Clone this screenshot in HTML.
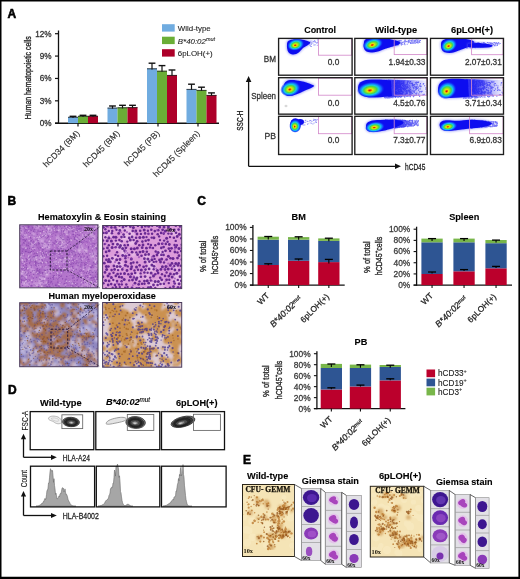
<!DOCTYPE html>
<html><head><meta charset="utf-8"><style>
html,body{margin:0;padding:0;background:#fff;}
body{width:520px;height:579px;overflow:hidden;}
svg{display:block;font-family:"Liberation Sans",sans-serif;will-change:transform;}
</style></head><body>
<svg width="520" height="579" viewBox="0 0 520 579">
<text x="7.5" y="17.6" font-size="12" font-weight="bold" font-style="normal" text-anchor="start" fill="#000" stroke="#000" stroke-width="0.55" >A</text>
<line x1="58.5" y1="30.5" x2="58.5" y2="123.9" stroke="#111" stroke-width="1.3"/>
<line x1="55" y1="123.2" x2="219" y2="123.2" stroke="#111" stroke-width="1.4"/>
<line x1="55" y1="123.2" x2="58.5" y2="123.2" stroke="#111" stroke-width="1.2"/>
<text x="51.6" y="126.10000000000001" font-size="8.2" font-weight="normal" font-style="normal" text-anchor="end" fill="#333" stroke="#333" stroke-width="0.28" >0%</text>
<line x1="55" y1="100.825" x2="58.5" y2="100.825" stroke="#111" stroke-width="1.2"/>
<text x="51.6" y="103.72500000000001" font-size="8.2" font-weight="normal" font-style="normal" text-anchor="end" fill="#333" stroke="#333" stroke-width="0.28" >3%</text>
<line x1="55" y1="78.45" x2="58.5" y2="78.45" stroke="#111" stroke-width="1.2"/>
<text x="51.6" y="81.35000000000001" font-size="8.2" font-weight="normal" font-style="normal" text-anchor="end" fill="#333" stroke="#333" stroke-width="0.28" >6%</text>
<line x1="55" y1="56.075" x2="58.5" y2="56.075" stroke="#111" stroke-width="1.2"/>
<text x="51.6" y="58.975" font-size="8.2" font-weight="normal" font-style="normal" text-anchor="end" fill="#333" stroke="#333" stroke-width="0.28" >9%</text>
<line x1="55" y1="33.7" x2="58.5" y2="33.7" stroke="#111" stroke-width="1.2"/>
<text x="51.6" y="36.6" font-size="8.2" font-weight="normal" font-style="normal" text-anchor="end" fill="#333" stroke="#333" stroke-width="0.28" >12%</text>
<text x="0" y="0" font-size="8.2" font-weight="normal" text-anchor="middle" fill="#222" stroke="#222" stroke-width="0.3" transform="translate(30.8,77.7) rotate(-90)" textLength="83" lengthAdjust="spacingAndGlyphs">Human hematopoietic cells</text>
<rect x="68" y="116.9" width="10" height="6.299999999999997" fill="#70ace0" stroke="none" stroke-width="1" />
<line x1="73" y1="116.3" x2="73" y2="117.9" stroke="#111" stroke-width="1.2"/>
<line x1="69.6" y1="116.3" x2="76.4" y2="116.3" stroke="#111" stroke-width="1.4"/>
<line x1="68" y1="117.30000000000001" x2="78" y2="117.30000000000001" stroke="#222" stroke-width="0.8"/>
<rect x="78" y="115.9" width="10" height="7.299999999999997" fill="#6aae36" stroke="none" stroke-width="1" />
<line x1="83" y1="115.3" x2="83" y2="116.9" stroke="#111" stroke-width="1.2"/>
<line x1="79.6" y1="115.3" x2="86.4" y2="115.3" stroke="#111" stroke-width="1.4"/>
<line x1="78" y1="116.30000000000001" x2="88" y2="116.30000000000001" stroke="#222" stroke-width="0.8"/>
<rect x="88" y="115.9" width="10" height="7.299999999999997" fill="#ad0029" stroke="none" stroke-width="1" />
<line x1="93" y1="115.3" x2="93" y2="116.9" stroke="#111" stroke-width="1.2"/>
<line x1="89.6" y1="115.3" x2="96.4" y2="115.3" stroke="#111" stroke-width="1.4"/>
<line x1="88" y1="116.30000000000001" x2="98" y2="116.30000000000001" stroke="#222" stroke-width="0.8"/>
<rect x="107.5" y="107.7" width="10" height="15.5" fill="#70ace0" stroke="none" stroke-width="1" />
<line x1="112.5" y1="106" x2="112.5" y2="108.7" stroke="#111" stroke-width="1.2"/>
<line x1="109.1" y1="106" x2="115.9" y2="106" stroke="#111" stroke-width="1.4"/>
<line x1="107.5" y1="108.10000000000001" x2="117.5" y2="108.10000000000001" stroke="#222" stroke-width="0.8"/>
<rect x="117.5" y="107.4" width="10" height="15.799999999999997" fill="#6aae36" stroke="none" stroke-width="1" />
<line x1="122.5" y1="105.3" x2="122.5" y2="108.4" stroke="#111" stroke-width="1.2"/>
<line x1="119.1" y1="105.3" x2="125.9" y2="105.3" stroke="#111" stroke-width="1.4"/>
<line x1="117.5" y1="107.80000000000001" x2="127.5" y2="107.80000000000001" stroke="#222" stroke-width="0.8"/>
<rect x="127.5" y="107.2" width="10" height="16.0" fill="#ad0029" stroke="none" stroke-width="1" />
<line x1="132.5" y1="105.3" x2="132.5" y2="108.2" stroke="#111" stroke-width="1.2"/>
<line x1="129.1" y1="105.3" x2="135.9" y2="105.3" stroke="#111" stroke-width="1.4"/>
<line x1="127.5" y1="107.60000000000001" x2="137.5" y2="107.60000000000001" stroke="#222" stroke-width="0.8"/>
<rect x="147" y="68.4" width="10" height="54.8" fill="#70ace0" stroke="none" stroke-width="1" />
<line x1="152" y1="63.2" x2="152" y2="69.4" stroke="#111" stroke-width="1.2"/>
<line x1="148.6" y1="63.2" x2="155.4" y2="63.2" stroke="#111" stroke-width="1.4"/>
<line x1="147" y1="68.80000000000001" x2="157" y2="68.80000000000001" stroke="#222" stroke-width="0.8"/>
<rect x="157" y="70.8" width="10" height="52.400000000000006" fill="#6aae36" stroke="none" stroke-width="1" />
<line x1="162" y1="65.6" x2="162" y2="71.8" stroke="#111" stroke-width="1.2"/>
<line x1="158.6" y1="65.6" x2="165.4" y2="65.6" stroke="#111" stroke-width="1.4"/>
<line x1="157" y1="71.2" x2="167" y2="71.2" stroke="#222" stroke-width="0.8"/>
<rect x="167" y="75" width="10" height="48.2" fill="#ad0029" stroke="none" stroke-width="1" />
<line x1="172" y1="70" x2="172" y2="76" stroke="#111" stroke-width="1.2"/>
<line x1="168.6" y1="70" x2="175.4" y2="70" stroke="#111" stroke-width="1.4"/>
<line x1="167" y1="75.4" x2="177" y2="75.4" stroke="#222" stroke-width="0.8"/>
<rect x="186.5" y="89" width="10" height="34.2" fill="#70ace0" stroke="none" stroke-width="1" />
<line x1="191.5" y1="84.2" x2="191.5" y2="90" stroke="#111" stroke-width="1.2"/>
<line x1="188.1" y1="84.2" x2="194.9" y2="84.2" stroke="#111" stroke-width="1.4"/>
<line x1="186.5" y1="89.4" x2="196.5" y2="89.4" stroke="#222" stroke-width="0.8"/>
<rect x="196.5" y="90" width="10" height="33.2" fill="#6aae36" stroke="none" stroke-width="1" />
<line x1="201.5" y1="87.2" x2="201.5" y2="91" stroke="#111" stroke-width="1.2"/>
<line x1="198.1" y1="87.2" x2="204.9" y2="87.2" stroke="#111" stroke-width="1.4"/>
<line x1="196.5" y1="90.4" x2="206.5" y2="90.4" stroke="#222" stroke-width="0.8"/>
<rect x="206.5" y="95" width="10" height="28.200000000000003" fill="#ad0029" stroke="none" stroke-width="1" />
<line x1="211.5" y1="92.9" x2="211.5" y2="96" stroke="#111" stroke-width="1.2"/>
<line x1="208.1" y1="92.9" x2="214.9" y2="92.9" stroke="#111" stroke-width="1.4"/>
<line x1="206.5" y1="95.4" x2="216.5" y2="95.4" stroke="#222" stroke-width="0.8"/>
<line x1="78" y1="123.2" x2="78" y2="126.4" stroke="#111" stroke-width="1.2"/>
<line x1="118" y1="123.2" x2="118" y2="126.4" stroke="#111" stroke-width="1.2"/>
<line x1="158" y1="123.2" x2="158" y2="126.4" stroke="#111" stroke-width="1.2"/>
<line x1="198" y1="123.2" x2="198" y2="126.4" stroke="#111" stroke-width="1.2"/>
<text x="0" y="0" font-size="8.6" text-anchor="end" fill="#2a2a2a" stroke="#2a2a2a" stroke-width="0.12" transform="translate(80.2,134.0) rotate(-45)">hCD34 (BM)</text>
<text x="0" y="0" font-size="8.6" text-anchor="end" fill="#2a2a2a" stroke="#2a2a2a" stroke-width="0.12" transform="translate(120.2,134.0) rotate(-45)">hCD45 (BM)</text>
<text x="0" y="0" font-size="8.6" text-anchor="end" fill="#2a2a2a" stroke="#2a2a2a" stroke-width="0.12" transform="translate(160.2,134.0) rotate(-45)">hCD45 (PB)</text>
<text x="0" y="0" font-size="8.6" text-anchor="end" fill="#2a2a2a" stroke="#2a2a2a" stroke-width="0.12" transform="translate(200.2,134.0) rotate(-45)">hCD45 (Spleen)</text>
<rect x="162" y="24.2" width="12.7" height="7.4" fill="#70ace0" stroke="none" stroke-width="1" />
<text x="177.8" y="31.2" font-size="7.9" font-weight="normal" font-style="normal" text-anchor="start" fill="#222" stroke="#222" stroke-width="0.1" >Wild-type</text>
<rect x="162" y="36.7" width="12.7" height="7.4" fill="#6aae36" stroke="none" stroke-width="1" />
<text x="177.8" y="43.7" font-size="7.9" font-weight="normal" font-style="normal" text-anchor="start" fill="#222" stroke="#222" stroke-width="0.1" ><tspan font-style="italic">B*40:02</tspan><tspan font-style="italic" font-size="5.5" dy="-3">mut</tspan></text>
<rect x="162" y="49.2" width="12.7" height="7.4" fill="#ad0029" stroke="none" stroke-width="1" />
<text x="177.8" y="56.2" font-size="7.9" font-weight="normal" font-style="normal" text-anchor="start" fill="#222" stroke="#222" stroke-width="0.1" >6pLOH(+)</text>
<text x="320.1" y="32.5" font-size="9.2" font-weight="bold" font-style="normal" text-anchor="middle" fill="#000" stroke="#000" stroke-width="0.12" textLength="31.8" lengthAdjust="spacingAndGlyphs" >Control</text>
<text x="396.2" y="32.5" font-size="9.2" font-weight="bold" font-style="normal" text-anchor="middle" fill="#000" stroke="#000" stroke-width="0.12" textLength="41.8" lengthAdjust="spacingAndGlyphs" >Wild-type</text>
<text x="472" y="32.5" font-size="9.2" font-weight="bold" font-style="normal" text-anchor="middle" fill="#000" stroke="#000" stroke-width="0.12" textLength="42" lengthAdjust="spacingAndGlyphs" >6pLOH(+)</text>
<text x="276" y="62.4" font-size="8.5" font-weight="normal" font-style="normal" text-anchor="end" fill="#333" stroke="#333" stroke-width="0.28" textLength="12.2" lengthAdjust="spacingAndGlyphs" >BM</text>
<text x="276" y="98.5" font-size="8.5" font-weight="normal" font-style="normal" text-anchor="end" fill="#333" stroke="#333" stroke-width="0.28" textLength="24.7" lengthAdjust="spacingAndGlyphs" >Spleen</text>
<text x="276" y="138.5" font-size="8.5" font-weight="normal" font-style="normal" text-anchor="end" fill="#333" stroke="#333" stroke-width="0.28" textLength="11.5" lengthAdjust="spacingAndGlyphs" >PB</text>
<defs><filter id="bl1" x="-20%" y="-20%" width="140%" height="140%"><feGaussianBlur stdDeviation="0.6"/></filter><filter id="bl2" x="-30%" y="-30%" width="160%" height="160%"><feGaussianBlur stdDeviation="1.0"/></filter><radialGradient id="dg" fx="0.45" fy="0.55"><stop offset="0" stop-color="#c81000"/><stop offset="0.08" stop-color="#f04000"/><stop offset="0.2" stop-color="#e8e800"/><stop offset="0.45" stop-color="#48d848"/><stop offset="0.6" stop-color="#18c8e8"/><stop offset="0.78" stop-color="#1060ff"/><stop offset="1" stop-color="#1010f0" stop-opacity="0"/></radialGradient><linearGradient id="fade"><stop offset="0" stop-color="#1414f0" stop-opacity="0.95"/><stop offset="0.35" stop-color="#1a1af0" stop-opacity="0.75"/><stop offset="0.7" stop-color="#3030f0" stop-opacity="0.35"/><stop offset="1" stop-color="#6060f0" stop-opacity="0.08"/></linearGradient>
<clipPath id="fc00"><rect x="279.20000000000005" y="39.0" width="72.3" height="35.599999999999994"/></clipPath>
<clipPath id="fc01"><rect x="355.40000000000003" y="39.0" width="71.2" height="35.599999999999994"/></clipPath>
<clipPath id="fc02"><rect x="431.1" y="39.0" width="71.8" height="35.599999999999994"/></clipPath>
<clipPath id="fc10"><rect x="279.20000000000005" y="78.3" width="72.3" height="35.25"/></clipPath>
<clipPath id="fc11"><rect x="355.40000000000003" y="78.3" width="71.2" height="35.25"/></clipPath>
<clipPath id="fc12"><rect x="431.1" y="78.3" width="71.8" height="35.25"/></clipPath>
<clipPath id="fc20"><rect x="279.20000000000005" y="116.89999999999999" width="72.3" height="37.0"/></clipPath>
<clipPath id="fc21"><rect x="355.40000000000003" y="116.89999999999999" width="71.2" height="37.0"/></clipPath>
<clipPath id="fc22"><rect x="431.1" y="116.89999999999999" width="71.8" height="37.0"/></clipPath>
</defs>
<g clip-path="url(#fc00)"><path d="M307.9,42.2h1v1h-1zM309.2,43.1h1v1h-1zM309.6,44.9h1v1h-1zM310.1,45.7h1v1h-1zM308.3,43.1h1v1h-1zM307.1,41.4h1v1h-1zM310.9,46.0h1v1h-1zM313.3,44.6h1v1h-1zM302.1,44.6h1v1h-1zM314.9,41.3h1v1h-1zM300.9,45.4h1v1h-1zM310.6,40.4h1v1h-1zM303.0,42.2h1v1h-1zM296.2,46.7h1v1h-1zM304.9,44.5h1v1h-1zM301.2,42.0h1v1h-1zM314.4,44.6h1v1h-1zM311.0,43.7h1v1h-1zM314.1,40.0h1v1h-1zM300.2,44.4h1v1h-1zM299.0,46.8h1v1h-1zM317.0,39.6h1v1h-1zM300.6,42.8h1v1h-1zM297.7,42.5h1v1h-1zM309.4,43.7h1v1h-1zM299.5,43.8h1v1h-1zM311.4,42.5h1v1h-1zM300.7,43.4h1v1h-1zM298.5,45.1h1v1h-1zM304.0,44.1h1v1h-1zM303.6,45.8h1v1h-1zM312.4,40.7h1v1h-1zM314.3,40.6h1v1h-1zM300.0,44.2h1v1h-1zM303.4,43.4h1v1h-1zM309.8,41.4h1v1h-1zM300.7,45.5h1v1h-1zM316.8,44.8h1v1h-1zM316.9,42.2h1v1h-1zM300.8,45.2h1v1h-1zM314.6,44.3h1v1h-1zM310.6,42.3h1v1h-1zM314.4,41.5h1v1h-1zM313.2,41.1h1v1h-1zM299.0,44.2h1v1h-1zM302.2,45.1h1v1h-1zM303.5,44.5h1v1h-1zM301.3,42.0h1v1h-1zM316.3,42.7h1v1h-1zM302.3,45.4h1v1h-1zM317.3,41.4h1v1h-1zM315.5,42.0h1v1h-1zM312.5,42.4h1v1h-1zM301.0,46.7h1v1h-1z" fill="#4040f0" opacity="0.55"/><path d="M287,44 C287,40 292,39.2 297,39.3 C302,39.4 307,40.5 310,42 C311,44 306,46 303,48 C300,51 298,54.5 293,54.5 C289,54.5 286.5,51 287,44 Z" fill="#5050f4" stroke="#6a6af8" stroke-width="1.6" opacity="0.55" filter="url(#bl2)"/><path d="M287,44 C287,40 292,39.2 297,39.3 C302,39.4 307,40.5 310,42 C311,44 306,46 303,48 C300,51 298,54.5 293,54.5 C289,54.5 286.5,51 287,44 Z" fill="#1010f0" filter="url(#bl1)"/><ellipse cx="295.8" cy="44.6" rx="8.8" ry="6" fill="url(#dg)" transform="rotate(-15 295.8 44.6)"/></g>
<g clip-path="url(#fc01)"><path d="M405.1,41.3h1v1h-1zM415.5,39.5h1v1h-1zM386.0,44.4h1v1h-1zM392.9,43.7h1v1h-1zM388.6,46.3h1v1h-1zM415.5,42.3h1v1h-1zM396.2,42.1h1v1h-1zM400.1,42.6h1v1h-1zM403.8,41.7h1v1h-1zM386.8,44.6h1v1h-1zM399.5,41.8h1v1h-1zM390.8,44.3h1v1h-1zM385.4,45.9h1v1h-1zM386.4,46.5h1v1h-1zM410.4,41.7h1v1h-1zM400.6,43.6h1v1h-1zM388.4,43.1h1v1h-1zM411.4,39.9h1v1h-1zM410.0,43.0h1v1h-1zM415.4,41.2h1v1h-1zM394.8,41.4h1v1h-1zM399.8,40.0h1v1h-1zM396.7,40.6h1v1h-1zM404.7,41.4h1v1h-1zM399.9,42.4h1v1h-1zM386.6,43.0h1v1h-1zM390.2,42.9h1v1h-1zM388.0,46.5h1v1h-1zM411.2,43.1h1v1h-1zM413.4,42.8h1v1h-1zM409.9,42.1h1v1h-1zM416.7,39.2h1v1h-1zM399.4,41.2h1v1h-1zM389.9,44.4h1v1h-1zM401.3,42.8h1v1h-1zM390.5,41.1h1v1h-1zM411.5,39.7h1v1h-1zM411.9,39.4h1v1h-1zM404.2,43.8h1v1h-1zM396.4,44.1h1v1h-1zM387.4,45.4h1v1h-1zM391.5,45.5h1v1h-1zM408.8,39.6h1v1h-1zM389.5,44.8h1v1h-1zM417.9,41.5h1v1h-1zM419.1,42.0h1v1h-1zM395.0,40.3h1v1h-1zM397.3,42.0h1v1h-1zM392.9,40.1h1v1h-1zM393.0,43.2h1v1h-1zM411.8,41.5h1v1h-1zM388.0,41.4h1v1h-1zM387.6,41.6h1v1h-1zM398.4,40.5h1v1h-1zM412.5,41.6h1v1h-1zM402.3,43.9h1v1h-1zM411.4,40.0h1v1h-1zM390.2,45.5h1v1h-1zM397.6,44.6h1v1h-1zM401.2,42.5h1v1h-1zM419.4,39.9h1v1h-1zM395.7,41.0h1v1h-1zM388.7,42.0h1v1h-1zM419.4,42.0h1v1h-1zM408.6,41.5h1v1h-1zM408.6,41.1h1v1h-1zM408.5,41.9h1v1h-1zM388.5,45.3h1v1h-1zM393.3,43.7h1v1h-1zM412.8,39.7h1v1h-1zM387.8,42.0h1v1h-1zM388.1,45.1h1v1h-1zM400.9,43.2h1v1h-1zM416.7,40.5h1v1h-1zM409.3,40.5h1v1h-1zM406.7,43.7h1v1h-1zM404.1,43.0h1v1h-1zM386.2,40.5h1v1h-1zM401.8,41.7h1v1h-1zM387.7,42.0h1v1h-1zM396.5,42.8h1v1h-1zM404.2,40.2h1v1h-1zM419.3,41.8h1v1h-1zM417.5,42.7h1v1h-1zM398.0,43.4h1v1h-1zM387.0,46.3h1v1h-1zM385.5,42.9h1v1h-1zM414.8,42.8h1v1h-1zM394.5,43.5h1v1h-1zM406.5,41.2h1v1h-1zM416.3,39.2h1v1h-1zM388.9,44.0h1v1h-1zM392.4,44.8h1v1h-1zM398.8,41.1h1v1h-1zM408.0,40.1h1v1h-1zM413.5,41.4h1v1h-1zM401.0,42.6h1v1h-1zM397.7,43.8h1v1h-1zM403.0,41.6h1v1h-1zM387.4,44.0h1v1h-1zM391.4,44.9h1v1h-1zM388.3,45.4h1v1h-1zM394.0,42.5h1v1h-1zM386.5,46.1h1v1h-1zM407.8,42.3h1v1h-1zM398.5,40.1h1v1h-1zM403.9,42.9h1v1h-1zM414.5,39.7h1v1h-1zM389.5,43.4h1v1h-1zM397.9,40.4h1v1h-1zM416.6,39.4h1v1h-1zM414.2,39.9h1v1h-1zM416.7,41.0h1v1h-1zM396.1,43.8h1v1h-1zM389.1,46.3h1v1h-1zM402.2,42.3h1v1h-1zM411.3,40.9h1v1h-1zM418.0,41.5h1v1h-1zM387.6,41.6h1v1h-1zM406.8,40.8h1v1h-1zM390.2,41.3h1v1h-1zM413.9,41.1h1v1h-1zM415.0,40.3h1v1h-1zM411.5,41.8h1v1h-1zM408.0,40.9h1v1h-1zM404.1,43.0h1v1h-1zM388.8,44.5h1v1h-1zM387.1,42.0h1v1h-1zM412.3,42.7h1v1h-1zM393.0,43.9h1v1h-1zM410.5,39.9h1v1h-1zM413.8,42.2h1v1h-1zM400.9,40.3h1v1h-1zM390.2,41.9h1v1h-1zM401.0,44.6h1v1h-1zM418.4,41.2h1v1h-1zM391.4,40.6h1v1h-1zM389.0,43.3h1v1h-1zM386.4,41.8h1v1h-1zM394.4,41.9h1v1h-1zM417.4,41.7h1v1h-1zM410.0,42.3h1v1h-1zM416.3,42.0h1v1h-1zM404.5,44.3h1v1h-1zM414.0,40.2h1v1h-1zM390.4,43.2h1v1h-1zM397.2,42.7h1v1h-1zM420.0,39.9h1v1h-1zM404.1,41.2h1v1h-1zM418.9,40.7h1v1h-1zM414.4,40.5h1v1h-1zM397.1,44.4h1v1h-1zM400.5,42.3h1v1h-1zM399.1,42.7h1v1h-1zM387.6,44.2h1v1h-1zM388.1,40.1h1v1h-1zM387.7,41.8h1v1h-1zM385.1,40.5h1v1h-1zM404.5,39.5h1v1h-1zM418.2,39.4h1v1h-1zM395.0,43.4h1v1h-1zM390.9,42.3h1v1h-1zM405.6,41.1h1v1h-1zM395.2,40.9h1v1h-1zM416.8,41.9h1v1h-1zM417.1,40.2h1v1h-1zM405.1,39.7h1v1h-1zM399.4,40.1h1v1h-1zM387.4,43.4h1v1h-1zM392.1,45.5h1v1h-1zM391.1,42.2h1v1h-1zM396.9,40.7h1v1h-1z" fill="#2a2af0" opacity="0.6"/><path d="M364,42 C364,38 370,37 378,37.5 C386,38 392,39.5 396,40.5 C400,41.5 402,43 398,45 C392,47 386,48 382,50 C378,52 372,53 368,52 C364,51 363,47 364,42 Z" fill="#5050f4" stroke="#6a6af8" stroke-width="1.6" opacity="0.55" filter="url(#bl2)"/><path d="M364,42 C364,38 370,37 378,37.5 C386,38 392,39.5 396,40.5 C400,41.5 402,43 398,45 C392,47 386,48 382,50 C378,52 372,53 368,52 C364,51 363,47 364,42 Z" fill="#1010f0" filter="url(#bl1)"/><ellipse cx="373" cy="44.2" rx="10.5" ry="6.3" fill="url(#dg)" transform="rotate(-15 373 44.2)"/></g>
<g clip-path="url(#fc02)"><path d="M491.6,45.1h1v1h-1zM478.5,45.8h1v1h-1zM469.1,42.9h1v1h-1zM480.2,46.8h1v1h-1zM470.2,42.1h1v1h-1zM490.0,43.1h1v1h-1zM479.3,45.1h1v1h-1zM469.2,43.1h1v1h-1zM473.2,43.0h1v1h-1zM498.6,43.4h1v1h-1zM490.9,45.3h1v1h-1zM476.5,42.2h1v1h-1zM468.2,45.8h1v1h-1zM479.8,42.9h1v1h-1zM480.6,45.7h1v1h-1zM480.6,44.0h1v1h-1zM466.7,47.6h1v1h-1zM479.2,43.3h1v1h-1zM484.2,45.7h1v1h-1zM483.3,44.8h1v1h-1zM473.1,44.7h1v1h-1zM491.9,42.8h1v1h-1zM474.2,46.7h1v1h-1zM482.8,43.1h1v1h-1zM470.6,44.8h1v1h-1zM487.2,41.9h1v1h-1zM472.1,42.4h1v1h-1zM484.1,45.2h1v1h-1zM466.5,41.9h1v1h-1zM496.2,43.1h1v1h-1zM486.2,45.4h1v1h-1zM472.1,44.7h1v1h-1zM478.4,45.5h1v1h-1zM492.1,43.0h1v1h-1zM468.6,43.0h1v1h-1zM494.3,44.8h1v1h-1zM491.2,42.5h1v1h-1zM486.9,42.1h1v1h-1zM470.9,46.2h1v1h-1zM468.6,42.8h1v1h-1zM493.6,42.0h1v1h-1zM487.5,45.0h1v1h-1zM482.4,46.3h1v1h-1zM494.0,45.3h1v1h-1zM468.0,43.0h1v1h-1zM482.6,44.6h1v1h-1zM472.0,47.3h1v1h-1zM472.3,43.9h1v1h-1zM488.2,44.1h1v1h-1zM497.5,43.1h1v1h-1zM475.4,46.0h1v1h-1zM469.1,46.5h1v1h-1zM484.9,43.0h1v1h-1zM470.7,45.8h1v1h-1zM480.4,46.5h1v1h-1zM482.9,42.0h1v1h-1zM484.6,46.1h1v1h-1zM497.5,42.4h1v1h-1zM472.9,45.1h1v1h-1zM470.4,47.5h1v1h-1zM479.5,43.1h1v1h-1zM488.6,42.6h1v1h-1zM477.4,46.6h1v1h-1zM474.3,43.6h1v1h-1zM479.3,46.0h1v1h-1zM483.8,43.6h1v1h-1zM490.9,42.6h1v1h-1zM475.0,42.6h1v1h-1zM489.6,42.0h1v1h-1zM498.2,41.9h1v1h-1zM470.0,42.0h1v1h-1zM473.7,46.5h1v1h-1zM487.6,45.9h1v1h-1zM494.7,43.1h1v1h-1zM496.6,44.4h1v1h-1zM477.8,42.1h1v1h-1zM466.1,47.5h1v1h-1zM494.0,42.0h1v1h-1zM483.9,45.4h1v1h-1zM493.3,42.5h1v1h-1zM474.5,46.8h1v1h-1zM469.7,44.5h1v1h-1zM476.1,45.9h1v1h-1zM488.2,45.9h1v1h-1zM475.6,43.3h1v1h-1zM474.5,46.0h1v1h-1zM488.8,43.8h1v1h-1zM497.5,42.6h1v1h-1zM486.4,45.6h1v1h-1zM469.4,42.2h1v1h-1zM466.2,41.9h1v1h-1zM472.1,43.5h1v1h-1zM490.6,45.5h1v1h-1zM479.7,46.1h1v1h-1zM495.8,41.9h1v1h-1zM476.9,42.8h1v1h-1zM497.1,43.7h1v1h-1zM476.5,44.1h1v1h-1zM473.8,45.7h1v1h-1zM481.0,44.1h1v1h-1zM499.7,42.9h1v1h-1zM483.7,43.0h1v1h-1zM494.7,42.4h1v1h-1zM482.9,41.9h1v1h-1zM490.0,44.8h1v1h-1zM467.0,45.3h1v1h-1zM483.7,42.0h1v1h-1zM470.3,42.3h1v1h-1zM474.5,45.5h1v1h-1zM491.8,42.8h1v1h-1zM488.5,45.2h1v1h-1zM474.8,47.3h1v1h-1zM489.6,42.1h1v1h-1zM467.9,46.0h1v1h-1zM493.5,44.2h1v1h-1zM467.2,44.4h1v1h-1zM486.4,43.9h1v1h-1zM471.3,41.8h1v1h-1zM470.2,43.8h1v1h-1zM477.5,42.2h1v1h-1zM491.1,43.6h1v1h-1zM492.9,44.0h1v1h-1zM470.1,44.7h1v1h-1zM470.8,45.0h1v1h-1zM486.8,43.9h1v1h-1zM477.5,45.2h1v1h-1zM481.4,42.4h1v1h-1zM478.6,42.3h1v1h-1zM496.9,45.0h1v1h-1zM495.2,43.7h1v1h-1zM477.9,44.6h1v1h-1zM483.8,42.5h1v1h-1zM472.2,46.3h1v1h-1zM491.5,44.1h1v1h-1zM495.0,43.2h1v1h-1zM484.2,44.5h1v1h-1zM483.2,44.9h1v1h-1zM472.4,46.7h1v1h-1zM477.6,44.3h1v1h-1zM471.4,46.5h1v1h-1zM490.5,44.7h1v1h-1zM477.3,42.8h1v1h-1zM490.3,43.1h1v1h-1zM477.5,43.1h1v1h-1zM467.1,44.2h1v1h-1zM495.4,45.2h1v1h-1zM488.2,42.5h1v1h-1zM473.6,42.4h1v1h-1zM496.9,43.0h1v1h-1zM483.7,43.4h1v1h-1zM477.7,42.5h1v1h-1zM493.8,45.0h1v1h-1z" fill="#2a2af0" opacity="0.6"/><path d="M441,44 C441,39 447,38 455,38 C462,38 468,39 472,40.5 C476,42 475,44 471,46 C466,48 460,50 455,52 C450,54 443,53 442,50 C441,48 441,46 441,44 Z" fill="#5050f4" stroke="#6a6af8" stroke-width="1.6" opacity="0.55" filter="url(#bl2)"/><path d="M441,44 C441,39 447,38 455,38 C462,38 468,39 472,40.5 C476,42 475,44 471,46 C466,48 460,50 455,52 C450,54 443,53 442,50 C441,48 441,46 441,44 Z" fill="#1010f0" filter="url(#bl1)"/><path d="M468,44 C474,42.5 482,43 490,44.5 C494,45.5 493,47 488,47.5 C480,48 472,48 468,47 Z" fill="#5050f4" stroke="#6a6af8" stroke-width="1.6" opacity="0.55" filter="url(#bl2)"/><path d="M468,44 C474,42.5 482,43 490,44.5 C494,45.5 493,47 488,47.5 C480,48 472,48 468,47 Z" fill="#1010f0" filter="url(#bl1)"/><ellipse cx="449" cy="45.3" rx="8.5" ry="6.5" fill="url(#dg)" transform="rotate(-25 449 45.3)"/></g>
<g clip-path="url(#fc10)"><path d="M284,86 C284,81 288,79.5 294,80 C300,80.5 308,82.5 314,85.5 C315,86.5 310,88.5 304,91 C298,94 292,96.5 288,96 C285,95.5 284,91 284,86 Z" fill="#5050f4" stroke="#6a6af8" stroke-width="1.6" opacity="0.55" filter="url(#bl2)"/><path d="M284,86 C284,81 288,79.5 294,80 C300,80.5 308,82.5 314,85.5 C315,86.5 310,88.5 304,91 C298,94 292,96.5 288,96 C285,95.5 284,91 284,86 Z" fill="#1010f0" filter="url(#bl1)"/><ellipse cx="290.5" cy="88.6" rx="10.5" ry="7.6" fill="url(#dg)" transform="rotate(-15 290.5 88.6)"/><ellipse cx="286.00" cy="106.00" rx="1.50" ry="1.20" fill="#d8d8d8" /></g>
<g clip-path="url(#fc11)"><path d="M388,79.5 L427,80.5 L427,95.5 L388,97 Z" fill="url(#fade)" filter="url(#bl1)"/><path d="M391.8,80.6h1.1v1.1h-1.1zM391.1,80.9h1.1v1.1h-1.1zM407.7,89.5h1.1v1.1h-1.1zM384.6,81.1h1.1v1.1h-1.1zM387.7,81.1h1.1v1.1h-1.1zM416.4,81.5h1.1v1.1h-1.1zM385.3,87.7h1.1v1.1h-1.1zM402.2,94.1h1.1v1.1h-1.1zM392.1,81.5h1.1v1.1h-1.1zM406.7,85.7h1.1v1.1h-1.1zM393.1,95.2h1.1v1.1h-1.1zM384.9,95.5h1.1v1.1h-1.1zM391.9,84.3h1.1v1.1h-1.1zM400.8,90.2h1.1v1.1h-1.1zM386.0,89.8h1.1v1.1h-1.1zM392.5,81.2h1.1v1.1h-1.1zM414.3,83.9h1.1v1.1h-1.1zM394.8,95.4h1.1v1.1h-1.1zM392.3,97.1h1.1v1.1h-1.1zM394.2,82.1h1.1v1.1h-1.1zM384.1,96.1h1.1v1.1h-1.1zM407.9,84.4h1.1v1.1h-1.1zM397.0,80.9h1.1v1.1h-1.1zM384.8,85.4h1.1v1.1h-1.1zM415.5,88.6h1.1v1.1h-1.1zM394.4,90.3h1.1v1.1h-1.1zM400.7,83.1h1.1v1.1h-1.1zM384.4,96.7h1.1v1.1h-1.1zM404.9,88.9h1.1v1.1h-1.1zM391.9,94.0h1.1v1.1h-1.1zM385.9,79.6h1.1v1.1h-1.1zM420.8,91.4h1.1v1.1h-1.1zM394.2,94.0h1.1v1.1h-1.1zM399.1,94.8h1.1v1.1h-1.1zM385.5,91.2h1.1v1.1h-1.1zM388.8,83.9h1.1v1.1h-1.1zM410.7,91.5h1.1v1.1h-1.1zM389.0,82.2h1.1v1.1h-1.1zM392.1,94.9h1.1v1.1h-1.1zM408.5,81.3h1.1v1.1h-1.1zM392.3,84.1h1.1v1.1h-1.1zM392.3,84.5h1.1v1.1h-1.1zM415.1,86.6h1.1v1.1h-1.1zM407.1,95.0h1.1v1.1h-1.1zM385.8,83.8h1.1v1.1h-1.1zM415.9,94.5h1.1v1.1h-1.1zM392.1,86.9h1.1v1.1h-1.1zM385.2,90.1h1.1v1.1h-1.1zM400.8,81.5h1.1v1.1h-1.1zM412.1,85.1h1.1v1.1h-1.1zM384.8,90.5h1.1v1.1h-1.1zM385.1,92.4h1.1v1.1h-1.1zM404.8,94.7h1.1v1.1h-1.1zM403.8,94.4h1.1v1.1h-1.1zM390.7,81.0h1.1v1.1h-1.1zM396.8,87.6h1.1v1.1h-1.1zM395.4,88.9h1.1v1.1h-1.1zM391.0,95.0h1.1v1.1h-1.1zM389.1,89.5h1.1v1.1h-1.1zM395.5,95.7h1.1v1.1h-1.1zM384.3,90.5h1.1v1.1h-1.1zM398.9,96.1h1.1v1.1h-1.1zM398.6,83.6h1.1v1.1h-1.1zM389.5,80.5h1.1v1.1h-1.1zM386.0,91.7h1.1v1.1h-1.1zM395.9,83.1h1.1v1.1h-1.1zM397.1,87.0h1.1v1.1h-1.1zM387.8,91.7h1.1v1.1h-1.1zM386.0,84.7h1.1v1.1h-1.1zM394.0,84.2h1.1v1.1h-1.1zM391.8,93.4h1.1v1.1h-1.1zM403.4,94.9h1.1v1.1h-1.1zM405.2,85.5h1.1v1.1h-1.1zM404.2,85.1h1.1v1.1h-1.1zM415.7,81.8h1.1v1.1h-1.1zM406.3,91.6h1.1v1.1h-1.1zM388.7,92.7h1.1v1.1h-1.1zM386.7,92.3h1.1v1.1h-1.1zM386.3,92.6h1.1v1.1h-1.1zM387.3,93.3h1.1v1.1h-1.1zM398.7,92.3h1.1v1.1h-1.1zM398.9,82.4h1.1v1.1h-1.1zM388.1,88.2h1.1v1.1h-1.1zM397.0,91.8h1.1v1.1h-1.1zM406.6,85.7h1.1v1.1h-1.1zM395.8,87.4h1.1v1.1h-1.1zM403.5,82.3h1.1v1.1h-1.1zM399.8,81.7h1.1v1.1h-1.1zM399.3,93.6h1.1v1.1h-1.1zM385.3,84.0h1.1v1.1h-1.1zM390.9,83.0h1.1v1.1h-1.1zM388.6,84.8h1.1v1.1h-1.1zM422.5,94.3h1.1v1.1h-1.1zM405.7,90.1h1.1v1.1h-1.1zM408.6,91.5h1.1v1.1h-1.1zM390.0,89.5h1.1v1.1h-1.1zM389.1,93.9h1.1v1.1h-1.1zM384.1,84.3h1.1v1.1h-1.1zM393.0,87.1h1.1v1.1h-1.1zM397.4,80.2h1.1v1.1h-1.1zM399.9,96.6h1.1v1.1h-1.1zM412.0,84.1h1.1v1.1h-1.1zM394.2,85.1h1.1v1.1h-1.1zM395.1,97.0h1.1v1.1h-1.1zM390.4,89.2h1.1v1.1h-1.1zM408.8,89.6h1.1v1.1h-1.1zM401.0,83.7h1.1v1.1h-1.1zM388.4,96.8h1.1v1.1h-1.1zM384.0,91.6h1.1v1.1h-1.1zM396.7,88.1h1.1v1.1h-1.1zM388.5,95.8h1.1v1.1h-1.1zM387.6,97.0h1.1v1.1h-1.1zM413.6,90.2h1.1v1.1h-1.1zM402.2,92.3h1.1v1.1h-1.1zM397.6,96.8h1.1v1.1h-1.1zM386.5,93.9h1.1v1.1h-1.1zM389.8,90.2h1.1v1.1h-1.1zM389.3,94.0h1.1v1.1h-1.1zM388.9,88.3h1.1v1.1h-1.1zM399.9,84.9h1.1v1.1h-1.1zM384.7,91.0h1.1v1.1h-1.1zM388.7,95.4h1.1v1.1h-1.1zM408.9,94.9h1.1v1.1h-1.1zM388.7,91.6h1.1v1.1h-1.1zM404.2,96.6h1.1v1.1h-1.1zM387.3,89.3h1.1v1.1h-1.1zM386.3,85.9h1.1v1.1h-1.1zM391.7,96.0h1.1v1.1h-1.1zM391.6,83.2h1.1v1.1h-1.1zM410.6,92.2h1.1v1.1h-1.1zM403.5,88.3h1.1v1.1h-1.1zM393.3,91.9h1.1v1.1h-1.1zM398.9,80.7h1.1v1.1h-1.1zM404.6,84.8h1.1v1.1h-1.1zM413.0,88.2h1.1v1.1h-1.1zM393.7,93.8h1.1v1.1h-1.1zM388.3,90.5h1.1v1.1h-1.1zM411.5,90.2h1.1v1.1h-1.1zM385.1,83.3h1.1v1.1h-1.1zM412.5,86.4h1.1v1.1h-1.1zM384.0,96.8h1.1v1.1h-1.1zM389.7,86.6h1.1v1.1h-1.1zM391.1,85.7h1.1v1.1h-1.1zM406.9,92.5h1.1v1.1h-1.1zM402.0,82.5h1.1v1.1h-1.1zM401.5,95.5h1.1v1.1h-1.1zM422.6,94.3h1.1v1.1h-1.1zM387.1,82.6h1.1v1.1h-1.1zM384.6,80.0h1.1v1.1h-1.1zM391.5,93.5h1.1v1.1h-1.1zM400.3,87.9h1.1v1.1h-1.1zM395.1,82.8h1.1v1.1h-1.1zM396.1,85.1h1.1v1.1h-1.1zM392.7,80.3h1.1v1.1h-1.1zM404.0,87.4h1.1v1.1h-1.1zM390.4,95.2h1.1v1.1h-1.1zM409.6,91.9h1.1v1.1h-1.1zM404.5,84.0h1.1v1.1h-1.1zM386.0,81.7h1.1v1.1h-1.1zM387.5,94.4h1.1v1.1h-1.1zM399.0,81.8h1.1v1.1h-1.1zM396.6,81.0h1.1v1.1h-1.1zM406.2,86.8h1.1v1.1h-1.1zM394.6,92.8h1.1v1.1h-1.1zM389.2,83.1h1.1v1.1h-1.1zM389.0,83.6h1.1v1.1h-1.1zM386.1,83.1h1.1v1.1h-1.1zM403.1,81.1h1.1v1.1h-1.1zM386.5,93.6h1.1v1.1h-1.1zM409.0,85.5h1.1v1.1h-1.1zM392.3,81.5h1.1v1.1h-1.1zM392.4,88.4h1.1v1.1h-1.1zM404.5,84.7h1.1v1.1h-1.1zM397.6,89.2h1.1v1.1h-1.1zM402.8,86.3h1.1v1.1h-1.1zM397.8,95.4h1.1v1.1h-1.1zM394.4,88.8h1.1v1.1h-1.1zM415.4,93.1h1.1v1.1h-1.1zM419.9,83.0h1.1v1.1h-1.1zM409.4,91.8h1.1v1.1h-1.1zM412.9,96.1h1.1v1.1h-1.1zM386.2,82.5h1.1v1.1h-1.1zM416.7,88.0h1.1v1.1h-1.1zM390.0,87.5h1.1v1.1h-1.1zM418.4,94.8h1.1v1.1h-1.1zM398.6,82.3h1.1v1.1h-1.1zM387.5,80.5h1.1v1.1h-1.1zM392.8,80.3h1.1v1.1h-1.1zM393.3,94.8h1.1v1.1h-1.1zM426.8,88.3h1.1v1.1h-1.1zM399.9,94.6h1.1v1.1h-1.1zM394.7,80.4h1.1v1.1h-1.1zM399.6,86.0h1.1v1.1h-1.1zM402.9,88.7h1.1v1.1h-1.1zM388.9,85.9h1.1v1.1h-1.1zM406.6,93.1h1.1v1.1h-1.1zM391.7,92.0h1.1v1.1h-1.1zM402.7,89.2h1.1v1.1h-1.1zM420.7,85.7h1.1v1.1h-1.1zM390.7,84.9h1.1v1.1h-1.1zM405.8,95.7h1.1v1.1h-1.1zM390.2,84.1h1.1v1.1h-1.1zM387.0,80.1h1.1v1.1h-1.1zM390.9,95.3h1.1v1.1h-1.1zM392.8,91.0h1.1v1.1h-1.1zM405.8,85.4h1.1v1.1h-1.1zM393.1,92.9h1.1v1.1h-1.1zM414.1,85.5h1.1v1.1h-1.1zM410.0,92.2h1.1v1.1h-1.1zM388.7,86.0h1.1v1.1h-1.1zM391.1,87.8h1.1v1.1h-1.1zM388.9,80.1h1.1v1.1h-1.1zM414.8,82.2h1.1v1.1h-1.1zM388.4,87.3h1.1v1.1h-1.1zM392.0,82.4h1.1v1.1h-1.1zM385.9,85.3h1.1v1.1h-1.1zM396.9,81.3h1.1v1.1h-1.1zM396.9,83.5h1.1v1.1h-1.1zM408.4,94.8h1.1v1.1h-1.1zM391.6,82.2h1.1v1.1h-1.1zM389.9,86.1h1.1v1.1h-1.1zM411.9,82.9h1.1v1.1h-1.1zM396.1,94.0h1.1v1.1h-1.1zM396.9,96.4h1.1v1.1h-1.1zM386.0,96.5h1.1v1.1h-1.1zM385.9,97.2h1.1v1.1h-1.1zM407.7,87.1h1.1v1.1h-1.1zM385.8,83.4h1.1v1.1h-1.1zM391.0,96.9h1.1v1.1h-1.1zM404.2,90.2h1.1v1.1h-1.1zM392.8,80.4h1.1v1.1h-1.1zM403.0,88.1h1.1v1.1h-1.1zM415.9,88.0h1.1v1.1h-1.1zM388.7,80.2h1.1v1.1h-1.1zM419.1,95.8h1.1v1.1h-1.1zM394.4,83.7h1.1v1.1h-1.1zM397.7,83.0h1.1v1.1h-1.1zM387.5,90.2h1.1v1.1h-1.1zM392.0,92.9h1.1v1.1h-1.1zM388.7,89.7h1.1v1.1h-1.1zM406.8,95.0h1.1v1.1h-1.1zM394.3,88.5h1.1v1.1h-1.1zM398.0,91.0h1.1v1.1h-1.1zM407.7,95.5h1.1v1.1h-1.1zM391.0,90.8h1.1v1.1h-1.1zM384.6,88.9h1.1v1.1h-1.1zM384.1,89.7h1.1v1.1h-1.1zM405.2,90.7h1.1v1.1h-1.1zM397.7,87.4h1.1v1.1h-1.1zM392.6,85.1h1.1v1.1h-1.1zM396.6,95.0h1.1v1.1h-1.1zM401.5,80.8h1.1v1.1h-1.1zM387.5,95.1h1.1v1.1h-1.1zM391.6,86.5h1.1v1.1h-1.1zM392.6,80.1h1.1v1.1h-1.1zM391.8,85.1h1.1v1.1h-1.1zM399.2,91.1h1.1v1.1h-1.1zM394.1,96.4h1.1v1.1h-1.1zM384.7,97.3h1.1v1.1h-1.1zM384.1,95.9h1.1v1.1h-1.1zM408.7,95.0h1.1v1.1h-1.1zM386.0,91.3h1.1v1.1h-1.1zM403.9,87.5h1.1v1.1h-1.1zM401.7,82.8h1.1v1.1h-1.1zM387.7,88.1h1.1v1.1h-1.1zM406.0,93.5h1.1v1.1h-1.1zM413.4,95.3h1.1v1.1h-1.1zM395.5,96.2h1.1v1.1h-1.1zM400.0,89.6h1.1v1.1h-1.1zM405.5,92.4h1.1v1.1h-1.1zM386.7,89.4h1.1v1.1h-1.1zM396.3,82.2h1.1v1.1h-1.1zM385.8,92.4h1.1v1.1h-1.1zM401.2,94.0h1.1v1.1h-1.1zM417.7,86.6h1.1v1.1h-1.1zM384.3,80.3h1.1v1.1h-1.1zM404.9,94.1h1.1v1.1h-1.1zM398.8,80.7h1.1v1.1h-1.1zM391.7,91.3h1.1v1.1h-1.1zM394.1,87.2h1.1v1.1h-1.1zM397.0,87.6h1.1v1.1h-1.1zM396.5,92.0h1.1v1.1h-1.1zM418.2,93.5h1.1v1.1h-1.1zM388.5,90.9h1.1v1.1h-1.1zM387.8,82.2h1.1v1.1h-1.1zM420.1,86.1h1.1v1.1h-1.1zM398.1,92.3h1.1v1.1h-1.1zM384.4,88.4h1.1v1.1h-1.1zM398.1,82.6h1.1v1.1h-1.1zM402.0,85.0h1.1v1.1h-1.1zM384.6,93.1h1.1v1.1h-1.1zM397.6,85.4h1.1v1.1h-1.1zM412.8,87.0h1.1v1.1h-1.1zM404.8,86.1h1.1v1.1h-1.1zM393.0,91.4h1.1v1.1h-1.1zM421.5,90.8h1.1v1.1h-1.1zM391.0,88.4h1.1v1.1h-1.1zM394.0,87.3h1.1v1.1h-1.1zM391.1,96.8h1.1v1.1h-1.1zM411.7,85.1h1.1v1.1h-1.1zM394.9,95.4h1.1v1.1h-1.1zM398.5,90.5h1.1v1.1h-1.1zM392.3,86.8h1.1v1.1h-1.1zM399.2,94.4h1.1v1.1h-1.1zM387.5,97.4h1.1v1.1h-1.1zM406.0,87.6h1.1v1.1h-1.1zM386.6,82.8h1.1v1.1h-1.1zM398.0,94.7h1.1v1.1h-1.1zM387.7,96.1h1.1v1.1h-1.1zM384.3,87.0h1.1v1.1h-1.1zM403.6,89.2h1.1v1.1h-1.1zM385.8,80.5h1.1v1.1h-1.1zM397.4,80.3h1.1v1.1h-1.1zM391.9,86.4h1.1v1.1h-1.1zM394.0,88.3h1.1v1.1h-1.1zM396.1,95.0h1.1v1.1h-1.1zM393.3,80.6h1.1v1.1h-1.1zM384.1,96.4h1.1v1.1h-1.1zM415.1,89.5h1.1v1.1h-1.1zM425.7,91.2h1.1v1.1h-1.1zM385.1,80.5h1.1v1.1h-1.1zM395.9,92.5h1.1v1.1h-1.1zM391.6,84.1h1.1v1.1h-1.1zM398.4,87.0h1.1v1.1h-1.1zM389.9,92.4h1.1v1.1h-1.1zM397.2,93.2h1.1v1.1h-1.1zM390.6,83.3h1.1v1.1h-1.1zM410.4,94.6h1.1v1.1h-1.1zM392.3,94.8h1.1v1.1h-1.1zM400.5,86.2h1.1v1.1h-1.1zM389.8,96.3h1.1v1.1h-1.1zM403.5,95.4h1.1v1.1h-1.1zM419.0,85.4h1.1v1.1h-1.1zM384.1,81.4h1.1v1.1h-1.1zM407.0,81.6h1.1v1.1h-1.1zM387.7,83.1h1.1v1.1h-1.1zM400.1,92.4h1.1v1.1h-1.1zM404.8,86.1h1.1v1.1h-1.1zM425.5,87.1h1.1v1.1h-1.1zM387.1,82.3h1.1v1.1h-1.1zM389.3,94.3h1.1v1.1h-1.1zM398.5,95.2h1.1v1.1h-1.1zM387.7,94.7h1.1v1.1h-1.1zM394.2,82.4h1.1v1.1h-1.1zM397.9,82.8h1.1v1.1h-1.1zM388.9,85.2h1.1v1.1h-1.1zM393.9,89.8h1.1v1.1h-1.1zM398.5,80.6h1.1v1.1h-1.1zM423.7,93.8h1.1v1.1h-1.1zM388.2,85.2h1.1v1.1h-1.1zM393.1,94.8h1.1v1.1h-1.1zM384.4,85.4h1.1v1.1h-1.1zM399.8,84.3h1.1v1.1h-1.1zM388.7,97.3h1.1v1.1h-1.1zM414.4,87.3h1.1v1.1h-1.1zM416.2,83.5h1.1v1.1h-1.1zM385.1,96.1h1.1v1.1h-1.1zM394.4,83.9h1.1v1.1h-1.1zM396.8,85.9h1.1v1.1h-1.1zM406.1,83.9h1.1v1.1h-1.1zM392.5,96.3h1.1v1.1h-1.1zM388.1,85.7h1.1v1.1h-1.1zM398.5,85.8h1.1v1.1h-1.1zM414.3,85.9h1.1v1.1h-1.1zM389.8,92.7h1.1v1.1h-1.1zM419.0,91.3h1.1v1.1h-1.1zM396.4,86.1h1.1v1.1h-1.1zM389.4,84.5h1.1v1.1h-1.1zM396.3,93.5h1.1v1.1h-1.1zM387.6,96.8h1.1v1.1h-1.1zM415.9,86.8h1.1v1.1h-1.1zM394.4,92.2h1.1v1.1h-1.1zM413.7,91.9h1.1v1.1h-1.1zM384.4,86.4h1.1v1.1h-1.1zM390.3,83.9h1.1v1.1h-1.1zM403.2,86.2h1.1v1.1h-1.1zM409.5,86.9h1.1v1.1h-1.1zM410.1,89.1h1.1v1.1h-1.1zM391.8,90.6h1.1v1.1h-1.1zM386.2,93.9h1.1v1.1h-1.1zM412.7,90.7h1.1v1.1h-1.1zM407.1,87.3h1.1v1.1h-1.1zM389.3,83.0h1.1v1.1h-1.1zM399.0,92.7h1.1v1.1h-1.1zM387.5,92.4h1.1v1.1h-1.1zM385.9,80.5h1.1v1.1h-1.1zM385.9,79.9h1.1v1.1h-1.1zM391.1,96.9h1.1v1.1h-1.1zM385.7,87.5h1.1v1.1h-1.1zM392.7,94.8h1.1v1.1h-1.1zM384.8,89.6h1.1v1.1h-1.1zM395.2,89.0h1.1v1.1h-1.1zM392.5,94.8h1.1v1.1h-1.1zM409.2,90.0h1.1v1.1h-1.1zM387.0,79.6h1.1v1.1h-1.1zM395.7,91.0h1.1v1.1h-1.1zM397.5,84.7h1.1v1.1h-1.1zM407.8,90.5h1.1v1.1h-1.1zM397.9,93.8h1.1v1.1h-1.1zM386.8,81.8h1.1v1.1h-1.1zM413.9,90.7h1.1v1.1h-1.1zM416.3,92.4h1.1v1.1h-1.1zM394.7,88.3h1.1v1.1h-1.1zM425.3,88.6h1.1v1.1h-1.1zM404.1,95.2h1.1v1.1h-1.1zM397.8,86.7h1.1v1.1h-1.1zM399.4,87.0h1.1v1.1h-1.1zM413.1,84.5h1.1v1.1h-1.1zM388.4,95.6h1.1v1.1h-1.1zM387.0,96.2h1.1v1.1h-1.1zM396.0,83.7h1.1v1.1h-1.1zM388.1,91.5h1.1v1.1h-1.1zM419.6,84.3h1.1v1.1h-1.1zM390.2,97.1h1.1v1.1h-1.1zM407.3,86.1h1.1v1.1h-1.1zM405.9,87.4h1.1v1.1h-1.1zM390.6,93.8h1.1v1.1h-1.1zM409.1,82.7h1.1v1.1h-1.1zM387.2,80.2h1.1v1.1h-1.1zM386.3,82.5h1.1v1.1h-1.1zM387.1,86.6h1.1v1.1h-1.1zM391.0,84.3h1.1v1.1h-1.1zM396.7,84.9h1.1v1.1h-1.1zM396.5,94.5h1.1v1.1h-1.1zM415.9,88.5h1.1v1.1h-1.1zM391.2,93.5h1.1v1.1h-1.1zM391.7,90.7h1.1v1.1h-1.1zM409.5,82.2h1.1v1.1h-1.1zM385.2,91.6h1.1v1.1h-1.1zM418.0,89.6h1.1v1.1h-1.1zM413.7,84.0h1.1v1.1h-1.1zM392.0,86.4h1.1v1.1h-1.1zM401.0,89.4h1.1v1.1h-1.1zM392.7,84.5h1.1v1.1h-1.1zM407.1,84.5h1.1v1.1h-1.1zM390.4,80.2h1.1v1.1h-1.1zM416.3,86.0h1.1v1.1h-1.1zM396.1,87.1h1.1v1.1h-1.1zM385.5,90.7h1.1v1.1h-1.1zM389.4,91.4h1.1v1.1h-1.1zM395.7,83.2h1.1v1.1h-1.1zM390.4,89.7h1.1v1.1h-1.1zM386.1,90.2h1.1v1.1h-1.1zM387.3,88.7h1.1v1.1h-1.1zM384.6,87.6h1.1v1.1h-1.1zM405.8,92.8h1.1v1.1h-1.1zM384.8,89.2h1.1v1.1h-1.1zM390.7,82.4h1.1v1.1h-1.1zM402.8,83.0h1.1v1.1h-1.1zM394.0,91.4h1.1v1.1h-1.1zM408.4,94.4h1.1v1.1h-1.1zM406.6,90.4h1.1v1.1h-1.1zM390.7,94.2h1.1v1.1h-1.1zM387.9,85.1h1.1v1.1h-1.1zM412.9,84.5h1.1v1.1h-1.1zM388.6,96.2h1.1v1.1h-1.1zM392.6,97.0h1.1v1.1h-1.1zM390.8,94.5h1.1v1.1h-1.1zM385.7,94.1h1.1v1.1h-1.1zM385.5,92.5h1.1v1.1h-1.1zM407.3,85.9h1.1v1.1h-1.1zM395.4,93.4h1.1v1.1h-1.1zM388.7,95.5h1.1v1.1h-1.1zM424.1,85.2h1.1v1.1h-1.1zM385.1,94.4h1.1v1.1h-1.1zM392.6,93.9h1.1v1.1h-1.1zM412.1,83.9h1.1v1.1h-1.1zM397.4,90.0h1.1v1.1h-1.1zM399.2,96.2h1.1v1.1h-1.1zM396.0,82.3h1.1v1.1h-1.1zM398.8,85.2h1.1v1.1h-1.1zM386.8,89.5h1.1v1.1h-1.1zM423.1,83.0h1.1v1.1h-1.1zM387.8,81.0h1.1v1.1h-1.1zM386.1,82.1h1.1v1.1h-1.1zM389.6,95.0h1.1v1.1h-1.1zM384.5,96.3h1.1v1.1h-1.1zM398.3,95.3h1.1v1.1h-1.1zM384.9,84.3h1.1v1.1h-1.1zM402.2,87.8h1.1v1.1h-1.1zM395.4,85.2h1.1v1.1h-1.1zM400.5,91.0h1.1v1.1h-1.1zM403.7,88.7h1.1v1.1h-1.1zM397.1,86.0h1.1v1.1h-1.1zM411.5,82.6h1.1v1.1h-1.1zM389.8,86.1h1.1v1.1h-1.1zM389.1,86.2h1.1v1.1h-1.1zM395.4,92.3h1.1v1.1h-1.1zM393.0,80.0h1.1v1.1h-1.1zM393.0,81.1h1.1v1.1h-1.1zM387.1,86.7h1.1v1.1h-1.1zM384.9,94.3h1.1v1.1h-1.1zM387.5,88.2h1.1v1.1h-1.1zM406.8,83.1h1.1v1.1h-1.1zM384.6,81.5h1.1v1.1h-1.1zM398.6,84.5h1.1v1.1h-1.1zM404.5,83.9h1.1v1.1h-1.1zM401.4,92.9h1.1v1.1h-1.1zM400.8,96.4h1.1v1.1h-1.1zM415.5,82.6h1.1v1.1h-1.1zM390.4,84.9h1.1v1.1h-1.1zM396.8,81.0h1.1v1.1h-1.1zM401.7,91.1h1.1v1.1h-1.1zM395.3,85.7h1.1v1.1h-1.1zM390.3,92.5h1.1v1.1h-1.1zM408.9,90.3h1.1v1.1h-1.1zM406.7,90.4h1.1v1.1h-1.1zM395.8,90.9h1.1v1.1h-1.1zM385.8,86.5h1.1v1.1h-1.1zM414.5,94.9h1.1v1.1h-1.1zM397.7,81.7h1.1v1.1h-1.1zM390.0,86.5h1.1v1.1h-1.1zM401.2,87.1h1.1v1.1h-1.1zM390.6,82.6h1.1v1.1h-1.1zM396.5,88.1h1.1v1.1h-1.1zM391.5,86.9h1.1v1.1h-1.1zM393.5,85.1h1.1v1.1h-1.1zM404.4,88.0h1.1v1.1h-1.1zM388.4,88.0h1.1v1.1h-1.1zM405.4,93.4h1.1v1.1h-1.1zM417.0,81.9h1.1v1.1h-1.1zM409.3,92.4h1.1v1.1h-1.1zM393.9,86.1h1.1v1.1h-1.1zM403.6,80.6h1.1v1.1h-1.1zM388.1,82.2h1.1v1.1h-1.1zM397.0,84.8h1.1v1.1h-1.1zM411.8,92.8h1.1v1.1h-1.1zM400.2,93.1h1.1v1.1h-1.1zM387.9,85.2h1.1v1.1h-1.1zM399.5,87.4h1.1v1.1h-1.1zM385.4,86.0h1.1v1.1h-1.1zM398.5,86.7h1.1v1.1h-1.1zM399.5,83.4h1.1v1.1h-1.1zM398.4,88.9h1.1v1.1h-1.1zM386.3,87.0h1.1v1.1h-1.1zM395.6,92.7h1.1v1.1h-1.1zM399.7,84.2h1.1v1.1h-1.1zM400.7,95.9h1.1v1.1h-1.1zM400.1,86.7h1.1v1.1h-1.1zM403.0,83.7h1.1v1.1h-1.1zM392.2,92.3h1.1v1.1h-1.1zM402.8,82.0h1.1v1.1h-1.1zM387.0,91.1h1.1v1.1h-1.1zM410.6,83.1h1.1v1.1h-1.1zM387.2,92.7h1.1v1.1h-1.1zM395.0,96.6h1.1v1.1h-1.1zM406.0,89.7h1.1v1.1h-1.1zM394.3,95.2h1.1v1.1h-1.1zM393.3,90.3h1.1v1.1h-1.1zM392.7,92.7h1.1v1.1h-1.1zM409.7,90.8h1.1v1.1h-1.1zM389.4,80.5h1.1v1.1h-1.1zM405.7,88.0h1.1v1.1h-1.1zM384.9,82.8h1.1v1.1h-1.1zM388.1,94.3h1.1v1.1h-1.1zM399.3,85.6h1.1v1.1h-1.1zM392.8,82.8h1.1v1.1h-1.1zM409.2,95.5h1.1v1.1h-1.1zM389.6,87.7h1.1v1.1h-1.1zM401.6,93.4h1.1v1.1h-1.1zM392.2,86.8h1.1v1.1h-1.1zM393.2,85.7h1.1v1.1h-1.1zM406.7,82.5h1.1v1.1h-1.1zM386.6,96.6h1.1v1.1h-1.1zM384.3,92.1h1.1v1.1h-1.1zM397.0,94.2h1.1v1.1h-1.1zM388.4,89.0h1.1v1.1h-1.1zM399.1,96.2h1.1v1.1h-1.1zM396.6,86.5h1.1v1.1h-1.1zM394.2,94.3h1.1v1.1h-1.1zM385.6,86.5h1.1v1.1h-1.1zM393.1,85.3h1.1v1.1h-1.1zM391.7,82.4h1.1v1.1h-1.1zM385.0,86.9h1.1v1.1h-1.1zM400.9,83.1h1.1v1.1h-1.1zM401.6,91.2h1.1v1.1h-1.1zM398.2,90.0h1.1v1.1h-1.1zM399.2,88.9h1.1v1.1h-1.1zM392.8,90.6h1.1v1.1h-1.1zM392.4,91.0h1.1v1.1h-1.1zM390.1,85.8h1.1v1.1h-1.1zM396.3,83.7h1.1v1.1h-1.1zM397.9,94.9h1.1v1.1h-1.1zM386.0,93.5h1.1v1.1h-1.1zM391.7,87.8h1.1v1.1h-1.1zM384.7,81.0h1.1v1.1h-1.1zM396.0,88.0h1.1v1.1h-1.1zM408.3,84.5h1.1v1.1h-1.1zM396.5,82.1h1.1v1.1h-1.1zM386.8,97.3h1.1v1.1h-1.1zM386.9,81.7h1.1v1.1h-1.1zM391.0,88.8h1.1v1.1h-1.1zM388.0,87.3h1.1v1.1h-1.1zM408.5,95.0h1.1v1.1h-1.1zM399.8,94.6h1.1v1.1h-1.1zM385.1,89.4h1.1v1.1h-1.1zM398.1,90.3h1.1v1.1h-1.1zM397.9,89.4h1.1v1.1h-1.1zM406.1,91.5h1.1v1.1h-1.1zM385.6,94.9h1.1v1.1h-1.1zM387.9,81.4h1.1v1.1h-1.1zM395.7,91.7h1.1v1.1h-1.1zM409.2,93.8h1.1v1.1h-1.1zM392.0,92.7h1.1v1.1h-1.1zM389.6,85.1h1.1v1.1h-1.1zM405.5,93.3h1.1v1.1h-1.1zM388.6,93.6h1.1v1.1h-1.1zM403.2,86.3h1.1v1.1h-1.1zM394.7,86.1h1.1v1.1h-1.1zM409.3,85.5h1.1v1.1h-1.1zM393.2,94.7h1.1v1.1h-1.1zM415.8,88.7h1.1v1.1h-1.1zM409.8,96.1h1.1v1.1h-1.1zM419.8,85.8h1.1v1.1h-1.1zM385.7,95.5h1.1v1.1h-1.1zM390.5,91.3h1.1v1.1h-1.1zM403.3,85.3h1.1v1.1h-1.1zM403.4,83.2h1.1v1.1h-1.1zM407.4,80.7h1.1v1.1h-1.1zM397.2,94.7h1.1v1.1h-1.1zM416.7,84.3h1.1v1.1h-1.1zM390.0,92.9h1.1v1.1h-1.1zM419.6,88.3h1.1v1.1h-1.1zM384.8,89.6h1.1v1.1h-1.1zM389.0,90.7h1.1v1.1h-1.1zM420.3,90.9h1.1v1.1h-1.1zM390.6,81.2h1.1v1.1h-1.1zM403.0,91.5h1.1v1.1h-1.1zM389.8,80.4h1.1v1.1h-1.1zM418.0,81.5h1.1v1.1h-1.1zM396.2,84.2h1.1v1.1h-1.1zM384.1,93.9h1.1v1.1h-1.1zM399.3,92.7h1.1v1.1h-1.1zM400.5,88.5h1.1v1.1h-1.1zM394.3,90.7h1.1v1.1h-1.1zM407.0,95.7h1.1v1.1h-1.1zM390.9,96.4h1.1v1.1h-1.1zM409.5,86.7h1.1v1.1h-1.1zM389.0,96.8h1.1v1.1h-1.1zM395.0,91.7h1.1v1.1h-1.1zM385.1,87.2h1.1v1.1h-1.1zM393.2,92.4h1.1v1.1h-1.1zM388.2,90.5h1.1v1.1h-1.1zM392.2,83.1h1.1v1.1h-1.1zM385.8,95.3h1.1v1.1h-1.1zM387.3,94.3h1.1v1.1h-1.1zM410.0,80.9h1.1v1.1h-1.1zM386.9,89.1h1.1v1.1h-1.1zM400.2,81.3h1.1v1.1h-1.1zM400.2,83.2h1.1v1.1h-1.1zM388.2,87.8h1.1v1.1h-1.1zM394.0,88.5h1.1v1.1h-1.1zM410.4,93.5h1.1v1.1h-1.1zM417.3,87.6h1.1v1.1h-1.1zM390.3,94.0h1.1v1.1h-1.1zM387.9,95.2h1.1v1.1h-1.1zM417.8,81.9h1.1v1.1h-1.1zM402.5,84.2h1.1v1.1h-1.1zM389.9,83.4h1.1v1.1h-1.1zM422.7,83.6h1.1v1.1h-1.1zM401.7,82.8h1.1v1.1h-1.1zM412.8,84.9h1.1v1.1h-1.1zM404.5,87.3h1.1v1.1h-1.1zM409.2,88.1h1.1v1.1h-1.1zM390.2,88.9h1.1v1.1h-1.1zM396.9,82.5h1.1v1.1h-1.1zM409.6,94.8h1.1v1.1h-1.1zM412.7,95.4h1.1v1.1h-1.1zM387.1,92.5h1.1v1.1h-1.1zM395.0,93.2h1.1v1.1h-1.1zM385.0,89.8h1.1v1.1h-1.1zM406.5,90.7h1.1v1.1h-1.1zM387.4,97.0h1.1v1.1h-1.1zM398.3,84.2h1.1v1.1h-1.1zM408.3,90.5h1.1v1.1h-1.1zM390.7,85.6h1.1v1.1h-1.1zM385.4,88.6h1.1v1.1h-1.1zM387.2,80.7h1.1v1.1h-1.1zM397.5,88.7h1.1v1.1h-1.1zM389.6,88.6h1.1v1.1h-1.1zM385.2,87.3h1.1v1.1h-1.1z" fill="#1a1af0" opacity="0.6"/><path d="M358,88 C358,81 364,79.5 375,79.5 C383,79.5 388,80 391,80.5 L392,96 C388,96.5 383,97 375,97.5 C364,98 358,95 358,88 Z" fill="#5050f4" stroke="#6a6af8" stroke-width="1.6" opacity="0.55" filter="url(#bl2)"/><path d="M358,88 C358,81 364,79.5 375,79.5 C383,79.5 388,80 391,80.5 L392,96 C388,96.5 383,97 375,97.5 C364,98 358,95 358,88 Z" fill="#1010f0" filter="url(#bl1)"/><ellipse cx="371" cy="89.6" rx="14" ry="8" fill="url(#dg)" transform="rotate(-6 371 89.6)"/></g>
<g clip-path="url(#fc12)"><path d="M466,79 L503,80 L503,95 L466,97 Z" fill="url(#fade)" filter="url(#bl1)"/><path d="M475.0,84.0h1.1v1.1h-1.1zM472.5,94.5h1.1v1.1h-1.1zM476.3,86.4h1.1v1.1h-1.1zM490.6,91.0h1.1v1.1h-1.1zM465.7,82.6h1.1v1.1h-1.1zM467.7,96.4h1.1v1.1h-1.1zM489.8,92.3h1.1v1.1h-1.1zM474.6,87.7h1.1v1.1h-1.1zM492.1,81.7h1.1v1.1h-1.1zM491.5,94.8h1.1v1.1h-1.1zM486.6,85.4h1.1v1.1h-1.1zM470.9,80.2h1.1v1.1h-1.1zM471.9,97.0h1.1v1.1h-1.1zM464.7,89.2h1.1v1.1h-1.1zM481.2,91.4h1.1v1.1h-1.1zM477.9,86.0h1.1v1.1h-1.1zM464.6,90.1h1.1v1.1h-1.1zM490.5,86.5h1.1v1.1h-1.1zM487.2,96.0h1.1v1.1h-1.1zM467.6,80.1h1.1v1.1h-1.1zM467.6,94.2h1.1v1.1h-1.1zM462.2,92.0h1.1v1.1h-1.1zM473.1,84.7h1.1v1.1h-1.1zM463.1,95.8h1.1v1.1h-1.1zM481.2,94.4h1.1v1.1h-1.1zM466.9,83.9h1.1v1.1h-1.1zM481.1,94.2h1.1v1.1h-1.1zM488.7,96.1h1.1v1.1h-1.1zM470.2,83.0h1.1v1.1h-1.1zM463.8,96.6h1.1v1.1h-1.1zM488.4,84.5h1.1v1.1h-1.1zM469.4,95.3h1.1v1.1h-1.1zM465.5,81.4h1.1v1.1h-1.1zM463.8,86.9h1.1v1.1h-1.1zM467.9,89.9h1.1v1.1h-1.1zM480.6,88.0h1.1v1.1h-1.1zM478.4,96.7h1.1v1.1h-1.1zM487.7,81.9h1.1v1.1h-1.1zM468.9,88.6h1.1v1.1h-1.1zM475.2,96.6h1.1v1.1h-1.1zM464.6,87.1h1.1v1.1h-1.1zM473.4,87.5h1.1v1.1h-1.1zM466.4,87.8h1.1v1.1h-1.1zM471.2,86.6h1.1v1.1h-1.1zM477.9,84.2h1.1v1.1h-1.1zM472.2,85.7h1.1v1.1h-1.1zM463.9,91.2h1.1v1.1h-1.1zM487.9,96.5h1.1v1.1h-1.1zM474.2,88.3h1.1v1.1h-1.1zM502.3,93.1h1.1v1.1h-1.1zM479.9,85.1h1.1v1.1h-1.1zM487.7,93.5h1.1v1.1h-1.1zM487.7,89.7h1.1v1.1h-1.1zM480.9,81.6h1.1v1.1h-1.1zM486.3,86.9h1.1v1.1h-1.1zM482.5,88.2h1.1v1.1h-1.1zM465.6,80.7h1.1v1.1h-1.1zM473.5,82.8h1.1v1.1h-1.1zM467.4,83.3h1.1v1.1h-1.1zM463.2,83.2h1.1v1.1h-1.1zM473.7,92.4h1.1v1.1h-1.1zM482.9,88.9h1.1v1.1h-1.1zM480.4,89.2h1.1v1.1h-1.1zM469.0,87.7h1.1v1.1h-1.1zM472.7,80.7h1.1v1.1h-1.1zM472.3,85.0h1.1v1.1h-1.1zM475.0,90.6h1.1v1.1h-1.1zM466.1,86.6h1.1v1.1h-1.1zM469.3,83.0h1.1v1.1h-1.1zM466.5,83.0h1.1v1.1h-1.1zM479.4,82.5h1.1v1.1h-1.1zM481.3,81.0h1.1v1.1h-1.1zM470.0,83.3h1.1v1.1h-1.1zM468.8,88.4h1.1v1.1h-1.1zM468.7,88.7h1.1v1.1h-1.1zM482.0,84.4h1.1v1.1h-1.1zM477.5,80.2h1.1v1.1h-1.1zM482.8,84.7h1.1v1.1h-1.1zM469.6,93.2h1.1v1.1h-1.1zM472.0,83.4h1.1v1.1h-1.1zM470.7,90.4h1.1v1.1h-1.1zM482.4,83.4h1.1v1.1h-1.1zM474.6,90.5h1.1v1.1h-1.1zM469.8,83.4h1.1v1.1h-1.1zM464.8,89.0h1.1v1.1h-1.1zM481.4,81.9h1.1v1.1h-1.1zM471.3,81.7h1.1v1.1h-1.1zM474.0,88.1h1.1v1.1h-1.1zM478.4,91.0h1.1v1.1h-1.1zM482.6,91.8h1.1v1.1h-1.1zM475.1,93.4h1.1v1.1h-1.1zM489.2,83.4h1.1v1.1h-1.1zM471.5,82.7h1.1v1.1h-1.1zM467.5,87.0h1.1v1.1h-1.1zM476.0,82.1h1.1v1.1h-1.1zM480.1,96.7h1.1v1.1h-1.1zM468.5,79.7h1.1v1.1h-1.1zM476.6,94.7h1.1v1.1h-1.1zM473.3,87.6h1.1v1.1h-1.1zM468.4,95.3h1.1v1.1h-1.1zM483.3,92.7h1.1v1.1h-1.1zM467.5,88.6h1.1v1.1h-1.1zM467.5,94.0h1.1v1.1h-1.1zM466.2,92.4h1.1v1.1h-1.1zM463.0,91.8h1.1v1.1h-1.1zM479.0,81.7h1.1v1.1h-1.1zM464.9,97.1h1.1v1.1h-1.1zM488.2,92.5h1.1v1.1h-1.1zM468.2,97.6h1.1v1.1h-1.1zM473.2,81.7h1.1v1.1h-1.1zM496.3,95.6h1.1v1.1h-1.1zM470.2,94.4h1.1v1.1h-1.1zM466.2,87.0h1.1v1.1h-1.1zM487.4,84.9h1.1v1.1h-1.1zM463.8,88.7h1.1v1.1h-1.1zM463.2,85.7h1.1v1.1h-1.1zM463.5,89.7h1.1v1.1h-1.1zM468.9,79.8h1.1v1.1h-1.1zM469.3,84.2h1.1v1.1h-1.1zM481.4,90.9h1.1v1.1h-1.1zM469.0,90.8h1.1v1.1h-1.1zM483.0,88.6h1.1v1.1h-1.1zM467.6,92.4h1.1v1.1h-1.1zM465.2,92.1h1.1v1.1h-1.1zM469.7,89.8h1.1v1.1h-1.1zM480.3,83.5h1.1v1.1h-1.1zM463.9,96.5h1.1v1.1h-1.1zM480.8,93.5h1.1v1.1h-1.1zM480.6,91.3h1.1v1.1h-1.1zM491.4,95.2h1.1v1.1h-1.1zM465.8,86.6h1.1v1.1h-1.1zM489.9,89.5h1.1v1.1h-1.1zM468.5,92.5h1.1v1.1h-1.1zM471.4,82.0h1.1v1.1h-1.1zM467.2,79.7h1.1v1.1h-1.1zM474.2,81.2h1.1v1.1h-1.1zM482.1,87.9h1.1v1.1h-1.1zM490.1,92.6h1.1v1.1h-1.1zM476.3,82.6h1.1v1.1h-1.1zM484.4,87.8h1.1v1.1h-1.1zM465.2,83.3h1.1v1.1h-1.1zM466.3,90.4h1.1v1.1h-1.1zM501.6,91.8h1.1v1.1h-1.1zM486.1,88.9h1.1v1.1h-1.1zM474.0,90.3h1.1v1.1h-1.1zM462.0,84.0h1.1v1.1h-1.1zM467.4,97.1h1.1v1.1h-1.1zM490.5,82.0h1.1v1.1h-1.1zM468.3,96.1h1.1v1.1h-1.1zM473.6,79.6h1.1v1.1h-1.1zM475.9,90.0h1.1v1.1h-1.1zM476.5,97.2h1.1v1.1h-1.1zM492.8,95.6h1.1v1.1h-1.1zM476.0,87.7h1.1v1.1h-1.1zM472.4,87.5h1.1v1.1h-1.1zM479.5,88.9h1.1v1.1h-1.1zM469.6,81.4h1.1v1.1h-1.1zM478.9,84.5h1.1v1.1h-1.1zM468.4,90.7h1.1v1.1h-1.1zM477.0,90.8h1.1v1.1h-1.1zM484.5,92.4h1.1v1.1h-1.1zM489.2,92.3h1.1v1.1h-1.1zM472.7,88.4h1.1v1.1h-1.1zM474.3,93.0h1.1v1.1h-1.1zM470.6,82.8h1.1v1.1h-1.1zM497.1,88.5h1.1v1.1h-1.1zM463.2,80.7h1.1v1.1h-1.1zM480.7,89.4h1.1v1.1h-1.1zM489.0,85.3h1.1v1.1h-1.1zM464.9,81.9h1.1v1.1h-1.1zM463.5,80.5h1.1v1.1h-1.1zM476.2,82.9h1.1v1.1h-1.1zM500.4,84.4h1.1v1.1h-1.1zM477.5,85.3h1.1v1.1h-1.1zM478.0,89.6h1.1v1.1h-1.1zM480.3,83.5h1.1v1.1h-1.1zM465.0,90.5h1.1v1.1h-1.1zM466.1,90.4h1.1v1.1h-1.1zM483.8,91.6h1.1v1.1h-1.1zM464.8,79.8h1.1v1.1h-1.1zM480.8,82.2h1.1v1.1h-1.1zM479.5,84.4h1.1v1.1h-1.1zM466.0,85.8h1.1v1.1h-1.1zM466.0,94.8h1.1v1.1h-1.1zM472.9,82.0h1.1v1.1h-1.1zM473.6,94.9h1.1v1.1h-1.1zM465.5,96.4h1.1v1.1h-1.1zM463.1,86.5h1.1v1.1h-1.1zM467.4,83.8h1.1v1.1h-1.1zM468.5,84.7h1.1v1.1h-1.1zM474.8,84.0h1.1v1.1h-1.1zM478.8,90.8h1.1v1.1h-1.1zM466.0,81.2h1.1v1.1h-1.1zM463.1,94.4h1.1v1.1h-1.1zM465.1,87.3h1.1v1.1h-1.1zM480.0,82.4h1.1v1.1h-1.1zM474.8,85.0h1.1v1.1h-1.1zM481.2,81.3h1.1v1.1h-1.1zM485.0,94.7h1.1v1.1h-1.1zM487.3,95.4h1.1v1.1h-1.1zM469.6,93.2h1.1v1.1h-1.1zM471.3,80.9h1.1v1.1h-1.1zM470.6,86.7h1.1v1.1h-1.1zM475.2,90.5h1.1v1.1h-1.1zM469.5,92.2h1.1v1.1h-1.1zM475.0,87.4h1.1v1.1h-1.1zM467.2,81.3h1.1v1.1h-1.1zM485.3,91.6h1.1v1.1h-1.1zM469.9,93.9h1.1v1.1h-1.1zM474.4,96.9h1.1v1.1h-1.1zM466.2,92.8h1.1v1.1h-1.1zM482.4,82.7h1.1v1.1h-1.1zM480.9,93.7h1.1v1.1h-1.1zM475.8,81.4h1.1v1.1h-1.1zM469.6,84.3h1.1v1.1h-1.1zM490.9,87.5h1.1v1.1h-1.1zM491.5,88.4h1.1v1.1h-1.1zM470.1,83.4h1.1v1.1h-1.1zM464.6,93.3h1.1v1.1h-1.1zM468.7,97.3h1.1v1.1h-1.1zM482.3,91.6h1.1v1.1h-1.1zM464.1,82.5h1.1v1.1h-1.1zM491.8,95.3h1.1v1.1h-1.1zM462.9,84.8h1.1v1.1h-1.1zM488.1,90.2h1.1v1.1h-1.1zM493.8,90.0h1.1v1.1h-1.1zM463.1,89.6h1.1v1.1h-1.1zM478.7,93.4h1.1v1.1h-1.1zM476.1,80.4h1.1v1.1h-1.1zM465.3,82.9h1.1v1.1h-1.1zM477.1,80.2h1.1v1.1h-1.1zM466.2,79.5h1.1v1.1h-1.1zM493.6,83.7h1.1v1.1h-1.1zM466.1,90.2h1.1v1.1h-1.1zM473.5,85.8h1.1v1.1h-1.1zM466.2,85.7h1.1v1.1h-1.1zM471.3,95.8h1.1v1.1h-1.1zM490.8,90.7h1.1v1.1h-1.1zM463.1,84.6h1.1v1.1h-1.1zM468.9,97.2h1.1v1.1h-1.1zM477.7,80.5h1.1v1.1h-1.1zM471.1,94.8h1.1v1.1h-1.1zM472.8,82.3h1.1v1.1h-1.1zM468.3,85.2h1.1v1.1h-1.1zM483.8,86.0h1.1v1.1h-1.1zM473.1,83.8h1.1v1.1h-1.1zM464.1,82.2h1.1v1.1h-1.1zM464.9,84.0h1.1v1.1h-1.1zM480.5,89.6h1.1v1.1h-1.1zM467.8,96.5h1.1v1.1h-1.1zM469.3,91.1h1.1v1.1h-1.1zM472.6,96.7h1.1v1.1h-1.1zM475.4,80.9h1.1v1.1h-1.1zM463.5,83.2h1.1v1.1h-1.1zM498.7,94.4h1.1v1.1h-1.1zM489.9,83.1h1.1v1.1h-1.1zM469.0,87.8h1.1v1.1h-1.1zM462.1,85.3h1.1v1.1h-1.1zM467.1,93.2h1.1v1.1h-1.1zM486.1,84.6h1.1v1.1h-1.1zM471.0,84.4h1.1v1.1h-1.1zM465.0,87.5h1.1v1.1h-1.1zM485.6,81.5h1.1v1.1h-1.1zM470.4,94.9h1.1v1.1h-1.1zM476.1,84.0h1.1v1.1h-1.1zM482.4,81.4h1.1v1.1h-1.1zM473.0,82.5h1.1v1.1h-1.1zM463.9,85.9h1.1v1.1h-1.1zM463.4,88.7h1.1v1.1h-1.1zM483.1,84.6h1.1v1.1h-1.1zM483.5,86.2h1.1v1.1h-1.1zM468.3,95.8h1.1v1.1h-1.1zM464.5,83.0h1.1v1.1h-1.1zM463.0,95.5h1.1v1.1h-1.1zM470.0,81.5h1.1v1.1h-1.1zM467.3,85.6h1.1v1.1h-1.1zM465.6,88.8h1.1v1.1h-1.1zM483.8,96.5h1.1v1.1h-1.1zM483.9,86.0h1.1v1.1h-1.1zM464.1,83.7h1.1v1.1h-1.1zM487.1,84.2h1.1v1.1h-1.1zM476.2,84.4h1.1v1.1h-1.1zM467.1,85.7h1.1v1.1h-1.1zM464.2,81.5h1.1v1.1h-1.1zM470.6,95.8h1.1v1.1h-1.1zM475.5,82.3h1.1v1.1h-1.1zM483.8,81.8h1.1v1.1h-1.1zM472.7,85.2h1.1v1.1h-1.1zM474.0,97.4h1.1v1.1h-1.1zM465.1,89.6h1.1v1.1h-1.1zM472.3,94.1h1.1v1.1h-1.1zM465.7,82.2h1.1v1.1h-1.1zM484.6,96.4h1.1v1.1h-1.1zM478.5,96.4h1.1v1.1h-1.1zM477.6,84.5h1.1v1.1h-1.1zM491.4,93.7h1.1v1.1h-1.1zM486.5,89.8h1.1v1.1h-1.1zM473.0,87.1h1.1v1.1h-1.1zM475.0,97.3h1.1v1.1h-1.1zM470.1,82.2h1.1v1.1h-1.1zM464.5,87.4h1.1v1.1h-1.1zM489.2,96.0h1.1v1.1h-1.1zM463.1,87.4h1.1v1.1h-1.1zM478.6,82.2h1.1v1.1h-1.1zM468.8,91.9h1.1v1.1h-1.1zM463.2,83.3h1.1v1.1h-1.1zM479.5,84.9h1.1v1.1h-1.1zM497.1,89.9h1.1v1.1h-1.1zM472.0,89.0h1.1v1.1h-1.1zM466.5,80.3h1.1v1.1h-1.1zM470.9,91.8h1.1v1.1h-1.1zM463.9,81.8h1.1v1.1h-1.1zM468.2,91.0h1.1v1.1h-1.1zM489.2,94.2h1.1v1.1h-1.1zM467.2,81.5h1.1v1.1h-1.1zM478.2,88.2h1.1v1.1h-1.1zM491.3,87.9h1.1v1.1h-1.1zM469.4,95.7h1.1v1.1h-1.1zM483.8,81.4h1.1v1.1h-1.1zM477.1,96.9h1.1v1.1h-1.1zM470.3,90.3h1.1v1.1h-1.1zM488.9,82.0h1.1v1.1h-1.1zM472.1,83.2h1.1v1.1h-1.1zM468.1,82.1h1.1v1.1h-1.1zM472.8,90.1h1.1v1.1h-1.1zM463.1,85.7h1.1v1.1h-1.1zM462.8,92.1h1.1v1.1h-1.1zM480.1,93.0h1.1v1.1h-1.1zM495.6,84.7h1.1v1.1h-1.1zM463.8,82.5h1.1v1.1h-1.1zM472.6,95.4h1.1v1.1h-1.1zM483.6,82.9h1.1v1.1h-1.1zM464.9,95.4h1.1v1.1h-1.1zM466.6,80.6h1.1v1.1h-1.1zM484.4,91.0h1.1v1.1h-1.1zM499.7,94.1h1.1v1.1h-1.1zM482.5,83.8h1.1v1.1h-1.1zM468.7,96.9h1.1v1.1h-1.1zM472.0,84.9h1.1v1.1h-1.1zM487.6,92.1h1.1v1.1h-1.1zM480.0,80.4h1.1v1.1h-1.1zM490.6,92.3h1.1v1.1h-1.1zM501.2,82.0h1.1v1.1h-1.1zM491.3,80.9h1.1v1.1h-1.1zM467.0,81.6h1.1v1.1h-1.1zM474.2,88.7h1.1v1.1h-1.1zM471.1,84.0h1.1v1.1h-1.1zM473.7,81.5h1.1v1.1h-1.1zM464.1,94.0h1.1v1.1h-1.1zM469.5,92.8h1.1v1.1h-1.1zM467.1,94.7h1.1v1.1h-1.1zM474.1,94.9h1.1v1.1h-1.1zM476.1,82.2h1.1v1.1h-1.1zM474.6,93.3h1.1v1.1h-1.1zM497.4,85.4h1.1v1.1h-1.1zM465.0,79.3h1.1v1.1h-1.1zM480.8,88.6h1.1v1.1h-1.1zM479.6,83.5h1.1v1.1h-1.1zM464.8,89.3h1.1v1.1h-1.1zM466.4,93.1h1.1v1.1h-1.1zM473.7,90.0h1.1v1.1h-1.1zM478.3,88.0h1.1v1.1h-1.1zM475.3,95.9h1.1v1.1h-1.1zM463.6,93.3h1.1v1.1h-1.1zM462.7,88.1h1.1v1.1h-1.1zM464.7,97.7h1.1v1.1h-1.1zM464.2,91.6h1.1v1.1h-1.1zM471.9,83.3h1.1v1.1h-1.1zM462.4,91.4h1.1v1.1h-1.1zM489.8,94.6h1.1v1.1h-1.1zM465.5,92.8h1.1v1.1h-1.1zM476.1,91.5h1.1v1.1h-1.1zM470.2,89.4h1.1v1.1h-1.1zM463.8,82.8h1.1v1.1h-1.1zM474.4,95.4h1.1v1.1h-1.1zM494.9,88.5h1.1v1.1h-1.1zM474.4,87.4h1.1v1.1h-1.1zM462.9,97.6h1.1v1.1h-1.1zM468.5,86.5h1.1v1.1h-1.1zM463.3,97.2h1.1v1.1h-1.1zM465.5,91.8h1.1v1.1h-1.1zM463.6,95.2h1.1v1.1h-1.1zM470.2,85.4h1.1v1.1h-1.1zM468.6,92.7h1.1v1.1h-1.1zM489.6,91.5h1.1v1.1h-1.1zM469.3,80.4h1.1v1.1h-1.1zM470.5,84.0h1.1v1.1h-1.1zM486.8,92.6h1.1v1.1h-1.1zM482.1,83.5h1.1v1.1h-1.1zM469.0,97.5h1.1v1.1h-1.1zM477.6,82.6h1.1v1.1h-1.1zM465.2,92.7h1.1v1.1h-1.1zM481.4,91.8h1.1v1.1h-1.1zM490.6,87.4h1.1v1.1h-1.1zM468.0,90.7h1.1v1.1h-1.1zM464.4,80.7h1.1v1.1h-1.1zM470.8,96.7h1.1v1.1h-1.1zM491.7,86.6h1.1v1.1h-1.1zM476.1,93.6h1.1v1.1h-1.1zM469.6,85.0h1.1v1.1h-1.1zM468.3,80.6h1.1v1.1h-1.1zM473.7,82.5h1.1v1.1h-1.1zM465.2,79.9h1.1v1.1h-1.1zM468.9,93.8h1.1v1.1h-1.1zM471.4,89.1h1.1v1.1h-1.1zM494.8,82.9h1.1v1.1h-1.1zM475.5,85.5h1.1v1.1h-1.1zM475.7,93.4h1.1v1.1h-1.1zM469.9,81.5h1.1v1.1h-1.1zM477.8,93.5h1.1v1.1h-1.1zM471.2,92.5h1.1v1.1h-1.1zM463.1,79.0h1.1v1.1h-1.1zM470.1,85.7h1.1v1.1h-1.1zM482.0,82.7h1.1v1.1h-1.1zM471.7,81.6h1.1v1.1h-1.1zM467.2,96.9h1.1v1.1h-1.1zM486.2,83.0h1.1v1.1h-1.1zM471.4,94.6h1.1v1.1h-1.1zM471.2,94.4h1.1v1.1h-1.1zM472.0,80.2h1.1v1.1h-1.1zM470.2,87.1h1.1v1.1h-1.1zM481.0,90.4h1.1v1.1h-1.1zM490.0,85.5h1.1v1.1h-1.1zM469.9,93.1h1.1v1.1h-1.1zM465.9,89.1h1.1v1.1h-1.1zM497.2,87.1h1.1v1.1h-1.1zM462.7,94.3h1.1v1.1h-1.1zM467.8,88.2h1.1v1.1h-1.1zM467.9,96.0h1.1v1.1h-1.1zM483.4,95.1h1.1v1.1h-1.1zM479.7,83.1h1.1v1.1h-1.1zM463.7,86.2h1.1v1.1h-1.1zM463.9,80.2h1.1v1.1h-1.1zM480.3,81.9h1.1v1.1h-1.1zM464.9,80.4h1.1v1.1h-1.1zM464.9,84.6h1.1v1.1h-1.1zM473.0,80.2h1.1v1.1h-1.1zM464.6,90.9h1.1v1.1h-1.1zM483.7,95.0h1.1v1.1h-1.1zM467.5,97.3h1.1v1.1h-1.1zM480.6,93.3h1.1v1.1h-1.1zM475.3,97.3h1.1v1.1h-1.1zM477.5,88.5h1.1v1.1h-1.1zM493.8,85.2h1.1v1.1h-1.1zM466.2,79.9h1.1v1.1h-1.1zM472.6,90.3h1.1v1.1h-1.1zM479.5,88.5h1.1v1.1h-1.1zM477.0,80.2h1.1v1.1h-1.1zM462.9,95.0h1.1v1.1h-1.1zM494.4,82.9h1.1v1.1h-1.1zM488.7,84.3h1.1v1.1h-1.1zM464.7,81.1h1.1v1.1h-1.1zM464.2,88.9h1.1v1.1h-1.1zM492.5,95.1h1.1v1.1h-1.1zM481.5,93.8h1.1v1.1h-1.1zM470.3,85.8h1.1v1.1h-1.1zM472.9,80.3h1.1v1.1h-1.1zM485.9,89.1h1.1v1.1h-1.1zM483.7,95.0h1.1v1.1h-1.1zM487.0,84.0h1.1v1.1h-1.1zM467.2,87.3h1.1v1.1h-1.1zM462.8,81.2h1.1v1.1h-1.1zM472.0,95.5h1.1v1.1h-1.1zM482.0,94.6h1.1v1.1h-1.1zM470.9,96.7h1.1v1.1h-1.1zM484.0,87.1h1.1v1.1h-1.1zM483.1,85.3h1.1v1.1h-1.1zM475.9,86.2h1.1v1.1h-1.1zM472.3,80.4h1.1v1.1h-1.1zM473.5,91.1h1.1v1.1h-1.1zM492.6,86.9h1.1v1.1h-1.1zM480.4,89.6h1.1v1.1h-1.1zM471.2,90.7h1.1v1.1h-1.1zM482.2,96.5h1.1v1.1h-1.1zM476.0,96.3h1.1v1.1h-1.1zM482.1,83.7h1.1v1.1h-1.1zM483.8,93.4h1.1v1.1h-1.1zM483.2,80.5h1.1v1.1h-1.1zM490.3,85.8h1.1v1.1h-1.1zM467.8,90.4h1.1v1.1h-1.1zM466.4,89.4h1.1v1.1h-1.1zM466.3,92.8h1.1v1.1h-1.1zM470.4,84.1h1.1v1.1h-1.1zM462.5,95.7h1.1v1.1h-1.1zM469.9,91.3h1.1v1.1h-1.1zM483.8,84.0h1.1v1.1h-1.1zM462.1,89.6h1.1v1.1h-1.1zM500.7,82.6h1.1v1.1h-1.1zM479.1,94.7h1.1v1.1h-1.1zM471.0,94.0h1.1v1.1h-1.1zM470.1,90.8h1.1v1.1h-1.1zM462.1,87.2h1.1v1.1h-1.1zM480.7,95.9h1.1v1.1h-1.1zM474.9,88.7h1.1v1.1h-1.1zM464.3,86.9h1.1v1.1h-1.1zM473.6,85.3h1.1v1.1h-1.1zM472.4,88.3h1.1v1.1h-1.1zM484.8,83.3h1.1v1.1h-1.1zM474.9,86.6h1.1v1.1h-1.1zM471.2,83.6h1.1v1.1h-1.1zM462.4,87.3h1.1v1.1h-1.1zM484.6,92.2h1.1v1.1h-1.1zM469.6,85.9h1.1v1.1h-1.1zM476.2,95.8h1.1v1.1h-1.1zM484.6,83.4h1.1v1.1h-1.1zM474.1,85.8h1.1v1.1h-1.1zM470.4,91.0h1.1v1.1h-1.1zM483.9,91.9h1.1v1.1h-1.1zM476.7,95.3h1.1v1.1h-1.1zM487.6,91.2h1.1v1.1h-1.1zM484.0,86.3h1.1v1.1h-1.1zM481.6,94.2h1.1v1.1h-1.1zM475.0,85.6h1.1v1.1h-1.1zM480.4,93.0h1.1v1.1h-1.1zM498.3,89.2h1.1v1.1h-1.1zM482.7,88.0h1.1v1.1h-1.1zM483.0,87.3h1.1v1.1h-1.1zM480.5,83.8h1.1v1.1h-1.1zM466.1,87.7h1.1v1.1h-1.1zM481.3,93.1h1.1v1.1h-1.1zM469.1,87.5h1.1v1.1h-1.1zM462.9,90.5h1.1v1.1h-1.1zM481.9,82.0h1.1v1.1h-1.1zM463.5,80.6h1.1v1.1h-1.1zM466.0,95.4h1.1v1.1h-1.1zM462.6,91.0h1.1v1.1h-1.1zM481.1,80.3h1.1v1.1h-1.1zM471.5,89.9h1.1v1.1h-1.1zM470.1,97.6h1.1v1.1h-1.1zM463.6,95.6h1.1v1.1h-1.1zM465.4,87.6h1.1v1.1h-1.1zM487.0,95.9h1.1v1.1h-1.1zM472.4,93.8h1.1v1.1h-1.1zM462.4,94.3h1.1v1.1h-1.1zM470.4,79.8h1.1v1.1h-1.1zM465.3,88.6h1.1v1.1h-1.1zM462.5,92.0h1.1v1.1h-1.1zM463.0,84.8h1.1v1.1h-1.1zM477.8,92.4h1.1v1.1h-1.1zM462.2,80.6h1.1v1.1h-1.1zM477.6,80.8h1.1v1.1h-1.1zM488.0,87.5h1.1v1.1h-1.1zM469.5,85.3h1.1v1.1h-1.1zM499.4,89.8h1.1v1.1h-1.1zM481.6,80.9h1.1v1.1h-1.1zM469.2,84.4h1.1v1.1h-1.1zM467.1,95.1h1.1v1.1h-1.1zM476.3,83.6h1.1v1.1h-1.1zM474.0,91.5h1.1v1.1h-1.1zM471.2,82.2h1.1v1.1h-1.1zM462.4,88.4h1.1v1.1h-1.1zM478.6,80.6h1.1v1.1h-1.1zM467.9,90.6h1.1v1.1h-1.1zM465.5,89.1h1.1v1.1h-1.1zM466.4,80.9h1.1v1.1h-1.1zM470.7,92.7h1.1v1.1h-1.1zM485.6,86.7h1.1v1.1h-1.1zM480.3,94.5h1.1v1.1h-1.1zM477.3,89.5h1.1v1.1h-1.1zM484.3,94.7h1.1v1.1h-1.1zM478.5,95.1h1.1v1.1h-1.1zM463.7,85.1h1.1v1.1h-1.1zM464.3,97.3h1.1v1.1h-1.1zM477.6,91.8h1.1v1.1h-1.1zM472.9,86.2h1.1v1.1h-1.1zM486.4,82.6h1.1v1.1h-1.1zM464.1,96.2h1.1v1.1h-1.1zM470.0,91.2h1.1v1.1h-1.1zM467.2,85.6h1.1v1.1h-1.1zM480.7,83.8h1.1v1.1h-1.1zM463.3,81.6h1.1v1.1h-1.1zM473.5,89.0h1.1v1.1h-1.1zM469.5,88.7h1.1v1.1h-1.1zM477.8,80.6h1.1v1.1h-1.1zM468.2,97.3h1.1v1.1h-1.1zM468.2,82.4h1.1v1.1h-1.1zM469.1,80.4h1.1v1.1h-1.1zM482.4,82.3h1.1v1.1h-1.1zM465.8,81.1h1.1v1.1h-1.1zM502.6,87.0h1.1v1.1h-1.1zM482.2,87.3h1.1v1.1h-1.1zM475.8,82.7h1.1v1.1h-1.1zM474.0,81.4h1.1v1.1h-1.1zM472.9,80.6h1.1v1.1h-1.1zM472.8,91.4h1.1v1.1h-1.1zM480.7,92.3h1.1v1.1h-1.1zM476.6,91.8h1.1v1.1h-1.1zM480.9,95.5h1.1v1.1h-1.1zM493.3,81.3h1.1v1.1h-1.1zM467.0,92.4h1.1v1.1h-1.1zM473.3,87.3h1.1v1.1h-1.1zM481.6,84.9h1.1v1.1h-1.1zM469.7,91.2h1.1v1.1h-1.1zM474.0,95.9h1.1v1.1h-1.1zM481.8,84.7h1.1v1.1h-1.1zM463.7,96.6h1.1v1.1h-1.1zM479.0,82.3h1.1v1.1h-1.1zM466.7,83.1h1.1v1.1h-1.1zM479.5,82.6h1.1v1.1h-1.1zM465.2,95.3h1.1v1.1h-1.1zM464.5,84.6h1.1v1.1h-1.1zM475.2,92.0h1.1v1.1h-1.1zM475.9,89.0h1.1v1.1h-1.1zM464.1,81.2h1.1v1.1h-1.1zM463.7,83.4h1.1v1.1h-1.1zM491.0,90.3h1.1v1.1h-1.1zM471.0,97.3h1.1v1.1h-1.1zM466.4,84.6h1.1v1.1h-1.1zM464.9,92.4h1.1v1.1h-1.1zM470.5,97.5h1.1v1.1h-1.1zM479.4,80.1h1.1v1.1h-1.1zM470.3,89.1h1.1v1.1h-1.1zM471.5,83.0h1.1v1.1h-1.1zM465.4,90.1h1.1v1.1h-1.1zM465.9,82.7h1.1v1.1h-1.1zM465.2,83.6h1.1v1.1h-1.1zM465.9,96.6h1.1v1.1h-1.1zM489.7,87.7h1.1v1.1h-1.1zM465.7,97.6h1.1v1.1h-1.1zM482.0,80.3h1.1v1.1h-1.1zM472.1,90.5h1.1v1.1h-1.1zM468.9,82.4h1.1v1.1h-1.1z" fill="#1a1af0" opacity="0.6"/><path d="M438,90 C438,82 443,79 452,78.8 C458,78.6 464,79 468,79.5 L469,96.5 C464,97 458,98 450,98 C442,98 438,95 438,90 Z" fill="#5050f4" stroke="#6a6af8" stroke-width="1.6" opacity="0.55" filter="url(#bl2)"/><path d="M438,90 C438,82 443,79 452,78.8 C458,78.6 464,79 468,79.5 L469,96.5 C464,97 458,98 450,98 C442,98 438,95 438,90 Z" fill="#1010f0" filter="url(#bl1)"/><ellipse cx="447" cy="90.2" rx="10" ry="8.5" fill="url(#dg)" transform="rotate(-30 447 90.2)"/></g>
<g clip-path="url(#fc20)"><path d="M303.2,124.4h1v1h-1zM315.1,120.4h1v1h-1zM301.5,123.4h1v1h-1zM309.7,122.4h1v1h-1zM309.2,120.6h1v1h-1zM302.9,120.6h1v1h-1zM311.4,121.0h1v1h-1zM298.5,122.7h1v1h-1zM299.2,123.2h1v1h-1zM306.6,120.8h1v1h-1zM307.4,120.9h1v1h-1zM298.7,124.1h1v1h-1zM304.0,121.8h1v1h-1zM301.5,124.4h1v1h-1zM316.0,122.0h1v1h-1zM314.5,119.3h1v1h-1zM307.0,123.8h1v1h-1zM313.2,118.8h1v1h-1zM310.3,119.9h1v1h-1zM300.7,122.9h1v1h-1zM305.1,121.8h1v1h-1zM314.1,119.5h1v1h-1zM312.9,120.1h1v1h-1zM307.6,123.2h1v1h-1zM315.3,121.8h1v1h-1zM314.4,119.0h1v1h-1zM301.1,122.0h1v1h-1zM300.6,121.1h1v1h-1zM299.7,124.3h1v1h-1zM300.7,122.6h1v1h-1zM309.5,119.9h1v1h-1zM314.9,119.1h1v1h-1zM315.5,120.6h1v1h-1zM311.1,122.7h1v1h-1zM316.7,119.0h1v1h-1zM313.1,120.0h1v1h-1zM303.1,124.6h1v1h-1zM300.3,123.1h1v1h-1zM313.6,122.4h1v1h-1zM300.8,122.8h1v1h-1zM305.2,119.7h1v1h-1zM309.9,120.0h1v1h-1zM304.3,124.4h1v1h-1zM316.3,119.5h1v1h-1zM312.4,123.4h1v1h-1zM304.8,120.0h1v1h-1z" fill="#4040f0" opacity="0.55"/><g filter="url(#bl1)"><ellipse cx="295.30" cy="124.80" rx="5.40" ry="6.60" fill="#1010f0" /><ellipse cx="300.00" cy="122.00" rx="4.00" ry="3.00" fill="#1010f0" /></g><ellipse cx="295.2" cy="126" rx="6" ry="6.8" fill="url(#dg)"/></g>
<g clip-path="url(#fc21)"><path d="M394,119.5 L418,120.5 L418,125 L394,128.5 Z" fill="url(#fade)" filter="url(#bl1)"/><path d="M401.7,123.0h1.1v1.1h-1.1zM410.1,124.3h1.1v1.1h-1.1zM384.8,120.3h1.1v1.1h-1.1zM396.1,122.7h1.1v1.1h-1.1zM390.5,127.4h1.1v1.1h-1.1zM417.1,125.1h1.1v1.1h-1.1zM410.3,125.7h1.1v1.1h-1.1zM409.4,123.9h1.1v1.1h-1.1zM384.7,124.5h1.1v1.1h-1.1zM402.8,124.2h1.1v1.1h-1.1zM388.3,128.1h1.1v1.1h-1.1zM410.9,125.5h1.1v1.1h-1.1zM390.4,121.2h1.1v1.1h-1.1zM386.1,121.6h1.1v1.1h-1.1zM401.1,126.5h1.1v1.1h-1.1zM407.1,126.1h1.1v1.1h-1.1zM395.4,119.8h1.1v1.1h-1.1zM393.2,120.0h1.1v1.1h-1.1zM414.6,123.7h1.1v1.1h-1.1zM392.2,126.3h1.1v1.1h-1.1zM385.0,125.8h1.1v1.1h-1.1zM390.4,122.5h1.1v1.1h-1.1zM395.2,123.9h1.1v1.1h-1.1zM409.2,124.7h1.1v1.1h-1.1zM400.3,122.9h1.1v1.1h-1.1zM393.5,121.1h1.1v1.1h-1.1zM388.2,121.8h1.1v1.1h-1.1zM392.6,124.8h1.1v1.1h-1.1zM404.7,124.1h1.1v1.1h-1.1zM398.8,125.5h1.1v1.1h-1.1zM412.2,125.4h1.1v1.1h-1.1zM388.7,126.8h1.1v1.1h-1.1zM404.4,120.6h1.1v1.1h-1.1zM391.1,120.6h1.1v1.1h-1.1zM402.6,120.6h1.1v1.1h-1.1zM411.8,121.5h1.1v1.1h-1.1zM394.6,123.4h1.1v1.1h-1.1zM410.3,122.6h1.1v1.1h-1.1zM405.0,120.7h1.1v1.1h-1.1zM398.9,121.8h1.1v1.1h-1.1zM395.1,125.4h1.1v1.1h-1.1zM396.3,124.8h1.1v1.1h-1.1zM400.5,124.3h1.1v1.1h-1.1zM396.1,121.3h1.1v1.1h-1.1zM416.7,122.1h1.1v1.1h-1.1zM415.9,123.2h1.1v1.1h-1.1zM395.3,125.9h1.1v1.1h-1.1zM398.7,120.3h1.1v1.1h-1.1zM395.0,122.8h1.1v1.1h-1.1zM399.9,119.8h1.1v1.1h-1.1zM402.4,123.2h1.1v1.1h-1.1zM395.4,126.6h1.1v1.1h-1.1zM394.7,126.7h1.1v1.1h-1.1zM398.4,122.6h1.1v1.1h-1.1zM395.8,119.8h1.1v1.1h-1.1zM403.5,125.4h1.1v1.1h-1.1zM394.3,122.0h1.1v1.1h-1.1zM410.4,125.6h1.1v1.1h-1.1zM399.6,125.6h1.1v1.1h-1.1zM397.7,120.0h1.1v1.1h-1.1zM409.2,124.3h1.1v1.1h-1.1zM414.8,122.0h1.1v1.1h-1.1zM388.3,125.6h1.1v1.1h-1.1zM390.2,122.9h1.1v1.1h-1.1zM385.7,122.8h1.1v1.1h-1.1zM405.6,122.2h1.1v1.1h-1.1zM391.1,127.4h1.1v1.1h-1.1zM387.1,125.2h1.1v1.1h-1.1zM399.5,123.1h1.1v1.1h-1.1zM389.9,125.2h1.1v1.1h-1.1zM401.1,126.6h1.1v1.1h-1.1zM398.0,126.0h1.1v1.1h-1.1zM394.4,121.4h1.1v1.1h-1.1zM393.0,120.3h1.1v1.1h-1.1zM411.6,122.0h1.1v1.1h-1.1zM387.4,121.4h1.1v1.1h-1.1zM400.5,120.6h1.1v1.1h-1.1zM389.2,122.4h1.1v1.1h-1.1zM395.7,122.8h1.1v1.1h-1.1zM413.3,123.2h1.1v1.1h-1.1zM385.0,126.5h1.1v1.1h-1.1zM402.4,120.8h1.1v1.1h-1.1zM413.9,124.8h1.1v1.1h-1.1zM386.9,123.1h1.1v1.1h-1.1zM402.2,123.6h1.1v1.1h-1.1zM385.5,120.7h1.1v1.1h-1.1zM391.0,124.9h1.1v1.1h-1.1zM406.5,121.1h1.1v1.1h-1.1zM393.0,120.1h1.1v1.1h-1.1zM403.7,126.4h1.1v1.1h-1.1zM387.7,126.4h1.1v1.1h-1.1zM411.9,121.1h1.1v1.1h-1.1zM397.5,122.1h1.1v1.1h-1.1zM403.6,123.1h1.1v1.1h-1.1zM388.7,127.8h1.1v1.1h-1.1zM412.0,119.8h1.1v1.1h-1.1zM407.0,121.7h1.1v1.1h-1.1zM389.4,128.2h1.1v1.1h-1.1zM410.0,124.5h1.1v1.1h-1.1zM401.6,126.6h1.1v1.1h-1.1zM395.0,121.1h1.1v1.1h-1.1zM408.5,125.9h1.1v1.1h-1.1zM387.6,125.2h1.1v1.1h-1.1zM401.3,120.7h1.1v1.1h-1.1zM392.1,119.3h1.1v1.1h-1.1zM417.0,124.5h1.1v1.1h-1.1zM396.0,126.3h1.1v1.1h-1.1zM387.4,122.4h1.1v1.1h-1.1zM391.9,124.5h1.1v1.1h-1.1zM394.3,122.1h1.1v1.1h-1.1zM384.4,122.1h1.1v1.1h-1.1zM393.3,122.6h1.1v1.1h-1.1zM400.4,120.4h1.1v1.1h-1.1zM400.6,123.0h1.1v1.1h-1.1zM387.1,121.4h1.1v1.1h-1.1zM400.7,124.1h1.1v1.1h-1.1zM391.7,122.7h1.1v1.1h-1.1zM403.8,123.0h1.1v1.1h-1.1zM417.6,124.8h1.1v1.1h-1.1zM400.4,121.5h1.1v1.1h-1.1zM403.5,122.7h1.1v1.1h-1.1zM402.8,122.2h1.1v1.1h-1.1zM399.4,123.6h1.1v1.1h-1.1zM412.9,125.5h1.1v1.1h-1.1zM386.1,119.7h1.1v1.1h-1.1zM394.0,121.0h1.1v1.1h-1.1zM388.3,126.1h1.1v1.1h-1.1zM393.6,119.9h1.1v1.1h-1.1zM408.2,121.1h1.1v1.1h-1.1zM389.5,120.3h1.1v1.1h-1.1zM391.9,126.4h1.1v1.1h-1.1zM414.7,120.4h1.1v1.1h-1.1zM414.8,122.2h1.1v1.1h-1.1zM392.6,120.9h1.1v1.1h-1.1zM393.0,126.5h1.1v1.1h-1.1zM401.8,124.3h1.1v1.1h-1.1zM393.7,122.7h1.1v1.1h-1.1zM408.7,123.4h1.1v1.1h-1.1zM413.3,123.2h1.1v1.1h-1.1zM387.2,121.2h1.1v1.1h-1.1zM401.9,120.2h1.1v1.1h-1.1zM412.1,123.2h1.1v1.1h-1.1zM405.6,124.3h1.1v1.1h-1.1zM403.6,122.0h1.1v1.1h-1.1zM392.4,120.8h1.1v1.1h-1.1zM400.8,126.2h1.1v1.1h-1.1zM385.5,119.9h1.1v1.1h-1.1zM400.6,123.7h1.1v1.1h-1.1zM400.6,123.7h1.1v1.1h-1.1zM398.6,125.7h1.1v1.1h-1.1zM386.1,126.2h1.1v1.1h-1.1zM414.7,123.1h1.1v1.1h-1.1zM411.3,123.5h1.1v1.1h-1.1zM417.6,121.1h1.1v1.1h-1.1zM384.6,122.4h1.1v1.1h-1.1zM384.2,126.0h1.1v1.1h-1.1zM402.9,123.8h1.1v1.1h-1.1zM403.1,126.5h1.1v1.1h-1.1zM398.4,121.3h1.1v1.1h-1.1zM414.1,121.7h1.1v1.1h-1.1zM393.7,124.6h1.1v1.1h-1.1zM389.8,123.9h1.1v1.1h-1.1zM410.1,123.1h1.1v1.1h-1.1zM406.9,121.5h1.1v1.1h-1.1zM409.0,120.0h1.1v1.1h-1.1zM412.5,122.5h1.1v1.1h-1.1zM411.1,125.5h1.1v1.1h-1.1zM398.1,123.2h1.1v1.1h-1.1zM395.1,125.2h1.1v1.1h-1.1zM393.8,121.8h1.1v1.1h-1.1zM386.9,124.8h1.1v1.1h-1.1zM393.5,122.9h1.1v1.1h-1.1zM402.3,123.3h1.1v1.1h-1.1zM385.4,123.5h1.1v1.1h-1.1zM385.4,127.3h1.1v1.1h-1.1zM391.6,126.0h1.1v1.1h-1.1zM410.2,125.7h1.1v1.1h-1.1zM401.3,121.6h1.1v1.1h-1.1zM395.5,121.1h1.1v1.1h-1.1zM406.7,123.4h1.1v1.1h-1.1zM416.9,121.2h1.1v1.1h-1.1zM414.1,123.9h1.1v1.1h-1.1zM414.3,120.2h1.1v1.1h-1.1zM388.3,123.2h1.1v1.1h-1.1zM388.9,125.7h1.1v1.1h-1.1zM384.2,122.1h1.1v1.1h-1.1zM398.5,121.9h1.1v1.1h-1.1zM408.0,123.7h1.1v1.1h-1.1zM408.3,123.6h1.1v1.1h-1.1zM415.1,120.8h1.1v1.1h-1.1zM394.4,124.8h1.1v1.1h-1.1zM417.7,123.5h1.1v1.1h-1.1zM406.2,120.9h1.1v1.1h-1.1zM399.4,124.1h1.1v1.1h-1.1zM394.1,125.2h1.1v1.1h-1.1zM386.0,121.7h1.1v1.1h-1.1zM398.5,122.9h1.1v1.1h-1.1zM394.7,122.7h1.1v1.1h-1.1zM410.9,124.2h1.1v1.1h-1.1zM392.8,124.9h1.1v1.1h-1.1zM397.1,120.8h1.1v1.1h-1.1zM402.8,126.7h1.1v1.1h-1.1zM386.6,125.2h1.1v1.1h-1.1zM401.0,121.7h1.1v1.1h-1.1zM401.9,124.1h1.1v1.1h-1.1zM386.7,127.0h1.1v1.1h-1.1zM412.7,123.2h1.1v1.1h-1.1zM385.6,123.3h1.1v1.1h-1.1zM393.3,120.3h1.1v1.1h-1.1zM388.9,126.7h1.1v1.1h-1.1zM389.4,120.2h1.1v1.1h-1.1zM398.2,123.2h1.1v1.1h-1.1zM386.3,122.3h1.1v1.1h-1.1zM399.3,122.1h1.1v1.1h-1.1zM404.2,119.8h1.1v1.1h-1.1zM408.8,123.5h1.1v1.1h-1.1zM415.7,124.3h1.1v1.1h-1.1zM407.5,123.1h1.1v1.1h-1.1zM393.8,123.9h1.1v1.1h-1.1zM392.4,119.6h1.1v1.1h-1.1zM412.7,125.3h1.1v1.1h-1.1zM385.0,119.2h1.1v1.1h-1.1zM386.5,119.3h1.1v1.1h-1.1zM410.1,124.5h1.1v1.1h-1.1zM409.8,122.2h1.1v1.1h-1.1zM406.7,123.2h1.1v1.1h-1.1zM417.2,121.5h1.1v1.1h-1.1zM394.1,127.6h1.1v1.1h-1.1zM417.5,120.6h1.1v1.1h-1.1zM393.7,125.4h1.1v1.1h-1.1zM385.9,126.1h1.1v1.1h-1.1zM400.6,120.1h1.1v1.1h-1.1zM408.7,122.2h1.1v1.1h-1.1zM416.0,122.9h1.1v1.1h-1.1zM397.9,120.7h1.1v1.1h-1.1zM390.5,119.4h1.1v1.1h-1.1zM391.8,120.2h1.1v1.1h-1.1zM405.7,124.0h1.1v1.1h-1.1zM406.6,121.6h1.1v1.1h-1.1zM397.7,124.6h1.1v1.1h-1.1zM395.3,123.5h1.1v1.1h-1.1zM385.1,124.1h1.1v1.1h-1.1zM403.9,125.9h1.1v1.1h-1.1zM390.4,119.3h1.1v1.1h-1.1zM400.7,124.0h1.1v1.1h-1.1zM404.9,120.1h1.1v1.1h-1.1zM387.6,122.0h1.1v1.1h-1.1zM387.1,121.5h1.1v1.1h-1.1zM414.3,121.7h1.1v1.1h-1.1zM408.6,121.1h1.1v1.1h-1.1zM407.6,121.5h1.1v1.1h-1.1zM405.2,124.7h1.1v1.1h-1.1zM403.2,123.8h1.1v1.1h-1.1zM396.5,127.2h1.1v1.1h-1.1zM394.8,120.2h1.1v1.1h-1.1zM410.8,122.7h1.1v1.1h-1.1zM388.8,127.2h1.1v1.1h-1.1zM388.4,122.4h1.1v1.1h-1.1zM396.4,126.0h1.1v1.1h-1.1zM387.3,122.5h1.1v1.1h-1.1zM402.8,121.8h1.1v1.1h-1.1zM393.8,123.2h1.1v1.1h-1.1zM389.7,126.4h1.1v1.1h-1.1zM394.9,122.5h1.1v1.1h-1.1zM410.6,124.0h1.1v1.1h-1.1zM388.9,123.1h1.1v1.1h-1.1zM391.5,123.2h1.1v1.1h-1.1zM387.0,122.3h1.1v1.1h-1.1zM411.8,120.4h1.1v1.1h-1.1zM395.0,120.5h1.1v1.1h-1.1zM405.1,125.6h1.1v1.1h-1.1zM396.6,125.8h1.1v1.1h-1.1zM386.3,123.9h1.1v1.1h-1.1zM406.1,123.3h1.1v1.1h-1.1zM412.3,122.3h1.1v1.1h-1.1zM410.6,125.2h1.1v1.1h-1.1zM404.2,126.1h1.1v1.1h-1.1zM384.7,121.6h1.1v1.1h-1.1zM403.4,125.2h1.1v1.1h-1.1zM411.2,120.0h1.1v1.1h-1.1zM415.7,121.4h1.1v1.1h-1.1zM391.5,125.2h1.1v1.1h-1.1zM385.5,124.1h1.1v1.1h-1.1zM402.7,124.6h1.1v1.1h-1.1zM402.2,119.4h1.1v1.1h-1.1zM388.5,119.8h1.1v1.1h-1.1zM387.0,125.2h1.1v1.1h-1.1zM395.6,124.6h1.1v1.1h-1.1zM386.3,122.7h1.1v1.1h-1.1zM408.5,125.9h1.1v1.1h-1.1zM394.3,126.2h1.1v1.1h-1.1zM389.9,125.9h1.1v1.1h-1.1zM401.4,126.3h1.1v1.1h-1.1zM417.8,120.1h1.1v1.1h-1.1zM385.3,124.2h1.1v1.1h-1.1zM396.5,123.2h1.1v1.1h-1.1zM402.4,122.0h1.1v1.1h-1.1zM392.0,126.3h1.1v1.1h-1.1zM408.2,124.6h1.1v1.1h-1.1zM392.8,123.5h1.1v1.1h-1.1zM398.7,126.6h1.1v1.1h-1.1zM387.8,125.5h1.1v1.1h-1.1zM416.1,119.7h1.1v1.1h-1.1zM409.7,119.7h1.1v1.1h-1.1z" fill="#2a2af0" opacity="0.65"/><path d="M366,126 C366,121 372,120 380,120 C387,119.6 394,119.5 399,120.2 C404,121 405,123 401,125 C396,127.5 390,129 385,130.5 C378,132 371,132.5 368,131 C366,130 366,128 366,126 Z" fill="#5050f4" stroke="#6a6af8" stroke-width="1.6" opacity="0.55" filter="url(#bl2)"/><path d="M366,126 C366,121 372,120 380,120 C387,119.6 394,119.5 399,120.2 C404,121 405,123 401,125 C396,127.5 390,129 385,130.5 C378,132 371,132.5 368,131 C366,130 366,128 366,126 Z" fill="#1010f0" filter="url(#bl1)"/><ellipse cx="375" cy="127" rx="10" ry="5.5" fill="url(#dg)" transform="rotate(-8 375 127)"/></g>
<g clip-path="url(#fc22)"><path d="M488.0,124.8h1.1v1.1h-1.1zM487.3,122.1h1.1v1.1h-1.1zM485.7,121.1h1.1v1.1h-1.1zM490.1,126.0h1.1v1.1h-1.1zM482.3,124.9h1.1v1.1h-1.1zM489.9,126.1h1.1v1.1h-1.1zM495.7,121.8h1.1v1.1h-1.1zM488.8,120.9h1.1v1.1h-1.1zM494.7,125.3h1.1v1.1h-1.1zM484.3,126.6h1.1v1.1h-1.1zM488.7,123.2h1.1v1.1h-1.1zM477.7,124.3h1.1v1.1h-1.1zM476.6,120.2h1.1v1.1h-1.1zM486.0,124.9h1.1v1.1h-1.1zM489.2,121.9h1.1v1.1h-1.1zM493.4,125.5h1.1v1.1h-1.1zM471.4,125.5h1.1v1.1h-1.1zM487.4,125.6h1.1v1.1h-1.1zM482.0,123.7h1.1v1.1h-1.1zM472.8,123.5h1.1v1.1h-1.1zM480.5,123.3h1.1v1.1h-1.1zM487.9,125.7h1.1v1.1h-1.1zM480.6,120.9h1.1v1.1h-1.1zM482.5,120.5h1.1v1.1h-1.1zM474.1,119.6h1.1v1.1h-1.1zM484.5,126.7h1.1v1.1h-1.1zM486.5,126.4h1.1v1.1h-1.1zM483.3,124.2h1.1v1.1h-1.1zM493.1,122.1h1.1v1.1h-1.1zM482.0,120.9h1.1v1.1h-1.1zM475.0,122.7h1.1v1.1h-1.1zM488.4,124.5h1.1v1.1h-1.1zM475.1,122.8h1.1v1.1h-1.1zM493.6,124.2h1.1v1.1h-1.1zM476.5,126.8h1.1v1.1h-1.1zM486.0,121.0h1.1v1.1h-1.1zM470.8,122.2h1.1v1.1h-1.1zM476.2,121.3h1.1v1.1h-1.1zM480.5,122.9h1.1v1.1h-1.1zM487.8,124.3h1.1v1.1h-1.1zM489.2,122.1h1.1v1.1h-1.1zM495.2,124.8h1.1v1.1h-1.1zM471.3,121.4h1.1v1.1h-1.1zM484.9,120.9h1.1v1.1h-1.1zM482.7,126.4h1.1v1.1h-1.1zM475.1,120.4h1.1v1.1h-1.1zM483.5,120.4h1.1v1.1h-1.1zM478.6,125.7h1.1v1.1h-1.1zM490.7,121.5h1.1v1.1h-1.1zM485.6,125.8h1.1v1.1h-1.1zM489.6,125.7h1.1v1.1h-1.1zM479.0,125.9h1.1v1.1h-1.1zM479.0,124.5h1.1v1.1h-1.1zM496.6,125.0h1.1v1.1h-1.1zM488.3,126.0h1.1v1.1h-1.1zM494.1,124.6h1.1v1.1h-1.1zM473.2,121.5h1.1v1.1h-1.1zM494.8,121.1h1.1v1.1h-1.1zM489.4,122.8h1.1v1.1h-1.1zM475.4,127.0h1.1v1.1h-1.1zM487.9,123.3h1.1v1.1h-1.1zM476.2,126.6h1.1v1.1h-1.1zM484.8,120.7h1.1v1.1h-1.1zM473.6,124.5h1.1v1.1h-1.1zM489.1,123.3h1.1v1.1h-1.1zM473.1,120.9h1.1v1.1h-1.1zM487.2,123.8h1.1v1.1h-1.1zM493.3,121.0h1.1v1.1h-1.1zM487.8,121.1h1.1v1.1h-1.1zM479.6,124.9h1.1v1.1h-1.1zM477.2,127.0h1.1v1.1h-1.1zM489.8,125.8h1.1v1.1h-1.1zM471.8,124.2h1.1v1.1h-1.1zM476.2,123.6h1.1v1.1h-1.1zM474.7,121.6h1.1v1.1h-1.1zM487.5,122.1h1.1v1.1h-1.1zM496.3,122.8h1.1v1.1h-1.1zM494.8,122.0h1.1v1.1h-1.1zM483.9,125.8h1.1v1.1h-1.1zM491.4,121.4h1.1v1.1h-1.1zM484.4,125.0h1.1v1.1h-1.1zM493.8,124.6h1.1v1.1h-1.1zM471.5,126.5h1.1v1.1h-1.1zM476.1,126.7h1.1v1.1h-1.1zM478.1,121.9h1.1v1.1h-1.1zM487.7,124.4h1.1v1.1h-1.1zM486.7,125.4h1.1v1.1h-1.1zM474.7,125.6h1.1v1.1h-1.1zM472.2,124.6h1.1v1.1h-1.1zM494.6,122.5h1.1v1.1h-1.1zM470.9,127.7h1.1v1.1h-1.1zM496.4,123.7h1.1v1.1h-1.1zM491.8,123.0h1.1v1.1h-1.1zM481.9,120.1h1.1v1.1h-1.1zM495.4,126.0h1.1v1.1h-1.1zM495.7,122.0h1.1v1.1h-1.1zM481.4,120.1h1.1v1.1h-1.1zM476.3,125.4h1.1v1.1h-1.1zM493.6,124.5h1.1v1.1h-1.1zM482.1,124.3h1.1v1.1h-1.1zM472.5,124.5h1.1v1.1h-1.1zM470.5,123.0h1.1v1.1h-1.1zM492.6,123.7h1.1v1.1h-1.1zM471.8,123.2h1.1v1.1h-1.1zM490.3,121.4h1.1v1.1h-1.1zM481.1,121.6h1.1v1.1h-1.1zM477.2,120.0h1.1v1.1h-1.1zM472.9,124.1h1.1v1.1h-1.1zM493.7,126.0h1.1v1.1h-1.1zM477.4,124.6h1.1v1.1h-1.1zM470.4,124.1h1.1v1.1h-1.1zM476.5,124.9h1.1v1.1h-1.1zM473.5,121.6h1.1v1.1h-1.1zM472.7,120.3h1.1v1.1h-1.1zM471.8,127.3h1.1v1.1h-1.1zM490.5,120.9h1.1v1.1h-1.1zM490.1,126.2h1.1v1.1h-1.1zM471.5,119.4h1.1v1.1h-1.1zM474.8,126.6h1.1v1.1h-1.1zM484.5,124.5h1.1v1.1h-1.1zM473.3,124.6h1.1v1.1h-1.1zM480.7,125.3h1.1v1.1h-1.1zM485.2,120.3h1.1v1.1h-1.1zM474.7,119.9h1.1v1.1h-1.1zM488.4,122.9h1.1v1.1h-1.1zM478.0,125.2h1.1v1.1h-1.1zM492.1,121.3h1.1v1.1h-1.1zM478.6,121.6h1.1v1.1h-1.1zM487.6,120.7h1.1v1.1h-1.1zM491.4,126.1h1.1v1.1h-1.1zM485.6,124.7h1.1v1.1h-1.1zM474.7,123.8h1.1v1.1h-1.1zM495.2,121.5h1.1v1.1h-1.1zM484.9,124.1h1.1v1.1h-1.1zM478.3,125.6h1.1v1.1h-1.1zM486.4,123.6h1.1v1.1h-1.1zM474.2,124.0h1.1v1.1h-1.1zM485.9,122.4h1.1v1.1h-1.1zM490.5,123.5h1.1v1.1h-1.1zM488.2,123.1h1.1v1.1h-1.1zM494.8,125.5h1.1v1.1h-1.1zM496.3,121.5h1.1v1.1h-1.1zM490.0,122.5h1.1v1.1h-1.1zM471.1,122.8h1.1v1.1h-1.1zM492.3,125.6h1.1v1.1h-1.1zM490.2,121.5h1.1v1.1h-1.1zM487.9,126.0h1.1v1.1h-1.1zM476.9,126.2h1.1v1.1h-1.1zM470.3,124.7h1.1v1.1h-1.1zM478.9,125.7h1.1v1.1h-1.1zM483.0,124.8h1.1v1.1h-1.1zM479.7,123.1h1.1v1.1h-1.1zM474.9,125.2h1.1v1.1h-1.1zM496.3,124.5h1.1v1.1h-1.1zM471.7,123.0h1.1v1.1h-1.1zM475.9,125.0h1.1v1.1h-1.1zM496.2,125.4h1.1v1.1h-1.1zM473.3,126.6h1.1v1.1h-1.1zM487.1,123.0h1.1v1.1h-1.1zM482.3,121.6h1.1v1.1h-1.1zM477.6,120.0h1.1v1.1h-1.1zM470.8,126.7h1.1v1.1h-1.1zM473.2,123.2h1.1v1.1h-1.1zM484.8,123.4h1.1v1.1h-1.1zM485.9,121.9h1.1v1.1h-1.1zM491.9,123.4h1.1v1.1h-1.1zM496.5,122.1h1.1v1.1h-1.1zM479.2,120.0h1.1v1.1h-1.1zM470.4,126.1h1.1v1.1h-1.1zM476.0,124.3h1.1v1.1h-1.1zM489.8,121.8h1.1v1.1h-1.1zM475.9,120.5h1.1v1.1h-1.1zM487.2,124.5h1.1v1.1h-1.1zM488.6,125.7h1.1v1.1h-1.1zM470.1,126.4h1.1v1.1h-1.1zM480.8,126.1h1.1v1.1h-1.1zM480.1,126.0h1.1v1.1h-1.1zM479.0,126.3h1.1v1.1h-1.1zM495.4,122.2h1.1v1.1h-1.1zM481.3,126.9h1.1v1.1h-1.1zM485.6,126.4h1.1v1.1h-1.1zM473.4,124.3h1.1v1.1h-1.1zM482.5,122.7h1.1v1.1h-1.1zM487.6,122.8h1.1v1.1h-1.1zM493.0,123.0h1.1v1.1h-1.1zM480.5,120.3h1.1v1.1h-1.1zM476.5,120.5h1.1v1.1h-1.1zM496.8,123.0h1.1v1.1h-1.1zM488.5,122.0h1.1v1.1h-1.1zM472.4,126.4h1.1v1.1h-1.1zM480.9,120.7h1.1v1.1h-1.1zM485.2,120.5h1.1v1.1h-1.1zM471.5,121.0h1.1v1.1h-1.1zM488.7,122.9h1.1v1.1h-1.1zM495.5,124.9h1.1v1.1h-1.1zM486.7,125.2h1.1v1.1h-1.1zM480.0,121.0h1.1v1.1h-1.1zM492.1,124.4h1.1v1.1h-1.1zM484.0,122.6h1.1v1.1h-1.1zM473.8,122.1h1.1v1.1h-1.1zM473.7,121.4h1.1v1.1h-1.1zM478.3,120.6h1.1v1.1h-1.1zM471.0,124.2h1.1v1.1h-1.1zM483.9,125.9h1.1v1.1h-1.1zM477.2,124.8h1.1v1.1h-1.1zM487.9,123.8h1.1v1.1h-1.1zM475.3,123.9h1.1v1.1h-1.1zM489.6,125.5h1.1v1.1h-1.1zM484.4,125.7h1.1v1.1h-1.1zM471.8,123.4h1.1v1.1h-1.1zM486.3,122.9h1.1v1.1h-1.1z" fill="#2a2af0" opacity="0.65"/><path d="M439.5,125 C439.5,120.5 445,119.5 452,120.5 C458,121.5 464,120 470,119.8 C478,119.8 488,121 492,123 C492,125.5 484,127.5 476,128 C468,128.5 460,130 452,130.8 C445,131.3 440,130 439.5,125 Z" fill="#5050f4" stroke="#6a6af8" stroke-width="1.6" opacity="0.55" filter="url(#bl2)"/><path d="M439.5,125 C439.5,120.5 445,119.5 452,120.5 C458,121.5 464,120 470,119.8 C478,119.8 488,121 492,123 C492,125.5 484,127.5 476,128 C468,128.5 460,130 452,130.8 C445,131.3 440,130 439.5,125 Z" fill="#1010f0" filter="url(#bl1)"/><ellipse cx="448.5" cy="126.3" rx="9" ry="5" fill="url(#dg)" transform="rotate(-8 448.5 126.3)"/></g>
<rect x="318.5" y="38.699999999999996" width="33.200000000000045" height="16.500000000000004" fill="none" stroke="#d48ccc" stroke-width="0.85" />
<rect x="278.6" y="38.4" width="73.5" height="36.8" fill="none" stroke="#1e1e1e" stroke-width="1.35" />
<text x="339.3" y="64.6" font-size="8.3" font-weight="normal" font-style="normal" text-anchor="end" fill="#333" stroke="#333" stroke-width="0.28" >0.0</text>
<rect x="394.2" y="38.699999999999996" width="32.60000000000008" height="15.900000000000002" fill="none" stroke="#d48ccc" stroke-width="0.85" />
<rect x="354.8" y="38.4" width="72.4" height="36.8" fill="none" stroke="#1e1e1e" stroke-width="1.35" />
<text x="425.4" y="64.6" font-size="8.3" font-weight="normal" font-style="normal" text-anchor="end" fill="#333" stroke="#333" stroke-width="0.28" >1.94±0.33</text>
<rect x="471.6" y="38.699999999999996" width="31.5" height="16.000000000000004" fill="none" stroke="#d48ccc" stroke-width="0.85" />
<rect x="430.5" y="38.4" width="73" height="36.8" fill="none" stroke="#1e1e1e" stroke-width="1.35" />
<text x="501.8" y="64.6" font-size="8.3" font-weight="normal" font-style="normal" text-anchor="end" fill="#333" stroke="#333" stroke-width="0.28" >2.07±0.31</text>
<rect x="318.5" y="78.0" width="33.200000000000045" height="17.2" fill="none" stroke="#d48ccc" stroke-width="0.85" />
<rect x="278.6" y="77.7" width="73.5" height="36.45" fill="none" stroke="#1e1e1e" stroke-width="1.35" />
<text x="339.3" y="105.9" font-size="8.3" font-weight="normal" font-style="normal" text-anchor="end" fill="#333" stroke="#333" stroke-width="0.28" >0.0</text>
<rect x="394.2" y="78.0" width="32.60000000000008" height="17.2" fill="none" stroke="#d48ccc" stroke-width="0.85" />
<rect x="354.8" y="77.7" width="72.4" height="36.45" fill="none" stroke="#1e1e1e" stroke-width="1.35" />
<text x="425.4" y="105.9" font-size="8.3" font-weight="normal" font-style="normal" text-anchor="end" fill="#333" stroke="#333" stroke-width="0.28" >4.5±0.76</text>
<rect x="471.6" y="78.0" width="31.5" height="17.2" fill="none" stroke="#d48ccc" stroke-width="0.85" />
<rect x="430.5" y="77.7" width="73" height="36.45" fill="none" stroke="#1e1e1e" stroke-width="1.35" />
<text x="501.8" y="105.9" font-size="8.3" font-weight="normal" font-style="normal" text-anchor="end" fill="#333" stroke="#333" stroke-width="0.28" >3.71±0.34</text>
<rect x="318.5" y="116.6" width="33.200000000000045" height="17.09999999999999" fill="none" stroke="#d48ccc" stroke-width="0.85" />
<rect x="278.6" y="116.3" width="73.5" height="38.2" fill="none" stroke="#1e1e1e" stroke-width="1.35" />
<text x="339.3" y="142.6" font-size="8.3" font-weight="normal" font-style="normal" text-anchor="end" fill="#333" stroke="#333" stroke-width="0.28" >0.0</text>
<rect x="394.2" y="116.6" width="32.60000000000008" height="17.09999999999999" fill="none" stroke="#d48ccc" stroke-width="0.85" />
<rect x="354.8" y="116.3" width="72.4" height="38.2" fill="none" stroke="#1e1e1e" stroke-width="1.35" />
<text x="425.4" y="142.6" font-size="8.3" font-weight="normal" font-style="normal" text-anchor="end" fill="#333" stroke="#333" stroke-width="0.28" >7.3±0.77</text>
<rect x="469.6" y="116.6" width="33.5" height="17.09999999999999" fill="none" stroke="#d48ccc" stroke-width="0.85" />
<rect x="430.5" y="116.3" width="73" height="38.2" fill="none" stroke="#1e1e1e" stroke-width="1.35" />
<text x="501.8" y="142.6" font-size="8.3" font-weight="normal" font-style="normal" text-anchor="end" fill="#333" stroke="#333" stroke-width="0.28" >6.9±0.83</text>
<line x1="248.6" y1="79" x2="248.6" y2="166.3" stroke="#111" stroke-width="1.3"/>
<path d="M248.6,76 L245.8,82 L251.4,82 Z" fill="#111"/>
<line x1="248.6" y1="166.3" x2="398" y2="166.3" stroke="#111" stroke-width="1.3"/>
<path d="M401,166.3 L395,163.5 L395,169.1 Z" fill="#111"/>
<text x="405" y="169.6" font-size="9" font-weight="normal" font-style="normal" text-anchor="start" fill="#222" stroke="#222" stroke-width="0.28" textLength="20.4" lengthAdjust="spacingAndGlyphs" >hCD45</text>
<text x="0" y="0" font-size="8.8" font-weight="normal" text-anchor="middle" fill="#222" stroke="#222" stroke-width="0.3" transform="translate(243.2,120.6) rotate(-90)" textLength="20.3" lengthAdjust="spacingAndGlyphs">SSC-H</text>
<text x="7.6" y="204.7" font-size="12" font-weight="bold" font-style="normal" text-anchor="start" fill="#000" stroke="#000" stroke-width="0.55" >B</text>
<text x="38" y="219.6" font-size="9.1" font-weight="bold" font-style="normal" text-anchor="start" fill="#000" stroke="#000" stroke-width="0.12" textLength="128" lengthAdjust="spacingAndGlyphs" >Hematoxylin &amp; Eosin staining</text>
<text x="48.5" y="299.2" font-size="9.1" font-weight="bold" font-style="normal" text-anchor="start" fill="#000" stroke="#000" stroke-width="0.12" textLength="107.3" lengthAdjust="spacingAndGlyphs" >Human myeloperoxidase</text>
<defs><filter id="hb" x="0" y="0" width="100%" height="100%"><feGaussianBlur stdDeviation="0.9"/></filter><filter id="hb2" x="0" y="0" width="100%" height="100%"><feGaussianBlur stdDeviation="0.45"/></filter><clipPath id="he1"><rect x="19.7" y="224.8" width="78.3" height="63"/></clipPath><clipPath id="he2"><rect x="102.6" y="225.5" width="79.1" height="63.1"/></clipPath><clipPath id="mp1"><rect x="19.7" y="302.7" width="78.3" height="64"/></clipPath><clipPath id="mp2"><rect x="102.6" y="302.5" width="79.1" height="64.7"/></clipPath></defs>
<g clip-path="url(#he1)"><rect x="19.7" y="224.8" width="78.3" height="63.0" fill="#b476cc"/>
<g filter="url(#hb)"><g fill="#e0c0ea" opacity="0.65"><circle cx="24.7" cy="276.8" r="1.5"/><circle cx="49.3" cy="269.9" r="1.7"/><circle cx="53.6" cy="263.7" r="1.5"/><circle cx="63.5" cy="286.3" r="1.1"/><circle cx="90.9" cy="253.5" r="0.8"/><circle cx="57.8" cy="239.4" r="1.2"/><circle cx="78.7" cy="231.2" r="0.9"/><circle cx="43.7" cy="278.2" r="1.2"/><circle cx="22.4" cy="268.8" r="1.7"/><circle cx="64.2" cy="259.5" r="1.3"/><circle cx="45.8" cy="234.3" r="1.5"/><circle cx="94.1" cy="273.0" r="1.7"/><circle cx="82.8" cy="231.0" r="1.2"/><circle cx="81.1" cy="238.6" r="1.3"/><circle cx="35.3" cy="258.5" r="2.0"/><circle cx="67.4" cy="232.4" r="1.6"/><circle cx="79.6" cy="261.5" r="1.4"/><circle cx="90.1" cy="283.0" r="1.6"/><circle cx="73.7" cy="247.7" r="1.4"/><circle cx="94.2" cy="270.1" r="1.3"/><circle cx="42.5" cy="278.8" r="2.1"/><circle cx="76.6" cy="241.5" r="1.1"/><circle cx="39.2" cy="226.1" r="2.1"/><circle cx="61.8" cy="240.8" r="2.0"/><circle cx="42.6" cy="240.7" r="2.0"/><circle cx="30.0" cy="255.3" r="1.0"/><circle cx="41.0" cy="242.8" r="1.5"/><circle cx="41.4" cy="256.9" r="2.2"/><circle cx="88.1" cy="234.9" r="1.2"/><circle cx="87.0" cy="278.6" r="1.0"/><circle cx="67.4" cy="259.1" r="1.8"/><circle cx="77.2" cy="258.5" r="1.1"/><circle cx="71.4" cy="282.7" r="1.6"/><circle cx="80.4" cy="241.2" r="1.0"/><circle cx="24.0" cy="283.8" r="2.1"/><circle cx="48.1" cy="274.4" r="1.2"/><circle cx="38.0" cy="253.3" r="0.9"/><circle cx="48.7" cy="270.7" r="1.8"/><circle cx="93.6" cy="256.7" r="1.3"/><circle cx="64.0" cy="246.8" r="1.6"/><circle cx="37.9" cy="284.6" r="1.5"/><circle cx="28.3" cy="284.1" r="2.1"/><circle cx="71.2" cy="229.3" r="1.5"/><circle cx="90.3" cy="231.2" r="1.3"/><circle cx="64.0" cy="232.3" r="0.8"/><circle cx="97.1" cy="244.3" r="1.5"/><circle cx="88.0" cy="228.7" r="1.2"/><circle cx="71.9" cy="229.1" r="1.6"/><circle cx="22.0" cy="260.8" r="1.7"/><circle cx="96.7" cy="268.0" r="1.4"/><circle cx="86.7" cy="274.2" r="0.9"/><circle cx="60.5" cy="229.7" r="1.5"/><circle cx="61.0" cy="236.4" r="1.5"/><circle cx="60.9" cy="247.1" r="1.7"/><circle cx="58.8" cy="237.2" r="2.2"/><circle cx="74.9" cy="251.1" r="1.2"/><circle cx="57.7" cy="229.8" r="1.4"/><circle cx="57.8" cy="259.9" r="0.9"/><circle cx="95.8" cy="260.2" r="1.9"/><circle cx="30.3" cy="243.7" r="1.1"/><circle cx="46.0" cy="269.0" r="2.0"/><circle cx="93.2" cy="286.3" r="1.9"/><circle cx="94.1" cy="283.1" r="1.2"/><circle cx="86.9" cy="283.7" r="2.1"/><circle cx="21.3" cy="255.7" r="1.5"/><circle cx="65.9" cy="268.0" r="1.4"/><circle cx="67.7" cy="263.4" r="1.6"/><circle cx="92.8" cy="230.2" r="2.1"/><circle cx="60.4" cy="285.2" r="1.5"/><circle cx="22.2" cy="231.8" r="1.5"/><circle cx="87.7" cy="285.1" r="1.2"/><circle cx="21.6" cy="226.8" r="2.0"/><circle cx="84.7" cy="268.2" r="1.5"/><circle cx="60.4" cy="261.3" r="1.3"/><circle cx="79.0" cy="275.7" r="1.1"/><circle cx="19.8" cy="229.1" r="1.1"/><circle cx="81.9" cy="286.3" r="2.0"/><circle cx="85.0" cy="250.5" r="1.9"/><circle cx="46.0" cy="246.6" r="2.2"/><circle cx="20.9" cy="273.3" r="2.1"/><circle cx="40.2" cy="261.7" r="1.8"/><circle cx="60.9" cy="245.9" r="1.9"/><circle cx="72.5" cy="253.5" r="1.8"/><circle cx="38.1" cy="280.4" r="1.9"/><circle cx="33.5" cy="234.2" r="1.9"/><circle cx="39.5" cy="255.0" r="1.0"/><circle cx="81.1" cy="245.8" r="1.9"/><circle cx="38.4" cy="266.0" r="1.2"/><circle cx="40.1" cy="257.7" r="1.1"/><circle cx="39.7" cy="280.1" r="2.1"/><circle cx="34.1" cy="239.4" r="0.8"/><circle cx="43.3" cy="245.6" r="1.5"/><circle cx="76.6" cy="267.3" r="1.3"/><circle cx="81.6" cy="258.8" r="1.9"/><circle cx="25.9" cy="272.9" r="1.7"/><circle cx="38.8" cy="238.5" r="2.1"/><circle cx="52.1" cy="287.2" r="2.1"/><circle cx="48.7" cy="247.3" r="1.7"/><circle cx="91.0" cy="287.2" r="0.9"/><circle cx="50.0" cy="233.3" r="1.7"/><circle cx="81.5" cy="274.1" r="1.0"/><circle cx="46.2" cy="274.6" r="2.2"/><circle cx="49.4" cy="242.9" r="2.0"/><circle cx="66.2" cy="271.5" r="1.2"/><circle cx="57.0" cy="276.4" r="1.1"/><circle cx="20.8" cy="256.2" r="1.8"/><circle cx="49.5" cy="228.9" r="1.9"/><circle cx="91.3" cy="233.8" r="2.2"/><circle cx="35.8" cy="280.1" r="1.7"/><circle cx="94.9" cy="283.5" r="1.0"/><circle cx="46.5" cy="283.4" r="1.8"/><circle cx="30.8" cy="269.8" r="0.9"/><circle cx="93.7" cy="236.9" r="2.0"/><circle cx="30.3" cy="267.5" r="1.9"/><circle cx="88.8" cy="270.6" r="1.9"/><circle cx="94.0" cy="253.4" r="2.0"/><circle cx="48.9" cy="232.4" r="1.6"/><circle cx="41.1" cy="283.9" r="2.1"/><circle cx="25.3" cy="236.4" r="1.7"/><circle cx="46.9" cy="227.9" r="1.5"/><circle cx="43.7" cy="236.3" r="1.3"/><circle cx="29.3" cy="258.0" r="1.3"/><circle cx="62.0" cy="260.6" r="0.8"/><circle cx="79.4" cy="258.0" r="1.0"/><circle cx="93.9" cy="229.9" r="1.9"/><circle cx="37.2" cy="229.6" r="1.1"/><circle cx="43.9" cy="272.7" r="1.7"/><circle cx="92.1" cy="256.5" r="1.9"/><circle cx="32.3" cy="245.6" r="1.8"/><circle cx="64.2" cy="243.3" r="1.5"/><circle cx="81.8" cy="286.1" r="1.2"/><circle cx="55.7" cy="262.8" r="1.2"/><circle cx="85.9" cy="254.1" r="1.1"/><circle cx="34.6" cy="284.3" r="1.7"/><circle cx="96.3" cy="226.3" r="1.8"/><circle cx="79.4" cy="250.0" r="2.1"/><circle cx="23.8" cy="235.1" r="1.3"/><circle cx="33.2" cy="271.2" r="2.1"/><circle cx="36.3" cy="226.0" r="2.1"/><circle cx="36.9" cy="275.1" r="1.2"/></g><g fill="#9a58ba" opacity="0.45"><circle cx="94.2" cy="263.8" r="1.8"/><circle cx="95.1" cy="273.6" r="2.9"/><circle cx="45.8" cy="242.4" r="1.6"/><circle cx="60.6" cy="255.5" r="2.4"/><circle cx="22.5" cy="279.1" r="2.7"/><circle cx="61.6" cy="254.6" r="2.8"/><circle cx="78.0" cy="240.5" r="2.1"/><circle cx="35.3" cy="261.4" r="2.4"/><circle cx="38.6" cy="245.4" r="2.6"/><circle cx="25.2" cy="228.1" r="2.6"/><circle cx="47.5" cy="258.0" r="2.6"/><circle cx="94.0" cy="265.1" r="2.4"/><circle cx="52.1" cy="250.4" r="1.9"/><circle cx="38.1" cy="254.7" r="2.6"/><circle cx="94.8" cy="232.5" r="2.3"/><circle cx="53.6" cy="268.0" r="2.3"/><circle cx="79.4" cy="259.8" r="3.0"/><circle cx="69.9" cy="283.9" r="1.7"/><circle cx="90.4" cy="240.6" r="2.7"/><circle cx="62.1" cy="287.6" r="2.0"/><circle cx="61.0" cy="236.7" r="2.6"/><circle cx="79.7" cy="228.4" r="2.9"/><circle cx="31.5" cy="259.5" r="1.9"/><circle cx="41.0" cy="270.1" r="2.4"/><circle cx="76.6" cy="244.9" r="2.3"/><circle cx="79.8" cy="265.6" r="2.2"/><circle cx="75.0" cy="253.6" r="1.8"/><circle cx="53.6" cy="231.5" r="2.4"/><circle cx="56.9" cy="284.9" r="2.8"/><circle cx="89.3" cy="228.3" r="2.5"/><circle cx="25.3" cy="241.8" r="1.9"/><circle cx="74.1" cy="252.4" r="2.7"/><circle cx="29.7" cy="251.6" r="2.1"/><circle cx="64.6" cy="271.7" r="1.7"/><circle cx="51.3" cy="265.7" r="2.4"/><circle cx="73.0" cy="263.6" r="2.2"/><circle cx="23.3" cy="269.6" r="2.3"/><circle cx="29.8" cy="228.2" r="3.0"/><circle cx="56.8" cy="225.9" r="2.4"/><circle cx="25.4" cy="249.4" r="2.9"/><circle cx="56.4" cy="231.5" r="2.0"/><circle cx="94.4" cy="278.5" r="2.6"/><circle cx="57.8" cy="261.8" r="1.6"/><circle cx="44.4" cy="286.8" r="2.0"/><circle cx="29.1" cy="244.0" r="2.5"/><circle cx="37.0" cy="279.3" r="2.5"/><circle cx="59.5" cy="250.7" r="2.7"/><circle cx="50.9" cy="280.7" r="2.1"/><circle cx="39.9" cy="274.7" r="1.9"/><circle cx="75.1" cy="253.0" r="2.0"/><circle cx="48.3" cy="252.3" r="2.3"/><circle cx="55.2" cy="244.7" r="1.5"/><circle cx="68.5" cy="250.7" r="2.1"/><circle cx="43.5" cy="273.5" r="2.5"/><circle cx="55.3" cy="254.6" r="1.7"/><circle cx="88.6" cy="253.4" r="2.0"/><circle cx="49.1" cy="281.4" r="2.8"/><circle cx="96.2" cy="274.3" r="2.9"/><circle cx="51.1" cy="267.1" r="1.9"/><circle cx="77.7" cy="243.5" r="1.8"/><circle cx="76.4" cy="284.6" r="1.7"/><circle cx="71.0" cy="266.9" r="1.6"/><circle cx="53.8" cy="266.0" r="2.7"/><circle cx="37.4" cy="273.3" r="2.6"/><circle cx="61.9" cy="286.5" r="1.9"/><circle cx="46.5" cy="269.6" r="2.2"/><circle cx="21.0" cy="251.0" r="2.5"/><circle cx="79.7" cy="241.1" r="1.5"/><circle cx="67.7" cy="238.7" r="2.7"/><circle cx="50.9" cy="287.4" r="2.8"/></g></g>
<g filter="url(#hb2)"><g fill="#6e2c9c" opacity="0.5"><circle cx="36.2" cy="269.1" r="0.7"/><circle cx="74.5" cy="246.0" r="0.5"/><circle cx="88.5" cy="238.6" r="0.5"/><circle cx="56.8" cy="244.6" r="0.5"/><circle cx="54.3" cy="276.0" r="0.7"/><circle cx="64.3" cy="263.2" r="0.5"/><circle cx="97.0" cy="238.9" r="0.7"/><circle cx="37.1" cy="263.8" r="0.4"/><circle cx="31.5" cy="285.5" r="0.7"/><circle cx="46.4" cy="252.5" r="0.4"/><circle cx="53.5" cy="276.9" r="0.6"/><circle cx="91.4" cy="267.5" r="0.7"/><circle cx="33.1" cy="247.2" r="0.5"/><circle cx="75.0" cy="238.4" r="0.6"/><circle cx="88.8" cy="279.8" r="0.5"/><circle cx="37.4" cy="247.7" r="0.4"/><circle cx="37.6" cy="270.1" r="0.7"/><circle cx="23.4" cy="268.6" r="0.5"/><circle cx="24.6" cy="277.8" r="0.6"/><circle cx="62.2" cy="261.5" r="0.4"/><circle cx="27.2" cy="227.6" r="0.4"/><circle cx="47.3" cy="286.8" r="0.5"/><circle cx="66.7" cy="279.1" r="0.6"/><circle cx="24.6" cy="231.2" r="0.4"/><circle cx="21.3" cy="268.7" r="0.4"/><circle cx="33.5" cy="242.0" r="0.5"/><circle cx="71.9" cy="268.6" r="0.5"/><circle cx="44.9" cy="254.2" r="0.7"/><circle cx="42.3" cy="260.2" r="0.7"/><circle cx="47.6" cy="247.5" r="0.5"/><circle cx="39.2" cy="243.2" r="0.6"/><circle cx="40.1" cy="225.8" r="0.5"/><circle cx="44.0" cy="262.1" r="0.6"/><circle cx="40.7" cy="231.9" r="0.6"/><circle cx="85.9" cy="254.4" r="0.4"/><circle cx="59.8" cy="244.4" r="0.5"/><circle cx="89.2" cy="272.3" r="0.5"/><circle cx="68.5" cy="266.3" r="0.5"/><circle cx="73.9" cy="256.3" r="0.6"/><circle cx="52.1" cy="249.4" r="0.6"/><circle cx="59.2" cy="254.3" r="0.5"/><circle cx="61.1" cy="258.4" r="0.6"/><circle cx="81.4" cy="281.0" r="0.6"/><circle cx="37.2" cy="226.2" r="0.6"/><circle cx="43.3" cy="226.8" r="0.5"/><circle cx="82.1" cy="263.9" r="0.4"/><circle cx="42.1" cy="236.8" r="0.5"/><circle cx="87.7" cy="277.5" r="0.7"/><circle cx="73.2" cy="268.4" r="0.5"/><circle cx="78.0" cy="253.4" r="0.7"/><circle cx="50.8" cy="259.6" r="0.7"/><circle cx="88.6" cy="287.3" r="0.6"/><circle cx="91.5" cy="277.4" r="0.5"/><circle cx="25.5" cy="240.4" r="0.6"/><circle cx="95.7" cy="259.0" r="0.6"/><circle cx="60.0" cy="244.3" r="0.7"/><circle cx="87.2" cy="257.4" r="0.6"/><circle cx="97.2" cy="229.6" r="0.6"/><circle cx="97.5" cy="225.6" r="0.6"/><circle cx="31.3" cy="249.3" r="0.6"/><circle cx="69.8" cy="231.8" r="0.5"/><circle cx="63.7" cy="284.0" r="0.6"/><circle cx="53.8" cy="272.8" r="0.5"/><circle cx="66.0" cy="261.5" r="0.6"/><circle cx="33.3" cy="254.0" r="0.6"/><circle cx="90.2" cy="267.3" r="0.5"/><circle cx="36.7" cy="253.0" r="0.5"/><circle cx="62.3" cy="246.0" r="0.5"/><circle cx="64.9" cy="264.6" r="0.7"/><circle cx="21.1" cy="238.7" r="0.5"/><circle cx="71.1" cy="238.3" r="0.5"/><circle cx="25.4" cy="272.8" r="0.7"/><circle cx="45.8" cy="285.1" r="0.6"/><circle cx="63.5" cy="231.2" r="0.7"/><circle cx="69.6" cy="241.3" r="0.6"/><circle cx="83.5" cy="270.4" r="0.4"/><circle cx="79.1" cy="228.4" r="0.5"/><circle cx="22.4" cy="275.1" r="0.4"/><circle cx="30.7" cy="237.5" r="0.5"/><circle cx="22.0" cy="235.1" r="0.5"/><circle cx="56.8" cy="285.2" r="0.5"/><circle cx="44.9" cy="241.1" r="0.7"/><circle cx="84.5" cy="236.4" r="0.6"/><circle cx="69.4" cy="263.6" r="0.4"/><circle cx="92.9" cy="227.6" r="0.5"/><circle cx="63.8" cy="248.9" r="0.6"/><circle cx="84.2" cy="240.7" r="0.6"/><circle cx="75.7" cy="236.5" r="0.5"/><circle cx="58.5" cy="285.8" r="0.5"/><circle cx="38.5" cy="242.4" r="0.5"/><circle cx="91.5" cy="267.3" r="0.6"/><circle cx="24.9" cy="236.5" r="0.6"/><circle cx="38.3" cy="243.1" r="0.4"/><circle cx="85.8" cy="268.9" r="0.5"/><circle cx="96.4" cy="267.0" r="0.5"/><circle cx="68.9" cy="248.9" r="0.6"/><circle cx="75.9" cy="255.9" r="0.5"/><circle cx="24.3" cy="255.8" r="0.6"/><circle cx="49.8" cy="258.3" r="0.7"/><circle cx="23.5" cy="226.6" r="0.6"/><circle cx="96.7" cy="248.2" r="0.6"/><circle cx="45.5" cy="234.1" r="0.6"/><circle cx="66.1" cy="282.4" r="0.4"/><circle cx="33.8" cy="256.3" r="0.6"/><circle cx="58.8" cy="273.0" r="0.5"/><circle cx="63.9" cy="239.8" r="0.5"/><circle cx="34.6" cy="270.5" r="0.6"/><circle cx="25.8" cy="279.3" r="0.5"/><circle cx="22.3" cy="236.7" r="0.7"/><circle cx="56.3" cy="278.0" r="0.6"/><circle cx="68.2" cy="271.8" r="0.7"/><circle cx="79.3" cy="270.3" r="0.4"/><circle cx="23.7" cy="276.8" r="0.5"/><circle cx="31.3" cy="235.0" r="0.5"/><circle cx="22.6" cy="226.6" r="0.6"/><circle cx="88.4" cy="248.8" r="0.6"/><circle cx="26.5" cy="227.7" r="0.6"/><circle cx="86.0" cy="262.7" r="0.7"/><circle cx="91.4" cy="227.2" r="0.5"/><circle cx="28.5" cy="242.9" r="0.5"/><circle cx="34.7" cy="231.9" r="0.6"/><circle cx="35.4" cy="265.1" r="0.6"/><circle cx="32.9" cy="235.4" r="0.5"/><circle cx="61.6" cy="248.5" r="0.7"/><circle cx="31.4" cy="260.6" r="0.5"/><circle cx="59.5" cy="249.2" r="0.4"/><circle cx="56.8" cy="227.3" r="0.6"/><circle cx="67.9" cy="237.0" r="0.7"/><circle cx="46.0" cy="225.4" r="0.7"/><circle cx="89.2" cy="261.8" r="0.6"/><circle cx="50.4" cy="258.9" r="0.6"/><circle cx="93.3" cy="233.1" r="0.6"/><circle cx="49.7" cy="269.4" r="0.5"/><circle cx="48.8" cy="269.3" r="0.4"/><circle cx="90.8" cy="227.4" r="0.5"/><circle cx="42.0" cy="243.2" r="0.6"/><circle cx="78.4" cy="274.2" r="0.6"/><circle cx="74.5" cy="283.1" r="0.7"/><circle cx="34.2" cy="249.6" r="0.6"/><circle cx="86.5" cy="273.0" r="0.6"/><circle cx="28.5" cy="286.5" r="0.6"/><circle cx="77.7" cy="279.4" r="0.5"/><circle cx="48.1" cy="262.9" r="0.7"/><circle cx="94.8" cy="281.4" r="0.6"/><circle cx="64.9" cy="280.9" r="0.5"/><circle cx="97.9" cy="277.7" r="0.7"/><circle cx="71.1" cy="285.3" r="0.6"/><circle cx="31.0" cy="250.2" r="0.5"/><circle cx="63.9" cy="233.1" r="0.6"/><circle cx="80.8" cy="228.7" r="0.5"/><circle cx="68.9" cy="242.4" r="0.6"/><circle cx="45.0" cy="263.0" r="0.6"/><circle cx="34.7" cy="253.0" r="0.6"/><circle cx="86.8" cy="287.0" r="0.7"/><circle cx="40.3" cy="247.8" r="0.7"/><circle cx="74.0" cy="236.8" r="0.5"/><circle cx="86.2" cy="237.3" r="0.5"/><circle cx="63.3" cy="246.2" r="0.6"/><circle cx="19.8" cy="224.9" r="0.6"/><circle cx="19.9" cy="245.5" r="0.4"/><circle cx="41.2" cy="287.3" r="0.6"/><circle cx="69.6" cy="228.9" r="0.5"/><circle cx="75.8" cy="239.4" r="0.6"/><circle cx="57.4" cy="270.3" r="0.5"/><circle cx="86.8" cy="283.7" r="0.5"/><circle cx="52.7" cy="244.8" r="0.5"/><circle cx="50.8" cy="244.5" r="0.5"/><circle cx="77.8" cy="254.0" r="0.6"/><circle cx="73.4" cy="234.4" r="0.7"/><circle cx="81.0" cy="285.7" r="0.6"/><circle cx="35.6" cy="263.6" r="0.6"/><circle cx="32.4" cy="227.0" r="0.6"/><circle cx="52.1" cy="236.3" r="0.5"/><circle cx="76.9" cy="260.9" r="0.5"/><circle cx="72.5" cy="285.8" r="0.6"/><circle cx="24.3" cy="231.0" r="0.5"/><circle cx="22.5" cy="253.7" r="0.6"/><circle cx="84.3" cy="267.9" r="0.7"/><circle cx="62.6" cy="278.7" r="0.7"/><circle cx="48.8" cy="231.9" r="0.4"/><circle cx="69.9" cy="226.4" r="0.7"/><circle cx="37.7" cy="226.7" r="0.5"/><circle cx="32.4" cy="228.8" r="0.4"/><circle cx="61.3" cy="232.9" r="0.6"/><circle cx="66.9" cy="276.7" r="0.5"/><circle cx="46.7" cy="232.4" r="0.5"/><circle cx="72.3" cy="270.7" r="0.6"/><circle cx="88.9" cy="259.7" r="0.6"/><circle cx="65.3" cy="279.2" r="0.6"/><circle cx="72.7" cy="286.2" r="0.6"/><circle cx="42.2" cy="273.6" r="0.6"/><circle cx="69.3" cy="254.3" r="0.6"/><circle cx="20.5" cy="254.8" r="0.6"/><circle cx="40.3" cy="262.7" r="0.6"/><circle cx="59.6" cy="257.0" r="0.6"/><circle cx="24.3" cy="233.1" r="0.5"/><circle cx="67.2" cy="267.8" r="0.6"/><circle cx="97.3" cy="274.7" r="0.4"/><circle cx="42.4" cy="253.5" r="0.4"/><circle cx="59.3" cy="275.5" r="0.5"/><circle cx="50.6" cy="282.8" r="0.6"/><circle cx="57.6" cy="249.9" r="0.5"/><circle cx="57.3" cy="247.3" r="0.7"/><circle cx="98.0" cy="227.7" r="0.5"/><circle cx="51.0" cy="229.8" r="0.5"/><circle cx="72.8" cy="234.3" r="0.5"/><circle cx="31.4" cy="251.5" r="0.7"/><circle cx="66.8" cy="272.9" r="0.4"/><circle cx="54.5" cy="243.4" r="0.5"/><circle cx="48.5" cy="280.8" r="0.6"/><circle cx="36.4" cy="225.5" r="0.5"/><circle cx="89.1" cy="255.2" r="0.5"/><circle cx="30.1" cy="233.4" r="0.4"/><circle cx="89.4" cy="272.0" r="0.7"/><circle cx="24.7" cy="267.3" r="0.5"/><circle cx="36.4" cy="252.9" r="0.6"/><circle cx="67.1" cy="228.0" r="0.5"/><circle cx="92.9" cy="245.9" r="0.7"/><circle cx="31.0" cy="274.0" r="0.4"/><circle cx="28.2" cy="227.1" r="0.6"/><circle cx="70.8" cy="254.4" r="0.4"/><circle cx="90.2" cy="274.6" r="0.6"/><circle cx="35.9" cy="227.6" r="0.5"/><circle cx="66.9" cy="254.4" r="0.7"/><circle cx="43.3" cy="282.6" r="0.5"/><circle cx="36.0" cy="265.3" r="0.7"/><circle cx="25.5" cy="283.0" r="0.4"/><circle cx="94.0" cy="263.7" r="0.5"/><circle cx="44.8" cy="270.4" r="0.7"/><circle cx="90.4" cy="274.9" r="0.5"/><circle cx="22.9" cy="256.6" r="0.4"/><circle cx="30.7" cy="259.2" r="0.5"/><circle cx="94.1" cy="279.3" r="0.5"/><circle cx="39.2" cy="259.6" r="0.6"/><circle cx="44.6" cy="235.4" r="0.5"/><circle cx="77.9" cy="272.6" r="0.5"/><circle cx="46.1" cy="251.3" r="0.5"/><circle cx="74.2" cy="270.6" r="0.5"/><circle cx="56.0" cy="232.2" r="0.5"/><circle cx="27.2" cy="235.5" r="0.6"/><circle cx="84.4" cy="256.1" r="0.6"/><circle cx="70.2" cy="247.8" r="0.6"/><circle cx="48.6" cy="235.9" r="0.6"/><circle cx="96.0" cy="262.9" r="0.5"/><circle cx="29.8" cy="269.1" r="0.5"/><circle cx="66.5" cy="263.4" r="0.7"/><circle cx="80.0" cy="263.1" r="0.4"/><circle cx="88.3" cy="285.9" r="0.5"/><circle cx="51.5" cy="265.6" r="0.5"/><circle cx="49.0" cy="250.7" r="0.5"/><circle cx="48.4" cy="265.6" r="0.5"/><circle cx="47.3" cy="247.0" r="0.7"/><circle cx="86.0" cy="275.2" r="0.5"/><circle cx="72.6" cy="277.9" r="0.6"/><circle cx="49.9" cy="265.3" r="0.6"/><circle cx="39.4" cy="244.7" r="0.4"/><circle cx="27.6" cy="275.1" r="0.5"/><circle cx="91.8" cy="243.9" r="0.4"/><circle cx="49.3" cy="232.2" r="0.6"/><circle cx="30.8" cy="265.0" r="0.6"/><circle cx="89.5" cy="230.1" r="0.7"/><circle cx="39.6" cy="272.6" r="0.7"/><circle cx="37.4" cy="280.1" r="0.4"/><circle cx="47.3" cy="254.6" r="0.5"/><circle cx="35.5" cy="243.1" r="0.6"/><circle cx="52.9" cy="242.3" r="0.5"/><circle cx="76.8" cy="226.7" r="0.7"/><circle cx="69.7" cy="275.4" r="0.5"/><circle cx="45.2" cy="236.9" r="0.7"/><circle cx="29.1" cy="229.7" r="0.4"/><circle cx="81.7" cy="262.8" r="0.5"/><circle cx="20.9" cy="253.4" r="0.6"/><circle cx="66.6" cy="244.9" r="0.7"/><circle cx="22.4" cy="251.3" r="0.5"/><circle cx="47.4" cy="286.1" r="0.7"/><circle cx="47.9" cy="282.9" r="0.6"/><circle cx="87.7" cy="261.0" r="0.5"/><circle cx="29.6" cy="275.7" r="0.6"/><circle cx="26.8" cy="259.9" r="0.6"/><circle cx="27.3" cy="230.6" r="0.4"/><circle cx="51.8" cy="234.6" r="0.7"/><circle cx="97.4" cy="261.2" r="0.7"/><circle cx="89.9" cy="285.1" r="0.7"/><circle cx="79.0" cy="265.5" r="0.5"/><circle cx="56.7" cy="273.8" r="0.6"/><circle cx="72.1" cy="234.8" r="0.4"/><circle cx="61.2" cy="250.9" r="0.5"/><circle cx="60.1" cy="269.7" r="0.5"/><circle cx="73.7" cy="260.7" r="0.6"/><circle cx="81.5" cy="276.8" r="0.5"/><circle cx="26.9" cy="233.9" r="0.6"/><circle cx="23.4" cy="234.9" r="0.5"/><circle cx="94.8" cy="244.3" r="0.6"/><circle cx="54.1" cy="254.1" r="0.6"/><circle cx="63.9" cy="242.4" r="0.5"/><circle cx="80.7" cy="245.7" r="0.5"/><circle cx="85.9" cy="275.4" r="0.5"/><circle cx="19.8" cy="259.3" r="0.5"/><circle cx="27.0" cy="280.5" r="0.5"/><circle cx="25.1" cy="241.6" r="0.6"/><circle cx="79.9" cy="262.0" r="0.6"/><circle cx="71.9" cy="250.8" r="0.7"/><circle cx="60.5" cy="237.6" r="0.5"/><circle cx="55.9" cy="241.0" r="0.5"/><circle cx="72.6" cy="231.5" r="0.6"/><circle cx="30.5" cy="237.2" r="0.4"/><circle cx="61.4" cy="261.4" r="0.6"/><circle cx="19.9" cy="287.0" r="0.4"/><circle cx="85.1" cy="248.7" r="0.6"/><circle cx="32.1" cy="276.8" r="0.6"/><circle cx="96.2" cy="236.0" r="0.5"/><circle cx="78.9" cy="276.3" r="0.7"/><circle cx="93.1" cy="237.9" r="0.5"/><circle cx="29.1" cy="235.2" r="0.4"/><circle cx="37.8" cy="281.5" r="0.4"/><circle cx="90.9" cy="254.6" r="0.5"/><circle cx="29.7" cy="247.0" r="0.6"/><circle cx="38.6" cy="265.6" r="0.6"/><circle cx="76.1" cy="273.7" r="0.5"/><circle cx="53.9" cy="253.6" r="0.7"/><circle cx="56.3" cy="248.1" r="0.4"/><circle cx="55.3" cy="268.0" r="0.5"/><circle cx="75.4" cy="245.4" r="0.6"/><circle cx="64.1" cy="233.9" r="0.6"/><circle cx="23.2" cy="249.2" r="0.6"/><circle cx="47.8" cy="226.8" r="0.5"/><circle cx="25.9" cy="251.6" r="0.7"/><circle cx="93.5" cy="277.6" r="0.6"/><circle cx="22.1" cy="244.8" r="0.6"/><circle cx="48.6" cy="244.4" r="0.6"/><circle cx="30.4" cy="262.0" r="0.5"/><circle cx="85.4" cy="248.8" r="0.6"/><circle cx="33.5" cy="231.4" r="0.7"/><circle cx="20.9" cy="273.0" r="0.4"/><circle cx="37.8" cy="270.4" r="0.5"/><circle cx="81.6" cy="230.1" r="0.5"/><circle cx="34.5" cy="244.7" r="0.5"/><circle cx="79.9" cy="271.2" r="0.6"/><circle cx="43.4" cy="253.3" r="0.6"/><circle cx="47.5" cy="254.5" r="0.4"/><circle cx="81.8" cy="241.3" r="0.6"/><circle cx="83.2" cy="282.8" r="0.7"/><circle cx="66.8" cy="285.2" r="0.4"/><circle cx="93.1" cy="235.6" r="0.4"/><circle cx="97.3" cy="237.4" r="0.6"/><circle cx="82.7" cy="232.4" r="0.7"/><circle cx="43.4" cy="252.7" r="0.6"/><circle cx="85.4" cy="267.7" r="0.6"/><circle cx="35.7" cy="281.4" r="0.5"/><circle cx="87.5" cy="256.9" r="0.6"/><circle cx="23.7" cy="242.8" r="0.7"/><circle cx="42.6" cy="251.2" r="0.6"/><circle cx="93.5" cy="262.3" r="0.6"/><circle cx="83.9" cy="229.3" r="0.5"/><circle cx="38.9" cy="270.9" r="0.7"/><circle cx="46.4" cy="239.1" r="0.6"/><circle cx="24.6" cy="228.0" r="0.6"/><circle cx="52.0" cy="259.2" r="0.5"/><circle cx="51.0" cy="260.4" r="0.5"/><circle cx="42.5" cy="225.9" r="0.7"/><circle cx="72.5" cy="245.9" r="0.6"/><circle cx="58.2" cy="248.6" r="0.4"/><circle cx="40.8" cy="228.1" r="0.6"/><circle cx="42.9" cy="243.6" r="0.5"/><circle cx="28.7" cy="226.7" r="0.6"/><circle cx="57.3" cy="226.0" r="0.5"/><circle cx="88.5" cy="247.5" r="0.7"/><circle cx="54.4" cy="257.9" r="0.5"/><circle cx="21.6" cy="231.2" r="0.6"/><circle cx="81.2" cy="259.9" r="0.5"/><circle cx="58.3" cy="246.5" r="0.7"/><circle cx="78.5" cy="256.5" r="0.6"/><circle cx="81.7" cy="277.4" r="0.6"/><circle cx="89.7" cy="270.5" r="0.5"/><circle cx="72.5" cy="253.9" r="0.7"/><circle cx="61.5" cy="261.3" r="0.6"/><circle cx="60.8" cy="276.4" r="0.6"/><circle cx="86.9" cy="228.1" r="0.5"/><circle cx="78.6" cy="263.6" r="0.5"/><circle cx="66.6" cy="282.0" r="0.5"/><circle cx="23.6" cy="254.7" r="0.5"/><circle cx="49.1" cy="284.5" r="0.5"/><circle cx="32.6" cy="260.3" r="0.4"/><circle cx="31.0" cy="272.3" r="0.5"/><circle cx="58.0" cy="271.1" r="0.4"/><circle cx="43.7" cy="280.5" r="0.6"/><circle cx="20.3" cy="239.0" r="0.4"/><circle cx="77.1" cy="280.2" r="0.7"/><circle cx="80.6" cy="242.1" r="0.5"/><circle cx="26.0" cy="269.5" r="0.5"/><circle cx="77.0" cy="228.6" r="0.6"/><circle cx="92.9" cy="258.1" r="0.5"/><circle cx="22.3" cy="255.0" r="0.6"/><circle cx="46.2" cy="231.4" r="0.5"/><circle cx="89.0" cy="283.7" r="0.7"/><circle cx="29.4" cy="252.9" r="0.4"/><circle cx="41.1" cy="267.2" r="0.4"/><circle cx="28.3" cy="245.8" r="0.7"/><circle cx="51.8" cy="254.6" r="0.6"/><circle cx="53.8" cy="262.4" r="0.5"/><circle cx="93.3" cy="283.5" r="0.6"/><circle cx="90.7" cy="277.0" r="0.5"/><circle cx="37.6" cy="240.2" r="0.6"/><circle cx="55.7" cy="265.3" r="0.5"/><circle cx="67.2" cy="246.8" r="0.6"/><circle cx="97.4" cy="244.5" r="0.6"/><circle cx="21.2" cy="230.5" r="0.7"/><circle cx="36.1" cy="270.8" r="0.5"/><circle cx="85.5" cy="227.4" r="0.6"/><circle cx="38.3" cy="240.1" r="0.6"/><circle cx="81.3" cy="281.4" r="0.7"/><circle cx="40.3" cy="231.3" r="0.5"/><circle cx="95.4" cy="286.0" r="0.7"/><circle cx="75.8" cy="254.6" r="0.7"/><circle cx="78.2" cy="273.1" r="0.5"/><circle cx="59.6" cy="241.9" r="0.5"/><circle cx="60.8" cy="266.5" r="0.7"/><circle cx="45.1" cy="265.1" r="0.6"/><circle cx="31.2" cy="286.0" r="0.6"/><circle cx="36.3" cy="239.1" r="0.6"/><circle cx="94.9" cy="284.7" r="0.6"/><circle cx="92.1" cy="277.8" r="0.6"/><circle cx="86.1" cy="276.5" r="0.6"/><circle cx="64.1" cy="229.5" r="0.5"/><circle cx="77.0" cy="277.5" r="0.5"/><circle cx="85.3" cy="227.5" r="0.4"/><circle cx="24.5" cy="270.8" r="0.6"/><circle cx="57.9" cy="281.1" r="0.6"/><circle cx="97.3" cy="253.0" r="0.6"/><circle cx="72.6" cy="266.7" r="0.7"/><circle cx="74.0" cy="248.0" r="0.6"/><circle cx="69.8" cy="229.1" r="0.4"/><circle cx="90.2" cy="270.4" r="0.5"/><circle cx="82.5" cy="253.9" r="0.7"/><circle cx="35.8" cy="253.2" r="0.4"/><circle cx="73.0" cy="259.3" r="0.7"/><circle cx="28.2" cy="225.0" r="0.6"/><circle cx="50.8" cy="240.2" r="0.4"/><circle cx="37.5" cy="238.8" r="0.5"/><circle cx="52.3" cy="268.6" r="0.6"/><circle cx="91.2" cy="267.4" r="0.6"/><circle cx="21.3" cy="279.5" r="0.4"/><circle cx="67.4" cy="270.9" r="0.6"/><circle cx="67.7" cy="247.1" r="0.5"/><circle cx="46.3" cy="229.3" r="0.7"/><circle cx="71.7" cy="228.2" r="0.6"/><circle cx="73.0" cy="282.2" r="0.4"/><circle cx="72.0" cy="263.0" r="0.5"/><circle cx="83.0" cy="285.3" r="0.4"/><circle cx="83.3" cy="287.2" r="0.7"/><circle cx="55.7" cy="225.7" r="0.7"/><circle cx="67.8" cy="265.0" r="0.6"/><circle cx="87.3" cy="263.4" r="0.4"/><circle cx="48.2" cy="225.1" r="0.7"/><circle cx="84.7" cy="264.2" r="0.5"/><circle cx="96.9" cy="262.2" r="0.6"/><circle cx="86.5" cy="273.5" r="0.6"/><circle cx="97.3" cy="253.9" r="0.6"/><circle cx="90.0" cy="249.8" r="0.4"/><circle cx="20.6" cy="245.3" r="0.5"/><circle cx="47.2" cy="287.3" r="0.6"/><circle cx="50.6" cy="242.1" r="0.4"/><circle cx="73.8" cy="230.9" r="0.5"/><circle cx="43.6" cy="249.7" r="0.7"/><circle cx="29.4" cy="262.5" r="0.5"/><circle cx="52.8" cy="275.3" r="0.4"/><circle cx="46.3" cy="286.4" r="0.6"/><circle cx="35.0" cy="258.2" r="0.5"/><circle cx="37.4" cy="225.7" r="0.6"/><circle cx="43.3" cy="281.2" r="0.5"/><circle cx="42.5" cy="255.6" r="0.6"/><circle cx="60.7" cy="241.6" r="0.6"/><circle cx="61.6" cy="228.9" r="0.5"/><circle cx="47.1" cy="242.7" r="0.6"/><circle cx="83.5" cy="273.3" r="0.5"/><circle cx="74.6" cy="262.3" r="0.4"/><circle cx="87.5" cy="271.5" r="0.7"/><circle cx="24.0" cy="233.0" r="0.5"/><circle cx="78.3" cy="277.7" r="0.6"/><circle cx="97.2" cy="273.6" r="0.4"/><circle cx="32.1" cy="260.5" r="0.7"/><circle cx="68.6" cy="262.9" r="0.7"/><circle cx="30.2" cy="285.8" r="0.6"/><circle cx="59.7" cy="241.7" r="0.4"/><circle cx="96.5" cy="249.0" r="0.6"/><circle cx="25.2" cy="267.0" r="0.5"/><circle cx="40.0" cy="238.5" r="0.5"/><circle cx="43.4" cy="263.0" r="0.5"/><circle cx="44.7" cy="266.7" r="0.4"/><circle cx="90.6" cy="287.2" r="0.7"/><circle cx="89.3" cy="282.9" r="0.6"/><circle cx="39.5" cy="276.7" r="0.6"/><circle cx="26.7" cy="261.5" r="0.6"/><circle cx="25.6" cy="231.0" r="0.5"/><circle cx="94.0" cy="232.8" r="0.6"/><circle cx="75.9" cy="258.0" r="0.5"/><circle cx="19.8" cy="274.8" r="0.6"/><circle cx="24.5" cy="280.7" r="0.5"/><circle cx="83.8" cy="256.1" r="0.6"/><circle cx="54.6" cy="226.6" r="0.5"/><circle cx="74.5" cy="227.3" r="0.5"/><circle cx="60.9" cy="283.1" r="0.4"/><circle cx="72.8" cy="232.1" r="0.4"/><circle cx="76.2" cy="269.0" r="0.5"/><circle cx="45.5" cy="273.4" r="0.4"/><circle cx="65.0" cy="250.9" r="0.5"/><circle cx="60.9" cy="242.2" r="0.5"/><circle cx="42.2" cy="280.8" r="0.7"/><circle cx="47.1" cy="273.4" r="0.4"/><circle cx="48.4" cy="236.8" r="0.7"/><circle cx="19.8" cy="285.5" r="0.4"/><circle cx="78.6" cy="286.7" r="0.6"/><circle cx="65.8" cy="228.7" r="0.5"/><circle cx="32.5" cy="227.9" r="0.5"/><circle cx="67.6" cy="264.0" r="0.6"/><circle cx="94.5" cy="243.5" r="0.5"/><circle cx="38.0" cy="238.7" r="0.4"/><circle cx="31.2" cy="226.6" r="0.4"/><circle cx="58.4" cy="251.3" r="0.6"/><circle cx="48.5" cy="284.7" r="0.6"/><circle cx="44.3" cy="276.9" r="0.7"/><circle cx="61.4" cy="231.3" r="0.5"/><circle cx="22.0" cy="263.2" r="0.6"/><circle cx="88.2" cy="228.0" r="0.5"/><circle cx="74.7" cy="239.4" r="0.6"/><circle cx="73.5" cy="277.3" r="0.5"/><circle cx="76.6" cy="240.2" r="0.5"/><circle cx="31.9" cy="285.7" r="0.7"/><circle cx="91.4" cy="283.0" r="0.5"/><circle cx="62.1" cy="228.0" r="0.5"/><circle cx="48.6" cy="282.1" r="0.7"/><circle cx="24.9" cy="243.4" r="0.5"/><circle cx="23.0" cy="280.3" r="0.6"/><circle cx="47.4" cy="230.0" r="0.6"/><circle cx="47.6" cy="237.6" r="0.5"/><circle cx="53.6" cy="263.6" r="0.6"/><circle cx="71.2" cy="230.9" r="0.6"/><circle cx="61.5" cy="228.3" r="0.5"/><circle cx="54.3" cy="275.7" r="0.7"/><circle cx="40.3" cy="276.6" r="0.4"/><circle cx="38.8" cy="249.6" r="0.7"/><circle cx="81.7" cy="225.0" r="0.6"/><circle cx="63.1" cy="258.6" r="0.6"/><circle cx="75.7" cy="284.5" r="0.5"/><circle cx="74.1" cy="238.9" r="0.6"/><circle cx="35.3" cy="255.2" r="0.4"/><circle cx="41.7" cy="259.7" r="0.6"/><circle cx="26.7" cy="268.5" r="0.7"/><circle cx="52.3" cy="227.9" r="0.5"/><circle cx="29.1" cy="283.7" r="0.6"/><circle cx="86.2" cy="280.3" r="0.6"/><circle cx="50.2" cy="286.8" r="0.6"/><circle cx="33.0" cy="270.5" r="0.6"/><circle cx="93.4" cy="237.9" r="0.5"/><circle cx="20.0" cy="232.8" r="0.4"/><circle cx="26.2" cy="275.4" r="0.6"/><circle cx="67.2" cy="254.8" r="0.6"/><circle cx="28.7" cy="265.3" r="0.4"/><circle cx="30.4" cy="233.2" r="0.5"/><circle cx="66.2" cy="265.3" r="0.7"/><circle cx="82.4" cy="276.9" r="0.4"/><circle cx="30.4" cy="244.0" r="0.7"/><circle cx="31.0" cy="255.7" r="0.5"/><circle cx="21.9" cy="279.5" r="0.5"/><circle cx="73.1" cy="275.7" r="0.6"/><circle cx="57.9" cy="282.3" r="0.6"/><circle cx="85.1" cy="277.0" r="0.5"/><circle cx="82.8" cy="238.4" r="0.4"/><circle cx="46.7" cy="228.3" r="0.5"/><circle cx="79.5" cy="254.6" r="0.7"/><circle cx="96.9" cy="243.0" r="0.7"/><circle cx="53.5" cy="279.4" r="0.6"/><circle cx="95.6" cy="272.5" r="0.6"/><circle cx="88.8" cy="283.0" r="0.6"/><circle cx="41.0" cy="263.7" r="0.7"/><circle cx="24.7" cy="267.4" r="0.4"/><circle cx="94.3" cy="256.7" r="0.4"/><circle cx="31.1" cy="260.7" r="0.7"/><circle cx="24.8" cy="253.9" r="0.4"/><circle cx="26.0" cy="251.1" r="0.6"/><circle cx="83.7" cy="271.4" r="0.5"/><circle cx="86.5" cy="253.6" r="0.7"/><circle cx="54.2" cy="228.3" r="0.6"/><circle cx="81.5" cy="260.7" r="0.5"/><circle cx="51.6" cy="233.9" r="0.4"/><circle cx="55.6" cy="228.8" r="0.5"/><circle cx="29.1" cy="229.8" r="0.6"/><circle cx="53.0" cy="233.4" r="0.5"/><circle cx="84.5" cy="263.2" r="0.6"/><circle cx="87.6" cy="259.7" r="0.4"/><circle cx="32.2" cy="242.2" r="0.5"/><circle cx="85.4" cy="261.6" r="0.6"/><circle cx="70.3" cy="264.6" r="0.5"/><circle cx="23.5" cy="237.4" r="0.5"/><circle cx="53.5" cy="278.0" r="0.5"/><circle cx="93.6" cy="262.0" r="0.7"/><circle cx="40.0" cy="227.7" r="0.7"/><circle cx="63.5" cy="250.6" r="0.5"/><circle cx="92.6" cy="237.8" r="0.5"/><circle cx="35.7" cy="225.8" r="0.5"/><circle cx="21.9" cy="275.7" r="0.7"/><circle cx="87.9" cy="234.5" r="0.7"/><circle cx="20.9" cy="261.1" r="0.7"/><circle cx="39.0" cy="263.5" r="0.7"/><circle cx="91.1" cy="271.9" r="0.6"/><circle cx="41.6" cy="263.0" r="0.4"/><circle cx="42.4" cy="272.7" r="0.7"/><circle cx="39.9" cy="279.6" r="0.5"/><circle cx="72.8" cy="281.0" r="0.6"/><circle cx="46.8" cy="284.9" r="0.5"/><circle cx="65.3" cy="241.0" r="0.4"/><circle cx="70.3" cy="244.4" r="0.6"/><circle cx="28.6" cy="227.3" r="0.5"/><circle cx="67.5" cy="240.0" r="0.7"/><circle cx="27.5" cy="273.7" r="0.5"/><circle cx="30.8" cy="272.4" r="0.6"/><circle cx="41.1" cy="247.7" r="0.5"/><circle cx="92.7" cy="277.0" r="0.4"/><circle cx="85.0" cy="286.6" r="0.5"/><circle cx="67.0" cy="283.7" r="0.5"/><circle cx="68.4" cy="261.5" r="0.6"/><circle cx="45.1" cy="248.7" r="0.6"/><circle cx="64.3" cy="240.4" r="0.7"/><circle cx="70.0" cy="279.2" r="0.4"/><circle cx="76.1" cy="239.0" r="0.5"/><circle cx="21.9" cy="247.9" r="0.5"/><circle cx="53.7" cy="278.1" r="0.5"/><circle cx="62.5" cy="257.4" r="0.5"/><circle cx="67.1" cy="259.6" r="0.6"/><circle cx="72.8" cy="259.9" r="0.4"/><circle cx="63.0" cy="239.7" r="0.6"/><circle cx="29.4" cy="252.5" r="0.4"/><circle cx="89.1" cy="284.4" r="0.5"/><circle cx="42.7" cy="261.0" r="0.5"/><circle cx="60.3" cy="253.4" r="0.5"/><circle cx="33.7" cy="274.5" r="0.7"/><circle cx="26.4" cy="239.2" r="0.6"/><circle cx="41.5" cy="237.6" r="0.5"/><circle cx="34.8" cy="229.8" r="0.7"/><circle cx="60.7" cy="235.6" r="0.5"/><circle cx="70.0" cy="262.6" r="0.5"/><circle cx="68.6" cy="255.1" r="0.6"/><circle cx="67.7" cy="243.4" r="0.6"/><circle cx="56.0" cy="268.2" r="0.6"/><circle cx="36.6" cy="271.0" r="0.6"/><circle cx="65.5" cy="286.2" r="0.6"/><circle cx="68.0" cy="259.4" r="0.5"/><circle cx="79.8" cy="243.0" r="0.7"/><circle cx="48.9" cy="252.0" r="0.6"/><circle cx="77.2" cy="270.1" r="0.6"/><circle cx="34.2" cy="284.9" r="0.6"/><circle cx="96.6" cy="256.0" r="0.7"/><circle cx="97.6" cy="263.9" r="0.5"/><circle cx="49.8" cy="230.3" r="0.7"/><circle cx="21.1" cy="262.0" r="0.5"/><circle cx="76.0" cy="263.6" r="0.7"/><circle cx="81.0" cy="252.3" r="0.5"/><circle cx="77.8" cy="262.8" r="0.6"/><circle cx="69.4" cy="259.3" r="0.6"/><circle cx="71.9" cy="260.1" r="0.6"/><circle cx="26.8" cy="267.3" r="0.7"/><circle cx="74.8" cy="251.8" r="0.7"/><circle cx="95.6" cy="255.1" r="0.5"/><circle cx="32.7" cy="257.0" r="0.6"/><circle cx="47.7" cy="235.2" r="0.6"/><circle cx="89.3" cy="236.0" r="0.5"/><circle cx="75.5" cy="235.5" r="0.4"/><circle cx="60.2" cy="287.6" r="0.7"/><circle cx="26.6" cy="278.9" r="0.7"/><circle cx="20.2" cy="286.4" r="0.6"/><circle cx="90.8" cy="253.0" r="0.6"/><circle cx="69.6" cy="253.8" r="0.4"/><circle cx="32.5" cy="247.2" r="0.5"/><circle cx="54.2" cy="279.6" r="0.5"/><circle cx="28.6" cy="258.8" r="0.4"/><circle cx="56.6" cy="259.6" r="0.5"/><circle cx="81.7" cy="262.6" r="0.5"/><circle cx="45.0" cy="284.9" r="0.5"/><circle cx="66.6" cy="241.9" r="0.4"/><circle cx="62.6" cy="279.4" r="0.4"/><circle cx="23.3" cy="265.6" r="0.7"/><circle cx="57.9" cy="242.9" r="0.6"/><circle cx="32.2" cy="239.4" r="0.5"/><circle cx="54.0" cy="251.4" r="0.5"/><circle cx="66.8" cy="241.8" r="0.5"/><circle cx="68.2" cy="254.6" r="0.5"/><circle cx="82.0" cy="275.5" r="0.5"/><circle cx="38.3" cy="286.3" r="0.6"/><circle cx="62.5" cy="245.9" r="0.7"/><circle cx="39.6" cy="269.7" r="0.6"/><circle cx="53.9" cy="267.9" r="0.7"/><circle cx="39.7" cy="279.0" r="0.6"/><circle cx="40.4" cy="279.6" r="0.6"/><circle cx="54.0" cy="250.1" r="0.6"/><circle cx="64.9" cy="257.7" r="0.6"/><circle cx="62.6" cy="260.1" r="0.5"/><circle cx="94.1" cy="271.6" r="0.4"/><circle cx="26.9" cy="287.0" r="0.5"/><circle cx="20.9" cy="228.1" r="0.6"/><circle cx="83.8" cy="242.2" r="0.6"/><circle cx="22.0" cy="235.9" r="0.4"/><circle cx="58.5" cy="278.0" r="0.6"/><circle cx="21.3" cy="235.2" r="0.4"/><circle cx="20.7" cy="228.2" r="0.6"/><circle cx="44.4" cy="255.7" r="0.5"/><circle cx="95.5" cy="265.6" r="0.5"/><circle cx="86.6" cy="262.0" r="0.5"/><circle cx="91.0" cy="267.2" r="0.6"/><circle cx="38.5" cy="248.3" r="0.6"/><circle cx="57.3" cy="231.7" r="0.7"/><circle cx="92.1" cy="255.2" r="0.6"/><circle cx="35.4" cy="255.8" r="0.4"/><circle cx="82.7" cy="242.0" r="0.4"/><circle cx="65.7" cy="230.6" r="0.4"/><circle cx="38.6" cy="236.6" r="0.4"/><circle cx="59.3" cy="268.1" r="0.5"/><circle cx="37.5" cy="268.2" r="0.5"/><circle cx="65.6" cy="272.1" r="0.4"/><circle cx="97.7" cy="245.8" r="0.7"/><circle cx="97.7" cy="253.5" r="0.5"/><circle cx="59.6" cy="236.0" r="0.5"/><circle cx="26.3" cy="265.5" r="0.6"/><circle cx="27.8" cy="227.0" r="0.5"/><circle cx="26.3" cy="259.0" r="0.6"/><circle cx="35.0" cy="241.4" r="0.4"/><circle cx="79.8" cy="252.9" r="0.5"/><circle cx="31.2" cy="267.6" r="0.7"/><circle cx="97.6" cy="264.0" r="0.6"/><circle cx="54.5" cy="258.7" r="0.5"/><circle cx="74.7" cy="277.6" r="0.6"/><circle cx="81.2" cy="240.4" r="0.6"/><circle cx="80.8" cy="231.3" r="0.5"/><circle cx="29.7" cy="256.8" r="0.6"/><circle cx="34.2" cy="260.2" r="0.6"/><circle cx="41.9" cy="284.2" r="0.7"/><circle cx="53.6" cy="276.2" r="0.7"/><circle cx="93.7" cy="253.3" r="0.7"/><circle cx="79.9" cy="255.8" r="0.6"/><circle cx="51.0" cy="232.6" r="0.6"/><circle cx="71.3" cy="282.9" r="0.6"/><circle cx="73.6" cy="244.8" r="0.5"/><circle cx="60.8" cy="247.3" r="0.5"/><circle cx="50.3" cy="273.5" r="0.7"/><circle cx="20.2" cy="255.1" r="0.5"/><circle cx="59.8" cy="234.1" r="0.4"/><circle cx="77.0" cy="240.8" r="0.6"/><circle cx="51.3" cy="240.4" r="0.4"/><circle cx="66.5" cy="251.9" r="0.5"/><circle cx="73.2" cy="251.6" r="0.7"/><circle cx="81.1" cy="259.5" r="0.5"/><circle cx="27.9" cy="255.8" r="0.6"/><circle cx="39.5" cy="243.6" r="0.5"/><circle cx="93.9" cy="255.0" r="0.6"/><circle cx="77.6" cy="234.6" r="0.5"/><circle cx="69.0" cy="232.3" r="0.6"/><circle cx="37.0" cy="232.8" r="0.6"/><circle cx="21.6" cy="282.0" r="0.6"/><circle cx="95.2" cy="248.0" r="0.5"/><circle cx="20.7" cy="271.0" r="0.6"/><circle cx="71.6" cy="227.7" r="0.4"/><circle cx="79.7" cy="229.1" r="0.5"/><circle cx="38.0" cy="273.9" r="0.6"/><circle cx="79.8" cy="239.5" r="0.4"/><circle cx="59.5" cy="275.2" r="0.5"/><circle cx="67.0" cy="257.9" r="0.4"/><circle cx="34.2" cy="229.1" r="0.6"/><circle cx="34.4" cy="257.8" r="0.5"/><circle cx="66.4" cy="253.8" r="0.5"/><circle cx="69.5" cy="260.3" r="0.7"/><circle cx="70.2" cy="250.7" r="0.5"/><circle cx="85.6" cy="258.3" r="0.6"/><circle cx="88.6" cy="286.9" r="0.4"/><circle cx="84.5" cy="273.4" r="0.5"/><circle cx="73.7" cy="259.6" r="0.4"/><circle cx="39.1" cy="231.3" r="0.6"/><circle cx="71.5" cy="240.4" r="0.4"/><circle cx="67.6" cy="259.4" r="0.5"/><circle cx="67.2" cy="251.8" r="0.4"/><circle cx="38.4" cy="243.9" r="0.6"/><circle cx="74.3" cy="280.6" r="0.6"/><circle cx="44.7" cy="244.6" r="0.5"/><circle cx="54.8" cy="251.8" r="0.5"/><circle cx="69.2" cy="272.4" r="0.5"/><circle cx="79.8" cy="275.8" r="0.6"/><circle cx="76.5" cy="286.0" r="0.6"/><circle cx="54.8" cy="252.9" r="0.4"/><circle cx="70.7" cy="244.6" r="0.4"/><circle cx="84.6" cy="251.1" r="0.6"/><circle cx="63.3" cy="257.5" r="0.5"/><circle cx="48.2" cy="225.5" r="0.6"/><circle cx="41.5" cy="254.8" r="0.5"/><circle cx="94.2" cy="233.4" r="0.4"/><circle cx="90.4" cy="286.1" r="0.4"/><circle cx="81.6" cy="242.4" r="0.7"/><circle cx="21.2" cy="280.3" r="0.6"/><circle cx="25.1" cy="243.6" r="0.4"/><circle cx="93.2" cy="267.2" r="0.5"/><circle cx="84.2" cy="277.3" r="0.6"/><circle cx="33.7" cy="256.6" r="0.5"/><circle cx="27.1" cy="248.7" r="0.6"/><circle cx="58.5" cy="276.3" r="0.4"/><circle cx="42.3" cy="266.8" r="0.6"/><circle cx="30.7" cy="241.0" r="0.6"/><circle cx="24.3" cy="261.4" r="0.5"/><circle cx="65.6" cy="269.7" r="0.7"/><circle cx="52.6" cy="283.8" r="0.6"/><circle cx="76.3" cy="260.6" r="0.4"/><circle cx="88.1" cy="236.1" r="0.6"/><circle cx="42.6" cy="259.5" r="0.4"/><circle cx="66.6" cy="285.0" r="0.6"/><circle cx="72.9" cy="227.7" r="0.7"/><circle cx="93.6" cy="254.2" r="0.6"/><circle cx="35.8" cy="272.8" r="0.4"/><circle cx="68.9" cy="278.6" r="0.4"/><circle cx="62.9" cy="240.9" r="0.6"/><circle cx="56.5" cy="254.2" r="0.7"/><circle cx="47.3" cy="261.4" r="0.5"/><circle cx="31.4" cy="240.7" r="0.7"/><circle cx="29.0" cy="226.5" r="0.6"/><circle cx="60.8" cy="271.3" r="0.4"/><circle cx="51.2" cy="281.6" r="0.7"/><circle cx="67.3" cy="266.3" r="0.4"/><circle cx="42.1" cy="281.4" r="0.5"/><circle cx="46.9" cy="278.0" r="0.5"/><circle cx="38.8" cy="284.8" r="0.5"/><circle cx="73.2" cy="236.0" r="0.5"/><circle cx="77.0" cy="234.6" r="0.4"/><circle cx="49.9" cy="248.6" r="0.7"/><circle cx="45.9" cy="247.6" r="0.5"/><circle cx="32.3" cy="250.0" r="0.6"/><circle cx="27.0" cy="274.9" r="0.5"/><circle cx="47.4" cy="269.7" r="0.7"/><circle cx="53.2" cy="286.2" r="0.6"/><circle cx="88.6" cy="269.2" r="0.5"/><circle cx="85.5" cy="282.4" r="0.6"/><circle cx="92.5" cy="250.8" r="0.6"/><circle cx="66.1" cy="229.2" r="0.5"/><circle cx="48.2" cy="245.5" r="0.5"/><circle cx="68.4" cy="225.3" r="0.6"/><circle cx="78.8" cy="229.5" r="0.6"/><circle cx="52.8" cy="255.4" r="0.5"/><circle cx="85.6" cy="264.6" r="0.7"/><circle cx="31.3" cy="266.8" r="0.5"/><circle cx="38.1" cy="263.7" r="0.6"/><circle cx="52.1" cy="285.0" r="0.4"/><circle cx="54.9" cy="241.9" r="0.5"/><circle cx="44.0" cy="285.1" r="0.6"/><circle cx="47.0" cy="240.1" r="0.5"/><circle cx="61.6" cy="267.0" r="0.7"/><circle cx="93.3" cy="229.8" r="0.7"/><circle cx="45.5" cy="270.4" r="0.6"/><circle cx="58.5" cy="268.3" r="0.6"/><circle cx="72.5" cy="230.6" r="0.5"/><circle cx="23.6" cy="236.0" r="0.6"/><circle cx="43.5" cy="236.3" r="0.7"/><circle cx="42.2" cy="232.0" r="0.5"/><circle cx="21.7" cy="257.8" r="0.6"/><circle cx="79.0" cy="234.8" r="0.6"/><circle cx="27.1" cy="270.7" r="0.5"/><circle cx="25.9" cy="233.6" r="0.4"/><circle cx="58.1" cy="243.5" r="0.5"/><circle cx="81.2" cy="256.7" r="0.6"/><circle cx="60.7" cy="248.4" r="0.6"/><circle cx="21.9" cy="276.5" r="0.7"/><circle cx="50.2" cy="276.9" r="0.5"/><circle cx="28.0" cy="252.0" r="0.5"/><circle cx="62.0" cy="234.5" r="0.5"/><circle cx="25.5" cy="283.7" r="0.4"/><circle cx="93.2" cy="287.8" r="0.5"/><circle cx="62.3" cy="271.0" r="0.5"/><circle cx="66.8" cy="254.9" r="0.6"/><circle cx="33.2" cy="265.2" r="0.4"/><circle cx="54.4" cy="267.6" r="0.5"/><circle cx="23.0" cy="243.3" r="0.5"/><circle cx="28.5" cy="272.9" r="0.6"/><circle cx="57.2" cy="242.8" r="0.5"/><circle cx="80.9" cy="257.6" r="0.6"/><circle cx="42.4" cy="249.5" r="0.6"/><circle cx="19.8" cy="228.6" r="0.7"/><circle cx="22.6" cy="285.4" r="0.7"/><circle cx="88.5" cy="259.1" r="0.6"/><circle cx="93.4" cy="258.8" r="0.4"/><circle cx="73.1" cy="231.4" r="0.6"/><circle cx="53.9" cy="263.3" r="0.5"/><circle cx="51.7" cy="265.9" r="0.5"/><circle cx="46.6" cy="266.1" r="0.4"/><circle cx="36.0" cy="255.6" r="0.6"/><circle cx="53.2" cy="257.9" r="0.6"/><circle cx="24.0" cy="240.1" r="0.5"/><circle cx="75.7" cy="235.3" r="0.5"/><circle cx="57.0" cy="287.5" r="0.7"/><circle cx="67.4" cy="271.0" r="0.6"/><circle cx="80.1" cy="285.8" r="0.6"/><circle cx="50.1" cy="249.7" r="0.5"/><circle cx="78.8" cy="226.4" r="0.7"/><circle cx="56.4" cy="241.9" r="0.6"/><circle cx="63.3" cy="271.0" r="0.6"/><circle cx="87.1" cy="256.7" r="0.4"/><circle cx="73.9" cy="229.8" r="0.5"/><circle cx="71.3" cy="283.4" r="0.4"/><circle cx="67.9" cy="255.7" r="0.5"/><circle cx="59.7" cy="250.7" r="0.6"/><circle cx="33.7" cy="237.2" r="0.4"/><circle cx="81.9" cy="257.3" r="0.5"/><circle cx="22.7" cy="263.5" r="0.5"/><circle cx="84.7" cy="265.8" r="0.7"/><circle cx="33.8" cy="284.8" r="0.4"/><circle cx="33.9" cy="256.8" r="0.5"/><circle cx="55.7" cy="235.2" r="0.6"/><circle cx="40.6" cy="236.5" r="0.4"/><circle cx="32.8" cy="227.4" r="0.6"/><circle cx="70.2" cy="266.8" r="0.4"/><circle cx="39.4" cy="284.8" r="0.5"/><circle cx="52.8" cy="253.6" r="0.5"/><circle cx="92.3" cy="265.7" r="0.7"/><circle cx="56.2" cy="271.9" r="0.5"/><circle cx="77.7" cy="244.2" r="0.5"/><circle cx="25.2" cy="270.9" r="0.5"/><circle cx="78.3" cy="262.6" r="0.5"/><circle cx="28.9" cy="271.7" r="0.4"/><circle cx="33.4" cy="275.1" r="0.5"/><circle cx="68.4" cy="264.9" r="0.6"/><circle cx="25.6" cy="247.8" r="0.5"/><circle cx="77.1" cy="231.8" r="0.5"/><circle cx="22.7" cy="250.8" r="0.4"/><circle cx="86.5" cy="264.5" r="0.6"/><circle cx="37.7" cy="229.9" r="0.5"/><circle cx="85.2" cy="277.9" r="0.5"/><circle cx="74.6" cy="237.8" r="0.7"/><circle cx="78.5" cy="225.4" r="0.7"/><circle cx="33.2" cy="245.0" r="0.6"/><circle cx="94.6" cy="227.0" r="0.4"/><circle cx="32.3" cy="271.0" r="0.7"/><circle cx="79.4" cy="241.7" r="0.6"/><circle cx="25.7" cy="278.6" r="0.4"/><circle cx="95.7" cy="282.0" r="0.5"/><circle cx="64.0" cy="230.2" r="0.7"/><circle cx="77.7" cy="265.7" r="0.5"/><circle cx="84.8" cy="272.6" r="0.5"/><circle cx="59.1" cy="286.3" r="0.7"/><circle cx="55.9" cy="252.9" r="0.5"/><circle cx="69.6" cy="274.5" r="0.5"/><circle cx="65.7" cy="284.1" r="0.6"/><circle cx="41.0" cy="281.3" r="0.7"/><circle cx="88.5" cy="246.6" r="0.6"/><circle cx="21.9" cy="262.7" r="0.4"/><circle cx="68.2" cy="285.3" r="0.4"/><circle cx="63.4" cy="270.4" r="0.5"/><circle cx="79.2" cy="235.4" r="0.6"/><circle cx="71.9" cy="252.4" r="0.7"/><circle cx="36.6" cy="242.1" r="0.4"/><circle cx="48.1" cy="271.1" r="0.6"/><circle cx="62.9" cy="245.0" r="0.6"/><circle cx="24.0" cy="274.4" r="0.4"/><circle cx="78.7" cy="277.5" r="0.7"/><circle cx="81.3" cy="228.8" r="0.5"/><circle cx="41.7" cy="253.9" r="0.5"/><circle cx="43.0" cy="276.7" r="0.6"/><circle cx="35.7" cy="225.7" r="0.6"/><circle cx="55.0" cy="228.0" r="0.6"/><circle cx="21.9" cy="263.0" r="0.4"/><circle cx="67.0" cy="259.0" r="0.6"/><circle cx="25.2" cy="260.1" r="0.4"/><circle cx="60.6" cy="244.0" r="0.6"/><circle cx="37.2" cy="234.6" r="0.6"/><circle cx="57.5" cy="247.9" r="0.6"/><circle cx="65.5" cy="267.3" r="0.6"/><circle cx="41.3" cy="263.1" r="0.7"/><circle cx="39.9" cy="271.8" r="0.6"/><circle cx="35.7" cy="262.2" r="0.6"/><circle cx="77.3" cy="275.2" r="0.5"/><circle cx="61.3" cy="282.3" r="0.4"/><circle cx="96.9" cy="274.7" r="0.7"/><circle cx="47.8" cy="241.6" r="0.4"/><circle cx="68.8" cy="232.9" r="0.4"/><circle cx="33.6" cy="230.8" r="0.6"/><circle cx="70.7" cy="249.2" r="0.7"/><circle cx="91.9" cy="275.6" r="0.5"/><circle cx="61.3" cy="246.3" r="0.5"/><circle cx="44.8" cy="228.1" r="0.4"/><circle cx="28.4" cy="279.7" r="0.4"/><circle cx="43.0" cy="225.3" r="0.5"/><circle cx="96.4" cy="248.8" r="0.5"/><circle cx="80.4" cy="253.3" r="0.5"/><circle cx="95.5" cy="229.9" r="0.7"/><circle cx="56.8" cy="265.6" r="0.7"/><circle cx="21.6" cy="282.6" r="0.7"/><circle cx="46.2" cy="267.5" r="0.5"/><circle cx="25.9" cy="229.7" r="0.6"/><circle cx="26.5" cy="274.5" r="0.4"/><circle cx="93.5" cy="282.5" r="0.5"/><circle cx="61.3" cy="230.6" r="0.6"/><circle cx="80.6" cy="256.7" r="0.5"/><circle cx="81.0" cy="264.8" r="0.6"/><circle cx="64.0" cy="235.6" r="0.5"/><circle cx="30.9" cy="229.9" r="0.6"/><circle cx="53.5" cy="243.0" r="0.6"/><circle cx="94.4" cy="227.9" r="0.6"/><circle cx="79.1" cy="232.4" r="0.4"/><circle cx="27.8" cy="282.9" r="0.4"/><circle cx="36.9" cy="262.3" r="0.6"/><circle cx="65.5" cy="250.0" r="0.7"/><circle cx="47.1" cy="233.7" r="0.5"/><circle cx="74.2" cy="248.2" r="0.6"/><circle cx="66.7" cy="276.4" r="0.6"/><circle cx="25.6" cy="251.5" r="0.7"/><circle cx="47.3" cy="283.5" r="0.4"/><circle cx="68.3" cy="237.2" r="0.5"/><circle cx="55.6" cy="225.7" r="0.4"/><circle cx="60.0" cy="229.2" r="0.6"/><circle cx="30.5" cy="256.8" r="0.5"/><circle cx="61.8" cy="238.2" r="0.6"/><circle cx="65.4" cy="244.4" r="0.4"/><circle cx="74.7" cy="228.1" r="0.6"/><circle cx="85.6" cy="253.1" r="0.5"/><circle cx="33.2" cy="243.1" r="0.5"/><circle cx="68.9" cy="230.8" r="0.6"/><circle cx="91.1" cy="238.7" r="0.7"/><circle cx="51.9" cy="229.4" r="0.5"/><circle cx="55.4" cy="285.4" r="0.6"/><circle cx="34.3" cy="236.0" r="0.4"/><circle cx="62.5" cy="265.1" r="0.5"/><circle cx="30.9" cy="238.6" r="0.6"/><circle cx="67.0" cy="239.9" r="0.4"/><circle cx="21.9" cy="268.6" r="0.7"/><circle cx="87.7" cy="275.6" r="0.7"/><circle cx="86.7" cy="238.2" r="0.5"/><circle cx="44.0" cy="262.6" r="0.6"/><circle cx="67.9" cy="264.2" r="0.6"/><circle cx="63.0" cy="239.5" r="0.7"/><circle cx="38.4" cy="230.1" r="0.5"/><circle cx="24.2" cy="261.4" r="0.5"/><circle cx="26.5" cy="280.0" r="0.7"/><circle cx="94.8" cy="234.0" r="0.5"/><circle cx="95.3" cy="264.1" r="0.7"/><circle cx="20.1" cy="248.9" r="0.5"/><circle cx="48.0" cy="244.3" r="0.5"/><circle cx="25.0" cy="240.1" r="0.7"/><circle cx="21.1" cy="253.0" r="0.6"/><circle cx="57.4" cy="239.4" r="0.5"/><circle cx="92.1" cy="280.6" r="0.6"/><circle cx="58.8" cy="275.3" r="0.7"/><circle cx="47.4" cy="272.2" r="0.5"/><circle cx="80.6" cy="247.0" r="0.6"/><circle cx="77.7" cy="246.9" r="0.6"/><circle cx="33.3" cy="251.2" r="0.6"/><circle cx="28.6" cy="270.0" r="0.5"/><circle cx="39.4" cy="256.1" r="0.5"/><circle cx="83.0" cy="262.5" r="0.5"/><circle cx="90.9" cy="270.5" r="0.6"/><circle cx="73.9" cy="271.5" r="0.5"/><circle cx="73.8" cy="282.7" r="0.6"/><circle cx="66.3" cy="266.4" r="0.4"/><circle cx="62.8" cy="258.4" r="0.6"/><circle cx="93.4" cy="243.7" r="0.4"/><circle cx="34.6" cy="256.4" r="0.7"/><circle cx="44.1" cy="269.8" r="0.6"/><circle cx="69.5" cy="224.9" r="0.5"/><circle cx="36.1" cy="263.8" r="0.4"/><circle cx="50.7" cy="267.6" r="0.5"/><circle cx="56.5" cy="231.8" r="0.5"/><circle cx="73.7" cy="286.1" r="0.7"/><circle cx="26.9" cy="263.6" r="0.6"/><circle cx="67.7" cy="263.4" r="0.4"/><circle cx="59.3" cy="256.7" r="0.4"/><circle cx="97.2" cy="279.7" r="0.6"/><circle cx="53.7" cy="276.0" r="0.5"/><circle cx="72.0" cy="275.5" r="0.6"/><circle cx="97.8" cy="229.3" r="0.7"/><circle cx="36.3" cy="239.4" r="0.7"/><circle cx="83.8" cy="283.0" r="0.4"/><circle cx="37.4" cy="255.4" r="0.7"/><circle cx="89.4" cy="270.3" r="0.5"/><circle cx="65.7" cy="281.1" r="0.5"/><circle cx="92.0" cy="230.5" r="0.4"/><circle cx="95.3" cy="243.2" r="0.5"/><circle cx="67.8" cy="272.2" r="0.5"/><circle cx="42.7" cy="244.1" r="0.5"/><circle cx="90.6" cy="274.7" r="0.6"/><circle cx="96.2" cy="230.7" r="0.5"/><circle cx="68.7" cy="271.4" r="0.5"/><circle cx="94.6" cy="270.5" r="0.4"/><circle cx="41.6" cy="231.2" r="0.4"/><circle cx="33.3" cy="241.1" r="0.7"/><circle cx="64.4" cy="245.1" r="0.5"/><circle cx="31.3" cy="230.3" r="0.5"/><circle cx="73.4" cy="276.1" r="0.4"/><circle cx="29.4" cy="257.2" r="0.7"/><circle cx="96.5" cy="247.5" r="0.4"/><circle cx="61.6" cy="275.9" r="0.6"/><circle cx="21.6" cy="279.8" r="0.4"/><circle cx="80.3" cy="271.2" r="0.5"/><circle cx="46.6" cy="255.8" r="0.5"/><circle cx="93.3" cy="228.7" r="0.5"/><circle cx="26.1" cy="265.1" r="0.6"/><circle cx="94.3" cy="234.2" r="0.6"/><circle cx="34.5" cy="253.8" r="0.6"/><circle cx="81.5" cy="260.3" r="0.4"/><circle cx="71.4" cy="228.1" r="0.5"/><circle cx="35.3" cy="261.7" r="0.5"/><circle cx="76.4" cy="230.6" r="0.5"/><circle cx="26.8" cy="244.6" r="0.5"/><circle cx="52.2" cy="245.8" r="0.4"/><circle cx="33.0" cy="229.5" r="0.4"/><circle cx="70.2" cy="284.9" r="0.4"/><circle cx="69.3" cy="282.7" r="0.4"/><circle cx="29.6" cy="263.6" r="0.6"/><circle cx="48.3" cy="278.2" r="0.7"/><circle cx="66.6" cy="263.5" r="0.6"/><circle cx="91.3" cy="285.0" r="0.5"/><circle cx="30.4" cy="252.4" r="0.6"/><circle cx="26.4" cy="260.1" r="0.5"/><circle cx="37.3" cy="268.8" r="0.5"/><circle cx="47.5" cy="225.3" r="0.6"/><circle cx="89.2" cy="232.8" r="0.5"/><circle cx="40.7" cy="257.6" r="0.5"/><circle cx="24.2" cy="273.4" r="0.4"/><circle cx="75.8" cy="232.2" r="0.5"/><circle cx="68.3" cy="232.9" r="0.7"/><circle cx="61.2" cy="230.7" r="0.5"/><circle cx="41.8" cy="253.2" r="0.6"/><circle cx="62.3" cy="266.0" r="0.5"/><circle cx="92.3" cy="245.9" r="0.5"/><circle cx="47.1" cy="238.0" r="0.5"/><circle cx="77.5" cy="247.9" r="0.6"/><circle cx="36.3" cy="236.9" r="0.5"/><circle cx="52.6" cy="277.5" r="0.6"/><circle cx="54.0" cy="276.1" r="0.4"/><circle cx="56.6" cy="261.4" r="0.5"/><circle cx="39.7" cy="250.6" r="0.4"/><circle cx="76.4" cy="230.1" r="0.5"/><circle cx="55.3" cy="240.7" r="0.6"/><circle cx="42.5" cy="246.1" r="0.7"/><circle cx="35.2" cy="261.1" r="0.7"/><circle cx="22.9" cy="239.8" r="0.7"/><circle cx="40.3" cy="236.2" r="0.5"/><circle cx="85.0" cy="268.0" r="0.5"/><circle cx="89.2" cy="233.2" r="0.7"/><circle cx="34.4" cy="244.5" r="0.4"/><circle cx="59.5" cy="277.3" r="0.5"/><circle cx="85.0" cy="279.0" r="0.4"/><circle cx="21.1" cy="226.5" r="0.6"/><circle cx="46.1" cy="251.8" r="0.6"/><circle cx="20.2" cy="246.9" r="0.7"/><circle cx="29.7" cy="279.8" r="0.5"/><circle cx="36.2" cy="244.9" r="0.7"/><circle cx="33.4" cy="278.2" r="0.6"/><circle cx="28.5" cy="252.5" r="0.6"/><circle cx="37.0" cy="240.3" r="0.5"/><circle cx="97.6" cy="269.8" r="0.6"/><circle cx="77.4" cy="247.2" r="0.5"/><circle cx="96.2" cy="285.6" r="0.7"/><circle cx="69.5" cy="239.1" r="0.7"/><circle cx="23.5" cy="259.1" r="0.5"/><circle cx="57.8" cy="279.2" r="0.6"/><circle cx="97.9" cy="276.3" r="0.5"/><circle cx="38.7" cy="286.8" r="0.7"/><circle cx="67.7" cy="227.2" r="0.7"/><circle cx="36.0" cy="285.2" r="0.5"/><circle cx="82.0" cy="271.5" r="0.5"/><circle cx="71.5" cy="226.3" r="0.5"/><circle cx="93.0" cy="243.6" r="0.6"/><circle cx="80.1" cy="258.8" r="0.6"/><circle cx="57.9" cy="258.0" r="0.6"/><circle cx="91.6" cy="277.4" r="0.6"/><circle cx="50.6" cy="278.5" r="0.6"/><circle cx="33.4" cy="246.8" r="0.4"/><circle cx="44.8" cy="227.8" r="0.5"/><circle cx="51.1" cy="224.9" r="0.6"/><circle cx="95.5" cy="276.3" r="0.6"/><circle cx="57.2" cy="228.7" r="0.6"/><circle cx="40.3" cy="273.5" r="0.5"/><circle cx="42.7" cy="230.8" r="0.7"/><circle cx="53.1" cy="261.2" r="0.7"/><circle cx="29.6" cy="248.5" r="0.6"/><circle cx="63.3" cy="271.7" r="0.6"/><circle cx="51.6" cy="287.3" r="0.5"/><circle cx="39.7" cy="272.1" r="0.5"/><circle cx="25.9" cy="282.5" r="0.5"/><circle cx="62.4" cy="235.7" r="0.6"/><circle cx="83.5" cy="280.4" r="0.7"/><circle cx="29.9" cy="280.4" r="0.5"/><circle cx="94.8" cy="247.2" r="0.7"/><circle cx="81.6" cy="270.2" r="0.6"/><circle cx="64.1" cy="249.2" r="0.4"/><circle cx="44.2" cy="276.2" r="0.4"/><circle cx="81.0" cy="284.4" r="0.7"/><circle cx="25.0" cy="260.7" r="0.5"/><circle cx="75.0" cy="238.5" r="0.6"/><circle cx="21.3" cy="281.1" r="0.7"/><circle cx="80.8" cy="269.7" r="0.5"/><circle cx="45.7" cy="252.4" r="0.4"/><circle cx="83.3" cy="230.7" r="0.7"/><circle cx="76.3" cy="269.4" r="0.7"/><circle cx="55.9" cy="284.8" r="0.5"/><circle cx="69.2" cy="280.5" r="0.6"/><circle cx="34.9" cy="250.5" r="0.4"/><circle cx="42.6" cy="256.2" r="0.7"/><circle cx="78.7" cy="287.3" r="0.6"/><circle cx="91.0" cy="278.5" r="0.7"/><circle cx="96.1" cy="271.0" r="0.6"/><circle cx="77.4" cy="230.5" r="0.5"/><circle cx="51.6" cy="255.6" r="0.5"/><circle cx="27.9" cy="281.6" r="0.6"/><circle cx="48.9" cy="240.1" r="0.7"/><circle cx="26.1" cy="258.6" r="0.6"/><circle cx="46.1" cy="284.5" r="0.6"/><circle cx="69.4" cy="251.9" r="0.5"/><circle cx="32.0" cy="227.9" r="0.4"/><circle cx="73.6" cy="263.4" r="0.5"/><circle cx="58.5" cy="256.7" r="0.5"/><circle cx="51.8" cy="281.9" r="0.5"/><circle cx="24.0" cy="239.4" r="0.7"/><circle cx="81.9" cy="244.7" r="0.5"/><circle cx="45.7" cy="252.0" r="0.5"/><circle cx="42.9" cy="272.6" r="0.6"/><circle cx="27.2" cy="259.8" r="0.7"/><circle cx="75.6" cy="246.4" r="0.5"/><circle cx="76.8" cy="247.2" r="0.5"/><circle cx="68.5" cy="231.2" r="0.5"/><circle cx="44.6" cy="260.1" r="0.4"/><circle cx="67.6" cy="254.0" r="0.4"/><circle cx="22.6" cy="258.8" r="0.6"/><circle cx="87.5" cy="241.9" r="0.5"/><circle cx="36.0" cy="263.9" r="0.5"/><circle cx="37.9" cy="231.2" r="0.6"/><circle cx="25.5" cy="264.2" r="0.5"/><circle cx="88.8" cy="273.4" r="0.6"/><circle cx="65.9" cy="279.9" r="0.6"/><circle cx="86.1" cy="241.7" r="0.6"/><circle cx="49.5" cy="286.2" r="0.7"/><circle cx="93.5" cy="265.2" r="0.7"/><circle cx="69.0" cy="246.4" r="0.4"/><circle cx="26.8" cy="245.6" r="0.6"/><circle cx="37.8" cy="264.6" r="0.4"/><circle cx="71.0" cy="264.5" r="0.4"/><circle cx="91.0" cy="224.8" r="0.5"/><circle cx="35.8" cy="231.1" r="0.4"/><circle cx="48.7" cy="282.4" r="0.4"/><circle cx="56.3" cy="275.2" r="0.5"/><circle cx="34.0" cy="247.1" r="0.6"/><circle cx="82.2" cy="243.3" r="0.6"/><circle cx="76.9" cy="262.6" r="0.6"/><circle cx="71.0" cy="226.6" r="0.6"/><circle cx="47.9" cy="286.8" r="0.6"/><circle cx="49.1" cy="242.3" r="0.6"/><circle cx="97.9" cy="262.0" r="0.4"/><circle cx="74.2" cy="255.3" r="0.5"/><circle cx="68.5" cy="249.4" r="0.5"/><circle cx="41.2" cy="243.1" r="0.5"/><circle cx="37.5" cy="268.5" r="0.7"/><circle cx="26.6" cy="232.2" r="0.5"/><circle cx="59.4" cy="287.2" r="0.5"/><circle cx="80.9" cy="266.9" r="0.6"/><circle cx="77.8" cy="237.8" r="0.6"/><circle cx="59.7" cy="225.9" r="0.5"/><circle cx="60.4" cy="226.8" r="0.5"/><circle cx="28.7" cy="232.4" r="0.5"/><circle cx="46.8" cy="254.7" r="0.7"/><circle cx="36.8" cy="229.7" r="0.4"/><circle cx="29.2" cy="284.6" r="0.7"/><circle cx="96.8" cy="282.4" r="0.6"/><circle cx="30.4" cy="237.5" r="0.7"/><circle cx="88.5" cy="225.8" r="0.5"/><circle cx="31.3" cy="265.7" r="0.6"/><circle cx="95.2" cy="283.1" r="0.4"/><circle cx="85.8" cy="244.8" r="0.5"/><circle cx="77.1" cy="283.8" r="0.6"/><circle cx="90.1" cy="286.0" r="0.5"/><circle cx="79.4" cy="274.4" r="0.6"/><circle cx="74.7" cy="251.4" r="0.7"/><circle cx="64.6" cy="283.4" r="0.6"/><circle cx="64.5" cy="226.4" r="0.6"/><circle cx="54.7" cy="279.7" r="0.6"/><circle cx="75.2" cy="255.2" r="0.5"/><circle cx="92.8" cy="272.4" r="0.7"/><circle cx="37.3" cy="269.0" r="0.5"/><circle cx="87.8" cy="225.2" r="0.4"/><circle cx="93.1" cy="252.0" r="0.5"/><circle cx="86.1" cy="225.6" r="0.5"/><circle cx="44.7" cy="243.9" r="0.5"/><circle cx="36.7" cy="266.2" r="0.5"/><circle cx="82.0" cy="265.7" r="0.4"/><circle cx="90.9" cy="232.0" r="0.7"/><circle cx="42.2" cy="250.1" r="0.6"/><circle cx="81.8" cy="271.3" r="0.5"/><circle cx="97.3" cy="279.8" r="0.6"/><circle cx="61.2" cy="271.4" r="0.6"/><circle cx="83.8" cy="257.6" r="0.5"/><circle cx="72.9" cy="278.6" r="0.6"/><circle cx="84.8" cy="234.7" r="0.5"/><circle cx="22.0" cy="269.3" r="0.7"/><circle cx="83.6" cy="236.7" r="0.6"/><circle cx="86.3" cy="272.5" r="0.6"/><circle cx="32.6" cy="234.6" r="0.4"/><circle cx="71.2" cy="264.1" r="0.6"/><circle cx="32.2" cy="282.0" r="0.7"/><circle cx="36.6" cy="277.3" r="0.6"/><circle cx="93.7" cy="232.4" r="0.4"/><circle cx="74.6" cy="259.4" r="0.5"/></g><g fill="#f2e0f2" opacity="0.55"><circle cx="19.9" cy="266.7" r="0.5"/><circle cx="89.1" cy="268.0" r="0.7"/><circle cx="71.7" cy="259.0" r="0.7"/><circle cx="76.9" cy="259.2" r="0.6"/><circle cx="82.3" cy="234.6" r="0.5"/><circle cx="56.5" cy="264.4" r="0.5"/><circle cx="25.1" cy="260.2" r="0.6"/><circle cx="91.4" cy="230.3" r="0.4"/><circle cx="77.2" cy="270.1" r="0.5"/><circle cx="89.4" cy="285.7" r="0.5"/><circle cx="69.6" cy="262.4" r="0.7"/><circle cx="56.9" cy="252.5" r="0.7"/><circle cx="66.8" cy="246.1" r="0.6"/><circle cx="82.2" cy="259.2" r="0.5"/><circle cx="53.8" cy="257.3" r="0.5"/><circle cx="75.2" cy="277.5" r="0.4"/><circle cx="83.5" cy="269.5" r="0.8"/><circle cx="38.8" cy="224.8" r="0.6"/><circle cx="29.2" cy="230.1" r="0.7"/><circle cx="59.4" cy="229.7" r="0.5"/><circle cx="56.8" cy="272.4" r="0.5"/><circle cx="54.2" cy="279.8" r="0.5"/><circle cx="47.9" cy="255.3" r="0.6"/><circle cx="40.4" cy="233.0" r="0.7"/><circle cx="64.9" cy="232.6" r="0.6"/><circle cx="31.3" cy="243.1" r="0.5"/><circle cx="76.7" cy="286.5" r="0.5"/><circle cx="36.7" cy="240.0" r="0.5"/><circle cx="95.6" cy="261.4" r="0.7"/><circle cx="82.1" cy="287.7" r="0.5"/><circle cx="71.3" cy="240.4" r="0.8"/><circle cx="96.6" cy="281.0" r="0.7"/><circle cx="19.9" cy="285.8" r="0.5"/><circle cx="70.5" cy="239.4" r="0.4"/><circle cx="56.8" cy="243.8" r="0.7"/><circle cx="80.4" cy="250.0" r="0.4"/><circle cx="26.4" cy="280.8" r="0.7"/><circle cx="45.6" cy="235.8" r="0.6"/><circle cx="74.5" cy="233.0" r="0.6"/><circle cx="67.1" cy="252.8" r="0.6"/><circle cx="29.2" cy="285.0" r="0.4"/><circle cx="74.0" cy="228.3" r="0.7"/><circle cx="90.1" cy="265.4" r="0.7"/><circle cx="84.1" cy="273.4" r="0.4"/><circle cx="33.0" cy="244.6" r="0.5"/><circle cx="33.2" cy="275.9" r="0.7"/><circle cx="93.9" cy="260.9" r="0.5"/><circle cx="71.8" cy="286.3" r="0.5"/><circle cx="60.5" cy="252.6" r="0.7"/><circle cx="41.7" cy="286.9" r="0.8"/><circle cx="29.3" cy="236.8" r="0.8"/><circle cx="86.3" cy="226.5" r="0.5"/><circle cx="35.2" cy="258.1" r="0.5"/><circle cx="38.2" cy="249.0" r="0.4"/><circle cx="21.7" cy="266.9" r="0.4"/><circle cx="25.5" cy="243.0" r="0.5"/><circle cx="27.7" cy="268.6" r="0.8"/><circle cx="36.7" cy="259.7" r="0.7"/><circle cx="22.3" cy="260.5" r="0.5"/><circle cx="46.5" cy="282.0" r="0.6"/><circle cx="34.9" cy="243.5" r="0.6"/><circle cx="87.7" cy="228.6" r="0.5"/><circle cx="58.1" cy="255.4" r="0.4"/><circle cx="42.5" cy="235.4" r="0.5"/><circle cx="58.8" cy="226.7" r="0.5"/><circle cx="20.4" cy="242.8" r="0.4"/><circle cx="49.3" cy="241.1" r="0.8"/><circle cx="75.3" cy="251.0" r="0.8"/><circle cx="67.4" cy="262.0" r="0.6"/><circle cx="75.4" cy="283.5" r="0.6"/><circle cx="63.6" cy="268.5" r="0.6"/><circle cx="63.3" cy="229.6" r="0.7"/><circle cx="85.0" cy="258.1" r="0.6"/><circle cx="22.8" cy="271.6" r="0.8"/><circle cx="59.0" cy="284.5" r="0.8"/><circle cx="52.4" cy="254.5" r="0.5"/><circle cx="89.8" cy="283.3" r="0.6"/><circle cx="80.0" cy="252.8" r="0.8"/><circle cx="53.5" cy="271.2" r="0.5"/><circle cx="90.0" cy="253.7" r="0.8"/><circle cx="74.7" cy="260.2" r="0.6"/><circle cx="62.9" cy="238.3" r="0.7"/><circle cx="41.8" cy="240.9" r="0.4"/><circle cx="96.8" cy="226.4" r="0.6"/><circle cx="36.9" cy="237.6" r="0.7"/><circle cx="83.6" cy="267.1" r="0.5"/><circle cx="43.8" cy="231.5" r="0.8"/><circle cx="72.4" cy="271.8" r="0.6"/><circle cx="69.9" cy="269.8" r="0.6"/><circle cx="66.5" cy="226.7" r="0.7"/><circle cx="82.0" cy="279.7" r="0.5"/><circle cx="32.8" cy="248.9" r="0.7"/><circle cx="96.7" cy="286.3" r="0.7"/><circle cx="83.7" cy="277.9" r="0.7"/><circle cx="32.0" cy="279.9" r="0.5"/><circle cx="84.1" cy="237.4" r="0.5"/><circle cx="91.1" cy="276.0" r="0.6"/><circle cx="91.4" cy="281.4" r="0.6"/><circle cx="27.0" cy="235.5" r="0.6"/><circle cx="82.8" cy="235.7" r="0.6"/><circle cx="47.0" cy="274.5" r="0.7"/><circle cx="84.7" cy="250.0" r="0.5"/><circle cx="52.0" cy="268.6" r="0.5"/><circle cx="97.7" cy="264.4" r="0.5"/><circle cx="46.9" cy="239.9" r="0.6"/><circle cx="34.4" cy="263.3" r="0.5"/><circle cx="76.1" cy="238.8" r="0.8"/><circle cx="78.0" cy="262.9" r="0.5"/><circle cx="64.5" cy="258.0" r="0.6"/><circle cx="51.9" cy="225.7" r="0.7"/><circle cx="61.8" cy="266.5" r="0.5"/><circle cx="89.2" cy="286.1" r="0.4"/><circle cx="70.4" cy="234.9" r="0.5"/><circle cx="87.0" cy="250.9" r="0.7"/><circle cx="95.1" cy="284.3" r="0.5"/><circle cx="26.8" cy="228.1" r="0.8"/><circle cx="23.6" cy="267.4" r="0.5"/><circle cx="58.2" cy="264.1" r="0.5"/><circle cx="45.1" cy="262.2" r="0.6"/><circle cx="27.1" cy="237.8" r="0.5"/><circle cx="77.1" cy="239.2" r="0.5"/><circle cx="28.6" cy="265.7" r="0.4"/><circle cx="96.7" cy="283.7" r="0.6"/><circle cx="88.7" cy="269.7" r="0.7"/><circle cx="20.3" cy="234.6" r="0.5"/><circle cx="65.3" cy="258.3" r="0.8"/><circle cx="85.2" cy="226.7" r="0.6"/><circle cx="68.7" cy="229.3" r="0.5"/><circle cx="78.8" cy="230.4" r="0.5"/><circle cx="57.8" cy="273.4" r="0.5"/><circle cx="96.8" cy="275.0" r="0.4"/><circle cx="80.9" cy="243.6" r="0.6"/><circle cx="69.7" cy="258.9" r="0.6"/><circle cx="58.4" cy="262.3" r="0.7"/><circle cx="54.5" cy="248.6" r="0.4"/><circle cx="79.4" cy="265.5" r="0.4"/><circle cx="96.1" cy="283.2" r="0.8"/><circle cx="82.4" cy="231.7" r="0.5"/><circle cx="59.1" cy="256.1" r="0.7"/><circle cx="81.6" cy="282.1" r="0.8"/><circle cx="35.1" cy="225.5" r="0.5"/><circle cx="87.8" cy="286.3" r="0.5"/><circle cx="46.2" cy="262.7" r="0.7"/><circle cx="49.9" cy="249.0" r="0.5"/><circle cx="69.6" cy="268.4" r="0.6"/><circle cx="90.2" cy="247.8" r="0.4"/><circle cx="58.4" cy="253.2" r="0.6"/><circle cx="96.9" cy="257.4" r="0.6"/><circle cx="91.6" cy="285.8" r="0.5"/><circle cx="21.9" cy="273.4" r="0.5"/><circle cx="28.5" cy="256.1" r="0.8"/><circle cx="69.0" cy="229.8" r="0.8"/><circle cx="65.0" cy="268.4" r="0.5"/><circle cx="47.0" cy="258.8" r="0.5"/><circle cx="50.7" cy="234.4" r="0.5"/><circle cx="39.7" cy="284.1" r="0.5"/><circle cx="69.6" cy="258.9" r="0.6"/><circle cx="82.8" cy="277.5" r="0.8"/><circle cx="78.9" cy="250.0" r="0.4"/><circle cx="62.0" cy="245.1" r="0.5"/><circle cx="24.7" cy="283.1" r="0.6"/><circle cx="26.0" cy="248.2" r="0.6"/><circle cx="86.4" cy="244.3" r="0.5"/><circle cx="91.1" cy="226.1" r="0.7"/><circle cx="31.4" cy="253.0" r="0.6"/><circle cx="69.5" cy="274.8" r="0.5"/><circle cx="89.9" cy="276.4" r="0.8"/><circle cx="34.2" cy="287.3" r="0.5"/><circle cx="23.3" cy="254.2" r="0.7"/><circle cx="47.0" cy="226.3" r="0.8"/><circle cx="35.6" cy="287.4" r="0.5"/><circle cx="95.7" cy="246.5" r="0.7"/><circle cx="98.0" cy="271.3" r="0.7"/><circle cx="22.3" cy="262.8" r="0.5"/><circle cx="35.7" cy="242.3" r="0.8"/><circle cx="75.9" cy="237.9" r="0.5"/><circle cx="47.3" cy="225.2" r="0.6"/><circle cx="44.9" cy="243.9" r="0.8"/><circle cx="28.6" cy="230.9" r="0.6"/><circle cx="51.5" cy="229.9" r="0.8"/><circle cx="93.0" cy="241.0" r="0.6"/><circle cx="48.5" cy="228.8" r="0.7"/><circle cx="83.3" cy="236.7" r="0.6"/><circle cx="25.7" cy="248.2" r="0.7"/><circle cx="91.1" cy="282.6" r="0.7"/><circle cx="56.2" cy="261.4" r="0.7"/><circle cx="25.4" cy="281.7" r="0.7"/><circle cx="78.7" cy="240.3" r="0.5"/><circle cx="85.5" cy="234.9" r="0.7"/><circle cx="57.5" cy="242.8" r="0.7"/><circle cx="64.1" cy="240.6" r="0.7"/><circle cx="62.3" cy="240.9" r="0.5"/><circle cx="20.9" cy="231.9" r="0.6"/><circle cx="81.5" cy="253.0" r="0.4"/><circle cx="59.8" cy="266.4" r="0.8"/><circle cx="39.7" cy="236.7" r="0.7"/><circle cx="51.6" cy="272.1" r="0.5"/><circle cx="77.0" cy="253.8" r="0.6"/><circle cx="67.2" cy="240.9" r="0.5"/><circle cx="93.9" cy="265.1" r="0.6"/><circle cx="82.6" cy="248.1" r="0.7"/><circle cx="65.0" cy="269.6" r="0.7"/><circle cx="61.4" cy="272.7" r="0.8"/><circle cx="41.0" cy="274.2" r="0.7"/><circle cx="44.6" cy="257.3" r="0.6"/><circle cx="30.9" cy="250.2" r="0.6"/><circle cx="89.1" cy="226.7" r="0.5"/><circle cx="34.4" cy="259.0" r="0.4"/><circle cx="71.2" cy="268.1" r="0.8"/><circle cx="73.5" cy="270.1" r="0.8"/><circle cx="66.9" cy="234.5" r="0.7"/><circle cx="62.3" cy="242.5" r="0.5"/><circle cx="20.1" cy="256.8" r="0.7"/><circle cx="96.0" cy="254.2" r="0.5"/><circle cx="79.2" cy="264.1" r="0.5"/><circle cx="22.6" cy="259.4" r="0.7"/><circle cx="97.1" cy="266.0" r="0.8"/><circle cx="43.0" cy="281.8" r="0.4"/><circle cx="72.1" cy="283.6" r="0.7"/><circle cx="86.1" cy="261.6" r="0.7"/><circle cx="56.3" cy="258.2" r="0.7"/><circle cx="44.7" cy="278.6" r="0.5"/><circle cx="29.7" cy="287.1" r="0.5"/><circle cx="46.3" cy="252.5" r="0.7"/><circle cx="67.4" cy="244.4" r="0.5"/><circle cx="67.3" cy="228.3" r="0.5"/><circle cx="87.8" cy="231.4" r="0.6"/><circle cx="88.1" cy="278.9" r="0.5"/><circle cx="81.3" cy="272.1" r="0.5"/><circle cx="34.3" cy="260.6" r="0.5"/><circle cx="24.5" cy="271.8" r="0.5"/><circle cx="81.4" cy="238.1" r="0.4"/><circle cx="54.4" cy="230.5" r="0.6"/><circle cx="72.0" cy="268.8" r="0.5"/><circle cx="24.4" cy="263.4" r="0.5"/><circle cx="88.5" cy="236.0" r="0.5"/><circle cx="90.8" cy="242.0" r="0.6"/><circle cx="21.0" cy="230.1" r="0.4"/><circle cx="79.0" cy="236.9" r="0.5"/><circle cx="87.0" cy="252.2" r="0.4"/><circle cx="26.2" cy="276.2" r="0.7"/><circle cx="45.4" cy="233.1" r="0.4"/><circle cx="20.0" cy="243.8" r="0.6"/><circle cx="55.8" cy="256.0" r="0.5"/><circle cx="65.3" cy="229.9" r="0.7"/><circle cx="19.9" cy="280.7" r="0.8"/><circle cx="53.0" cy="270.4" r="0.7"/><circle cx="89.8" cy="262.2" r="0.4"/><circle cx="77.7" cy="238.7" r="0.5"/><circle cx="36.3" cy="257.1" r="0.5"/><circle cx="96.9" cy="286.0" r="0.8"/><circle cx="37.8" cy="264.8" r="0.4"/><circle cx="42.4" cy="247.4" r="0.7"/><circle cx="41.7" cy="287.5" r="0.7"/><circle cx="49.7" cy="254.0" r="0.7"/><circle cx="26.5" cy="278.2" r="0.6"/><circle cx="26.4" cy="277.0" r="0.6"/><circle cx="38.5" cy="239.6" r="0.5"/><circle cx="23.0" cy="247.1" r="0.7"/><circle cx="94.5" cy="247.6" r="0.6"/><circle cx="45.7" cy="271.7" r="0.7"/><circle cx="37.7" cy="272.5" r="0.6"/><circle cx="95.4" cy="278.7" r="0.7"/><circle cx="22.9" cy="274.0" r="0.6"/><circle cx="81.5" cy="274.8" r="0.5"/><circle cx="65.0" cy="231.5" r="0.6"/><circle cx="72.7" cy="261.4" r="0.5"/><circle cx="57.7" cy="273.1" r="0.8"/><circle cx="34.0" cy="248.5" r="0.4"/><circle cx="69.2" cy="281.3" r="0.6"/><circle cx="97.3" cy="280.7" r="0.6"/><circle cx="40.3" cy="251.4" r="0.6"/><circle cx="60.8" cy="253.8" r="0.4"/><circle cx="25.9" cy="247.9" r="0.7"/><circle cx="92.6" cy="248.5" r="0.5"/><circle cx="88.5" cy="281.0" r="0.5"/><circle cx="60.0" cy="282.6" r="0.5"/><circle cx="96.2" cy="225.4" r="0.4"/><circle cx="65.9" cy="284.9" r="0.8"/><circle cx="44.0" cy="247.7" r="0.4"/><circle cx="31.6" cy="280.4" r="0.8"/><circle cx="63.8" cy="262.1" r="0.7"/><circle cx="66.4" cy="281.3" r="0.8"/><circle cx="60.2" cy="259.4" r="0.6"/><circle cx="54.7" cy="245.9" r="0.6"/><circle cx="95.6" cy="265.5" r="0.6"/><circle cx="58.4" cy="230.5" r="0.6"/><circle cx="69.7" cy="227.6" r="0.5"/><circle cx="56.6" cy="238.1" r="0.5"/><circle cx="50.4" cy="238.7" r="0.6"/><circle cx="37.3" cy="252.4" r="0.7"/><circle cx="29.1" cy="240.7" r="0.8"/><circle cx="76.1" cy="231.2" r="0.8"/><circle cx="86.0" cy="250.7" r="0.6"/><circle cx="36.3" cy="273.5" r="0.5"/><circle cx="49.2" cy="247.9" r="0.6"/><circle cx="19.8" cy="236.0" r="0.5"/><circle cx="93.1" cy="255.9" r="0.7"/><circle cx="53.8" cy="262.0" r="0.7"/><circle cx="26.7" cy="234.3" r="0.6"/><circle cx="87.2" cy="264.6" r="0.5"/><circle cx="44.7" cy="279.1" r="0.8"/><circle cx="42.5" cy="252.9" r="0.6"/><circle cx="81.2" cy="278.5" r="0.4"/><circle cx="41.7" cy="286.7" r="0.7"/><circle cx="36.1" cy="241.6" r="0.6"/><circle cx="60.0" cy="260.2" r="0.4"/><circle cx="62.0" cy="254.2" r="0.7"/><circle cx="80.7" cy="240.6" r="0.5"/><circle cx="53.8" cy="267.4" r="0.5"/><circle cx="89.4" cy="240.8" r="0.6"/><circle cx="47.5" cy="254.4" r="0.5"/><circle cx="40.7" cy="257.1" r="0.5"/><circle cx="93.3" cy="239.5" r="0.6"/><circle cx="84.8" cy="280.8" r="0.8"/><circle cx="58.0" cy="246.9" r="0.6"/><circle cx="28.9" cy="259.4" r="0.6"/><circle cx="85.8" cy="248.9" r="0.7"/><circle cx="39.7" cy="277.0" r="0.8"/><circle cx="32.0" cy="260.3" r="0.8"/><circle cx="79.7" cy="256.9" r="0.4"/><circle cx="42.6" cy="262.5" r="0.7"/><circle cx="46.1" cy="266.9" r="0.7"/><circle cx="82.0" cy="275.3" r="0.7"/><circle cx="80.3" cy="232.6" r="0.7"/><circle cx="40.8" cy="266.9" r="0.7"/><circle cx="69.5" cy="281.1" r="0.5"/><circle cx="54.2" cy="228.6" r="0.8"/><circle cx="25.5" cy="227.9" r="0.7"/><circle cx="61.8" cy="245.2" r="0.5"/><circle cx="22.6" cy="282.0" r="0.6"/><circle cx="24.8" cy="246.7" r="0.5"/><circle cx="80.4" cy="267.9" r="0.5"/><circle cx="36.8" cy="285.4" r="0.7"/><circle cx="54.7" cy="276.6" r="0.5"/><circle cx="52.7" cy="265.6" r="0.4"/><circle cx="94.6" cy="228.5" r="0.6"/><circle cx="64.1" cy="262.0" r="0.6"/><circle cx="95.4" cy="262.7" r="0.8"/><circle cx="40.2" cy="233.5" r="0.4"/><circle cx="63.0" cy="235.2" r="0.5"/><circle cx="47.2" cy="285.2" r="0.4"/><circle cx="34.0" cy="237.7" r="0.8"/><circle cx="72.1" cy="256.5" r="0.7"/><circle cx="90.8" cy="245.4" r="0.5"/><circle cx="79.1" cy="250.9" r="0.6"/><circle cx="97.5" cy="282.7" r="0.7"/><circle cx="34.9" cy="248.2" r="0.6"/><circle cx="56.8" cy="254.4" r="0.6"/><circle cx="66.0" cy="268.3" r="0.6"/></g></g>
</g>
<g clip-path="url(#he2)"><rect x="102.6" y="225.5" width="79.1" height="63.10000000000002" fill="#dc9cda"/>
<g filter="url(#hb)"><g fill="#efcdee" opacity="0.65"><circle cx="119.2" cy="229.4" r="2.4"/><circle cx="115.1" cy="257.6" r="2.0"/><circle cx="113.9" cy="281.3" r="2.3"/><circle cx="125.7" cy="226.3" r="4.6"/><circle cx="153.7" cy="267.4" r="3.0"/><circle cx="161.5" cy="253.6" r="3.7"/><circle cx="175.0" cy="268.2" r="3.1"/><circle cx="176.5" cy="275.7" r="3.3"/><circle cx="124.2" cy="252.7" r="3.9"/><circle cx="118.9" cy="265.4" r="4.8"/><circle cx="133.3" cy="254.6" r="2.2"/><circle cx="131.6" cy="236.6" r="3.3"/><circle cx="149.3" cy="271.3" r="4.1"/><circle cx="130.2" cy="233.6" r="4.4"/><circle cx="151.2" cy="264.8" r="3.9"/><circle cx="146.0" cy="277.8" r="2.8"/><circle cx="177.1" cy="273.6" r="2.1"/><circle cx="150.0" cy="284.7" r="2.7"/><circle cx="147.2" cy="258.2" r="3.7"/><circle cx="118.9" cy="245.8" r="4.7"/><circle cx="131.4" cy="242.3" r="3.8"/><circle cx="124.3" cy="237.1" r="3.8"/><circle cx="110.8" cy="260.6" r="3.1"/><circle cx="137.1" cy="276.2" r="4.3"/><circle cx="159.9" cy="284.1" r="4.9"/><circle cx="174.6" cy="232.4" r="3.4"/><circle cx="154.7" cy="283.9" r="3.9"/><circle cx="109.1" cy="234.2" r="3.6"/><circle cx="104.2" cy="236.8" r="2.8"/><circle cx="177.5" cy="281.0" r="4.7"/></g></g>
<g filter="url(#hb2)"><g fill="#561888" opacity="0.88"><circle cx="103.4" cy="227.3" r="1.4"/><circle cx="106.8" cy="226.2" r="1.4"/><circle cx="111.4" cy="227.4" r="1.3"/><circle cx="115.2" cy="227.4" r="1.4"/><circle cx="119.5" cy="225.5" r="1.4"/><circle cx="123.0" cy="227.1" r="1.5"/><circle cx="126.1" cy="225.8" r="1.5"/><circle cx="130.3" cy="226.6" r="1.4"/><circle cx="133.4" cy="227.4" r="1.5"/><circle cx="137.9" cy="225.9" r="1.2"/><circle cx="141.9" cy="227.1" r="1.3"/><circle cx="145.3" cy="226.1" r="1.5"/><circle cx="148.7" cy="226.3" r="1.5"/><circle cx="152.2" cy="225.8" r="1.2"/><circle cx="157.1" cy="225.8" r="1.3"/><circle cx="159.7" cy="227.0" r="1.5"/><circle cx="164.0" cy="227.0" r="1.5"/><circle cx="168.4" cy="226.7" r="1.5"/><circle cx="175.8" cy="225.7" r="1.3"/><circle cx="180.0" cy="226.5" r="1.2"/><circle cx="183.9" cy="226.6" r="1.5"/><circle cx="105.4" cy="229.3" r="1.2"/><circle cx="108.8" cy="231.0" r="1.2"/><circle cx="112.3" cy="230.9" r="1.2"/><circle cx="116.5" cy="229.8" r="1.2"/><circle cx="119.8" cy="230.4" r="1.4"/><circle cx="124.8" cy="230.5" r="1.2"/><circle cx="132.7" cy="230.9" r="1.3"/><circle cx="135.8" cy="230.9" r="1.4"/><circle cx="140.2" cy="230.7" r="1.3"/><circle cx="144.2" cy="229.9" r="1.5"/><circle cx="147.9" cy="230.8" r="1.2"/><circle cx="151.3" cy="229.8" r="1.3"/><circle cx="154.8" cy="231.1" r="1.3"/><circle cx="158.4" cy="230.3" r="1.2"/><circle cx="162.6" cy="229.8" r="1.4"/><circle cx="165.4" cy="230.9" r="1.5"/><circle cx="170.3" cy="229.5" r="1.2"/><circle cx="174.3" cy="230.0" r="1.4"/><circle cx="178.6" cy="229.6" r="1.3"/><circle cx="182.4" cy="229.8" r="1.3"/><circle cx="103.6" cy="232.9" r="1.2"/><circle cx="106.4" cy="232.8" r="1.5"/><circle cx="111.9" cy="233.3" r="1.3"/><circle cx="118.7" cy="233.4" r="1.4"/><circle cx="123.6" cy="234.6" r="1.4"/><circle cx="129.6" cy="233.7" r="1.3"/><circle cx="137.0" cy="234.0" r="1.4"/><circle cx="140.9" cy="233.9" r="1.2"/><circle cx="145.1" cy="233.4" r="1.3"/><circle cx="148.4" cy="233.8" r="1.2"/><circle cx="152.1" cy="233.7" r="1.2"/><circle cx="157.7" cy="234.2" r="1.3"/><circle cx="161.1" cy="232.9" r="1.3"/><circle cx="163.7" cy="233.6" r="1.3"/><circle cx="168.4" cy="233.6" r="1.2"/><circle cx="171.5" cy="233.8" r="1.3"/><circle cx="176.0" cy="232.7" r="1.3"/><circle cx="179.3" cy="234.2" r="1.5"/><circle cx="105.4" cy="237.3" r="1.2"/><circle cx="108.8" cy="237.9" r="1.5"/><circle cx="113.6" cy="237.2" r="1.4"/><circle cx="115.9" cy="237.3" r="1.5"/><circle cx="121.5" cy="237.1" r="1.3"/><circle cx="124.4" cy="236.9" r="1.2"/><circle cx="129.2" cy="237.9" r="1.3"/><circle cx="132.1" cy="237.0" r="1.4"/><circle cx="136.1" cy="237.8" r="1.3"/><circle cx="139.8" cy="237.4" r="1.5"/><circle cx="143.4" cy="237.3" r="1.5"/><circle cx="146.5" cy="237.1" r="1.2"/><circle cx="151.7" cy="237.6" r="1.2"/><circle cx="153.9" cy="237.7" r="1.5"/><circle cx="159.1" cy="236.4" r="1.2"/><circle cx="166.6" cy="238.2" r="1.5"/><circle cx="170.0" cy="237.1" r="1.2"/><circle cx="173.9" cy="237.8" r="1.3"/><circle cx="177.2" cy="236.5" r="1.4"/><circle cx="181.3" cy="238.3" r="1.3"/><circle cx="103.0" cy="240.5" r="1.2"/><circle cx="107.2" cy="240.8" r="1.5"/><circle cx="111.4" cy="240.9" r="1.5"/><circle cx="115.9" cy="240.6" r="1.2"/><circle cx="119.4" cy="240.1" r="1.3"/><circle cx="121.7" cy="241.3" r="1.3"/><circle cx="127.3" cy="241.6" r="1.2"/><circle cx="130.3" cy="240.0" r="1.5"/><circle cx="133.6" cy="240.0" r="1.3"/><circle cx="137.1" cy="241.3" r="1.4"/><circle cx="142.4" cy="241.6" r="1.3"/><circle cx="145.7" cy="240.7" r="1.3"/><circle cx="148.5" cy="240.1" r="1.4"/><circle cx="160.0" cy="240.1" r="1.2"/><circle cx="164.1" cy="240.6" r="1.2"/><circle cx="167.6" cy="241.8" r="1.2"/><circle cx="175.7" cy="240.9" r="1.2"/><circle cx="183.5" cy="241.6" r="1.4"/><circle cx="104.7" cy="244.1" r="1.2"/><circle cx="108.8" cy="245.3" r="1.2"/><circle cx="112.9" cy="244.1" r="1.4"/><circle cx="117.5" cy="244.2" r="1.5"/><circle cx="120.5" cy="245.4" r="1.5"/><circle cx="124.6" cy="245.2" r="1.2"/><circle cx="127.9" cy="245.1" r="1.3"/><circle cx="135.7" cy="243.5" r="1.4"/><circle cx="139.3" cy="245.3" r="1.3"/><circle cx="143.0" cy="245.0" r="1.4"/><circle cx="148.2" cy="244.1" r="1.2"/><circle cx="150.9" cy="245.1" r="1.3"/><circle cx="155.3" cy="245.2" r="1.2"/><circle cx="158.7" cy="243.8" r="1.5"/><circle cx="162.2" cy="243.7" r="1.3"/><circle cx="165.8" cy="243.9" r="1.3"/><circle cx="169.3" cy="244.5" r="1.4"/><circle cx="174.5" cy="245.0" r="1.2"/><circle cx="176.8" cy="245.2" r="1.2"/><circle cx="181.7" cy="244.8" r="1.3"/><circle cx="103.5" cy="248.6" r="1.2"/><circle cx="107.4" cy="247.9" r="1.4"/><circle cx="112.1" cy="247.5" r="1.5"/><circle cx="115.6" cy="247.3" r="1.3"/><circle cx="119.6" cy="247.4" r="1.4"/><circle cx="122.6" cy="248.5" r="1.5"/><circle cx="125.9" cy="247.8" r="1.4"/><circle cx="131.2" cy="248.8" r="1.5"/><circle cx="134.4" cy="248.8" r="1.5"/><circle cx="137.3" cy="247.9" r="1.5"/><circle cx="142.2" cy="247.7" r="1.4"/><circle cx="146.4" cy="248.2" r="1.4"/><circle cx="149.9" cy="247.5" r="1.2"/><circle cx="153.0" cy="248.0" r="1.2"/><circle cx="161.3" cy="247.9" r="1.3"/><circle cx="163.6" cy="247.1" r="1.4"/><circle cx="168.9" cy="248.6" r="1.4"/><circle cx="171.5" cy="248.3" r="1.4"/><circle cx="175.7" cy="247.2" r="1.4"/><circle cx="179.0" cy="248.5" r="1.5"/><circle cx="182.4" cy="248.3" r="1.5"/><circle cx="106.1" cy="251.9" r="1.4"/><circle cx="109.1" cy="250.8" r="1.5"/><circle cx="117.1" cy="252.2" r="1.2"/><circle cx="124.4" cy="250.7" r="1.2"/><circle cx="132.1" cy="252.2" r="1.4"/><circle cx="136.3" cy="252.4" r="1.2"/><circle cx="139.9" cy="252.1" r="1.4"/><circle cx="143.0" cy="251.4" r="1.5"/><circle cx="146.8" cy="251.8" r="1.3"/><circle cx="155.7" cy="251.5" r="1.2"/><circle cx="158.1" cy="252.4" r="1.5"/><circle cx="162.6" cy="252.0" r="1.2"/><circle cx="165.5" cy="250.8" r="1.4"/><circle cx="170.1" cy="251.0" r="1.2"/><circle cx="174.9" cy="252.0" r="1.4"/><circle cx="177.5" cy="252.5" r="1.2"/><circle cx="181.0" cy="251.1" r="1.2"/><circle cx="103.3" cy="256.3" r="1.3"/><circle cx="107.1" cy="255.8" r="1.2"/><circle cx="115.5" cy="254.9" r="1.2"/><circle cx="118.1" cy="255.9" r="1.2"/><circle cx="122.7" cy="255.5" r="1.4"/><circle cx="125.5" cy="256.1" r="1.5"/><circle cx="129.2" cy="254.9" r="1.2"/><circle cx="137.6" cy="254.7" r="1.4"/><circle cx="141.5" cy="255.8" r="1.3"/><circle cx="145.4" cy="254.7" r="1.4"/><circle cx="148.7" cy="254.4" r="1.3"/><circle cx="153.7" cy="256.2" r="1.4"/><circle cx="157.0" cy="255.0" r="1.4"/><circle cx="161.3" cy="254.9" r="1.2"/><circle cx="163.5" cy="254.9" r="1.4"/><circle cx="168.4" cy="256.3" r="1.5"/><circle cx="179.0" cy="255.7" r="1.4"/><circle cx="184.0" cy="255.6" r="1.5"/><circle cx="106.2" cy="259.7" r="1.2"/><circle cx="108.8" cy="259.6" r="1.5"/><circle cx="112.3" cy="258.3" r="1.4"/><circle cx="116.7" cy="259.8" r="1.5"/><circle cx="120.0" cy="259.5" r="1.4"/><circle cx="125.4" cy="258.3" r="1.2"/><circle cx="131.3" cy="259.1" r="1.5"/><circle cx="144.4" cy="258.7" r="1.4"/><circle cx="147.9" cy="259.1" r="1.5"/><circle cx="151.9" cy="259.7" r="1.5"/><circle cx="154.6" cy="258.9" r="1.2"/><circle cx="159.4" cy="259.9" r="1.3"/><circle cx="161.7" cy="259.0" r="1.5"/><circle cx="166.6" cy="259.5" r="1.3"/><circle cx="170.5" cy="258.3" r="1.3"/><circle cx="173.0" cy="258.4" r="1.5"/><circle cx="177.5" cy="258.1" r="1.4"/><circle cx="181.8" cy="259.6" r="1.3"/><circle cx="104.3" cy="263.2" r="1.4"/><circle cx="108.3" cy="261.6" r="1.5"/><circle cx="110.3" cy="261.8" r="1.5"/><circle cx="119.0" cy="263.2" r="1.4"/><circle cx="125.8" cy="261.7" r="1.5"/><circle cx="131.0" cy="263.4" r="1.3"/><circle cx="133.4" cy="262.5" r="1.2"/><circle cx="137.1" cy="262.4" r="1.2"/><circle cx="145.1" cy="262.0" r="1.5"/><circle cx="149.3" cy="261.6" r="1.3"/><circle cx="153.7" cy="261.9" r="1.2"/><circle cx="156.2" cy="261.6" r="1.2"/><circle cx="160.5" cy="262.0" r="1.4"/><circle cx="164.0" cy="262.5" r="1.2"/><circle cx="171.9" cy="263.4" r="1.4"/><circle cx="175.8" cy="263.5" r="1.5"/><circle cx="178.7" cy="263.4" r="1.3"/><circle cx="183.2" cy="263.0" r="1.3"/><circle cx="106.4" cy="266.4" r="1.5"/><circle cx="108.5" cy="266.5" r="1.3"/><circle cx="113.9" cy="266.0" r="1.4"/><circle cx="117.1" cy="266.4" r="1.5"/><circle cx="120.1" cy="266.6" r="1.4"/><circle cx="125.4" cy="265.2" r="1.5"/><circle cx="127.8" cy="266.4" r="1.2"/><circle cx="131.7" cy="266.7" r="1.4"/><circle cx="136.5" cy="266.9" r="1.5"/><circle cx="139.6" cy="265.2" r="1.3"/><circle cx="143.6" cy="266.8" r="1.4"/><circle cx="146.4" cy="266.1" r="1.3"/><circle cx="151.9" cy="265.1" r="1.5"/><circle cx="154.0" cy="266.3" r="1.4"/><circle cx="162.4" cy="266.7" r="1.5"/><circle cx="165.9" cy="266.4" r="1.5"/><circle cx="170.3" cy="265.4" r="1.4"/><circle cx="174.3" cy="266.0" r="1.2"/><circle cx="177.9" cy="265.4" r="1.3"/><circle cx="180.8" cy="265.7" r="1.3"/><circle cx="106.6" cy="269.5" r="1.5"/><circle cx="111.6" cy="270.1" r="1.3"/><circle cx="114.6" cy="269.4" r="1.4"/><circle cx="118.1" cy="270.1" r="1.2"/><circle cx="122.3" cy="269.4" r="1.3"/><circle cx="127.0" cy="270.5" r="1.4"/><circle cx="130.9" cy="268.9" r="1.3"/><circle cx="134.5" cy="270.5" r="1.2"/><circle cx="138.0" cy="269.8" r="1.2"/><circle cx="141.3" cy="269.9" r="1.5"/><circle cx="145.5" cy="269.6" r="1.3"/><circle cx="149.1" cy="268.9" r="1.4"/><circle cx="153.7" cy="269.2" r="1.2"/><circle cx="157.3" cy="270.4" r="1.5"/><circle cx="160.9" cy="269.4" r="1.4"/><circle cx="165.1" cy="269.6" r="1.3"/><circle cx="168.2" cy="269.1" r="1.5"/><circle cx="171.7" cy="268.9" r="1.2"/><circle cx="174.9" cy="270.0" r="1.4"/><circle cx="179.3" cy="270.0" r="1.3"/><circle cx="184.4" cy="269.1" r="1.4"/><circle cx="105.0" cy="272.4" r="1.4"/><circle cx="109.5" cy="273.8" r="1.3"/><circle cx="113.5" cy="272.8" r="1.2"/><circle cx="117.6" cy="274.1" r="1.4"/><circle cx="120.7" cy="273.8" r="1.2"/><circle cx="124.5" cy="273.4" r="1.5"/><circle cx="128.3" cy="274.2" r="1.2"/><circle cx="131.7" cy="273.8" r="1.4"/><circle cx="135.2" cy="273.0" r="1.3"/><circle cx="140.6" cy="273.4" r="1.2"/><circle cx="144.4" cy="272.5" r="1.3"/><circle cx="147.6" cy="272.7" r="1.2"/><circle cx="151.1" cy="273.1" r="1.5"/><circle cx="155.2" cy="274.2" r="1.2"/><circle cx="158.1" cy="273.1" r="1.3"/><circle cx="162.0" cy="274.3" r="1.2"/><circle cx="166.6" cy="272.5" r="1.2"/><circle cx="170.4" cy="273.9" r="1.4"/><circle cx="174.0" cy="274.3" r="1.3"/><circle cx="176.8" cy="273.2" r="1.5"/><circle cx="103.1" cy="276.7" r="1.2"/><circle cx="107.9" cy="276.0" r="1.4"/><circle cx="111.4" cy="277.5" r="1.5"/><circle cx="115.8" cy="275.9" r="1.3"/><circle cx="119.2" cy="276.9" r="1.4"/><circle cx="121.8" cy="277.4" r="1.4"/><circle cx="130.4" cy="276.8" r="1.5"/><circle cx="134.0" cy="277.5" r="1.3"/><circle cx="137.0" cy="277.8" r="1.4"/><circle cx="140.9" cy="276.7" r="1.3"/><circle cx="145.1" cy="276.6" r="1.4"/><circle cx="150.2" cy="277.6" r="1.2"/><circle cx="153.5" cy="276.0" r="1.5"/><circle cx="160.2" cy="277.8" r="1.3"/><circle cx="165.0" cy="275.9" r="1.3"/><circle cx="168.8" cy="276.1" r="1.4"/><circle cx="172.2" cy="276.9" r="1.5"/><circle cx="180.0" cy="276.7" r="1.4"/><circle cx="183.9" cy="277.9" r="1.4"/><circle cx="105.6" cy="280.6" r="1.5"/><circle cx="109.1" cy="280.9" r="1.4"/><circle cx="113.3" cy="280.0" r="1.2"/><circle cx="117.0" cy="281.0" r="1.3"/><circle cx="121.6" cy="281.3" r="1.2"/><circle cx="124.2" cy="279.6" r="1.5"/><circle cx="129.2" cy="280.4" r="1.2"/><circle cx="132.5" cy="280.0" r="1.4"/><circle cx="136.2" cy="279.5" r="1.4"/><circle cx="139.5" cy="281.4" r="1.2"/><circle cx="144.4" cy="281.1" r="1.4"/><circle cx="147.2" cy="280.8" r="1.5"/><circle cx="150.8" cy="280.5" r="1.2"/><circle cx="155.2" cy="281.5" r="1.5"/><circle cx="158.4" cy="281.5" r="1.5"/><circle cx="161.7" cy="279.8" r="1.4"/><circle cx="166.6" cy="279.8" r="1.4"/><circle cx="169.3" cy="279.8" r="1.2"/><circle cx="174.0" cy="281.4" r="1.2"/><circle cx="177.8" cy="279.9" r="1.2"/><circle cx="181.3" cy="280.8" r="1.4"/><circle cx="103.5" cy="283.3" r="1.2"/><circle cx="108.2" cy="285.0" r="1.4"/><circle cx="111.2" cy="284.1" r="1.3"/><circle cx="114.9" cy="284.9" r="1.3"/><circle cx="119.1" cy="284.5" r="1.3"/><circle cx="121.8" cy="284.4" r="1.2"/><circle cx="126.3" cy="284.5" r="1.3"/><circle cx="135.0" cy="283.2" r="1.4"/><circle cx="138.7" cy="284.3" r="1.4"/><circle cx="142.1" cy="283.7" r="1.3"/><circle cx="144.5" cy="283.7" r="1.2"/><circle cx="148.7" cy="283.2" r="1.4"/><circle cx="153.5" cy="285.0" r="1.4"/><circle cx="157.6" cy="285.0" r="1.3"/><circle cx="160.5" cy="284.0" r="1.3"/><circle cx="163.9" cy="283.7" r="1.3"/><circle cx="168.8" cy="283.1" r="1.2"/><circle cx="174.8" cy="283.5" r="1.3"/><circle cx="179.1" cy="283.8" r="1.5"/><circle cx="183.8" cy="283.5" r="1.4"/><circle cx="106.0" cy="288.5" r="1.2"/><circle cx="112.7" cy="287.7" r="1.2"/><circle cx="116.0" cy="287.4" r="1.3"/><circle cx="119.8" cy="287.1" r="1.2"/><circle cx="125.2" cy="287.6" r="1.2"/><circle cx="127.6" cy="287.1" r="1.2"/><circle cx="132.0" cy="287.9" r="1.4"/><circle cx="136.7" cy="288.3" r="1.4"/><circle cx="139.1" cy="288.4" r="1.4"/><circle cx="143.2" cy="288.6" r="1.3"/><circle cx="148.3" cy="287.6" r="1.4"/><circle cx="150.6" cy="287.3" r="1.5"/><circle cx="155.3" cy="287.9" r="1.2"/><circle cx="165.4" cy="288.2" r="1.2"/><circle cx="170.1" cy="287.7" r="1.3"/><circle cx="173.5" cy="286.7" r="1.4"/><circle cx="178.0" cy="287.6" r="1.5"/><circle cx="180.9" cy="287.4" r="1.2"/></g><g fill="#8a3cb0" opacity="0.6"><circle cx="109.7" cy="276.0" r="0.9"/><circle cx="139.8" cy="266.8" r="0.8"/><circle cx="117.2" cy="282.9" r="1.2"/><circle cx="175.5" cy="246.9" r="0.9"/><circle cx="118.3" cy="247.3" r="0.8"/><circle cx="125.1" cy="249.7" r="1.0"/><circle cx="156.7" cy="273.9" r="0.8"/><circle cx="173.8" cy="264.3" r="0.8"/><circle cx="167.6" cy="266.4" r="0.9"/><circle cx="108.9" cy="236.4" r="0.9"/><circle cx="121.3" cy="232.3" r="0.9"/><circle cx="123.1" cy="267.7" r="0.9"/><circle cx="161.4" cy="253.9" r="0.9"/><circle cx="145.8" cy="266.0" r="1.1"/><circle cx="156.7" cy="252.6" r="1.0"/><circle cx="131.3" cy="258.4" r="1.2"/><circle cx="148.6" cy="234.1" r="1.1"/><circle cx="139.0" cy="257.1" r="1.2"/><circle cx="162.8" cy="243.5" r="1.0"/><circle cx="178.5" cy="271.1" r="0.9"/><circle cx="151.8" cy="257.1" r="1.0"/><circle cx="116.1" cy="247.0" r="1.2"/><circle cx="127.1" cy="255.6" r="0.8"/><circle cx="108.4" cy="226.8" r="1.1"/><circle cx="181.5" cy="226.0" r="1.1"/><circle cx="126.3" cy="250.9" r="1.0"/><circle cx="180.7" cy="247.0" r="0.8"/><circle cx="125.4" cy="256.1" r="1.2"/><circle cx="152.3" cy="280.8" r="0.9"/><circle cx="157.1" cy="230.3" r="1.2"/><circle cx="174.0" cy="282.8" r="1.0"/><circle cx="110.8" cy="277.2" r="0.8"/><circle cx="174.9" cy="278.6" r="1.0"/><circle cx="176.3" cy="244.9" r="0.9"/><circle cx="152.9" cy="274.6" r="0.9"/><circle cx="168.4" cy="263.6" r="1.2"/><circle cx="172.5" cy="267.2" r="1.2"/><circle cx="132.9" cy="285.2" r="1.0"/><circle cx="135.1" cy="232.1" r="1.1"/><circle cx="174.8" cy="248.9" r="1.1"/><circle cx="165.4" cy="281.4" r="1.0"/><circle cx="164.4" cy="269.0" r="1.1"/><circle cx="128.3" cy="257.5" r="1.0"/><circle cx="133.8" cy="276.5" r="1.2"/><circle cx="127.4" cy="253.2" r="1.1"/><circle cx="163.9" cy="232.7" r="1.2"/><circle cx="164.9" cy="260.5" r="0.8"/><circle cx="156.2" cy="268.4" r="1.0"/><circle cx="121.9" cy="281.6" r="0.9"/><circle cx="151.7" cy="248.0" r="0.9"/><circle cx="111.0" cy="238.5" r="0.8"/><circle cx="105.4" cy="243.9" r="1.1"/><circle cx="113.4" cy="227.4" r="1.0"/><circle cx="106.8" cy="232.0" r="1.0"/><circle cx="119.8" cy="231.5" r="1.1"/><circle cx="127.0" cy="232.2" r="1.1"/><circle cx="115.1" cy="262.2" r="1.1"/><circle cx="132.3" cy="268.6" r="0.8"/><circle cx="120.9" cy="266.6" r="0.8"/><circle cx="124.9" cy="252.5" r="1.0"/></g></g>
</g>
<g clip-path="url(#mp1)"><rect x="19.7" y="302.7" width="78.3" height="64.0" fill="#9088c0"/>
<g filter="url(#hb)"><g fill="#aa6630" opacity="0.8"><circle cx="30.5" cy="318.4" r="2.5"/><circle cx="78.2" cy="337.6" r="2.2"/><circle cx="78.9" cy="327.2" r="1.7"/><circle cx="20.1" cy="311.3" r="1.9"/><circle cx="60.1" cy="325.3" r="2.2"/><circle cx="52.7" cy="350.1" r="2.7"/><circle cx="82.3" cy="352.9" r="2.3"/><circle cx="38.9" cy="334.8" r="2.1"/><circle cx="40.7" cy="360.7" r="1.5"/><circle cx="37.9" cy="327.4" r="2.2"/><circle cx="30.0" cy="322.7" r="2.6"/><circle cx="66.8" cy="337.8" r="2.6"/><circle cx="77.7" cy="329.1" r="1.7"/><circle cx="89.0" cy="334.7" r="1.4"/><circle cx="38.3" cy="307.3" r="1.6"/><circle cx="46.0" cy="352.8" r="2.7"/><circle cx="37.2" cy="322.9" r="2.3"/><circle cx="44.2" cy="337.4" r="2.7"/><circle cx="71.2" cy="320.0" r="2.3"/><circle cx="40.1" cy="331.9" r="1.7"/><circle cx="69.8" cy="336.0" r="2.1"/><circle cx="75.4" cy="313.4" r="2.3"/><circle cx="67.8" cy="358.4" r="2.1"/><circle cx="80.0" cy="343.7" r="2.7"/><circle cx="74.9" cy="321.2" r="1.7"/><circle cx="23.2" cy="326.4" r="1.9"/><circle cx="86.9" cy="365.9" r="2.6"/><circle cx="52.4" cy="324.9" r="1.8"/><circle cx="26.7" cy="328.6" r="1.9"/><circle cx="76.0" cy="341.4" r="2.4"/><circle cx="41.5" cy="314.5" r="1.7"/><circle cx="72.5" cy="365.7" r="2.4"/><circle cx="55.2" cy="337.3" r="2.2"/><circle cx="40.3" cy="326.6" r="2.6"/><circle cx="42.3" cy="324.0" r="2.3"/><circle cx="67.0" cy="357.1" r="1.7"/><circle cx="40.2" cy="313.9" r="2.7"/><circle cx="35.2" cy="348.1" r="2.1"/><circle cx="55.2" cy="310.8" r="1.3"/><circle cx="83.5" cy="348.6" r="1.8"/><circle cx="72.5" cy="311.0" r="2.6"/><circle cx="53.2" cy="314.0" r="1.5"/><circle cx="40.1" cy="337.5" r="1.4"/><circle cx="64.2" cy="323.8" r="2.1"/><circle cx="35.2" cy="307.5" r="2.3"/><circle cx="23.7" cy="331.7" r="2.3"/><circle cx="74.5" cy="356.6" r="1.5"/><circle cx="63.5" cy="327.8" r="2.4"/><circle cx="20.8" cy="361.3" r="2.7"/><circle cx="53.2" cy="326.2" r="1.8"/><circle cx="39.3" cy="314.2" r="2.7"/><circle cx="83.5" cy="364.7" r="1.6"/><circle cx="38.8" cy="323.3" r="1.8"/><circle cx="88.1" cy="354.1" r="1.9"/><circle cx="69.1" cy="350.6" r="2.5"/><circle cx="47.5" cy="337.9" r="2.2"/><circle cx="76.3" cy="317.1" r="1.6"/><circle cx="89.0" cy="353.6" r="2.6"/><circle cx="82.1" cy="356.5" r="1.3"/><circle cx="28.4" cy="360.5" r="2.6"/><circle cx="23.5" cy="325.5" r="2.1"/><circle cx="43.4" cy="314.7" r="2.4"/><circle cx="93.2" cy="354.5" r="2.1"/><circle cx="64.3" cy="315.1" r="2.7"/><circle cx="20.9" cy="303.7" r="2.8"/><circle cx="56.2" cy="365.8" r="1.5"/><circle cx="67.4" cy="332.8" r="2.5"/><circle cx="22.0" cy="322.6" r="2.2"/><circle cx="26.4" cy="363.7" r="1.4"/><circle cx="82.9" cy="309.8" r="1.8"/><circle cx="24.4" cy="309.5" r="1.5"/><circle cx="54.8" cy="313.4" r="1.5"/><circle cx="51.0" cy="324.9" r="1.6"/><circle cx="73.8" cy="326.5" r="1.4"/><circle cx="28.7" cy="317.0" r="1.7"/><circle cx="46.8" cy="325.4" r="1.9"/><circle cx="30.9" cy="306.6" r="2.0"/><circle cx="30.8" cy="315.3" r="2.3"/><circle cx="31.1" cy="312.0" r="2.1"/><circle cx="50.4" cy="334.7" r="2.7"/><circle cx="28.4" cy="355.2" r="1.4"/><circle cx="67.0" cy="333.2" r="2.0"/><circle cx="46.3" cy="361.3" r="2.8"/><circle cx="36.9" cy="336.4" r="1.7"/><circle cx="55.2" cy="341.6" r="1.4"/><circle cx="21.4" cy="303.2" r="2.1"/><circle cx="61.9" cy="349.8" r="2.2"/><circle cx="25.2" cy="302.9" r="2.1"/><circle cx="40.5" cy="314.4" r="1.6"/><circle cx="38.8" cy="316.3" r="2.6"/><circle cx="42.9" cy="314.1" r="2.3"/><circle cx="94.4" cy="359.8" r="2.2"/><circle cx="77.9" cy="322.3" r="1.5"/><circle cx="63.5" cy="357.6" r="2.5"/><circle cx="62.8" cy="322.2" r="2.4"/><circle cx="48.7" cy="325.9" r="2.6"/><circle cx="72.5" cy="330.3" r="1.8"/><circle cx="35.5" cy="356.7" r="1.5"/><circle cx="40.5" cy="306.5" r="2.5"/><circle cx="28.6" cy="303.9" r="2.3"/><circle cx="44.2" cy="338.3" r="1.6"/><circle cx="59.7" cy="357.9" r="2.3"/><circle cx="37.5" cy="326.8" r="1.8"/><circle cx="96.7" cy="350.9" r="1.6"/><circle cx="41.9" cy="349.6" r="2.6"/><circle cx="95.7" cy="361.7" r="2.2"/><circle cx="43.6" cy="317.7" r="2.3"/><circle cx="36.3" cy="333.3" r="1.6"/><circle cx="60.9" cy="365.5" r="1.3"/><circle cx="27.7" cy="312.9" r="2.5"/><circle cx="95.0" cy="354.9" r="2.2"/><circle cx="97.9" cy="305.6" r="2.7"/><circle cx="46.3" cy="360.0" r="1.8"/><circle cx="63.8" cy="324.2" r="2.7"/><circle cx="88.4" cy="349.1" r="1.6"/><circle cx="70.3" cy="341.6" r="1.9"/><circle cx="70.9" cy="334.3" r="2.4"/><circle cx="94.3" cy="321.5" r="2.3"/><circle cx="20.6" cy="309.7" r="1.6"/><circle cx="43.0" cy="329.6" r="2.1"/><circle cx="90.6" cy="353.4" r="2.3"/><circle cx="90.1" cy="304.0" r="1.5"/><circle cx="62.4" cy="305.5" r="2.4"/><circle cx="96.2" cy="325.0" r="2.6"/><circle cx="37.9" cy="364.3" r="1.8"/><circle cx="40.6" cy="318.1" r="1.5"/><circle cx="85.7" cy="356.9" r="1.3"/><circle cx="93.2" cy="337.0" r="2.2"/><circle cx="66.4" cy="339.8" r="1.6"/><circle cx="42.5" cy="365.5" r="2.5"/><circle cx="45.1" cy="330.8" r="1.9"/><circle cx="57.9" cy="330.7" r="2.4"/><circle cx="82.0" cy="341.3" r="2.0"/><circle cx="55.1" cy="322.5" r="2.2"/><circle cx="50.5" cy="348.6" r="1.7"/><circle cx="80.0" cy="350.9" r="1.5"/><circle cx="29.4" cy="308.3" r="1.6"/><circle cx="22.2" cy="309.6" r="2.0"/><circle cx="66.7" cy="331.5" r="1.7"/><circle cx="42.0" cy="337.6" r="2.6"/><circle cx="87.5" cy="332.5" r="2.8"/><circle cx="46.9" cy="321.5" r="2.4"/><circle cx="86.8" cy="358.4" r="2.3"/><circle cx="81.2" cy="353.7" r="1.4"/><circle cx="86.4" cy="323.0" r="2.2"/><circle cx="84.8" cy="360.1" r="1.4"/><circle cx="35.1" cy="341.4" r="1.5"/><circle cx="56.8" cy="311.5" r="1.9"/><circle cx="22.5" cy="363.9" r="2.6"/><circle cx="92.3" cy="365.3" r="2.2"/><circle cx="51.3" cy="351.6" r="1.4"/><circle cx="70.6" cy="355.8" r="2.0"/><circle cx="43.9" cy="306.9" r="2.3"/><circle cx="77.5" cy="304.7" r="2.2"/><circle cx="75.6" cy="315.4" r="2.7"/><circle cx="82.6" cy="347.5" r="2.8"/><circle cx="59.8" cy="347.4" r="2.7"/><circle cx="65.9" cy="335.9" r="1.4"/><circle cx="49.9" cy="313.2" r="2.8"/><circle cx="50.2" cy="333.2" r="2.6"/><circle cx="30.6" cy="316.6" r="2.7"/><circle cx="90.3" cy="343.0" r="1.3"/><circle cx="33.5" cy="306.5" r="2.4"/><circle cx="19.7" cy="319.0" r="1.7"/><circle cx="56.6" cy="333.0" r="2.7"/><circle cx="74.2" cy="356.3" r="1.5"/><circle cx="50.1" cy="317.7" r="2.1"/><circle cx="48.7" cy="348.6" r="2.1"/><circle cx="32.3" cy="351.9" r="2.0"/><circle cx="50.8" cy="352.6" r="2.8"/><circle cx="31.0" cy="329.5" r="1.6"/><circle cx="62.6" cy="303.6" r="2.0"/><circle cx="40.5" cy="350.9" r="2.6"/><circle cx="22.3" cy="323.7" r="2.4"/><circle cx="46.1" cy="340.9" r="1.4"/><circle cx="58.7" cy="355.8" r="2.6"/><circle cx="30.6" cy="317.1" r="1.6"/><circle cx="42.1" cy="317.0" r="2.6"/><circle cx="66.9" cy="325.8" r="2.7"/><circle cx="33.8" cy="324.5" r="1.9"/><circle cx="84.5" cy="320.1" r="1.8"/><circle cx="29.6" cy="338.8" r="1.5"/><circle cx="73.0" cy="327.9" r="2.5"/><circle cx="60.9" cy="361.9" r="2.6"/><circle cx="73.2" cy="304.0" r="2.4"/><circle cx="28.5" cy="329.7" r="2.7"/><circle cx="52.3" cy="363.3" r="1.8"/><circle cx="52.1" cy="359.3" r="1.4"/><circle cx="54.5" cy="348.8" r="2.4"/><circle cx="54.0" cy="323.7" r="2.1"/><circle cx="41.9" cy="333.6" r="1.8"/><circle cx="82.4" cy="351.9" r="2.5"/><circle cx="42.1" cy="328.5" r="2.1"/><circle cx="85.5" cy="351.5" r="2.1"/><circle cx="78.4" cy="354.1" r="2.4"/><circle cx="34.7" cy="335.8" r="1.6"/><circle cx="76.6" cy="324.8" r="2.4"/><circle cx="89.0" cy="317.4" r="1.4"/><circle cx="40.6" cy="325.3" r="1.5"/><circle cx="57.6" cy="339.6" r="1.7"/><circle cx="28.4" cy="312.0" r="2.3"/><circle cx="68.4" cy="339.4" r="2.0"/><circle cx="53.4" cy="312.4" r="2.3"/><circle cx="26.3" cy="322.4" r="1.5"/><circle cx="44.4" cy="365.8" r="2.5"/><circle cx="42.5" cy="343.0" r="2.3"/><circle cx="21.2" cy="315.5" r="2.1"/><circle cx="34.0" cy="335.9" r="1.8"/><circle cx="28.8" cy="345.8" r="1.8"/><circle cx="40.8" cy="303.2" r="2.8"/><circle cx="75.4" cy="328.2" r="1.4"/><circle cx="51.4" cy="346.1" r="2.8"/><circle cx="33.3" cy="325.4" r="1.8"/><circle cx="85.7" cy="320.9" r="1.7"/><circle cx="30.9" cy="324.1" r="2.5"/><circle cx="58.1" cy="324.8" r="1.9"/><circle cx="50.3" cy="337.5" r="1.5"/><circle cx="35.8" cy="353.9" r="1.9"/><circle cx="36.1" cy="331.7" r="1.8"/><circle cx="27.5" cy="304.4" r="1.8"/><circle cx="27.7" cy="310.5" r="1.8"/><circle cx="97.7" cy="365.5" r="2.1"/><circle cx="38.6" cy="327.9" r="1.3"/><circle cx="78.0" cy="333.3" r="1.4"/><circle cx="53.5" cy="316.5" r="2.7"/><circle cx="32.3" cy="327.6" r="2.7"/><circle cx="22.3" cy="329.6" r="1.9"/><circle cx="73.6" cy="362.7" r="1.8"/><circle cx="52.2" cy="338.8" r="1.8"/><circle cx="38.3" cy="325.9" r="1.4"/><circle cx="24.9" cy="346.7" r="1.8"/><circle cx="52.2" cy="350.1" r="2.5"/><circle cx="87.1" cy="336.1" r="2.7"/><circle cx="33.4" cy="363.5" r="1.7"/><circle cx="41.1" cy="338.8" r="2.0"/><circle cx="55.1" cy="345.4" r="1.6"/><circle cx="84.4" cy="357.5" r="2.2"/><circle cx="71.3" cy="316.7" r="1.9"/><circle cx="30.7" cy="353.2" r="2.0"/><circle cx="22.4" cy="328.7" r="2.3"/><circle cx="90.0" cy="315.0" r="2.5"/><circle cx="32.1" cy="319.4" r="1.4"/><circle cx="52.5" cy="330.4" r="2.5"/><circle cx="58.8" cy="319.0" r="2.7"/><circle cx="45.2" cy="340.2" r="2.4"/><circle cx="54.4" cy="325.2" r="2.4"/><circle cx="30.6" cy="318.5" r="1.6"/><circle cx="69.5" cy="327.5" r="2.7"/><circle cx="60.2" cy="317.6" r="2.2"/><circle cx="57.8" cy="346.0" r="2.2"/><circle cx="71.7" cy="348.7" r="1.6"/><circle cx="48.7" cy="343.6" r="2.3"/><circle cx="29.7" cy="344.5" r="1.7"/><circle cx="82.2" cy="336.9" r="2.7"/><circle cx="40.5" cy="319.7" r="2.6"/><circle cx="53.6" cy="345.3" r="2.3"/><circle cx="87.8" cy="360.8" r="2.4"/><circle cx="55.0" cy="336.0" r="2.6"/><circle cx="82.6" cy="352.2" r="2.3"/><circle cx="36.5" cy="362.6" r="1.6"/><circle cx="78.6" cy="336.6" r="2.4"/><circle cx="39.2" cy="311.8" r="1.6"/><circle cx="38.3" cy="344.5" r="2.5"/><circle cx="80.5" cy="310.4" r="1.7"/><circle cx="60.4" cy="340.4" r="2.7"/><circle cx="81.9" cy="352.5" r="2.6"/><circle cx="36.6" cy="326.2" r="2.4"/><circle cx="44.0" cy="329.4" r="2.7"/><circle cx="41.5" cy="327.2" r="1.6"/><circle cx="46.7" cy="358.0" r="2.6"/><circle cx="46.2" cy="338.4" r="2.6"/><circle cx="71.1" cy="350.4" r="2.6"/><circle cx="74.1" cy="321.9" r="2.5"/><circle cx="58.8" cy="351.5" r="2.5"/><circle cx="88.4" cy="354.8" r="2.5"/><circle cx="41.7" cy="355.3" r="2.0"/><circle cx="44.5" cy="324.3" r="2.7"/><circle cx="42.6" cy="361.1" r="1.9"/><circle cx="77.5" cy="322.7" r="2.4"/><circle cx="50.1" cy="361.8" r="2.5"/><circle cx="86.2" cy="339.3" r="1.6"/><circle cx="92.6" cy="315.7" r="1.6"/><circle cx="64.0" cy="336.6" r="2.7"/><circle cx="20.9" cy="339.5" r="2.3"/><circle cx="51.2" cy="345.2" r="1.7"/><circle cx="55.3" cy="336.1" r="2.4"/><circle cx="35.2" cy="309.3" r="2.0"/><circle cx="19.8" cy="320.3" r="2.3"/><circle cx="44.5" cy="342.9" r="2.0"/><circle cx="66.4" cy="344.5" r="2.6"/><circle cx="31.1" cy="334.9" r="2.6"/><circle cx="61.4" cy="363.5" r="1.5"/><circle cx="59.9" cy="330.5" r="2.5"/><circle cx="29.0" cy="343.0" r="2.1"/><circle cx="65.9" cy="319.1" r="1.4"/><circle cx="90.7" cy="322.3" r="1.8"/><circle cx="95.8" cy="364.5" r="2.5"/><circle cx="47.2" cy="337.2" r="2.0"/><circle cx="78.2" cy="319.8" r="1.6"/><circle cx="48.4" cy="343.5" r="2.0"/><circle cx="52.4" cy="343.5" r="1.5"/><circle cx="22.4" cy="320.4" r="1.5"/><circle cx="35.4" cy="332.5" r="1.7"/><circle cx="67.1" cy="309.0" r="1.3"/><circle cx="44.8" cy="333.0" r="2.0"/><circle cx="73.1" cy="356.0" r="2.5"/><circle cx="55.3" cy="336.8" r="2.4"/><circle cx="54.7" cy="355.2" r="2.4"/><circle cx="62.5" cy="347.0" r="2.6"/><circle cx="97.7" cy="354.9" r="2.8"/><circle cx="72.1" cy="317.3" r="1.8"/><circle cx="92.3" cy="357.4" r="2.2"/><circle cx="55.8" cy="341.8" r="2.3"/><circle cx="64.0" cy="364.4" r="1.6"/><circle cx="42.5" cy="343.1" r="2.3"/><circle cx="75.2" cy="341.9" r="1.9"/><circle cx="86.2" cy="357.3" r="1.6"/><circle cx="30.9" cy="315.1" r="1.8"/><circle cx="41.5" cy="358.1" r="2.8"/><circle cx="36.8" cy="322.7" r="1.9"/></g><g fill="#cdc6e6" opacity="0.75"><circle cx="70.1" cy="348.9" r="2.1"/><circle cx="32.4" cy="362.6" r="2.3"/><circle cx="49.8" cy="361.2" r="2.6"/><circle cx="30.6" cy="353.0" r="3.0"/><circle cx="75.9" cy="365.0" r="1.9"/><circle cx="82.3" cy="305.8" r="2.5"/><circle cx="35.0" cy="356.4" r="1.6"/><circle cx="55.3" cy="364.0" r="2.1"/><circle cx="89.5" cy="322.3" r="2.1"/><circle cx="22.2" cy="350.9" r="2.0"/><circle cx="89.7" cy="366.5" r="2.2"/><circle cx="38.9" cy="302.9" r="1.9"/><circle cx="91.8" cy="313.5" r="1.7"/><circle cx="23.2" cy="348.7" r="2.4"/><circle cx="92.9" cy="332.1" r="2.1"/><circle cx="88.0" cy="329.5" r="2.8"/><circle cx="74.0" cy="364.9" r="2.9"/><circle cx="26.6" cy="347.2" r="2.8"/><circle cx="69.5" cy="349.9" r="1.8"/><circle cx="21.3" cy="347.6" r="2.0"/><circle cx="84.6" cy="356.6" r="1.8"/><circle cx="54.0" cy="338.5" r="1.9"/><circle cx="85.1" cy="332.8" r="1.8"/><circle cx="94.3" cy="356.8" r="1.8"/><circle cx="86.3" cy="309.2" r="1.5"/><circle cx="79.2" cy="344.2" r="3.0"/><circle cx="62.2" cy="323.2" r="2.5"/><circle cx="81.4" cy="303.4" r="1.8"/><circle cx="51.5" cy="358.3" r="2.7"/><circle cx="52.0" cy="304.8" r="2.1"/><circle cx="26.0" cy="340.8" r="2.3"/><circle cx="19.8" cy="366.5" r="2.5"/><circle cx="28.0" cy="333.8" r="2.7"/><circle cx="30.1" cy="305.6" r="1.6"/><circle cx="37.3" cy="330.5" r="2.6"/><circle cx="39.6" cy="342.6" r="2.0"/><circle cx="21.3" cy="332.8" r="1.5"/><circle cx="95.6" cy="355.4" r="2.1"/><circle cx="29.9" cy="347.5" r="2.6"/><circle cx="89.5" cy="348.3" r="2.0"/><circle cx="24.2" cy="321.8" r="2.5"/><circle cx="22.8" cy="329.1" r="1.5"/><circle cx="80.1" cy="350.5" r="2.6"/><circle cx="30.6" cy="358.3" r="2.4"/><circle cx="46.8" cy="347.5" r="1.4"/><circle cx="76.1" cy="321.3" r="1.7"/><circle cx="50.0" cy="365.8" r="1.5"/><circle cx="94.5" cy="364.9" r="2.8"/><circle cx="94.4" cy="352.1" r="2.3"/><circle cx="24.7" cy="360.2" r="2.5"/><circle cx="95.1" cy="311.7" r="1.6"/><circle cx="81.8" cy="331.2" r="1.6"/><circle cx="39.4" cy="364.6" r="2.8"/><circle cx="83.7" cy="305.9" r="1.4"/><circle cx="38.8" cy="364.2" r="1.7"/><circle cx="60.0" cy="365.4" r="2.4"/><circle cx="79.0" cy="339.4" r="2.2"/><circle cx="78.6" cy="316.4" r="2.3"/><circle cx="54.0" cy="365.0" r="2.4"/><circle cx="84.5" cy="352.7" r="2.7"/><circle cx="67.0" cy="328.3" r="2.0"/><circle cx="47.1" cy="308.2" r="2.3"/><circle cx="81.7" cy="307.6" r="1.6"/><circle cx="35.7" cy="351.8" r="2.8"/><circle cx="80.4" cy="329.4" r="2.8"/><circle cx="54.8" cy="313.7" r="1.5"/><circle cx="56.3" cy="315.0" r="1.8"/><circle cx="21.9" cy="307.9" r="1.6"/><circle cx="44.2" cy="321.3" r="2.2"/><circle cx="91.6" cy="352.0" r="1.6"/><circle cx="57.9" cy="312.2" r="2.3"/><circle cx="69.3" cy="306.0" r="2.0"/><circle cx="20.9" cy="318.7" r="1.6"/><circle cx="77.9" cy="315.9" r="1.4"/><circle cx="90.9" cy="351.0" r="1.7"/><circle cx="88.1" cy="313.9" r="2.3"/><circle cx="73.0" cy="344.5" r="1.6"/><circle cx="95.6" cy="314.3" r="2.0"/><circle cx="20.2" cy="350.5" r="2.0"/><circle cx="56.4" cy="308.1" r="2.2"/><circle cx="30.2" cy="346.0" r="3.0"/><circle cx="84.8" cy="306.8" r="2.8"/><circle cx="23.3" cy="343.1" r="2.4"/><circle cx="83.6" cy="314.3" r="3.0"/><circle cx="66.4" cy="359.3" r="1.6"/><circle cx="43.5" cy="361.5" r="2.4"/><circle cx="69.6" cy="318.7" r="2.7"/><circle cx="89.7" cy="329.7" r="1.4"/><circle cx="29.3" cy="337.0" r="2.9"/><circle cx="96.3" cy="318.9" r="2.5"/><circle cx="39.4" cy="329.1" r="2.9"/><circle cx="23.2" cy="339.4" r="1.8"/><circle cx="30.4" cy="328.9" r="1.7"/><circle cx="80.6" cy="305.3" r="2.5"/><circle cx="22.2" cy="306.6" r="1.7"/><circle cx="59.1" cy="359.8" r="2.3"/><circle cx="86.0" cy="326.4" r="1.9"/><circle cx="95.0" cy="353.5" r="1.6"/><circle cx="74.9" cy="312.8" r="1.7"/><circle cx="72.4" cy="342.1" r="2.8"/><circle cx="41.6" cy="353.7" r="1.6"/><circle cx="48.3" cy="305.3" r="1.6"/><circle cx="97.2" cy="358.6" r="2.0"/><circle cx="90.6" cy="351.5" r="1.8"/><circle cx="93.9" cy="325.8" r="2.2"/><circle cx="73.7" cy="326.5" r="2.6"/><circle cx="97.2" cy="339.2" r="2.9"/><circle cx="47.5" cy="302.8" r="2.5"/><circle cx="24.3" cy="353.1" r="1.9"/><circle cx="57.1" cy="345.3" r="1.8"/></g></g>
<g filter="url(#hb2)"><g fill="#4e4290" opacity="0.55"><circle cx="53.8" cy="321.3" r="0.8"/><circle cx="63.2" cy="331.0" r="0.8"/><circle cx="87.9" cy="352.5" r="0.6"/><circle cx="67.7" cy="363.8" r="0.7"/><circle cx="89.8" cy="320.3" r="0.8"/><circle cx="87.2" cy="360.6" r="0.7"/><circle cx="80.2" cy="361.1" r="0.6"/><circle cx="23.6" cy="362.7" r="0.8"/><circle cx="71.1" cy="314.7" r="0.8"/><circle cx="78.2" cy="359.6" r="0.7"/><circle cx="65.8" cy="363.4" r="0.9"/><circle cx="73.0" cy="340.2" r="0.7"/><circle cx="85.3" cy="364.7" r="0.7"/><circle cx="84.4" cy="337.8" r="0.8"/><circle cx="73.7" cy="318.5" r="0.8"/><circle cx="34.5" cy="309.8" r="0.8"/><circle cx="48.9" cy="352.6" r="0.6"/><circle cx="71.6" cy="354.1" r="0.8"/><circle cx="42.1" cy="322.9" r="0.8"/><circle cx="88.4" cy="310.4" r="0.8"/><circle cx="89.9" cy="355.3" r="0.6"/><circle cx="45.1" cy="355.3" r="0.7"/><circle cx="93.5" cy="339.8" r="0.7"/><circle cx="80.3" cy="311.5" r="0.9"/><circle cx="94.1" cy="305.3" r="0.6"/><circle cx="69.7" cy="351.0" r="0.5"/><circle cx="76.6" cy="318.3" r="0.9"/><circle cx="67.3" cy="315.8" r="0.6"/><circle cx="40.4" cy="350.9" r="0.7"/><circle cx="84.1" cy="316.4" r="0.8"/><circle cx="82.4" cy="339.6" r="0.6"/><circle cx="56.4" cy="326.7" r="0.9"/><circle cx="69.2" cy="340.4" r="0.8"/><circle cx="30.1" cy="362.0" r="0.7"/><circle cx="87.1" cy="344.2" r="0.8"/><circle cx="64.7" cy="357.0" r="0.8"/><circle cx="66.1" cy="347.0" r="0.8"/><circle cx="51.0" cy="312.2" r="0.6"/><circle cx="92.8" cy="363.1" r="0.7"/><circle cx="76.2" cy="349.3" r="0.6"/><circle cx="26.7" cy="352.1" r="0.8"/><circle cx="83.2" cy="323.3" r="0.8"/><circle cx="45.9" cy="306.0" r="0.7"/><circle cx="58.8" cy="361.9" r="0.7"/><circle cx="84.3" cy="333.5" r="0.8"/><circle cx="92.6" cy="340.3" r="0.7"/><circle cx="32.4" cy="328.0" r="0.6"/><circle cx="84.4" cy="342.0" r="0.7"/><circle cx="33.3" cy="316.0" r="0.8"/><circle cx="72.9" cy="336.5" r="0.9"/><circle cx="37.8" cy="316.3" r="0.5"/><circle cx="29.5" cy="358.1" r="0.7"/><circle cx="81.4" cy="354.5" r="0.6"/><circle cx="76.3" cy="307.1" r="0.6"/><circle cx="25.7" cy="348.2" r="0.6"/><circle cx="69.2" cy="355.7" r="0.9"/><circle cx="80.1" cy="330.0" r="0.8"/><circle cx="68.4" cy="363.6" r="0.9"/><circle cx="23.2" cy="342.4" r="0.5"/><circle cx="61.1" cy="334.6" r="0.5"/><circle cx="71.1" cy="328.7" r="0.7"/><circle cx="30.7" cy="349.9" r="0.9"/><circle cx="93.5" cy="333.5" r="0.5"/><circle cx="87.3" cy="356.6" r="0.6"/><circle cx="63.4" cy="358.3" r="0.8"/><circle cx="46.5" cy="326.5" r="0.6"/><circle cx="58.1" cy="332.2" r="0.6"/><circle cx="31.0" cy="309.1" r="0.6"/><circle cx="67.2" cy="316.2" r="0.5"/><circle cx="60.7" cy="324.6" r="0.7"/><circle cx="52.0" cy="325.6" r="0.7"/><circle cx="91.7" cy="305.1" r="0.6"/><circle cx="29.1" cy="303.5" r="0.7"/><circle cx="31.4" cy="341.8" r="0.7"/><circle cx="51.6" cy="361.9" r="0.9"/><circle cx="34.4" cy="325.6" r="0.7"/><circle cx="93.3" cy="334.3" r="0.8"/><circle cx="48.5" cy="339.3" r="0.8"/><circle cx="94.4" cy="355.7" r="0.5"/><circle cx="52.7" cy="356.2" r="0.9"/><circle cx="96.0" cy="324.6" r="0.7"/><circle cx="46.3" cy="360.3" r="0.6"/><circle cx="51.6" cy="307.5" r="0.7"/><circle cx="44.3" cy="348.8" r="0.7"/><circle cx="36.1" cy="338.8" r="0.6"/><circle cx="27.8" cy="330.7" r="0.8"/><circle cx="71.5" cy="307.5" r="0.5"/><circle cx="64.9" cy="317.7" r="0.6"/><circle cx="54.0" cy="346.3" r="0.8"/><circle cx="20.7" cy="331.2" r="0.7"/><circle cx="62.5" cy="365.6" r="0.6"/><circle cx="61.0" cy="359.1" r="0.8"/><circle cx="88.8" cy="358.4" r="0.7"/><circle cx="60.3" cy="312.1" r="0.7"/><circle cx="41.6" cy="308.5" r="0.7"/><circle cx="25.2" cy="330.8" r="0.5"/><circle cx="75.6" cy="347.9" r="0.6"/><circle cx="80.1" cy="315.5" r="0.7"/><circle cx="30.4" cy="304.7" r="0.5"/><circle cx="59.0" cy="321.5" r="0.6"/><circle cx="78.0" cy="351.1" r="0.8"/><circle cx="45.3" cy="319.4" r="0.7"/><circle cx="59.1" cy="357.8" r="0.7"/><circle cx="89.3" cy="349.8" r="0.6"/><circle cx="75.4" cy="345.4" r="0.5"/><circle cx="21.8" cy="347.5" r="0.6"/><circle cx="20.7" cy="303.9" r="0.5"/><circle cx="38.0" cy="321.8" r="0.6"/><circle cx="79.7" cy="347.5" r="0.7"/><circle cx="36.9" cy="365.1" r="0.7"/><circle cx="21.4" cy="336.4" r="0.5"/><circle cx="84.3" cy="309.9" r="0.8"/><circle cx="69.7" cy="320.3" r="0.8"/><circle cx="62.8" cy="304.3" r="0.5"/><circle cx="77.8" cy="340.1" r="0.5"/><circle cx="53.5" cy="312.9" r="0.6"/><circle cx="29.7" cy="327.0" r="0.7"/><circle cx="49.4" cy="325.0" r="0.6"/><circle cx="38.9" cy="332.2" r="0.8"/><circle cx="43.9" cy="345.8" r="0.6"/><circle cx="49.8" cy="304.1" r="0.8"/><circle cx="31.1" cy="303.2" r="0.7"/><circle cx="51.4" cy="332.5" r="0.9"/><circle cx="43.6" cy="338.5" r="0.6"/><circle cx="77.0" cy="332.2" r="0.8"/><circle cx="65.5" cy="361.1" r="0.7"/><circle cx="19.9" cy="319.3" r="0.6"/><circle cx="27.8" cy="338.1" r="0.9"/><circle cx="84.2" cy="341.2" r="0.5"/><circle cx="79.9" cy="328.4" r="0.8"/><circle cx="93.3" cy="346.6" r="0.5"/><circle cx="86.0" cy="312.0" r="0.8"/><circle cx="36.3" cy="347.9" r="0.5"/><circle cx="36.8" cy="348.6" r="0.6"/><circle cx="62.8" cy="365.1" r="0.5"/><circle cx="56.7" cy="336.3" r="0.8"/><circle cx="46.5" cy="359.4" r="0.7"/><circle cx="34.8" cy="309.1" r="0.7"/><circle cx="94.1" cy="364.3" r="0.7"/><circle cx="45.0" cy="313.3" r="0.8"/><circle cx="50.8" cy="317.5" r="0.6"/><circle cx="55.5" cy="344.0" r="0.6"/><circle cx="54.2" cy="338.8" r="0.9"/><circle cx="48.6" cy="347.5" r="0.6"/><circle cx="51.3" cy="320.5" r="0.6"/><circle cx="53.0" cy="335.2" r="0.7"/><circle cx="71.3" cy="366.7" r="0.8"/><circle cx="47.9" cy="338.1" r="0.6"/><circle cx="33.3" cy="352.3" r="0.6"/><circle cx="80.5" cy="334.1" r="0.8"/><circle cx="38.5" cy="310.8" r="0.6"/><circle cx="51.5" cy="318.0" r="0.5"/><circle cx="87.1" cy="330.1" r="0.6"/><circle cx="91.8" cy="356.3" r="0.5"/><circle cx="61.8" cy="308.7" r="0.6"/><circle cx="76.6" cy="325.6" r="0.7"/><circle cx="98.0" cy="343.4" r="0.5"/><circle cx="72.4" cy="331.5" r="0.8"/><circle cx="24.8" cy="310.4" r="0.7"/><circle cx="53.2" cy="316.1" r="0.8"/><circle cx="19.8" cy="356.5" r="0.5"/><circle cx="54.2" cy="346.7" r="0.5"/><circle cx="96.9" cy="348.8" r="0.7"/><circle cx="50.5" cy="324.2" r="0.9"/><circle cx="43.0" cy="326.6" r="0.8"/><circle cx="26.4" cy="308.8" r="0.9"/><circle cx="45.0" cy="324.5" r="0.6"/><circle cx="82.7" cy="312.7" r="0.9"/><circle cx="86.4" cy="316.7" r="0.5"/><circle cx="20.9" cy="339.5" r="0.8"/><circle cx="40.9" cy="316.9" r="0.8"/><circle cx="66.1" cy="317.4" r="0.6"/><circle cx="33.3" cy="352.3" r="0.5"/><circle cx="82.5" cy="358.5" r="0.8"/><circle cx="40.2" cy="327.6" r="0.8"/><circle cx="55.7" cy="320.8" r="0.8"/><circle cx="42.0" cy="334.7" r="0.9"/><circle cx="28.9" cy="335.7" r="0.6"/><circle cx="50.5" cy="365.8" r="0.5"/><circle cx="49.0" cy="304.0" r="0.9"/><circle cx="64.8" cy="342.6" r="0.6"/><circle cx="89.3" cy="343.8" r="0.6"/><circle cx="36.5" cy="323.0" r="0.8"/><circle cx="41.4" cy="348.8" r="0.7"/><circle cx="62.8" cy="329.7" r="0.6"/><circle cx="82.4" cy="350.9" r="0.7"/><circle cx="51.3" cy="313.3" r="0.7"/><circle cx="34.3" cy="326.6" r="0.6"/><circle cx="45.6" cy="316.4" r="0.9"/><circle cx="22.8" cy="339.1" r="0.5"/><circle cx="55.3" cy="338.0" r="0.5"/><circle cx="94.7" cy="363.0" r="0.8"/><circle cx="49.8" cy="324.9" r="0.5"/><circle cx="75.6" cy="322.2" r="0.7"/><circle cx="37.5" cy="341.2" r="0.6"/><circle cx="36.3" cy="335.8" r="0.7"/><circle cx="78.2" cy="320.1" r="0.5"/><circle cx="19.9" cy="329.3" r="0.6"/><circle cx="28.0" cy="346.1" r="0.9"/><circle cx="24.7" cy="308.6" r="0.8"/><circle cx="76.9" cy="363.5" r="0.7"/><circle cx="70.7" cy="307.0" r="0.8"/><circle cx="44.2" cy="322.3" r="0.6"/><circle cx="73.6" cy="324.9" r="0.7"/><circle cx="86.1" cy="339.2" r="0.8"/><circle cx="24.4" cy="326.4" r="0.5"/><circle cx="32.9" cy="353.4" r="0.7"/><circle cx="24.6" cy="347.2" r="0.6"/><circle cx="39.3" cy="359.6" r="0.6"/><circle cx="29.6" cy="305.8" r="0.8"/><circle cx="71.9" cy="312.9" r="0.9"/><circle cx="30.0" cy="355.4" r="0.9"/><circle cx="86.7" cy="354.3" r="0.8"/><circle cx="84.3" cy="350.3" r="0.5"/><circle cx="49.3" cy="359.7" r="0.8"/><circle cx="37.6" cy="358.2" r="0.6"/><circle cx="89.0" cy="361.6" r="0.8"/><circle cx="48.7" cy="363.1" r="0.6"/><circle cx="62.4" cy="325.9" r="0.8"/><circle cx="34.0" cy="340.5" r="0.6"/><circle cx="85.1" cy="344.4" r="0.8"/><circle cx="29.6" cy="303.0" r="0.7"/><circle cx="93.7" cy="347.0" r="0.5"/><circle cx="29.2" cy="353.0" r="0.8"/><circle cx="78.6" cy="304.6" r="0.8"/><circle cx="31.2" cy="360.9" r="0.8"/><circle cx="71.4" cy="360.4" r="0.8"/><circle cx="40.6" cy="313.4" r="0.8"/><circle cx="75.9" cy="348.6" r="0.6"/><circle cx="49.4" cy="328.3" r="0.9"/><circle cx="48.9" cy="345.5" r="0.6"/><circle cx="93.1" cy="305.2" r="0.6"/><circle cx="68.5" cy="365.6" r="0.9"/><circle cx="38.9" cy="308.8" r="0.5"/><circle cx="33.8" cy="352.2" r="0.5"/><circle cx="83.1" cy="303.1" r="0.8"/><circle cx="35.6" cy="346.3" r="0.7"/><circle cx="41.6" cy="345.4" r="0.7"/><circle cx="82.7" cy="366.5" r="0.7"/><circle cx="35.4" cy="356.4" r="0.7"/><circle cx="38.4" cy="339.2" r="0.6"/><circle cx="37.9" cy="309.8" r="0.7"/><circle cx="51.1" cy="304.6" r="0.8"/><circle cx="67.4" cy="354.0" r="0.6"/><circle cx="47.8" cy="345.8" r="0.6"/><circle cx="23.8" cy="332.5" r="0.5"/><circle cx="86.4" cy="339.8" r="0.7"/><circle cx="47.5" cy="320.3" r="0.6"/><circle cx="71.8" cy="357.9" r="0.6"/><circle cx="50.9" cy="364.2" r="0.9"/><circle cx="48.2" cy="303.0" r="0.8"/><circle cx="36.7" cy="346.9" r="0.6"/><circle cx="66.5" cy="349.5" r="0.9"/><circle cx="41.7" cy="360.9" r="0.7"/><circle cx="68.4" cy="357.4" r="0.7"/><circle cx="78.0" cy="312.8" r="0.6"/><circle cx="21.9" cy="335.3" r="0.6"/><circle cx="39.8" cy="346.8" r="0.9"/><circle cx="67.1" cy="362.6" r="0.5"/><circle cx="86.6" cy="354.9" r="0.5"/><circle cx="67.6" cy="314.9" r="0.8"/><circle cx="21.7" cy="356.2" r="0.7"/><circle cx="34.9" cy="331.8" r="0.7"/><circle cx="47.9" cy="343.5" r="0.9"/><circle cx="80.5" cy="363.2" r="0.9"/><circle cx="69.3" cy="348.2" r="0.6"/><circle cx="27.0" cy="320.8" r="0.7"/><circle cx="25.8" cy="348.2" r="0.6"/><circle cx="69.2" cy="363.6" r="0.6"/><circle cx="58.6" cy="327.5" r="0.7"/><circle cx="66.5" cy="362.1" r="0.6"/><circle cx="79.8" cy="336.0" r="0.6"/><circle cx="36.9" cy="303.1" r="0.7"/><circle cx="54.2" cy="355.2" r="0.8"/><circle cx="95.3" cy="328.9" r="0.7"/><circle cx="27.0" cy="305.3" r="0.6"/><circle cx="81.6" cy="354.2" r="0.7"/><circle cx="77.6" cy="324.5" r="0.7"/><circle cx="73.8" cy="348.0" r="0.7"/><circle cx="74.9" cy="340.7" r="0.7"/><circle cx="92.4" cy="351.9" r="0.7"/><circle cx="51.4" cy="337.8" r="0.8"/><circle cx="94.3" cy="338.0" r="0.6"/><circle cx="96.4" cy="309.3" r="0.6"/><circle cx="52.1" cy="305.2" r="0.5"/><circle cx="23.6" cy="318.3" r="0.9"/><circle cx="78.5" cy="308.4" r="0.5"/><circle cx="29.5" cy="354.5" r="0.8"/><circle cx="56.8" cy="325.7" r="0.8"/><circle cx="95.7" cy="324.3" r="0.7"/><circle cx="39.0" cy="354.6" r="0.6"/><circle cx="81.6" cy="335.2" r="0.7"/><circle cx="71.8" cy="326.5" r="0.6"/><circle cx="50.2" cy="305.5" r="0.7"/><circle cx="87.3" cy="307.8" r="0.6"/><circle cx="65.7" cy="349.0" r="0.5"/><circle cx="97.8" cy="316.1" r="0.8"/><circle cx="73.6" cy="304.1" r="0.9"/><circle cx="97.0" cy="351.1" r="0.7"/><circle cx="88.7" cy="314.7" r="0.7"/><circle cx="86.5" cy="338.0" r="0.9"/><circle cx="31.4" cy="318.1" r="0.6"/><circle cx="68.1" cy="308.1" r="0.9"/><circle cx="36.1" cy="362.1" r="0.8"/><circle cx="97.4" cy="345.0" r="0.5"/><circle cx="90.2" cy="356.8" r="0.8"/><circle cx="37.2" cy="338.8" r="0.7"/><circle cx="45.0" cy="313.9" r="0.6"/><circle cx="94.6" cy="330.5" r="0.8"/><circle cx="83.3" cy="364.1" r="0.7"/><circle cx="42.1" cy="306.5" r="0.7"/><circle cx="70.7" cy="336.0" r="0.7"/><circle cx="52.3" cy="304.6" r="0.9"/><circle cx="37.4" cy="302.8" r="0.6"/><circle cx="60.5" cy="366.2" r="0.6"/><circle cx="27.8" cy="316.2" r="0.7"/><circle cx="30.6" cy="339.6" r="0.6"/><circle cx="97.4" cy="359.4" r="0.5"/><circle cx="21.8" cy="366.7" r="0.5"/><circle cx="78.4" cy="336.0" r="0.9"/><circle cx="39.6" cy="336.4" r="0.8"/><circle cx="23.2" cy="356.3" r="0.7"/><circle cx="49.1" cy="331.0" r="0.7"/><circle cx="70.2" cy="352.4" r="0.7"/><circle cx="93.7" cy="353.5" r="0.9"/><circle cx="92.1" cy="351.3" r="0.6"/><circle cx="81.5" cy="334.1" r="0.8"/><circle cx="32.1" cy="353.4" r="0.6"/><circle cx="80.5" cy="306.5" r="0.6"/><circle cx="70.3" cy="354.0" r="0.7"/><circle cx="93.1" cy="343.3" r="0.7"/><circle cx="50.4" cy="339.8" r="0.8"/><circle cx="46.4" cy="307.2" r="0.5"/><circle cx="54.5" cy="335.4" r="0.6"/><circle cx="57.9" cy="352.2" r="0.7"/><circle cx="40.5" cy="315.1" r="0.5"/><circle cx="57.7" cy="330.4" r="0.7"/><circle cx="23.1" cy="366.7" r="0.9"/><circle cx="67.3" cy="362.3" r="0.7"/><circle cx="94.1" cy="336.5" r="0.5"/><circle cx="42.8" cy="306.7" r="0.7"/><circle cx="39.7" cy="318.2" r="0.6"/><circle cx="51.7" cy="337.0" r="0.8"/><circle cx="90.2" cy="354.7" r="0.7"/><circle cx="67.6" cy="334.6" r="0.6"/><circle cx="89.4" cy="362.7" r="0.5"/><circle cx="75.2" cy="342.4" r="0.6"/><circle cx="34.9" cy="318.0" r="0.5"/><circle cx="89.2" cy="346.5" r="0.6"/><circle cx="46.5" cy="350.2" r="0.9"/><circle cx="29.8" cy="305.7" r="0.7"/><circle cx="61.1" cy="359.7" r="0.9"/><circle cx="59.3" cy="365.3" r="0.6"/><circle cx="32.9" cy="314.1" r="0.6"/><circle cx="40.5" cy="328.5" r="0.6"/><circle cx="96.5" cy="336.0" r="0.5"/><circle cx="33.7" cy="352.0" r="0.7"/><circle cx="90.2" cy="364.4" r="0.5"/><circle cx="32.8" cy="349.8" r="0.5"/><circle cx="87.5" cy="342.6" r="0.9"/><circle cx="20.4" cy="305.6" r="0.6"/><circle cx="95.8" cy="303.7" r="0.8"/><circle cx="60.5" cy="337.3" r="0.8"/><circle cx="34.8" cy="323.1" r="0.7"/><circle cx="21.1" cy="334.7" r="0.7"/><circle cx="84.9" cy="317.4" r="0.8"/><circle cx="41.6" cy="302.8" r="0.6"/><circle cx="50.5" cy="351.9" r="0.6"/><circle cx="44.7" cy="358.1" r="0.7"/><circle cx="20.0" cy="345.2" r="0.8"/><circle cx="22.7" cy="310.5" r="0.6"/><circle cx="79.9" cy="357.9" r="0.6"/><circle cx="77.1" cy="334.9" r="0.6"/><circle cx="97.3" cy="315.2" r="0.7"/><circle cx="52.4" cy="332.2" r="0.8"/><circle cx="97.6" cy="336.6" r="0.7"/><circle cx="53.6" cy="350.2" r="0.6"/><circle cx="25.0" cy="340.6" r="0.6"/><circle cx="94.1" cy="363.3" r="0.5"/><circle cx="53.4" cy="333.4" r="0.6"/><circle cx="55.3" cy="331.8" r="0.7"/><circle cx="39.5" cy="320.8" r="0.8"/><circle cx="20.6" cy="313.1" r="0.8"/><circle cx="68.6" cy="328.5" r="0.8"/><circle cx="24.3" cy="317.8" r="0.8"/><circle cx="70.9" cy="303.0" r="0.5"/><circle cx="46.0" cy="333.1" r="0.7"/><circle cx="45.7" cy="329.5" r="0.6"/><circle cx="20.9" cy="349.7" r="0.8"/><circle cx="44.7" cy="308.0" r="0.7"/><circle cx="70.2" cy="354.8" r="0.5"/><circle cx="22.4" cy="343.8" r="0.7"/><circle cx="39.8" cy="339.9" r="0.6"/><circle cx="82.2" cy="344.0" r="0.8"/><circle cx="76.5" cy="309.5" r="0.6"/><circle cx="90.8" cy="336.4" r="0.8"/><circle cx="40.5" cy="323.1" r="0.7"/><circle cx="63.4" cy="315.9" r="0.8"/><circle cx="24.4" cy="332.9" r="0.9"/><circle cx="93.6" cy="312.6" r="0.9"/><circle cx="57.6" cy="335.4" r="0.7"/><circle cx="88.1" cy="355.0" r="0.8"/><circle cx="40.5" cy="312.6" r="0.8"/><circle cx="23.5" cy="305.4" r="0.6"/><circle cx="33.7" cy="350.0" r="0.8"/><circle cx="66.6" cy="321.4" r="0.6"/><circle cx="88.8" cy="337.3" r="0.9"/><circle cx="42.8" cy="363.0" r="0.5"/><circle cx="88.4" cy="350.7" r="0.9"/><circle cx="37.3" cy="321.3" r="0.6"/><circle cx="26.8" cy="348.2" r="0.7"/><circle cx="66.2" cy="328.7" r="0.5"/><circle cx="20.8" cy="328.0" r="0.7"/><circle cx="51.0" cy="325.6" r="0.7"/><circle cx="83.4" cy="327.9" r="0.9"/><circle cx="53.9" cy="314.6" r="0.6"/><circle cx="22.9" cy="321.6" r="0.9"/><circle cx="74.3" cy="359.8" r="0.6"/><circle cx="71.5" cy="346.7" r="0.6"/><circle cx="77.3" cy="330.3" r="0.5"/></g><g fill="#8a4a18" opacity="0.65"><circle cx="50.5" cy="343.8" r="0.7"/><circle cx="58.9" cy="345.8" r="0.9"/><circle cx="63.2" cy="346.6" r="0.7"/><circle cx="74.5" cy="349.8" r="0.6"/><circle cx="37.8" cy="351.7" r="0.9"/><circle cx="78.4" cy="320.7" r="0.9"/><circle cx="78.3" cy="319.1" r="0.5"/><circle cx="53.6" cy="334.0" r="0.8"/><circle cx="63.0" cy="325.4" r="0.8"/><circle cx="85.3" cy="333.2" r="0.7"/><circle cx="65.3" cy="322.4" r="0.7"/><circle cx="20.5" cy="325.8" r="0.6"/><circle cx="26.5" cy="336.4" r="0.6"/><circle cx="92.9" cy="332.7" r="0.6"/><circle cx="34.8" cy="328.5" r="0.5"/><circle cx="53.3" cy="326.2" r="0.5"/><circle cx="68.7" cy="320.8" r="0.6"/><circle cx="33.3" cy="348.6" r="0.6"/><circle cx="52.0" cy="341.7" r="0.7"/><circle cx="46.5" cy="318.5" r="0.6"/><circle cx="45.5" cy="330.2" r="0.7"/><circle cx="49.2" cy="365.6" r="0.6"/><circle cx="31.9" cy="312.9" r="0.6"/><circle cx="62.2" cy="327.4" r="0.7"/><circle cx="86.4" cy="334.1" r="0.8"/><circle cx="44.3" cy="323.0" r="0.6"/><circle cx="29.2" cy="320.0" r="0.6"/><circle cx="47.3" cy="323.9" r="0.6"/><circle cx="28.6" cy="359.2" r="0.7"/><circle cx="56.1" cy="358.4" r="0.6"/><circle cx="70.9" cy="335.6" r="0.6"/><circle cx="24.4" cy="308.4" r="0.6"/><circle cx="21.5" cy="354.5" r="0.6"/><circle cx="41.0" cy="346.6" r="0.8"/><circle cx="58.9" cy="346.8" r="0.7"/><circle cx="43.1" cy="325.5" r="0.8"/><circle cx="22.8" cy="349.4" r="0.6"/><circle cx="74.7" cy="334.3" r="0.7"/><circle cx="86.6" cy="366.1" r="0.6"/><circle cx="37.6" cy="323.9" r="0.6"/><circle cx="31.2" cy="307.3" r="0.7"/><circle cx="43.3" cy="359.9" r="0.6"/><circle cx="29.5" cy="320.9" r="0.7"/><circle cx="68.7" cy="330.5" r="0.8"/><circle cx="77.2" cy="320.5" r="0.6"/><circle cx="89.1" cy="361.6" r="0.7"/><circle cx="78.4" cy="313.2" r="0.9"/><circle cx="44.1" cy="341.2" r="0.9"/><circle cx="41.6" cy="320.3" r="0.5"/><circle cx="78.6" cy="343.6" r="0.8"/><circle cx="68.5" cy="328.3" r="0.8"/><circle cx="34.7" cy="310.0" r="0.8"/><circle cx="86.5" cy="364.6" r="0.8"/><circle cx="30.8" cy="339.1" r="0.5"/><circle cx="44.3" cy="352.1" r="0.9"/><circle cx="90.9" cy="336.4" r="0.7"/><circle cx="44.0" cy="328.8" r="0.9"/><circle cx="80.7" cy="309.2" r="0.9"/><circle cx="70.5" cy="319.0" r="0.6"/><circle cx="73.7" cy="345.7" r="0.5"/><circle cx="70.8" cy="329.1" r="0.5"/><circle cx="36.6" cy="306.3" r="0.8"/><circle cx="66.3" cy="332.0" r="0.6"/><circle cx="64.2" cy="331.9" r="0.6"/><circle cx="52.9" cy="329.4" r="0.6"/><circle cx="47.3" cy="354.8" r="0.6"/><circle cx="84.4" cy="355.5" r="0.8"/><circle cx="74.7" cy="309.5" r="0.6"/><circle cx="44.2" cy="322.4" r="0.8"/><circle cx="39.1" cy="350.8" r="0.8"/><circle cx="55.9" cy="337.5" r="0.6"/><circle cx="82.8" cy="349.3" r="0.6"/><circle cx="92.7" cy="315.9" r="0.6"/><circle cx="94.6" cy="358.9" r="0.7"/><circle cx="35.9" cy="328.4" r="0.7"/><circle cx="46.0" cy="325.1" r="0.7"/><circle cx="78.6" cy="362.7" r="0.8"/><circle cx="79.0" cy="361.8" r="0.7"/><circle cx="25.6" cy="325.9" r="0.7"/><circle cx="54.1" cy="307.8" r="0.7"/><circle cx="72.9" cy="353.2" r="0.7"/><circle cx="61.0" cy="356.8" r="0.5"/><circle cx="37.3" cy="334.0" r="0.8"/><circle cx="73.1" cy="309.4" r="0.6"/><circle cx="24.1" cy="307.6" r="0.9"/><circle cx="39.4" cy="330.4" r="0.7"/><circle cx="39.5" cy="315.0" r="0.6"/><circle cx="45.0" cy="304.9" r="0.9"/><circle cx="98.0" cy="318.7" r="0.9"/><circle cx="97.8" cy="336.4" r="0.7"/><circle cx="47.6" cy="352.3" r="0.5"/><circle cx="28.3" cy="318.7" r="0.9"/><circle cx="49.2" cy="358.3" r="0.9"/><circle cx="86.5" cy="358.8" r="0.7"/><circle cx="72.7" cy="344.6" r="0.7"/><circle cx="57.8" cy="341.6" r="0.9"/><circle cx="34.1" cy="329.2" r="0.5"/><circle cx="72.9" cy="351.7" r="0.6"/><circle cx="66.7" cy="327.9" r="0.5"/><circle cx="56.9" cy="348.2" r="0.8"/><circle cx="61.0" cy="315.8" r="0.6"/><circle cx="20.3" cy="320.8" r="0.9"/><circle cx="40.9" cy="353.7" r="0.6"/><circle cx="23.1" cy="306.7" r="0.6"/><circle cx="42.8" cy="339.1" r="0.9"/><circle cx="86.9" cy="333.5" r="0.7"/><circle cx="52.5" cy="311.7" r="0.6"/><circle cx="43.0" cy="311.6" r="0.8"/><circle cx="77.8" cy="327.4" r="0.7"/><circle cx="59.2" cy="336.7" r="0.8"/><circle cx="25.0" cy="331.3" r="0.6"/><circle cx="35.1" cy="325.0" r="0.7"/><circle cx="35.3" cy="317.0" r="0.6"/><circle cx="39.5" cy="360.7" r="0.6"/><circle cx="72.4" cy="314.1" r="0.6"/><circle cx="87.6" cy="365.4" r="0.8"/><circle cx="75.4" cy="356.3" r="0.6"/><circle cx="88.6" cy="363.6" r="0.5"/><circle cx="79.9" cy="314.5" r="0.6"/><circle cx="83.1" cy="336.1" r="0.7"/><circle cx="90.0" cy="311.3" r="0.8"/><circle cx="45.5" cy="341.8" r="0.8"/><circle cx="24.1" cy="313.5" r="0.7"/><circle cx="68.5" cy="343.1" r="0.7"/><circle cx="79.6" cy="330.8" r="0.7"/><circle cx="30.2" cy="317.4" r="0.7"/><circle cx="28.2" cy="315.1" r="0.6"/><circle cx="81.4" cy="355.7" r="0.5"/><circle cx="24.7" cy="305.3" r="0.6"/><circle cx="39.7" cy="310.9" r="0.8"/><circle cx="60.9" cy="348.6" r="0.5"/><circle cx="71.3" cy="320.9" r="0.6"/><circle cx="29.7" cy="364.8" r="0.9"/><circle cx="69.3" cy="338.9" r="0.7"/><circle cx="37.9" cy="306.1" r="0.6"/><circle cx="43.1" cy="341.7" r="0.7"/><circle cx="74.6" cy="349.0" r="0.5"/><circle cx="33.0" cy="314.5" r="0.6"/><circle cx="32.7" cy="333.1" r="0.7"/><circle cx="22.5" cy="310.4" r="0.8"/><circle cx="66.1" cy="353.2" r="0.6"/><circle cx="79.2" cy="345.2" r="0.7"/><circle cx="69.5" cy="346.4" r="0.6"/><circle cx="42.9" cy="326.5" r="0.5"/><circle cx="68.8" cy="326.4" r="0.7"/><circle cx="47.3" cy="337.9" r="0.8"/><circle cx="33.6" cy="358.3" r="0.6"/><circle cx="32.1" cy="305.6" r="0.8"/><circle cx="57.3" cy="340.7" r="0.8"/><circle cx="88.9" cy="336.4" r="0.9"/><circle cx="88.1" cy="349.0" r="0.6"/><circle cx="42.8" cy="313.7" r="0.9"/><circle cx="86.4" cy="329.4" r="0.5"/><circle cx="57.3" cy="324.6" r="0.7"/><circle cx="68.1" cy="303.0" r="0.8"/><circle cx="24.5" cy="321.3" r="0.7"/><circle cx="36.3" cy="337.8" r="0.6"/><circle cx="27.4" cy="340.6" r="0.8"/><circle cx="69.5" cy="339.7" r="0.5"/><circle cx="77.2" cy="318.9" r="0.6"/><circle cx="59.7" cy="351.2" r="0.8"/><circle cx="93.6" cy="336.5" r="0.6"/><circle cx="80.3" cy="331.7" r="0.7"/><circle cx="34.1" cy="308.2" r="0.8"/><circle cx="67.4" cy="363.5" r="0.7"/><circle cx="32.8" cy="350.6" r="0.7"/><circle cx="80.7" cy="308.1" r="0.9"/><circle cx="32.6" cy="318.4" r="0.7"/><circle cx="41.2" cy="341.5" r="0.7"/><circle cx="83.2" cy="357.5" r="0.7"/><circle cx="44.0" cy="337.0" r="0.7"/><circle cx="57.6" cy="346.1" r="0.6"/><circle cx="47.9" cy="316.7" r="0.9"/><circle cx="29.7" cy="347.6" r="0.5"/><circle cx="32.7" cy="316.2" r="0.6"/><circle cx="52.9" cy="358.7" r="0.8"/><circle cx="64.9" cy="327.1" r="0.8"/><circle cx="30.9" cy="307.3" r="0.9"/><circle cx="82.0" cy="350.7" r="0.8"/><circle cx="78.0" cy="307.2" r="0.8"/></g></g>
</g>
<g clip-path="url(#mp2)"><rect x="102.6" y="302.5" width="79.1" height="64.69999999999999" fill="#dccad4"/>
<g filter="url(#hb)"><g fill="#c8883a" opacity="0.85"><circle cx="131.4" cy="352.9" r="1.8"/><circle cx="117.5" cy="307.0" r="2.6"/><circle cx="149.3" cy="322.9" r="2.7"/><circle cx="177.3" cy="364.8" r="1.7"/><circle cx="111.8" cy="329.4" r="3.2"/><circle cx="119.0" cy="333.5" r="3.3"/><circle cx="104.9" cy="306.6" r="2.3"/><circle cx="156.4" cy="318.5" r="1.9"/><circle cx="123.6" cy="323.1" r="1.7"/><circle cx="145.0" cy="357.6" r="2.5"/><circle cx="157.2" cy="326.7" r="1.8"/><circle cx="140.8" cy="365.2" r="1.9"/><circle cx="176.6" cy="351.4" r="2.3"/><circle cx="115.4" cy="312.1" r="2.5"/><circle cx="128.8" cy="356.0" r="2.7"/><circle cx="107.2" cy="311.5" r="3.0"/><circle cx="139.5" cy="357.4" r="2.4"/><circle cx="106.3" cy="305.7" r="2.0"/><circle cx="124.7" cy="340.6" r="2.7"/><circle cx="114.4" cy="309.1" r="3.2"/><circle cx="174.6" cy="360.0" r="2.5"/><circle cx="112.5" cy="309.2" r="2.2"/><circle cx="138.4" cy="346.8" r="2.8"/><circle cx="111.7" cy="322.0" r="3.1"/><circle cx="147.4" cy="330.5" r="1.7"/><circle cx="128.3" cy="341.1" r="2.6"/><circle cx="131.1" cy="331.1" r="2.8"/><circle cx="115.2" cy="324.1" r="1.9"/><circle cx="155.3" cy="321.5" r="3.3"/><circle cx="148.3" cy="330.7" r="2.1"/><circle cx="125.1" cy="325.2" r="2.6"/><circle cx="125.0" cy="349.1" r="2.7"/><circle cx="126.9" cy="355.2" r="1.9"/><circle cx="171.2" cy="309.9" r="2.0"/><circle cx="113.4" cy="312.1" r="1.7"/><circle cx="145.1" cy="329.5" r="2.6"/><circle cx="114.6" cy="319.2" r="3.3"/><circle cx="150.9" cy="350.1" r="3.1"/><circle cx="115.2" cy="308.0" r="2.2"/><circle cx="122.6" cy="317.7" r="3.0"/><circle cx="176.6" cy="351.9" r="2.1"/><circle cx="157.9" cy="308.7" r="2.6"/><circle cx="113.3" cy="315.6" r="2.4"/><circle cx="122.9" cy="339.5" r="3.3"/><circle cx="159.4" cy="316.4" r="2.0"/><circle cx="141.5" cy="330.9" r="3.2"/><circle cx="113.7" cy="311.8" r="3.2"/><circle cx="123.1" cy="325.0" r="3.0"/><circle cx="177.2" cy="355.7" r="2.8"/><circle cx="122.2" cy="338.6" r="2.8"/><circle cx="131.5" cy="345.7" r="1.7"/><circle cx="180.1" cy="341.5" r="3.3"/><circle cx="127.6" cy="341.5" r="2.0"/><circle cx="141.6" cy="359.6" r="2.6"/><circle cx="139.0" cy="359.8" r="3.1"/><circle cx="127.0" cy="356.6" r="3.2"/><circle cx="166.3" cy="340.8" r="3.1"/><circle cx="121.3" cy="351.6" r="2.9"/><circle cx="108.9" cy="355.7" r="1.6"/><circle cx="139.0" cy="343.8" r="2.4"/><circle cx="113.0" cy="337.6" r="2.8"/><circle cx="163.0" cy="312.7" r="2.0"/><circle cx="150.2" cy="327.7" r="2.0"/><circle cx="168.2" cy="311.8" r="2.4"/><circle cx="112.7" cy="323.6" r="3.1"/><circle cx="166.5" cy="361.4" r="1.8"/><circle cx="176.2" cy="338.0" r="3.4"/><circle cx="154.2" cy="338.2" r="2.8"/><circle cx="154.0" cy="303.6" r="2.9"/><circle cx="135.5" cy="357.7" r="2.8"/><circle cx="147.1" cy="309.6" r="2.7"/><circle cx="126.5" cy="333.8" r="2.4"/><circle cx="167.6" cy="322.2" r="2.2"/><circle cx="123.0" cy="334.5" r="3.0"/><circle cx="153.9" cy="310.9" r="2.2"/><circle cx="177.9" cy="312.6" r="3.2"/><circle cx="159.3" cy="304.0" r="2.0"/><circle cx="146.3" cy="351.2" r="2.8"/><circle cx="126.0" cy="353.6" r="3.0"/><circle cx="130.3" cy="324.6" r="2.7"/><circle cx="125.2" cy="353.2" r="3.0"/><circle cx="178.6" cy="332.8" r="2.5"/><circle cx="138.4" cy="322.4" r="2.2"/><circle cx="112.8" cy="333.4" r="3.2"/><circle cx="179.7" cy="327.6" r="1.9"/><circle cx="154.1" cy="306.2" r="3.3"/><circle cx="132.7" cy="355.4" r="2.9"/><circle cx="163.5" cy="311.5" r="1.9"/><circle cx="115.5" cy="307.9" r="2.8"/><circle cx="117.9" cy="344.1" r="1.6"/><circle cx="118.2" cy="326.6" r="1.8"/><circle cx="159.9" cy="303.9" r="2.9"/><circle cx="132.1" cy="360.0" r="1.9"/><circle cx="166.4" cy="320.3" r="1.7"/><circle cx="145.2" cy="364.5" r="2.6"/><circle cx="139.9" cy="329.5" r="3.4"/><circle cx="157.8" cy="312.1" r="2.4"/><circle cx="161.1" cy="319.5" r="3.0"/><circle cx="115.5" cy="320.7" r="1.8"/><circle cx="150.7" cy="318.0" r="1.9"/><circle cx="166.5" cy="359.6" r="1.6"/><circle cx="175.5" cy="349.0" r="1.7"/><circle cx="123.1" cy="353.7" r="1.7"/><circle cx="110.6" cy="336.5" r="1.8"/><circle cx="148.4" cy="310.9" r="3.3"/><circle cx="177.5" cy="323.8" r="2.0"/><circle cx="147.2" cy="315.2" r="1.6"/><circle cx="140.1" cy="310.8" r="1.6"/><circle cx="175.8" cy="356.4" r="2.4"/><circle cx="145.7" cy="359.2" r="3.0"/><circle cx="115.7" cy="339.6" r="2.6"/><circle cx="119.8" cy="336.2" r="2.9"/><circle cx="137.2" cy="360.8" r="2.0"/><circle cx="105.9" cy="338.8" r="2.8"/><circle cx="111.2" cy="330.9" r="2.4"/><circle cx="148.2" cy="332.5" r="1.9"/><circle cx="175.7" cy="346.3" r="3.4"/><circle cx="132.2" cy="360.0" r="2.5"/><circle cx="141.6" cy="325.1" r="3.3"/><circle cx="129.9" cy="363.0" r="3.2"/><circle cx="166.7" cy="310.8" r="3.2"/><circle cx="146.9" cy="352.4" r="1.9"/><circle cx="126.9" cy="312.6" r="1.8"/><circle cx="149.6" cy="304.7" r="3.0"/><circle cx="124.8" cy="349.1" r="3.3"/><circle cx="122.8" cy="314.1" r="1.7"/><circle cx="120.9" cy="325.7" r="3.2"/><circle cx="148.6" cy="315.5" r="2.1"/><circle cx="135.1" cy="312.5" r="2.6"/><circle cx="124.8" cy="313.0" r="3.1"/><circle cx="176.4" cy="331.5" r="2.6"/><circle cx="155.9" cy="319.1" r="2.3"/><circle cx="132.8" cy="358.1" r="1.6"/><circle cx="111.1" cy="314.9" r="3.0"/><circle cx="156.3" cy="326.8" r="2.6"/><circle cx="121.8" cy="354.0" r="2.1"/><circle cx="177.1" cy="323.0" r="1.6"/><circle cx="160.6" cy="323.9" r="2.4"/><circle cx="175.9" cy="354.5" r="1.8"/><circle cx="127.3" cy="324.9" r="3.3"/><circle cx="158.4" cy="354.0" r="1.7"/><circle cx="151.5" cy="311.3" r="1.7"/><circle cx="165.3" cy="317.5" r="2.9"/><circle cx="115.5" cy="340.2" r="3.3"/><circle cx="104.2" cy="313.1" r="2.3"/><circle cx="142.7" cy="365.3" r="1.9"/><circle cx="175.8" cy="333.0" r="2.1"/><circle cx="114.8" cy="362.9" r="2.9"/><circle cx="169.6" cy="311.0" r="2.1"/><circle cx="120.8" cy="303.9" r="2.0"/><circle cx="113.1" cy="323.8" r="3.3"/><circle cx="125.3" cy="332.8" r="2.1"/><circle cx="159.3" cy="332.7" r="2.4"/><circle cx="148.6" cy="328.4" r="1.9"/><circle cx="174.1" cy="340.0" r="2.0"/><circle cx="153.3" cy="334.5" r="1.8"/><circle cx="103.7" cy="348.4" r="2.6"/><circle cx="163.3" cy="315.1" r="3.0"/><circle cx="123.6" cy="343.7" r="1.6"/><circle cx="115.5" cy="324.2" r="3.0"/><circle cx="145.9" cy="302.6" r="2.6"/><circle cx="180.3" cy="313.4" r="3.3"/><circle cx="176.6" cy="325.6" r="3.2"/><circle cx="141.3" cy="340.0" r="2.0"/><circle cx="133.7" cy="360.5" r="1.8"/><circle cx="121.9" cy="311.4" r="2.3"/><circle cx="167.5" cy="336.4" r="2.7"/><circle cx="145.1" cy="351.7" r="3.3"/><circle cx="151.7" cy="323.1" r="3.0"/><circle cx="155.6" cy="349.9" r="2.7"/><circle cx="165.3" cy="329.2" r="3.2"/><circle cx="147.1" cy="358.0" r="1.8"/><circle cx="123.6" cy="350.2" r="3.0"/><circle cx="106.3" cy="304.6" r="2.3"/><circle cx="158.1" cy="314.5" r="2.4"/><circle cx="114.5" cy="306.9" r="3.3"/><circle cx="125.7" cy="356.9" r="2.2"/><circle cx="113.0" cy="310.5" r="1.6"/><circle cx="156.4" cy="304.3" r="2.0"/><circle cx="162.9" cy="348.2" r="1.8"/><circle cx="142.8" cy="341.9" r="2.6"/><circle cx="152.4" cy="305.1" r="2.4"/><circle cx="127.5" cy="330.1" r="2.5"/><circle cx="120.4" cy="312.3" r="2.1"/><circle cx="130.9" cy="329.2" r="3.0"/><circle cx="167.7" cy="361.1" r="3.2"/><circle cx="174.1" cy="365.0" r="1.7"/><circle cx="114.5" cy="306.7" r="2.7"/><circle cx="110.2" cy="311.1" r="1.6"/><circle cx="136.1" cy="349.1" r="1.9"/><circle cx="106.5" cy="304.1" r="2.6"/><circle cx="128.0" cy="354.0" r="2.3"/><circle cx="152.5" cy="312.5" r="2.4"/><circle cx="171.7" cy="349.5" r="2.5"/><circle cx="162.6" cy="359.2" r="3.3"/><circle cx="142.6" cy="359.7" r="3.2"/><circle cx="113.8" cy="315.0" r="2.4"/><circle cx="162.6" cy="313.1" r="1.7"/><circle cx="117.3" cy="306.2" r="2.2"/><circle cx="172.3" cy="349.8" r="1.7"/><circle cx="154.3" cy="311.0" r="1.9"/><circle cx="135.7" cy="332.4" r="3.0"/><circle cx="158.8" cy="304.4" r="3.0"/><circle cx="153.0" cy="308.8" r="2.2"/><circle cx="158.5" cy="308.3" r="3.0"/><circle cx="176.0" cy="302.7" r="2.3"/><circle cx="150.9" cy="304.7" r="1.6"/><circle cx="141.9" cy="353.3" r="3.0"/><circle cx="180.8" cy="359.9" r="2.7"/><circle cx="143.0" cy="365.1" r="3.2"/><circle cx="154.0" cy="317.4" r="2.1"/><circle cx="169.3" cy="327.0" r="1.7"/><circle cx="163.8" cy="318.3" r="3.1"/><circle cx="150.4" cy="352.8" r="2.4"/><circle cx="128.1" cy="320.2" r="2.7"/><circle cx="115.0" cy="338.1" r="3.0"/><circle cx="121.8" cy="314.6" r="3.3"/><circle cx="173.5" cy="321.1" r="2.0"/><circle cx="134.3" cy="337.7" r="1.9"/><circle cx="112.1" cy="329.2" r="2.5"/><circle cx="130.7" cy="350.3" r="2.2"/><circle cx="126.2" cy="361.6" r="3.1"/><circle cx="181.6" cy="332.4" r="3.1"/><circle cx="124.7" cy="335.2" r="2.5"/><circle cx="143.9" cy="312.0" r="3.1"/><circle cx="117.8" cy="338.6" r="2.3"/><circle cx="119.2" cy="312.9" r="3.1"/><circle cx="143.6" cy="363.1" r="2.1"/><circle cx="169.3" cy="340.4" r="3.4"/><circle cx="120.3" cy="356.2" r="3.3"/><circle cx="119.3" cy="316.4" r="2.3"/><circle cx="126.7" cy="314.8" r="3.0"/><circle cx="137.7" cy="346.4" r="1.8"/><circle cx="117.9" cy="330.0" r="3.3"/><circle cx="138.3" cy="330.8" r="3.0"/><circle cx="158.4" cy="318.1" r="3.0"/><circle cx="107.7" cy="311.5" r="2.4"/><circle cx="106.1" cy="358.4" r="2.2"/><circle cx="135.0" cy="332.5" r="3.4"/><circle cx="135.9" cy="354.1" r="2.0"/><circle cx="122.6" cy="311.5" r="3.0"/><circle cx="127.8" cy="342.6" r="2.7"/><circle cx="110.5" cy="304.9" r="3.1"/><circle cx="179.5" cy="326.6" r="2.4"/><circle cx="168.1" cy="364.2" r="1.9"/><circle cx="127.1" cy="328.0" r="2.5"/><circle cx="112.1" cy="341.3" r="2.0"/><circle cx="157.6" cy="329.3" r="3.3"/><circle cx="133.4" cy="353.1" r="3.0"/><circle cx="120.8" cy="322.1" r="2.1"/><circle cx="139.7" cy="308.4" r="2.3"/><circle cx="133.1" cy="357.0" r="1.9"/><circle cx="179.6" cy="362.7" r="1.7"/><circle cx="128.7" cy="342.0" r="2.5"/><circle cx="145.9" cy="329.5" r="2.6"/><circle cx="150.9" cy="356.2" r="1.8"/><circle cx="109.8" cy="349.9" r="2.1"/><circle cx="168.1" cy="327.7" r="2.2"/><circle cx="128.0" cy="360.3" r="2.9"/><circle cx="123.6" cy="320.5" r="1.8"/><circle cx="119.2" cy="362.5" r="3.1"/><circle cx="165.1" cy="326.2" r="3.1"/><circle cx="163.5" cy="332.9" r="2.4"/><circle cx="117.0" cy="326.4" r="2.4"/><circle cx="156.6" cy="313.2" r="2.1"/><circle cx="159.1" cy="312.6" r="2.0"/><circle cx="113.1" cy="303.6" r="2.1"/><circle cx="133.2" cy="350.0" r="3.1"/><circle cx="154.4" cy="317.0" r="2.9"/><circle cx="109.5" cy="308.7" r="3.0"/><circle cx="107.2" cy="365.4" r="3.0"/><circle cx="145.3" cy="362.1" r="2.8"/><circle cx="175.7" cy="343.6" r="2.3"/><circle cx="149.8" cy="306.2" r="1.8"/><circle cx="171.6" cy="335.8" r="2.9"/><circle cx="128.1" cy="363.3" r="2.9"/><circle cx="114.5" cy="329.8" r="1.8"/><circle cx="109.6" cy="309.3" r="2.6"/><circle cx="149.2" cy="308.6" r="2.9"/><circle cx="170.6" cy="323.0" r="1.6"/><circle cx="111.5" cy="339.9" r="3.0"/><circle cx="150.9" cy="366.1" r="2.3"/><circle cx="117.1" cy="319.5" r="1.8"/><circle cx="121.6" cy="311.6" r="1.8"/><circle cx="173.3" cy="350.6" r="3.4"/><circle cx="148.0" cy="317.2" r="2.8"/><circle cx="111.1" cy="315.4" r="3.3"/><circle cx="127.6" cy="360.6" r="3.3"/><circle cx="169.3" cy="325.5" r="3.2"/><circle cx="111.7" cy="333.0" r="1.8"/><circle cx="165.5" cy="321.3" r="2.5"/><circle cx="142.1" cy="357.3" r="3.2"/><circle cx="118.7" cy="319.1" r="3.0"/><circle cx="121.4" cy="360.9" r="2.9"/><circle cx="107.6" cy="313.0" r="2.0"/><circle cx="160.2" cy="312.9" r="1.7"/><circle cx="133.4" cy="366.0" r="2.9"/><circle cx="135.4" cy="348.8" r="1.6"/><circle cx="110.7" cy="307.6" r="2.6"/><circle cx="131.8" cy="315.1" r="2.6"/><circle cx="159.8" cy="312.7" r="2.6"/><circle cx="175.5" cy="332.4" r="2.7"/><circle cx="120.0" cy="364.9" r="3.3"/><circle cx="124.0" cy="329.5" r="2.5"/><circle cx="121.1" cy="331.4" r="3.2"/><circle cx="139.9" cy="342.7" r="3.0"/><circle cx="119.5" cy="324.8" r="2.6"/><circle cx="155.6" cy="319.5" r="2.4"/><circle cx="120.5" cy="336.6" r="1.9"/><circle cx="126.3" cy="352.3" r="3.0"/><circle cx="112.0" cy="324.7" r="1.7"/><circle cx="147.3" cy="365.2" r="1.6"/><circle cx="118.2" cy="351.1" r="3.1"/><circle cx="132.9" cy="349.5" r="1.8"/><circle cx="128.4" cy="336.0" r="2.1"/><circle cx="117.7" cy="309.2" r="3.2"/><circle cx="130.5" cy="336.9" r="2.9"/><circle cx="151.2" cy="362.3" r="2.4"/><circle cx="122.9" cy="335.7" r="2.7"/><circle cx="128.0" cy="315.0" r="2.5"/><circle cx="126.0" cy="312.9" r="3.1"/><circle cx="134.9" cy="332.7" r="2.8"/><circle cx="114.8" cy="341.2" r="1.7"/><circle cx="169.6" cy="337.0" r="2.8"/><circle cx="144.1" cy="361.4" r="2.8"/><circle cx="132.2" cy="348.6" r="1.9"/><circle cx="162.2" cy="315.0" r="2.3"/><circle cx="149.5" cy="309.8" r="2.0"/><circle cx="166.2" cy="312.0" r="2.1"/><circle cx="156.4" cy="309.4" r="2.1"/><circle cx="113.6" cy="317.8" r="2.0"/><circle cx="149.1" cy="365.6" r="2.9"/><circle cx="117.1" cy="314.6" r="3.0"/><circle cx="179.2" cy="338.0" r="2.0"/><circle cx="145.9" cy="325.5" r="1.9"/><circle cx="120.7" cy="348.8" r="1.9"/><circle cx="122.6" cy="303.7" r="2.0"/><circle cx="154.2" cy="305.1" r="3.1"/><circle cx="117.1" cy="313.0" r="3.3"/><circle cx="124.4" cy="347.7" r="2.7"/><circle cx="157.4" cy="309.4" r="2.8"/><circle cx="123.0" cy="356.3" r="3.0"/><circle cx="110.4" cy="307.9" r="2.8"/><circle cx="114.5" cy="347.1" r="3.3"/><circle cx="129.0" cy="354.5" r="1.8"/><circle cx="133.3" cy="342.7" r="1.8"/><circle cx="140.3" cy="340.6" r="2.4"/><circle cx="125.3" cy="357.0" r="3.0"/><circle cx="124.6" cy="325.1" r="2.7"/><circle cx="159.2" cy="317.5" r="2.5"/><circle cx="115.2" cy="308.0" r="2.1"/><circle cx="137.7" cy="355.0" r="2.4"/><circle cx="139.1" cy="338.8" r="2.9"/><circle cx="144.5" cy="347.5" r="2.6"/><circle cx="172.5" cy="342.5" r="3.3"/><circle cx="122.3" cy="323.2" r="2.4"/><circle cx="118.5" cy="303.7" r="2.2"/><circle cx="156.7" cy="316.0" r="3.4"/><circle cx="142.6" cy="354.8" r="3.1"/><circle cx="119.0" cy="333.8" r="3.3"/></g></g>
<g filter="url(#hb2)"><g fill="#3e3090" opacity="0.75"><circle cx="139.2" cy="353.1" r="0.9"/><circle cx="111.2" cy="328.6" r="0.8"/><circle cx="148.6" cy="358.1" r="1.1"/><circle cx="130.9" cy="351.4" r="1.1"/><circle cx="142.5" cy="336.5" r="0.9"/><circle cx="109.7" cy="357.9" r="0.9"/><circle cx="145.2" cy="349.0" r="0.9"/><circle cx="144.5" cy="329.5" r="1.1"/><circle cx="149.1" cy="352.4" r="1.0"/><circle cx="164.9" cy="350.3" r="0.7"/><circle cx="151.3" cy="342.0" r="1.1"/><circle cx="141.9" cy="322.5" r="0.9"/><circle cx="156.1" cy="340.2" r="0.7"/><circle cx="150.0" cy="314.3" r="1.0"/><circle cx="147.6" cy="346.1" r="0.9"/><circle cx="143.8" cy="342.6" r="0.8"/><circle cx="116.4" cy="332.2" r="0.7"/><circle cx="139.6" cy="323.9" r="0.7"/><circle cx="150.0" cy="349.8" r="0.9"/><circle cx="152.1" cy="363.3" r="1.0"/><circle cx="112.3" cy="339.0" r="1.1"/><circle cx="115.3" cy="349.2" r="0.8"/><circle cx="169.1" cy="333.4" r="0.8"/><circle cx="164.9" cy="337.9" r="0.8"/><circle cx="159.0" cy="323.5" r="1.0"/><circle cx="168.6" cy="322.5" r="1.0"/><circle cx="119.6" cy="365.4" r="0.9"/><circle cx="139.4" cy="329.4" r="1.0"/><circle cx="119.1" cy="323.4" r="0.8"/><circle cx="163.2" cy="361.0" r="0.8"/><circle cx="140.3" cy="305.5" r="1.0"/><circle cx="114.8" cy="308.7" r="0.9"/><circle cx="140.4" cy="362.6" r="0.7"/><circle cx="157.1" cy="341.0" r="1.0"/><circle cx="141.3" cy="331.7" r="0.8"/><circle cx="107.1" cy="351.3" r="1.0"/><circle cx="164.6" cy="335.6" r="0.9"/><circle cx="146.5" cy="356.8" r="1.0"/><circle cx="156.6" cy="331.1" r="0.9"/><circle cx="118.7" cy="353.8" r="1.1"/><circle cx="108.9" cy="344.5" r="1.0"/><circle cx="171.1" cy="342.4" r="0.8"/><circle cx="103.6" cy="353.0" r="0.7"/><circle cx="137.3" cy="355.8" r="1.0"/><circle cx="117.8" cy="342.2" r="0.7"/><circle cx="119.8" cy="363.2" r="0.9"/><circle cx="176.9" cy="315.2" r="0.8"/><circle cx="119.8" cy="332.3" r="1.1"/><circle cx="167.8" cy="357.1" r="0.8"/><circle cx="132.8" cy="356.2" r="0.9"/><circle cx="140.0" cy="326.5" r="1.1"/><circle cx="163.4" cy="361.1" r="0.8"/><circle cx="173.7" cy="310.3" r="0.9"/><circle cx="168.3" cy="305.3" r="0.7"/><circle cx="110.6" cy="365.0" r="0.8"/><circle cx="116.0" cy="334.9" r="1.1"/><circle cx="145.1" cy="361.0" r="0.8"/><circle cx="102.7" cy="343.2" r="0.8"/><circle cx="107.3" cy="346.6" r="1.1"/><circle cx="173.1" cy="352.0" r="0.8"/><circle cx="168.2" cy="310.1" r="0.9"/><circle cx="147.2" cy="359.7" r="0.9"/><circle cx="124.6" cy="362.5" r="0.9"/><circle cx="140.7" cy="329.7" r="0.8"/><circle cx="138.3" cy="326.8" r="0.8"/><circle cx="103.7" cy="366.1" r="0.9"/><circle cx="169.5" cy="346.4" r="0.9"/><circle cx="147.4" cy="354.0" r="1.0"/><circle cx="169.0" cy="328.5" r="0.8"/><circle cx="128.1" cy="320.3" r="0.8"/><circle cx="117.2" cy="362.6" r="0.8"/><circle cx="142.4" cy="329.2" r="0.8"/><circle cx="150.0" cy="358.8" r="1.1"/><circle cx="107.8" cy="335.1" r="0.7"/><circle cx="166.7" cy="355.0" r="1.1"/><circle cx="150.9" cy="338.9" r="0.8"/><circle cx="165.0" cy="326.1" r="1.1"/><circle cx="155.3" cy="322.6" r="0.7"/><circle cx="159.4" cy="318.1" r="1.0"/><circle cx="148.5" cy="362.6" r="0.9"/><circle cx="119.2" cy="314.1" r="0.9"/><circle cx="114.9" cy="356.3" r="1.1"/><circle cx="168.7" cy="365.5" r="1.1"/><circle cx="161.0" cy="366.5" r="1.1"/><circle cx="154.9" cy="331.4" r="0.8"/><circle cx="138.5" cy="362.4" r="0.8"/><circle cx="165.6" cy="366.4" r="1.1"/><circle cx="140.0" cy="332.5" r="0.9"/><circle cx="112.9" cy="340.9" r="1.0"/><circle cx="164.9" cy="349.3" r="0.9"/><circle cx="154.5" cy="326.5" r="1.0"/><circle cx="135.7" cy="361.6" r="1.0"/><circle cx="155.3" cy="364.5" r="1.1"/><circle cx="169.4" cy="345.7" r="0.9"/><circle cx="157.5" cy="329.0" r="0.7"/><circle cx="115.1" cy="314.4" r="0.8"/><circle cx="138.3" cy="329.7" r="1.1"/><circle cx="163.6" cy="330.0" r="1.1"/><circle cx="103.2" cy="322.3" r="1.0"/><circle cx="155.4" cy="340.2" r="0.9"/><circle cx="166.3" cy="337.9" r="0.8"/><circle cx="149.9" cy="348.2" r="1.0"/><circle cx="155.7" cy="345.7" r="0.9"/><circle cx="151.6" cy="348.6" r="0.9"/><circle cx="151.2" cy="365.7" r="0.7"/><circle cx="162.6" cy="335.3" r="0.8"/><circle cx="111.5" cy="353.9" r="1.0"/><circle cx="132.8" cy="313.2" r="0.9"/><circle cx="150.7" cy="351.7" r="1.0"/><circle cx="151.6" cy="328.2" r="0.8"/><circle cx="158.1" cy="348.0" r="1.1"/><circle cx="153.0" cy="348.8" r="1.0"/><circle cx="105.7" cy="364.0" r="0.8"/><circle cx="118.2" cy="349.2" r="1.1"/><circle cx="108.1" cy="364.0" r="0.9"/><circle cx="116.9" cy="339.0" r="1.1"/><circle cx="107.6" cy="355.1" r="0.9"/><circle cx="146.7" cy="330.2" r="1.1"/><circle cx="150.0" cy="346.4" r="1.1"/><circle cx="166.6" cy="321.7" r="0.9"/><circle cx="139.0" cy="353.1" r="1.1"/><circle cx="119.7" cy="335.5" r="1.0"/><circle cx="106.0" cy="315.0" r="1.0"/><circle cx="112.8" cy="333.2" r="0.9"/><circle cx="158.6" cy="366.7" r="1.1"/><circle cx="145.9" cy="328.8" r="1.1"/><circle cx="138.3" cy="349.2" r="1.0"/><circle cx="154.4" cy="306.2" r="1.0"/><circle cx="138.3" cy="366.0" r="0.8"/><circle cx="160.2" cy="363.5" r="0.7"/><circle cx="150.2" cy="341.4" r="1.1"/><circle cx="139.4" cy="336.7" r="0.8"/><circle cx="119.5" cy="341.6" r="0.8"/><circle cx="107.3" cy="334.3" r="1.1"/><circle cx="162.7" cy="335.1" r="1.0"/><circle cx="158.5" cy="353.3" r="0.7"/><circle cx="106.6" cy="361.9" r="0.9"/><circle cx="118.1" cy="366.1" r="0.7"/><circle cx="167.8" cy="364.1" r="1.1"/><circle cx="159.9" cy="358.6" r="0.7"/><circle cx="168.6" cy="342.9" r="0.8"/><circle cx="178.4" cy="353.3" r="1.0"/><circle cx="103.2" cy="342.7" r="1.0"/><circle cx="163.2" cy="318.6" r="0.8"/><circle cx="114.6" cy="351.0" r="0.9"/><circle cx="104.9" cy="354.7" r="0.9"/><circle cx="133.1" cy="318.8" r="1.0"/><circle cx="142.8" cy="306.8" r="0.7"/><circle cx="116.6" cy="341.9" r="0.9"/><circle cx="140.5" cy="326.4" r="1.0"/><circle cx="142.7" cy="316.8" r="1.0"/><circle cx="149.6" cy="354.6" r="1.0"/><circle cx="109.6" cy="360.6" r="1.0"/><circle cx="109.9" cy="341.4" r="0.8"/><circle cx="156.8" cy="339.3" r="0.9"/><circle cx="109.9" cy="324.0" r="1.0"/><circle cx="167.1" cy="303.6" r="0.8"/><circle cx="143.1" cy="331.7" r="1.0"/><circle cx="129.1" cy="358.8" r="1.0"/><circle cx="134.0" cy="365.0" r="1.1"/><circle cx="114.4" cy="337.9" r="0.7"/><circle cx="141.0" cy="363.7" r="1.0"/><circle cx="143.8" cy="351.9" r="0.8"/><circle cx="178.7" cy="306.7" r="1.0"/><circle cx="112.9" cy="342.5" r="0.8"/><circle cx="124.5" cy="324.5" r="1.0"/><circle cx="147.7" cy="353.0" r="0.9"/><circle cx="181.4" cy="351.3" r="0.8"/><circle cx="111.1" cy="334.7" r="1.0"/><circle cx="152.5" cy="338.7" r="0.9"/><circle cx="143.6" cy="347.9" r="1.0"/><circle cx="106.8" cy="303.3" r="1.0"/><circle cx="129.5" cy="354.0" r="0.8"/><circle cx="113.7" cy="366.8" r="1.1"/><circle cx="148.8" cy="333.8" r="0.9"/><circle cx="136.8" cy="363.6" r="0.9"/><circle cx="137.9" cy="360.1" r="0.7"/><circle cx="142.2" cy="329.8" r="0.7"/><circle cx="146.0" cy="347.6" r="0.9"/><circle cx="158.9" cy="321.7" r="1.0"/><circle cx="103.2" cy="343.5" r="1.0"/><circle cx="154.6" cy="333.2" r="0.9"/><circle cx="152.9" cy="324.1" r="0.9"/><circle cx="169.2" cy="330.8" r="1.0"/><circle cx="155.6" cy="337.1" r="1.0"/><circle cx="117.8" cy="343.7" r="1.1"/><circle cx="141.3" cy="347.6" r="1.1"/><circle cx="136.1" cy="307.8" r="0.8"/><circle cx="153.9" cy="348.2" r="1.0"/><circle cx="119.8" cy="356.4" r="0.9"/><circle cx="149.7" cy="305.2" r="0.9"/><circle cx="156.3" cy="343.0" r="1.1"/><circle cx="157.0" cy="355.5" r="1.1"/><circle cx="175.2" cy="319.6" r="0.9"/><circle cx="170.2" cy="313.2" r="1.1"/><circle cx="176.2" cy="325.1" r="0.7"/><circle cx="147.7" cy="339.8" r="0.8"/><circle cx="147.8" cy="309.4" r="1.1"/><circle cx="136.9" cy="336.4" r="1.1"/><circle cx="119.8" cy="341.7" r="1.1"/><circle cx="168.0" cy="347.6" r="1.1"/><circle cx="138.3" cy="322.9" r="1.1"/><circle cx="134.3" cy="318.6" r="0.7"/><circle cx="161.1" cy="340.1" r="0.7"/><circle cx="113.3" cy="304.2" r="1.1"/><circle cx="165.0" cy="347.3" r="1.1"/><circle cx="110.2" cy="330.2" r="0.9"/><circle cx="151.2" cy="330.0" r="0.9"/><circle cx="109.5" cy="360.6" r="1.0"/><circle cx="130.4" cy="362.6" r="0.9"/><circle cx="177.3" cy="329.8" r="1.0"/><circle cx="166.0" cy="359.3" r="0.8"/><circle cx="172.6" cy="348.1" r="1.1"/><circle cx="131.0" cy="337.3" r="1.1"/><circle cx="127.7" cy="338.3" r="0.8"/><circle cx="178.9" cy="360.0" r="1.1"/><circle cx="161.9" cy="355.5" r="1.1"/><circle cx="141.7" cy="332.4" r="1.0"/><circle cx="168.1" cy="307.8" r="1.1"/><circle cx="116.0" cy="350.0" r="0.9"/><circle cx="107.2" cy="317.7" r="1.1"/><circle cx="171.2" cy="362.6" r="1.0"/><circle cx="148.6" cy="356.7" r="0.8"/><circle cx="153.8" cy="329.5" r="1.1"/><circle cx="157.1" cy="332.3" r="0.8"/><circle cx="159.2" cy="366.8" r="0.8"/><circle cx="113.6" cy="359.3" r="1.1"/><circle cx="160.9" cy="362.0" r="0.8"/><circle cx="120.6" cy="310.4" r="0.9"/><circle cx="106.7" cy="356.2" r="0.8"/><circle cx="177.9" cy="360.7" r="1.0"/><circle cx="103.9" cy="360.4" r="0.8"/><circle cx="136.6" cy="314.7" r="0.9"/><circle cx="115.4" cy="328.7" r="0.9"/><circle cx="104.1" cy="363.3" r="0.7"/><circle cx="160.9" cy="323.7" r="0.8"/><circle cx="117.6" cy="327.0" r="1.0"/><circle cx="126.6" cy="347.1" r="1.1"/><circle cx="126.4" cy="338.5" r="1.1"/><circle cx="162.1" cy="359.2" r="0.7"/><circle cx="162.2" cy="336.8" r="0.8"/><circle cx="156.8" cy="366.5" r="0.9"/><circle cx="150.0" cy="329.6" r="1.1"/><circle cx="163.0" cy="347.0" r="0.9"/><circle cx="116.9" cy="362.5" r="0.9"/><circle cx="111.9" cy="361.3" r="0.9"/><circle cx="148.3" cy="333.6" r="0.8"/><circle cx="151.3" cy="333.7" r="0.9"/><circle cx="169.6" cy="327.4" r="0.8"/><circle cx="134.4" cy="309.1" r="0.8"/><circle cx="138.5" cy="362.2" r="0.9"/><circle cx="135.5" cy="310.0" r="1.1"/><circle cx="158.7" cy="326.3" r="1.0"/><circle cx="164.2" cy="327.1" r="1.1"/><circle cx="139.2" cy="365.9" r="1.0"/><circle cx="146.9" cy="362.7" r="1.1"/><circle cx="151.6" cy="340.4" r="1.0"/><circle cx="105.1" cy="362.2" r="1.0"/><circle cx="132.8" cy="327.3" r="1.1"/><circle cx="161.1" cy="331.9" r="1.1"/><circle cx="178.1" cy="302.8" r="0.9"/><circle cx="145.0" cy="344.8" r="0.7"/><circle cx="140.3" cy="340.4" r="1.1"/><circle cx="152.0" cy="315.2" r="0.8"/><circle cx="164.2" cy="353.2" r="1.1"/><circle cx="146.7" cy="328.8" r="1.1"/><circle cx="171.2" cy="307.8" r="1.1"/><circle cx="106.3" cy="333.2" r="1.0"/><circle cx="120.3" cy="306.5" r="0.9"/><circle cx="158.1" cy="338.3" r="0.9"/><circle cx="112.5" cy="354.3" r="1.1"/><circle cx="150.5" cy="363.0" r="1.1"/><circle cx="180.3" cy="310.7" r="1.1"/><circle cx="109.3" cy="352.9" r="1.1"/><circle cx="168.3" cy="365.7" r="0.9"/><circle cx="165.3" cy="322.2" r="1.1"/><circle cx="150.0" cy="356.7" r="1.1"/><circle cx="118.2" cy="332.8" r="0.8"/><circle cx="105.8" cy="338.0" r="1.1"/><circle cx="143.0" cy="331.2" r="0.7"/><circle cx="140.9" cy="358.5" r="0.9"/><circle cx="138.6" cy="329.0" r="0.7"/><circle cx="167.9" cy="336.9" r="0.9"/><circle cx="141.6" cy="364.8" r="0.8"/><circle cx="136.7" cy="337.3" r="1.1"/><circle cx="157.2" cy="337.3" r="1.1"/><circle cx="161.2" cy="320.8" r="0.8"/><circle cx="149.3" cy="313.0" r="1.1"/><circle cx="131.6" cy="332.0" r="0.8"/><circle cx="149.0" cy="335.2" r="1.1"/><circle cx="136.8" cy="351.9" r="0.7"/><circle cx="113.4" cy="345.1" r="1.0"/><circle cx="115.0" cy="356.9" r="1.0"/><circle cx="162.1" cy="364.7" r="1.1"/><circle cx="149.5" cy="355.9" r="0.9"/><circle cx="155.7" cy="324.9" r="0.8"/><circle cx="167.4" cy="350.0" r="0.8"/><circle cx="116.1" cy="357.9" r="0.8"/><circle cx="122.5" cy="305.7" r="0.9"/><circle cx="103.7" cy="325.2" r="0.9"/><circle cx="143.4" cy="359.6" r="0.9"/><circle cx="142.2" cy="326.0" r="1.1"/><circle cx="142.1" cy="353.7" r="1.1"/><circle cx="107.5" cy="342.8" r="0.7"/><circle cx="108.8" cy="356.2" r="0.8"/><circle cx="108.5" cy="362.6" r="0.9"/><circle cx="177.9" cy="336.0" r="0.9"/><circle cx="143.4" cy="365.2" r="0.8"/><circle cx="149.3" cy="338.1" r="0.9"/><circle cx="113.0" cy="316.3" r="0.8"/><circle cx="112.0" cy="336.2" r="1.1"/><circle cx="155.8" cy="334.6" r="1.1"/><circle cx="148.5" cy="362.9" r="0.9"/><circle cx="107.3" cy="345.6" r="1.0"/><circle cx="162.1" cy="356.4" r="0.9"/><circle cx="125.3" cy="320.8" r="0.8"/><circle cx="125.5" cy="319.8" r="1.1"/><circle cx="145.7" cy="342.6" r="0.8"/><circle cx="125.1" cy="345.6" r="0.7"/><circle cx="151.5" cy="335.1" r="1.0"/></g><g fill="#985818" opacity="0.6"><circle cx="145.9" cy="314.9" r="0.9"/><circle cx="126.5" cy="333.9" r="0.9"/><circle cx="138.0" cy="344.0" r="1.0"/><circle cx="113.7" cy="311.2" r="0.7"/><circle cx="112.9" cy="323.2" r="0.9"/><circle cx="151.9" cy="315.1" r="1.0"/><circle cx="116.7" cy="325.2" r="1.0"/><circle cx="125.1" cy="352.1" r="0.6"/><circle cx="157.5" cy="316.5" r="0.7"/><circle cx="123.2" cy="344.1" r="0.6"/><circle cx="137.5" cy="357.7" r="0.9"/><circle cx="169.1" cy="315.2" r="0.8"/><circle cx="109.6" cy="316.7" r="0.9"/><circle cx="178.0" cy="339.0" r="0.7"/><circle cx="110.4" cy="312.6" r="0.9"/><circle cx="125.3" cy="338.2" r="0.8"/><circle cx="174.0" cy="355.8" r="0.6"/><circle cx="120.0" cy="323.7" r="0.8"/><circle cx="157.7" cy="318.5" r="0.8"/><circle cx="176.2" cy="310.7" r="0.9"/><circle cx="180.9" cy="328.8" r="0.9"/><circle cx="162.5" cy="320.2" r="0.6"/><circle cx="160.9" cy="354.4" r="0.6"/><circle cx="140.8" cy="317.3" r="0.8"/><circle cx="132.9" cy="342.2" r="0.7"/><circle cx="144.5" cy="351.8" r="0.9"/><circle cx="137.5" cy="350.7" r="1.0"/><circle cx="169.0" cy="316.1" r="0.7"/><circle cx="118.0" cy="337.8" r="1.0"/><circle cx="121.4" cy="339.0" r="0.6"/><circle cx="146.8" cy="353.7" r="0.9"/><circle cx="165.4" cy="339.4" r="0.9"/><circle cx="126.4" cy="328.8" r="1.0"/><circle cx="105.4" cy="307.4" r="0.8"/><circle cx="126.3" cy="364.6" r="0.7"/><circle cx="112.2" cy="310.5" r="0.8"/><circle cx="129.3" cy="323.0" r="0.9"/><circle cx="105.2" cy="319.8" r="0.9"/><circle cx="146.2" cy="364.9" r="0.7"/><circle cx="127.7" cy="359.3" r="0.7"/><circle cx="137.9" cy="325.5" r="0.7"/><circle cx="173.1" cy="338.1" r="0.7"/><circle cx="122.0" cy="354.4" r="0.8"/><circle cx="153.5" cy="327.4" r="1.0"/><circle cx="124.0" cy="351.6" r="1.0"/><circle cx="177.5" cy="352.9" r="0.9"/><circle cx="129.8" cy="340.4" r="0.9"/><circle cx="128.1" cy="329.2" r="0.9"/><circle cx="143.4" cy="303.9" r="0.8"/><circle cx="123.5" cy="318.2" r="0.7"/><circle cx="137.3" cy="333.5" r="0.9"/><circle cx="146.9" cy="349.0" r="1.0"/><circle cx="119.3" cy="358.3" r="0.9"/><circle cx="139.7" cy="357.5" r="0.7"/><circle cx="108.5" cy="318.9" r="0.9"/><circle cx="139.2" cy="324.3" r="0.9"/><circle cx="124.4" cy="327.2" r="0.7"/><circle cx="130.5" cy="334.3" r="0.8"/><circle cx="153.6" cy="326.7" r="0.7"/><circle cx="180.3" cy="327.2" r="0.8"/><circle cx="150.1" cy="349.0" r="0.7"/><circle cx="121.9" cy="311.9" r="0.6"/><circle cx="125.5" cy="364.0" r="0.9"/><circle cx="141.1" cy="342.8" r="0.9"/><circle cx="172.7" cy="335.4" r="0.8"/><circle cx="118.1" cy="341.2" r="0.9"/><circle cx="159.2" cy="326.9" r="0.8"/><circle cx="130.0" cy="337.9" r="0.8"/><circle cx="120.0" cy="328.2" r="0.9"/><circle cx="114.9" cy="327.9" r="0.8"/><circle cx="130.9" cy="339.6" r="0.9"/><circle cx="107.6" cy="356.8" r="0.9"/><circle cx="106.9" cy="302.6" r="0.7"/><circle cx="140.4" cy="363.6" r="0.7"/><circle cx="164.6" cy="305.2" r="0.8"/><circle cx="173.9" cy="340.5" r="0.8"/><circle cx="104.1" cy="317.5" r="0.8"/><circle cx="141.8" cy="344.2" r="0.8"/><circle cx="136.0" cy="348.6" r="0.8"/><circle cx="130.2" cy="349.8" r="0.8"/><circle cx="145.0" cy="350.8" r="0.9"/><circle cx="125.5" cy="350.8" r="0.6"/><circle cx="131.1" cy="351.7" r="0.9"/><circle cx="127.2" cy="324.5" r="0.8"/><circle cx="159.0" cy="365.2" r="1.0"/><circle cx="122.7" cy="336.5" r="0.7"/><circle cx="156.7" cy="310.1" r="0.8"/><circle cx="129.9" cy="317.4" r="1.0"/><circle cx="115.5" cy="307.0" r="0.8"/><circle cx="177.6" cy="322.6" r="0.7"/><circle cx="114.3" cy="316.5" r="0.8"/><circle cx="142.8" cy="358.7" r="1.0"/><circle cx="136.3" cy="326.0" r="1.0"/><circle cx="133.2" cy="362.9" r="0.7"/><circle cx="142.4" cy="364.6" r="0.7"/><circle cx="108.0" cy="343.1" r="0.7"/><circle cx="109.0" cy="308.6" r="0.8"/><circle cx="119.1" cy="335.7" r="0.7"/><circle cx="125.7" cy="315.6" r="1.0"/><circle cx="151.4" cy="308.4" r="0.8"/><circle cx="116.5" cy="311.6" r="1.0"/><circle cx="155.0" cy="309.9" r="0.7"/><circle cx="119.5" cy="306.9" r="0.9"/><circle cx="117.3" cy="331.7" r="0.8"/><circle cx="158.0" cy="319.2" r="0.7"/><circle cx="105.7" cy="308.1" r="0.8"/><circle cx="105.9" cy="309.4" r="0.9"/><circle cx="151.3" cy="317.3" r="0.9"/><circle cx="156.7" cy="310.8" r="0.8"/><circle cx="122.2" cy="319.9" r="0.7"/><circle cx="141.3" cy="352.5" r="0.6"/><circle cx="124.5" cy="351.6" r="0.9"/><circle cx="127.1" cy="335.3" r="0.9"/><circle cx="177.3" cy="322.1" r="0.6"/><circle cx="127.4" cy="312.9" r="1.0"/><circle cx="132.2" cy="332.4" r="0.7"/><circle cx="143.5" cy="339.5" r="0.9"/><circle cx="116.7" cy="348.4" r="0.8"/><circle cx="133.0" cy="340.7" r="0.8"/><circle cx="134.8" cy="362.0" r="0.8"/><circle cx="122.6" cy="320.1" r="1.0"/><circle cx="119.1" cy="363.9" r="0.7"/><circle cx="156.0" cy="355.9" r="0.9"/><circle cx="124.7" cy="339.7" r="1.0"/><circle cx="121.7" cy="364.8" r="0.6"/><circle cx="121.2" cy="340.7" r="0.8"/><circle cx="137.7" cy="348.5" r="0.6"/><circle cx="151.6" cy="308.2" r="0.8"/><circle cx="128.4" cy="344.2" r="0.9"/><circle cx="152.5" cy="348.1" r="0.9"/></g></g>
</g>
<rect x="19.7" y="224.8" width="78.3" height="63" fill="none" stroke="#4a3a5a" stroke-width="1"/>
<rect x="102.6" y="225.5" width="79.1" height="63.1" fill="none" stroke="#4a3a5a" stroke-width="1"/>
<rect x="19.7" y="302.7" width="78.3" height="64" fill="none" stroke="#4a3a5a" stroke-width="1"/>
<rect x="102.6" y="302.5" width="79.1" height="64.7" fill="none" stroke="#4a3a5a" stroke-width="1"/>
<rect x="50.3" y="251" width="16.700000000000003" height="19" fill="none" stroke="#2a1a3a" stroke-width="1" stroke-dasharray="2.2,1.5"/>
<line x1="67" y1="251" x2="100" y2="226.5" stroke="#2a1a3a" stroke-width="0.8" stroke-dasharray="2.2,1.5"/>
<line x1="67" y1="270" x2="100" y2="288" stroke="#2a1a3a" stroke-width="0.8" stroke-dasharray="2.2,1.5"/>
<rect x="51" y="329.2" width="16.700000000000003" height="18.80000000000001" fill="none" stroke="#2a1a3a" stroke-width="1" stroke-dasharray="2.2,1.5"/>
<line x1="67.7" y1="329.2" x2="100" y2="304" stroke="#2a1a3a" stroke-width="0.8" stroke-dasharray="2.2,1.5"/>
<line x1="67.7" y1="348" x2="100" y2="366.5" stroke="#2a1a3a" stroke-width="0.8" stroke-dasharray="2.2,1.5"/>
<text x="84" y="231" font-family="Liberation Serif" font-weight="bold" font-size="6" fill="#111">20x</text>
<text x="166" y="232" font-family="Liberation Serif" font-weight="bold" font-size="6" fill="#111">40x</text>
<text x="84" y="309" font-family="Liberation Serif" font-weight="bold" font-size="6" fill="#111">20x</text>
<text x="167" y="309" font-family="Liberation Serif" font-weight="bold" font-size="6" fill="#111">60x</text>
<text x="197.2" y="205.3" font-size="12" font-weight="bold" font-style="normal" text-anchor="start" fill="#000" stroke="#000" stroke-width="0.55" >C</text>
<text x="298.7" y="219.6" font-size="9.2" font-weight="bold" font-style="normal" text-anchor="middle" fill="#000" stroke="#000" stroke-width="0.12" >BM</text>
<line x1="252.9" y1="224.9" x2="252.9" y2="285.70000000000005" stroke="#111" stroke-width="1.3"/>
<line x1="249.9" y1="285.1" x2="344.7" y2="285.1" stroke="#111" stroke-width="1.4"/>
<line x1="249.9" y1="285.1" x2="252.9" y2="285.1" stroke="#111" stroke-width="1.1"/>
<text x="246.6" y="288.0" font-size="8.4" font-weight="normal" font-style="normal" text-anchor="end" fill="#3a3a3a" stroke="#3a3a3a" stroke-width="0.28" >0%</text>
<line x1="249.9" y1="273.56" x2="252.9" y2="273.56" stroke="#111" stroke-width="1.1"/>
<text x="246.6" y="276.46" font-size="8.4" font-weight="normal" font-style="normal" text-anchor="end" fill="#3a3a3a" stroke="#3a3a3a" stroke-width="0.28" >20%</text>
<line x1="249.9" y1="262.02000000000004" x2="252.9" y2="262.02000000000004" stroke="#111" stroke-width="1.1"/>
<text x="246.6" y="264.92" font-size="8.4" font-weight="normal" font-style="normal" text-anchor="end" fill="#3a3a3a" stroke="#3a3a3a" stroke-width="0.28" >40%</text>
<line x1="249.9" y1="250.48000000000002" x2="252.9" y2="250.48000000000002" stroke="#111" stroke-width="1.1"/>
<text x="246.6" y="253.38000000000002" font-size="8.4" font-weight="normal" font-style="normal" text-anchor="end" fill="#3a3a3a" stroke="#3a3a3a" stroke-width="0.28" >60%</text>
<line x1="249.9" y1="238.94" x2="252.9" y2="238.94" stroke="#111" stroke-width="1.1"/>
<text x="246.6" y="241.84" font-size="8.4" font-weight="normal" font-style="normal" text-anchor="end" fill="#3a3a3a" stroke="#3a3a3a" stroke-width="0.28" >80%</text>
<line x1="249.9" y1="227.4" x2="252.9" y2="227.4" stroke="#111" stroke-width="1.1"/>
<text x="246.6" y="230.3" font-size="8.4" font-weight="normal" font-style="normal" text-anchor="end" fill="#3a3a3a" stroke="#3a3a3a" stroke-width="0.28" >100%</text>
<rect x="257.6" y="265" width="21.3" height="20.100000000000023" fill="#bb002c" stroke="none" stroke-width="1" />
<rect x="257.6" y="239.7" width="21.3" height="25.30000000000001" fill="#2e5593" stroke="none" stroke-width="1" />
<rect x="257.6" y="236.7" width="21.3" height="3.0" fill="#78b64a" stroke="none" stroke-width="1" />
<line x1="264.25" y1="236.5" x2="272.25" y2="236.5" stroke="#000" stroke-width="1.3"/>
<line x1="268.25" y1="236.5" x2="268.25" y2="239.5" stroke="#000" stroke-width="1.1"/>
<line x1="264.25" y1="263.8" x2="272.25" y2="263.8" stroke="#000" stroke-width="1.3"/>
<line x1="268.25" y1="263.8" x2="268.25" y2="265.3" stroke="#000" stroke-width="1.1"/>
<line x1="268.25" y1="285.1" x2="268.25" y2="288.1" stroke="#111" stroke-width="1.1"/>
<rect x="288" y="260.8" width="21.3" height="24.30000000000001" fill="#bb002c" stroke="none" stroke-width="1" />
<rect x="288" y="239.7" width="21.3" height="21.100000000000023" fill="#2e5593" stroke="none" stroke-width="1" />
<rect x="288" y="237.1" width="21.3" height="2.5999999999999943" fill="#78b64a" stroke="none" stroke-width="1" />
<line x1="294.65" y1="236.8" x2="302.65" y2="236.8" stroke="#000" stroke-width="1.3"/>
<line x1="298.65" y1="236.8" x2="298.65" y2="239.8" stroke="#000" stroke-width="1.1"/>
<line x1="294.65" y1="259" x2="302.65" y2="259" stroke="#000" stroke-width="1.3"/>
<line x1="298.65" y1="259" x2="298.65" y2="260.5" stroke="#000" stroke-width="1.1"/>
<line x1="298.65" y1="285.1" x2="298.65" y2="288.1" stroke="#111" stroke-width="1.1"/>
<rect x="318.2" y="262.1" width="21.3" height="23.0" fill="#bb002c" stroke="none" stroke-width="1" />
<rect x="318.2" y="240.9" width="21.3" height="21.200000000000017" fill="#2e5593" stroke="none" stroke-width="1" />
<rect x="318.2" y="238.4" width="21.3" height="2.5" fill="#78b64a" stroke="none" stroke-width="1" />
<line x1="324.84999999999997" y1="238.2" x2="332.84999999999997" y2="238.2" stroke="#000" stroke-width="1.3"/>
<line x1="328.84999999999997" y1="238.2" x2="328.84999999999997" y2="241.2" stroke="#000" stroke-width="1.1"/>
<line x1="324.84999999999997" y1="259.4" x2="332.84999999999997" y2="259.4" stroke="#000" stroke-width="1.3"/>
<line x1="328.84999999999997" y1="259.4" x2="328.84999999999997" y2="263.4" stroke="#000" stroke-width="1.1"/>
<line x1="328.84999999999997" y1="285.1" x2="328.84999999999997" y2="288.1" stroke="#111" stroke-width="1.1"/>
<text x="0" y="0" font-size="8.3" text-anchor="end" fill="#222" stroke="#222" stroke-width="0.25" transform="translate(269.9,296.2) rotate(-45)">WT</text>
<text x="0" y="0" font-size="8.8" text-anchor="end" fill="#222" stroke="#222" stroke-width="0.25" transform="translate(302.1,299.2) rotate(-45)"><tspan font-style="italic">B*40:02</tspan><tspan font-style="italic" font-size="5.5" dy="-2.2">mut</tspan></text>
<text x="0" y="0" font-size="8.3" text-anchor="end" fill="#222" stroke="#222" stroke-width="0.25" transform="translate(329.6,297.2) rotate(-45)">6pLOH(+)</text>
<text x="0" y="0" font-size="9.4" font-weight="normal" text-anchor="middle" fill="#2a2a2a" stroke="#2a2a2a" stroke-width="0.35" transform="translate(206.2,256.25) rotate(-90)" textLength="31.5" lengthAdjust="spacingAndGlyphs">% of total</text>
<text x="0" y="0" font-size="9.4" font-weight="normal" text-anchor="middle" fill="#2a2a2a" stroke="#2a2a2a" stroke-width="0.35" transform="translate(218.4,255.05) rotate(-90)" textLength="38.5" lengthAdjust="spacingAndGlyphs">hCD45<tspan font-size="6" dy="-3.5">+</tspan><tspan dy="3.5">cells</tspan></text>
<text x="464.2" y="220.2" font-size="9.2" font-weight="bold" font-style="normal" text-anchor="middle" fill="#000" stroke="#000" stroke-width="0.12" >Spleen</text>
<line x1="416.6" y1="226.7" x2="416.6" y2="285.70000000000005" stroke="#111" stroke-width="1.3"/>
<line x1="413.6" y1="285.1" x2="512" y2="285.1" stroke="#111" stroke-width="1.4"/>
<line x1="413.6" y1="285.1" x2="416.6" y2="285.1" stroke="#111" stroke-width="1.1"/>
<text x="410.3" y="288.0" font-size="8.4" font-weight="normal" font-style="normal" text-anchor="end" fill="#3a3a3a" stroke="#3a3a3a" stroke-width="0.28" >0%</text>
<line x1="413.6" y1="273.92" x2="416.6" y2="273.92" stroke="#111" stroke-width="1.1"/>
<text x="410.3" y="276.82" font-size="8.4" font-weight="normal" font-style="normal" text-anchor="end" fill="#3a3a3a" stroke="#3a3a3a" stroke-width="0.28" >20%</text>
<line x1="413.6" y1="262.74" x2="416.6" y2="262.74" stroke="#111" stroke-width="1.1"/>
<text x="410.3" y="265.64" font-size="8.4" font-weight="normal" font-style="normal" text-anchor="end" fill="#3a3a3a" stroke="#3a3a3a" stroke-width="0.28" >40%</text>
<line x1="413.6" y1="251.56" x2="416.6" y2="251.56" stroke="#111" stroke-width="1.1"/>
<text x="410.3" y="254.46" font-size="8.4" font-weight="normal" font-style="normal" text-anchor="end" fill="#3a3a3a" stroke="#3a3a3a" stroke-width="0.28" >60%</text>
<line x1="413.6" y1="240.38" x2="416.6" y2="240.38" stroke="#111" stroke-width="1.1"/>
<text x="410.3" y="243.28" font-size="8.4" font-weight="normal" font-style="normal" text-anchor="end" fill="#3a3a3a" stroke="#3a3a3a" stroke-width="0.28" >80%</text>
<line x1="413.6" y1="229.2" x2="416.6" y2="229.2" stroke="#111" stroke-width="1.1"/>
<text x="410.3" y="232.1" font-size="8.4" font-weight="normal" font-style="normal" text-anchor="end" fill="#3a3a3a" stroke="#3a3a3a" stroke-width="0.28" >100%</text>
<rect x="421.4" y="274" width="21.3" height="11.100000000000023" fill="#bb002c" stroke="none" stroke-width="1" />
<rect x="421.4" y="242.3" width="21.3" height="31.69999999999999" fill="#2e5593" stroke="none" stroke-width="1" />
<rect x="421.4" y="238.6" width="21.3" height="3.700000000000017" fill="#78b64a" stroke="none" stroke-width="1" />
<line x1="428.04999999999995" y1="238.6" x2="436.04999999999995" y2="238.6" stroke="#000" stroke-width="1.3"/>
<line x1="432.04999999999995" y1="238.6" x2="432.04999999999995" y2="241.1" stroke="#000" stroke-width="1.1"/>
<line x1="428.04999999999995" y1="272" x2="436.04999999999995" y2="272" stroke="#000" stroke-width="1.3"/>
<line x1="432.04999999999995" y1="272" x2="432.04999999999995" y2="273.5" stroke="#000" stroke-width="1.1"/>
<line x1="432.04999999999995" y1="285.1" x2="432.04999999999995" y2="288.1" stroke="#111" stroke-width="1.1"/>
<rect x="453.4" y="271.3" width="21.3" height="13.800000000000011" fill="#bb002c" stroke="none" stroke-width="1" />
<rect x="453.4" y="242.3" width="21.3" height="29.0" fill="#2e5593" stroke="none" stroke-width="1" />
<rect x="453.4" y="238.6" width="21.3" height="3.700000000000017" fill="#78b64a" stroke="none" stroke-width="1" />
<line x1="460.04999999999995" y1="238.6" x2="468.04999999999995" y2="238.6" stroke="#000" stroke-width="1.3"/>
<line x1="464.04999999999995" y1="238.6" x2="464.04999999999995" y2="241.1" stroke="#000" stroke-width="1.1"/>
<line x1="460.04999999999995" y1="269.6" x2="468.04999999999995" y2="269.6" stroke="#000" stroke-width="1.3"/>
<line x1="464.04999999999995" y1="269.6" x2="464.04999999999995" y2="271.1" stroke="#000" stroke-width="1.1"/>
<line x1="464.04999999999995" y1="285.1" x2="464.04999999999995" y2="288.1" stroke="#111" stroke-width="1.1"/>
<rect x="485.4" y="268.3" width="21.3" height="16.80000000000001" fill="#bb002c" stroke="none" stroke-width="1" />
<rect x="485.4" y="243.2" width="21.3" height="25.100000000000023" fill="#2e5593" stroke="none" stroke-width="1" />
<rect x="485.4" y="240" width="21.3" height="3.1999999999999886" fill="#78b64a" stroke="none" stroke-width="1" />
<line x1="492.04999999999995" y1="240.1" x2="500.04999999999995" y2="240.1" stroke="#000" stroke-width="1.3"/>
<line x1="496.04999999999995" y1="240.1" x2="496.04999999999995" y2="242.6" stroke="#000" stroke-width="1.1"/>
<line x1="492.04999999999995" y1="266.4" x2="500.04999999999995" y2="266.4" stroke="#000" stroke-width="1.3"/>
<line x1="496.04999999999995" y1="266.4" x2="496.04999999999995" y2="267.9" stroke="#000" stroke-width="1.1"/>
<line x1="496.04999999999995" y1="285.1" x2="496.04999999999995" y2="288.1" stroke="#111" stroke-width="1.1"/>
<text x="0" y="0" font-size="8.3" text-anchor="end" fill="#222" stroke="#222" stroke-width="0.25" transform="translate(433.7,296.2) rotate(-45)">WT</text>
<text x="0" y="0" font-size="8.8" text-anchor="end" fill="#222" stroke="#222" stroke-width="0.25" transform="translate(467.5,299.2) rotate(-45)"><tspan font-style="italic">B*40:02</tspan><tspan font-style="italic" font-size="5.5" dy="-2.2">mut</tspan></text>
<text x="0" y="0" font-size="8.3" text-anchor="end" fill="#222" stroke="#222" stroke-width="0.25" transform="translate(496.8,297.2) rotate(-45)">6pLOH(+)</text>
<text x="0" y="0" font-size="9.4" font-weight="normal" text-anchor="middle" fill="#2a2a2a" stroke="#2a2a2a" stroke-width="0.35" transform="translate(369.5,257.15) rotate(-90)" textLength="31.5" lengthAdjust="spacingAndGlyphs">% of total</text>
<text x="0" y="0" font-size="9.4" font-weight="normal" text-anchor="middle" fill="#2a2a2a" stroke="#2a2a2a" stroke-width="0.35" transform="translate(381.7,255.95) rotate(-90)" textLength="38.5" lengthAdjust="spacingAndGlyphs">hCD45<tspan font-size="6" dy="-3.5">+</tspan><tspan dy="3.5">cells</tspan></text>
<text x="361" y="344.5" font-size="9.2" font-weight="bold" font-style="normal" text-anchor="middle" fill="#000" stroke="#000" stroke-width="0.12" >PB</text>
<line x1="316.9" y1="351.2" x2="316.9" y2="409.20000000000005" stroke="#111" stroke-width="1.3"/>
<line x1="313.9" y1="408.6" x2="405.4" y2="408.6" stroke="#111" stroke-width="1.4"/>
<line x1="313.9" y1="408.6" x2="316.9" y2="408.6" stroke="#111" stroke-width="1.1"/>
<text x="310.59999999999997" y="411.5" font-size="8.4" font-weight="normal" font-style="normal" text-anchor="end" fill="#3a3a3a" stroke="#3a3a3a" stroke-width="0.28" >0%</text>
<line x1="313.9" y1="397.62" x2="316.9" y2="397.62" stroke="#111" stroke-width="1.1"/>
<text x="310.59999999999997" y="400.52" font-size="8.4" font-weight="normal" font-style="normal" text-anchor="end" fill="#3a3a3a" stroke="#3a3a3a" stroke-width="0.28" >20%</text>
<line x1="313.9" y1="386.64" x2="316.9" y2="386.64" stroke="#111" stroke-width="1.1"/>
<text x="310.59999999999997" y="389.53999999999996" font-size="8.4" font-weight="normal" font-style="normal" text-anchor="end" fill="#3a3a3a" stroke="#3a3a3a" stroke-width="0.28" >40%</text>
<line x1="313.9" y1="375.66" x2="316.9" y2="375.66" stroke="#111" stroke-width="1.1"/>
<text x="310.59999999999997" y="378.56" font-size="8.4" font-weight="normal" font-style="normal" text-anchor="end" fill="#3a3a3a" stroke="#3a3a3a" stroke-width="0.28" >60%</text>
<line x1="313.9" y1="364.68" x2="316.9" y2="364.68" stroke="#111" stroke-width="1.1"/>
<text x="310.59999999999997" y="367.58" font-size="8.4" font-weight="normal" font-style="normal" text-anchor="end" fill="#3a3a3a" stroke="#3a3a3a" stroke-width="0.28" >80%</text>
<line x1="313.9" y1="353.7" x2="316.9" y2="353.7" stroke="#111" stroke-width="1.1"/>
<text x="310.59999999999997" y="356.59999999999997" font-size="8.4" font-weight="normal" font-style="normal" text-anchor="end" fill="#3a3a3a" stroke="#3a3a3a" stroke-width="0.28" >100%</text>
<rect x="320.7" y="389.5" width="21.3" height="19.100000000000023" fill="#bb002c" stroke="none" stroke-width="1" />
<rect x="320.7" y="368" width="21.3" height="21.5" fill="#2e5593" stroke="none" stroke-width="1" />
<rect x="320.7" y="363.9" width="21.3" height="4.100000000000023" fill="#78b64a" stroke="none" stroke-width="1" />
<line x1="327.34999999999997" y1="364" x2="335.34999999999997" y2="364" stroke="#000" stroke-width="1.3"/>
<line x1="331.34999999999997" y1="364" x2="331.34999999999997" y2="367" stroke="#000" stroke-width="1.1"/>
<line x1="327.34999999999997" y1="387.8" x2="335.34999999999997" y2="387.8" stroke="#000" stroke-width="1.3"/>
<line x1="331.34999999999997" y1="387.8" x2="331.34999999999997" y2="389.3" stroke="#000" stroke-width="1.1"/>
<line x1="331.34999999999997" y1="408.6" x2="331.34999999999997" y2="411.6" stroke="#111" stroke-width="1.1"/>
<rect x="349.8" y="386.5" width="21.3" height="22.100000000000023" fill="#bb002c" stroke="none" stroke-width="1" />
<rect x="349.8" y="368" width="21.3" height="18.5" fill="#2e5593" stroke="none" stroke-width="1" />
<rect x="349.8" y="364.6" width="21.3" height="3.3999999999999773" fill="#78b64a" stroke="none" stroke-width="1" />
<line x1="356.45" y1="364.8" x2="364.45" y2="364.8" stroke="#000" stroke-width="1.3"/>
<line x1="360.45" y1="364.8" x2="360.45" y2="367.8" stroke="#000" stroke-width="1.1"/>
<line x1="356.45" y1="385.1" x2="364.45" y2="385.1" stroke="#000" stroke-width="1.3"/>
<line x1="360.45" y1="385.1" x2="360.45" y2="386.6" stroke="#000" stroke-width="1.1"/>
<line x1="360.45" y1="408.6" x2="360.45" y2="411.6" stroke="#111" stroke-width="1.1"/>
<rect x="379.6" y="380.4" width="21.3" height="28.200000000000045" fill="#bb002c" stroke="none" stroke-width="1" />
<rect x="379.6" y="367" width="21.3" height="13.399999999999977" fill="#2e5593" stroke="none" stroke-width="1" />
<rect x="379.6" y="365" width="21.3" height="2" fill="#78b64a" stroke="none" stroke-width="1" />
<line x1="386.25" y1="365.2" x2="394.25" y2="365.2" stroke="#000" stroke-width="1.3"/>
<line x1="390.25" y1="365.2" x2="390.25" y2="367.7" stroke="#000" stroke-width="1.1"/>
<line x1="386.25" y1="378.8" x2="394.25" y2="378.8" stroke="#000" stroke-width="1.3"/>
<line x1="390.25" y1="378.8" x2="390.25" y2="380.3" stroke="#000" stroke-width="1.1"/>
<line x1="390.25" y1="408.6" x2="390.25" y2="411.6" stroke="#111" stroke-width="1.1"/>
<text x="0" y="0" font-size="8.3" text-anchor="end" fill="#222" stroke="#222" stroke-width="0.25" transform="translate(333.0,419.7) rotate(-45)">WT</text>
<text x="0" y="0" font-size="8.8" text-anchor="end" fill="#222" stroke="#222" stroke-width="0.25" transform="translate(363.9,422.7) rotate(-45)"><tspan font-style="italic">B*40:02</tspan><tspan font-style="italic" font-size="5.5" dy="-2.2">mut</tspan></text>
<text x="0" y="0" font-size="8.3" text-anchor="end" fill="#222" stroke="#222" stroke-width="0.25" transform="translate(391.0,420.7) rotate(-45)">6pLOH(+)</text>
<text x="0" y="0" font-size="9.4" font-weight="normal" text-anchor="middle" fill="#2a2a2a" stroke="#2a2a2a" stroke-width="0.35" transform="translate(269.3,381.15) rotate(-90)" textLength="31.5" lengthAdjust="spacingAndGlyphs">% of total</text>
<text x="0" y="0" font-size="9.4" font-weight="normal" text-anchor="middle" fill="#2a2a2a" stroke="#2a2a2a" stroke-width="0.35" transform="translate(281.5,379.95) rotate(-90)" textLength="38.5" lengthAdjust="spacingAndGlyphs">hCD45<tspan font-size="6" dy="-3.5">+</tspan><tspan dy="3.5">cells</tspan></text>
<rect x="426.5" y="369.5" width="8.6" height="7.7" fill="#bb002c" stroke="none" stroke-width="1" />
<text x="438" y="376.4" font-size="8.2" font-weight="normal" font-style="normal" text-anchor="start" fill="#222" stroke="#222" stroke-width="0.12" >hCD33<tspan font-size="5.5" dy="-3.3">+</tspan></text>
<rect x="426.5" y="378.6" width="8.6" height="7.7" fill="#2e5593" stroke="none" stroke-width="1" />
<text x="438" y="385.5" font-size="8.2" font-weight="normal" font-style="normal" text-anchor="start" fill="#222" stroke="#222" stroke-width="0.12" >hCD19<tspan font-size="5.5" dy="-3.3">+</tspan></text>
<rect x="426.5" y="387.7" width="8.6" height="7.7" fill="#78b64a" stroke="none" stroke-width="1" />
<text x="438" y="394.59999999999997" font-size="8.2" font-weight="normal" font-style="normal" text-anchor="start" fill="#222" stroke="#222" stroke-width="0.12" >hCD3<tspan font-size="5.5" dy="-3.3">+</tspan></text>
<text x="8" y="394" font-size="12" font-weight="bold" font-style="normal" text-anchor="start" fill="#000" stroke="#000" stroke-width="0.55" >D</text>
<text x="40" y="406" font-size="9.2" font-weight="bold" font-style="normal" text-anchor="start" fill="#000" stroke="#000" stroke-width="0.12" textLength="41.7" lengthAdjust="spacingAndGlyphs" >Wild-type</text>
<text x="105.9" y="405.4" font-size="9.2" font-weight="bold" font-style="italic" text-anchor="start" fill="#000" stroke="#000" stroke-width="0.12" >B*40:02<tspan font-size="6.3" font-weight="normal" dy="-3.2">mut</tspan></text>
<text x="176" y="405.6" font-size="9.2" font-weight="bold" font-style="normal" text-anchor="start" fill="#000" stroke="#000" stroke-width="0.12" textLength="41.5" lengthAdjust="spacingAndGlyphs" >6pLOH(+)</text>
<defs><filter id="cb" x="-30%" y="-30%" width="160%" height="160%"><feGaussianBlur stdDeviation="0.5"/></filter></defs>
<g filter="url(#cb)">
<path d="M48.5,418 C50,415.5 55,415.8 58,417 C60,418 62,420 61.5,422.5 C60,424.5 56,424 54,422 C52,420.5 48,420.5 48.5,418 Z" fill="#eee" stroke="#aaa" stroke-width="0.8"/>
<path d="M51,418.5 C53,417.5 56,418 58,419 C59.5,420 59,421.5 57,421.3 C55,421 52.5,420.3 51,418.5 Z" fill="none" stroke="#bbb" stroke-width="0.6"/>
<ellipse cx="71" cy="422" rx="8.5" ry="4.7" fill="#777" stroke="#333" stroke-width="0.8" transform="rotate(3 71 422)"/><ellipse cx="71.08" cy="422.12" rx="7.22" ry="4.00" fill="#3a3a3a" stroke="#111" stroke-width="0.5" transform="rotate(3 71 422)"/><ellipse cx="71.16" cy="422.26" rx="5.78" ry="3.20" fill="#2a2a2a" stroke="#111" stroke-width="0.5" transform="rotate(3 71 422)"/><ellipse cx="71.25" cy="422.40" rx="4.25" ry="2.35" fill="#505050" stroke="#222" stroke-width="0.5" transform="rotate(3 71 422)"/><ellipse cx="71.34" cy="422.54" rx="2.72" ry="1.50" fill="#8a8a8a" stroke="#333" stroke-width="0.5" transform="rotate(3 71 422)"/><ellipse cx="71.42" cy="422.67" rx="1.36" ry="0.75" fill="#e0e0e0" stroke="#888" stroke-width="0.5" transform="rotate(3 71 422)"/>
<path d="M106,423.5 C107,420 113,418.5 119,417.5 C123,417 126,417.5 126.5,419 C126,421 121,422 116,423 C111,424 107,425 106,423.5 Z" fill="#e4e4e4" stroke="#888" stroke-width="0.8"/>
<ellipse cx="135.6" cy="422.5" rx="9.8" ry="5.9" fill="#777" stroke="#333" stroke-width="0.8" transform="rotate(3 135.6 422.5)"/><ellipse cx="135.48" cy="422.62" rx="8.33" ry="5.02" fill="#3a3a3a" stroke="#111" stroke-width="0.5" transform="rotate(3 135.6 422.5)"/><ellipse cx="135.34" cy="422.76" rx="6.66" ry="4.01" fill="#2a2a2a" stroke="#111" stroke-width="0.5" transform="rotate(3 135.6 422.5)"/><ellipse cx="135.20" cy="422.90" rx="4.90" ry="2.95" fill="#505050" stroke="#222" stroke-width="0.5" transform="rotate(3 135.6 422.5)"/><ellipse cx="135.06" cy="423.04" rx="3.14" ry="1.89" fill="#8a8a8a" stroke="#333" stroke-width="0.5" transform="rotate(3 135.6 422.5)"/><ellipse cx="134.93" cy="423.17" rx="1.57" ry="0.94" fill="#e0e0e0" stroke="#888" stroke-width="0.5" transform="rotate(3 135.6 422.5)"/>
<ellipse cx="183" cy="421.8" rx="12.2" ry="5" fill="#777" stroke="#333" stroke-width="0.8" transform="rotate(-14 183 421.8)"/><ellipse cx="182.55" cy="421.95" rx="10.37" ry="4.25" fill="#3a3a3a" stroke="#111" stroke-width="0.5" transform="rotate(-14 183 421.8)"/><ellipse cx="182.04" cy="422.12" rx="8.30" ry="3.40" fill="#2a2a2a" stroke="#111" stroke-width="0.5" transform="rotate(-14 183 421.8)"/><ellipse cx="181.50" cy="422.30" rx="6.10" ry="2.50" fill="#505050" stroke="#222" stroke-width="0.5" transform="rotate(-14 183 421.8)"/><ellipse cx="180.96" cy="422.48" rx="3.90" ry="1.60" fill="#8a8a8a" stroke="#333" stroke-width="0.5" transform="rotate(-14 183 421.8)"/><ellipse cx="180.48" cy="422.64" rx="1.95" ry="0.80" fill="#e0e0e0" stroke="#888" stroke-width="0.5" transform="rotate(-14 183 421.8)"/>
</g>
<path d="M36,506.2 L36.0,506.2 L36.5,506.1 L37.0,506.1 L37.5,506.0 L38.0,505.9 L38.5,505.8 L39.0,505.6 L39.5,505.3 L40.0,505.2 L40.5,505.0 L41.0,504.1 L41.5,503.9 L42.0,503.1 L42.5,503.4 L43.0,502.3 L43.5,501.3 L44.0,501.5 L44.5,499.3 L45.0,498.4 L45.5,499.6 L46.0,498.3 L46.5,494.7 L47.0,490.3 L47.5,490.2 L48.0,488.2 L48.5,483.0 L49.0,483.1 L49.5,477.8 L50.0,472.1 L50.5,468.7 L51.0,470.8 L51.5,470.4 L52.0,471.4 L52.5,470.4 L53.0,475.7 L53.5,482.3 L54.0,478.7 L54.5,485.5 L55.0,488.8 L55.5,494.3 L56.0,493.2 L56.5,495.6 L57.0,499.0 L57.5,498.8 L58.0,497.7 L58.5,497.3 L59.0,495.9 L59.5,496.7 L60.0,494.0 L60.5,493.4 L61.0,493.8 L61.5,491.2 L62.0,488.4 L62.5,487.6 L63.0,489.1 L63.5,488.4 L64.0,492.0 L64.5,491.2 L65.0,488.9 L65.5,492.2 L66.0,494.6 L66.5,494.3 L67.0,495.3 L67.5,497.0 L68.0,499.3 L68.5,500.5 L69.0,501.5 L69.5,502.2 L70.0,503.4 L70.5,504.2 L71.0,504.7 L71.5,505.3 L72.0,505.6 L72.5,505.7 L73.0,505.8 L73.5,506.0 L74.0,506.1 L74.5,506.1 L75.0,506.1 L75.5,506.2 L76.0,506.2 L76,506.2 Z" fill="#a6a6a6" stroke="#6a6a6a" stroke-width="0.6"/>
<path d="M98,506.2 L98.0,506.1 L98.5,506.0 L99.0,506.0 L99.5,506.0 L100.0,505.8 L100.5,505.6 L101.0,505.5 L101.5,505.4 L102.0,505.1 L102.5,504.8 L103.0,504.4 L103.5,504.3 L104.0,503.7 L104.5,503.3 L105.0,502.3 L105.5,501.2 L106.0,500.4 L106.5,500.4 L107.0,499.7 L107.5,499.3 L108.0,499.1 L108.5,498.2 L109.0,495.4 L109.5,494.7 L110.0,493.1 L110.5,488.7 L111.0,489.0 L111.5,486.9 L112.0,487.4 L112.5,487.3 L113.0,483.0 L113.5,482.9 L114.0,477.3 L114.5,470.0 L115.0,471.7 L115.5,476.1 L116.0,466.1 L116.5,466.3 L117.0,466.5 L117.5,464.1 L118.0,466.7 L118.5,468.8 L119.0,477.4 L119.5,475.8 L120.0,481.5 L120.5,491.7 L121.0,492.9 L121.5,496.9 L122.0,500.4 L122.5,502.4 L123.0,503.9 L123.5,504.6 L124.0,505.4 L124.5,505.6 L125.0,505.8 L125.5,505.5 L126.0,505.2 L126.5,505.0 L127.0,504.6 L127.5,504.1 L128.0,504.1 L128.5,504.4 L129.0,504.8 L129.5,505.1 L130.0,505.4 L130.5,505.8 L131.0,505.9 L131.5,506.1 L132.0,506.1 L132.5,506.2 L133.0,506.2 L133,506.2 Z" fill="#a6a6a6" stroke="#6a6a6a" stroke-width="0.6"/>
<path d="M163,506.2 L163.0,506.0 L163.5,506.0 L164.0,505.9 L164.5,505.8 L165.0,505.7 L165.5,505.6 L166.0,505.5 L166.5,505.0 L167.0,505.0 L167.5,504.8 L168.0,504.0 L168.5,504.1 L169.0,503.4 L169.5,503.3 L170.0,502.7 L170.5,502.9 L171.0,501.8 L171.5,500.9 L172.0,500.9 L172.5,499.9 L173.0,499.3 L173.5,500.1 L174.0,497.3 L174.5,496.7 L175.0,496.5 L175.5,496.4 L176.0,491.0 L176.5,491.1 L177.0,487.6 L177.5,484.2 L178.0,482.9 L178.5,478.5 L179.0,480.8 L179.5,474.4 L180.0,476.0 L180.5,468.4 L181.0,467.3 L181.5,475.8 L182.0,474.7 L182.5,473.4 L183.0,464.6 L183.5,474.4 L184.0,477.3 L184.5,485.8 L185.0,489.9 L185.5,495.4 L186.0,499.4 L186.5,501.7 L187.0,503.7 L187.5,504.8 L188.0,505.5 L188.5,505.9 L189.0,506.1 L189.5,506.1 L190.0,506.2 L190.5,506.2 L191.0,506.2 L191.5,506.2 L192.0,506.2 L192,506.2 Z" fill="#a6a6a6" stroke="#6a6a6a" stroke-width="0.6"/>
<rect x="30.2" y="411.6" width="63.6" height="38.1" fill="none" stroke="#111" stroke-width="1.3" />
<rect x="95.8" y="411.6" width="64" height="38.1" fill="none" stroke="#111" stroke-width="1.3" />
<rect x="161.5" y="411.6" width="63" height="38.1" fill="none" stroke="#111" stroke-width="1.3" />
<rect x="30.5" y="466.2" width="64.1" height="40.7" fill="none" stroke="#111" stroke-width="1.3" />
<rect x="96.3" y="466.2" width="63.5" height="40.7" fill="none" stroke="#111" stroke-width="1.3" />
<rect x="161.5" y="466.2" width="64.6" height="40.7" fill="none" stroke="#111" stroke-width="1.3" />
<rect x="61.9" y="414.8" width="20.8" height="13.8" fill="none" stroke="#666" stroke-width="0.85" />
<rect x="127.3" y="414.5" width="26.5" height="15.9" fill="none" stroke="#666" stroke-width="0.85" />
<rect x="193.5" y="414.3" width="26.9" height="16.1" fill="none" stroke="#666" stroke-width="0.85" />
<line x1="23.5" y1="437.8" x2="23.5" y2="457.3" stroke="#111" stroke-width="1.3"/>
<path d="M23.5,433.8 L20.9,439.3 L26.1,439.3 Z" fill="#111"/>
<line x1="23.5" y1="457.3" x2="53" y2="457.3" stroke="#111" stroke-width="1.3"/>
<path d="M56.8,457.3 L51,454.7 L51,459.90000000000003 Z" fill="#111"/>
<line x1="23.5" y1="495" x2="23.5" y2="515.5" stroke="#111" stroke-width="1.3"/>
<path d="M23.5,491 L20.9,496.5 L26.1,496.5 Z" fill="#111"/>
<line x1="23.5" y1="515.5" x2="53" y2="515.5" stroke="#111" stroke-width="1.3"/>
<path d="M56.8,515.5 L51,512.9 L51,518.1 Z" fill="#111"/>
<text x="62.8" y="460.9" font-size="9" font-weight="normal" font-style="normal" text-anchor="start" fill="#222" stroke="#222" stroke-width="0.28" textLength="27.2" lengthAdjust="spacingAndGlyphs" >HLA-A24</text>
<text x="62.8" y="518.6" font-size="9" font-weight="normal" font-style="normal" text-anchor="start" fill="#222" stroke="#222" stroke-width="0.28" textLength="36" lengthAdjust="spacingAndGlyphs" >HLA-B4002</text>
<text x="0" y="0" font-size="9" font-weight="normal" text-anchor="middle" fill="#222" stroke="#222" stroke-width="0.15" transform="translate(27.8,420.6) rotate(-90)" textLength="19.6" lengthAdjust="spacingAndGlyphs">FSC-A</text>
<text x="0" y="0" font-size="9" font-weight="normal" text-anchor="middle" fill="#222" stroke="#222" stroke-width="0.15" transform="translate(27.0,478.6) rotate(-90)" textLength="17.3" lengthAdjust="spacingAndGlyphs">Count</text>
<text x="243" y="463.5" font-size="12" font-weight="bold" font-style="normal" text-anchor="start" fill="#000" stroke="#000" stroke-width="0.55" >E</text>
<text x="247.1" y="479.1" font-size="9.2" font-weight="bold" font-style="normal" text-anchor="start" fill="#000" stroke="#000" stroke-width="0.12" textLength="41.2" lengthAdjust="spacingAndGlyphs" >Wild-type</text>
<text x="301.8" y="483.7" font-size="9.2" font-weight="bold" font-style="normal" text-anchor="start" fill="#000" stroke="#000" stroke-width="0.12" textLength="57.1" lengthAdjust="spacingAndGlyphs" >Giemsa stain</text>
<text x="378.9" y="478.9" font-size="9.2" font-weight="bold" font-style="normal" text-anchor="start" fill="#000" stroke="#000" stroke-width="0.12" textLength="42.4" lengthAdjust="spacingAndGlyphs" >6pLOH(+)</text>
<text x="436" y="484.5" font-size="9.2" font-weight="bold" font-style="normal" text-anchor="start" fill="#000" stroke="#000" stroke-width="0.12" textLength="56.5" lengthAdjust="spacingAndGlyphs" >Giemsa stain</text>
<defs><filter id="eb" x="0" y="0" width="100%" height="100%"><feGaussianBlur stdDeviation="0.8"/></filter><filter id="eb2" x="-30%" y="-30%" width="160%" height="160%"><feGaussianBlur stdDeviation="0.5"/></filter><clipPath id="cfu1"><rect x="242.5" y="484.5" width="52" height="72"/></clipPath><clipPath id="cfu2"><rect x="370.3" y="486.3" width="53.5" height="70.7"/></clipPath></defs>
<g clip-path="url(#cfu1)"><rect x="242.5" y="484.5" width="52.0" height="72.0" fill="#f5e4b6"/><g fill="#f9ecc4" opacity="0.6"><circle cx="266.0" cy="524.8" r="3.9"/><circle cx="290.6" cy="518.0" r="3.6"/><circle cx="268.9" cy="526.8" r="2.6"/><circle cx="252.1" cy="521.4" r="3.8"/><circle cx="275.3" cy="541.6" r="2.4"/><circle cx="247.4" cy="506.3" r="2.8"/><circle cx="247.2" cy="542.8" r="3.7"/><circle cx="278.6" cy="487.5" r="3.3"/><circle cx="293.6" cy="554.0" r="2.2"/><circle cx="276.5" cy="528.8" r="4.0"/><circle cx="250.7" cy="485.6" r="2.4"/><circle cx="270.0" cy="488.8" r="2.5"/><circle cx="252.4" cy="501.9" r="3.5"/><circle cx="244.1" cy="517.9" r="2.7"/><circle cx="265.4" cy="545.2" r="2.6"/><circle cx="269.5" cy="530.6" r="2.1"/><circle cx="268.5" cy="532.2" r="2.2"/><circle cx="266.3" cy="504.5" r="3.2"/><circle cx="294.4" cy="556.2" r="2.5"/><circle cx="286.2" cy="535.5" r="3.2"/><circle cx="258.9" cy="501.0" r="2.7"/><circle cx="257.5" cy="489.6" r="2.9"/><circle cx="282.3" cy="513.3" r="3.9"/><circle cx="286.5" cy="512.3" r="3.0"/><circle cx="292.3" cy="545.5" r="3.1"/><circle cx="242.5" cy="499.6" r="3.7"/><circle cx="289.8" cy="518.3" r="2.4"/><circle cx="293.5" cy="513.1" r="2.3"/><circle cx="246.3" cy="529.8" r="3.8"/><circle cx="283.0" cy="503.9" r="3.6"/><circle cx="247.0" cy="508.4" r="2.5"/><circle cx="292.6" cy="539.1" r="2.4"/><circle cx="248.6" cy="502.2" r="3.5"/><circle cx="247.8" cy="488.8" r="3.9"/><circle cx="283.9" cy="497.3" r="2.4"/><circle cx="271.6" cy="516.7" r="3.9"/><circle cx="252.4" cy="537.2" r="3.8"/><circle cx="249.3" cy="530.8" r="3.2"/><circle cx="248.6" cy="514.8" r="2.8"/><circle cx="253.6" cy="503.9" r="2.2"/></g><g filter="url(#eb)"><g fill="#c08030" opacity="0.5"><circle cx="292.0" cy="510.5" r="2.1"/><circle cx="285.1" cy="507.1" r="3.0"/><circle cx="283.9" cy="507.8" r="2.0"/><circle cx="285.5" cy="508.0" r="2.1"/><circle cx="281.0" cy="507.2" r="2.7"/><circle cx="281.2" cy="510.9" r="2.2"/><circle cx="282.1" cy="513.5" r="2.0"/><circle cx="281.5" cy="514.2" r="3.0"/><circle cx="282.1" cy="515.4" r="1.9"/><circle cx="257.8" cy="518.3" r="1.8"/><circle cx="265.2" cy="517.8" r="2.4"/><circle cx="273.8" cy="518.9" r="2.1"/><circle cx="272.3" cy="517.8" r="1.9"/><circle cx="274.2" cy="517.5" r="2.9"/><circle cx="280.9" cy="524.9" r="2.4"/><circle cx="280.3" cy="528.2" r="2.3"/><circle cx="280.1" cy="529.2" r="2.3"/><circle cx="278.2" cy="526.4" r="2.1"/><circle cx="284.5" cy="532.7" r="2.0"/><circle cx="287.6" cy="532.0" r="2.7"/><circle cx="283.5" cy="535.4" r="2.8"/><circle cx="281.9" cy="533.1" r="2.7"/><circle cx="273.3" cy="535.7" r="2.9"/><circle cx="276.3" cy="534.9" r="1.8"/><circle cx="271.9" cy="536.6" r="2.9"/><circle cx="269.9" cy="535.0" r="2.4"/><circle cx="258.4" cy="502.2" r="2.9"/><circle cx="266.3" cy="502.5" r="3.0"/><circle cx="257.1" cy="498.7" r="2.1"/><circle cx="271.4" cy="546.9" r="3.1"/><circle cx="259.0" cy="537.8" r="2.8"/><circle cx="267.6" cy="505.5" r="3.0"/><circle cx="250.0" cy="512.8" r="2.7"/></g></g><g filter="url(#eb2)"><g fill="#b87428" opacity="0.75"><circle cx="284.1" cy="516.9" r="0.7"/><circle cx="288.5" cy="509.3" r="0.9"/><circle cx="287.8" cy="509.8" r="0.9"/><circle cx="283.9" cy="508.1" r="0.9"/><circle cx="293.6" cy="502.6" r="1.1"/><circle cx="283.9" cy="504.5" r="0.7"/><circle cx="286.3" cy="509.1" r="1.2"/><circle cx="282.8" cy="500.2" r="0.6"/><circle cx="282.9" cy="505.9" r="1.1"/><circle cx="279.8" cy="521.5" r="0.7"/><circle cx="280.0" cy="507.3" r="1.2"/><circle cx="285.2" cy="503.4" r="1.2"/><circle cx="288.6" cy="507.3" r="1.1"/><circle cx="291.6" cy="504.7" r="0.9"/><circle cx="287.5" cy="502.0" r="1.0"/><circle cx="283.1" cy="506.5" r="1.0"/><circle cx="284.5" cy="508.0" r="1.0"/><circle cx="293.1" cy="508.7" r="1.1"/><circle cx="281.1" cy="512.8" r="1.0"/><circle cx="279.2" cy="511.5" r="0.7"/><circle cx="285.7" cy="508.1" r="1.0"/><circle cx="283.0" cy="509.3" r="1.1"/><circle cx="279.3" cy="511.2" r="1.0"/><circle cx="278.3" cy="508.6" r="1.3"/><circle cx="281.0" cy="511.8" r="0.9"/><circle cx="282.3" cy="514.5" r="0.9"/><circle cx="281.5" cy="511.8" r="0.8"/><circle cx="278.8" cy="518.6" r="1.0"/><circle cx="277.4" cy="510.0" r="0.9"/><circle cx="284.1" cy="506.5" r="0.7"/><circle cx="287.3" cy="511.7" r="0.7"/><circle cx="277.1" cy="515.5" r="1.2"/><circle cx="278.6" cy="517.3" r="1.2"/><circle cx="284.6" cy="505.7" r="0.9"/><circle cx="280.6" cy="512.0" r="1.1"/><circle cx="284.2" cy="509.3" r="1.1"/><circle cx="283.8" cy="521.5" r="1.3"/><circle cx="286.5" cy="513.4" r="1.2"/><circle cx="278.6" cy="521.2" r="1.2"/><circle cx="281.1" cy="515.2" r="0.9"/><circle cx="263.4" cy="513.9" r="0.9"/><circle cx="261.2" cy="517.1" r="1.0"/><circle cx="252.8" cy="523.0" r="1.2"/><circle cx="261.2" cy="522.4" r="0.7"/><circle cx="254.7" cy="521.0" r="1.2"/><circle cx="258.1" cy="518.8" r="0.7"/><circle cx="254.7" cy="512.8" r="0.7"/><circle cx="261.9" cy="517.6" r="0.7"/><circle cx="262.6" cy="523.8" r="0.8"/><circle cx="258.2" cy="522.3" r="0.7"/><circle cx="261.5" cy="516.5" r="1.0"/><circle cx="275.6" cy="522.4" r="1.1"/><circle cx="275.4" cy="520.0" r="1.1"/><circle cx="281.9" cy="514.8" r="0.7"/><circle cx="265.7" cy="519.6" r="1.0"/><circle cx="271.6" cy="517.6" r="0.6"/><circle cx="273.6" cy="520.4" r="1.0"/><circle cx="267.3" cy="519.3" r="0.7"/><circle cx="273.8" cy="522.0" r="1.2"/><circle cx="282.2" cy="519.3" r="0.7"/><circle cx="282.1" cy="523.1" r="0.9"/><circle cx="273.0" cy="516.6" r="0.9"/><circle cx="268.3" cy="519.4" r="1.0"/><circle cx="279.1" cy="520.2" r="1.2"/><circle cx="285.5" cy="527.3" r="0.8"/><circle cx="277.9" cy="525.2" r="1.0"/><circle cx="268.5" cy="539.0" r="1.0"/><circle cx="278.6" cy="523.3" r="1.3"/><circle cx="285.4" cy="529.9" r="1.1"/><circle cx="280.3" cy="532.8" r="0.6"/><circle cx="281.6" cy="532.4" r="0.7"/><circle cx="280.4" cy="537.0" r="1.0"/><circle cx="271.0" cy="528.7" r="1.0"/><circle cx="285.6" cy="529.0" r="1.2"/><circle cx="284.8" cy="531.4" r="1.1"/><circle cx="288.5" cy="531.5" r="0.7"/><circle cx="278.3" cy="529.5" r="0.9"/><circle cx="279.5" cy="528.3" r="1.3"/><circle cx="276.5" cy="531.2" r="1.0"/><circle cx="278.5" cy="531.3" r="1.1"/><circle cx="277.7" cy="528.0" r="1.1"/><circle cx="280.3" cy="529.7" r="0.8"/><circle cx="284.7" cy="532.3" r="0.8"/><circle cx="291.5" cy="533.4" r="1.2"/><circle cx="285.7" cy="534.4" r="0.8"/><circle cx="280.7" cy="536.0" r="0.7"/><circle cx="283.5" cy="533.9" r="0.7"/><circle cx="282.9" cy="530.9" r="1.0"/><circle cx="282.1" cy="536.5" r="0.7"/><circle cx="281.8" cy="538.1" r="1.2"/><circle cx="286.0" cy="534.8" r="1.2"/><circle cx="280.8" cy="530.7" r="0.7"/><circle cx="282.5" cy="535.2" r="1.2"/><circle cx="281.5" cy="537.3" r="1.3"/><circle cx="282.8" cy="537.4" r="1.1"/><circle cx="287.5" cy="532.7" r="0.9"/><circle cx="289.8" cy="537.5" r="0.7"/><circle cx="288.1" cy="536.0" r="0.9"/><circle cx="283.6" cy="532.0" r="1.1"/><circle cx="270.2" cy="535.9" r="1.0"/><circle cx="279.9" cy="535.2" r="1.2"/><circle cx="279.0" cy="538.1" r="1.2"/><circle cx="276.0" cy="537.1" r="1.1"/><circle cx="276.0" cy="535.4" r="1.0"/><circle cx="278.5" cy="541.0" r="1.1"/><circle cx="274.8" cy="538.9" r="1.1"/><circle cx="268.6" cy="535.5" r="0.9"/><circle cx="269.7" cy="544.4" r="1.1"/><circle cx="270.2" cy="536.5" r="1.1"/><circle cx="272.6" cy="528.6" r="0.9"/><circle cx="263.6" cy="530.2" r="0.6"/><circle cx="271.1" cy="535.6" r="0.8"/><circle cx="270.0" cy="539.9" r="1.0"/><circle cx="269.9" cy="536.5" r="0.8"/><circle cx="272.0" cy="539.5" r="0.8"/><circle cx="264.1" cy="532.2" r="0.9"/><circle cx="269.1" cy="541.7" r="1.2"/><circle cx="267.4" cy="538.0" r="1.3"/><circle cx="267.3" cy="534.5" r="0.6"/><circle cx="274.8" cy="532.1" r="0.9"/><circle cx="261.0" cy="501.2" r="0.8"/><circle cx="259.7" cy="500.9" r="0.9"/><circle cx="248.7" cy="504.3" r="1.0"/><circle cx="262.7" cy="500.1" r="1.2"/><circle cx="251.1" cy="506.5" r="0.7"/><circle cx="261.7" cy="500.3" r="1.0"/><circle cx="257.5" cy="502.2" r="1.2"/><circle cx="258.7" cy="505.4" r="0.7"/><circle cx="249.3" cy="496.9" r="0.9"/><circle cx="248.5" cy="498.2" r="0.8"/><circle cx="247.1" cy="502.2" r="0.8"/><circle cx="253.9" cy="504.5" r="0.8"/><circle cx="256.9" cy="497.3" r="1.1"/><circle cx="248.0" cy="504.8" r="0.7"/><circle cx="268.8" cy="547.9" r="1.1"/><circle cx="272.8" cy="541.1" r="0.9"/><circle cx="270.6" cy="549.0" r="0.6"/><circle cx="268.2" cy="549.0" r="1.3"/><circle cx="273.3" cy="542.3" r="1.0"/><circle cx="274.9" cy="546.7" r="0.8"/><circle cx="263.9" cy="537.5" r="1.1"/><circle cx="261.2" cy="536.1" r="1.3"/><circle cx="258.7" cy="536.4" r="0.7"/><circle cx="260.3" cy="541.6" r="1.1"/><circle cx="256.8" cy="543.6" r="0.9"/><circle cx="266.9" cy="512.1" r="0.8"/><circle cx="263.2" cy="503.7" r="0.7"/><circle cx="267.3" cy="505.8" r="0.6"/><circle cx="272.4" cy="513.8" r="1.3"/><circle cx="267.0" cy="504.0" r="1.1"/><circle cx="268.3" cy="503.3" r="1.0"/><circle cx="254.3" cy="520.5" r="1.0"/><circle cx="247.7" cy="514.0" r="1.0"/><circle cx="248.7" cy="507.7" r="1.1"/><circle cx="241.9" cy="514.3" r="1.2"/><circle cx="251.9" cy="510.4" r="0.9"/></g><g fill="#8a4a14" opacity="0.7"><circle cx="281.6" cy="509.0" r="1.1"/><circle cx="285.6" cy="509.4" r="0.7"/><circle cx="284.8" cy="507.2" r="0.6"/><circle cx="289.2" cy="506.6" r="0.8"/><circle cx="287.7" cy="507.4" r="0.9"/><circle cx="286.6" cy="511.9" r="1.0"/><circle cx="290.8" cy="505.9" r="0.7"/><circle cx="283.5" cy="507.7" r="0.6"/><circle cx="280.1" cy="509.1" r="1.0"/><circle cx="283.9" cy="502.1" r="0.7"/><circle cx="287.2" cy="511.7" r="0.7"/><circle cx="286.3" cy="511.9" r="0.9"/><circle cx="283.1" cy="509.1" r="1.0"/><circle cx="288.8" cy="508.6" r="0.5"/><circle cx="291.5" cy="510.1" r="0.5"/><circle cx="277.3" cy="512.5" r="0.8"/><circle cx="287.2" cy="515.0" r="0.5"/><circle cx="282.6" cy="512.3" r="0.7"/><circle cx="282.4" cy="512.5" r="0.6"/><circle cx="277.4" cy="513.5" r="1.0"/><circle cx="279.4" cy="507.6" r="0.8"/><circle cx="283.2" cy="513.6" r="0.6"/><circle cx="279.6" cy="513.6" r="0.9"/><circle cx="279.7" cy="511.3" r="1.0"/><circle cx="279.7" cy="513.1" r="0.7"/><circle cx="285.5" cy="508.9" r="0.6"/><circle cx="286.5" cy="507.9" r="0.8"/><circle cx="280.3" cy="513.2" r="0.8"/><circle cx="261.7" cy="520.3" r="0.8"/><circle cx="258.8" cy="519.4" r="0.7"/><circle cx="259.8" cy="518.0" r="0.6"/><circle cx="258.5" cy="515.3" r="0.8"/><circle cx="264.5" cy="515.2" r="1.0"/><circle cx="262.3" cy="523.0" r="1.0"/><circle cx="264.1" cy="516.9" r="0.7"/><circle cx="263.8" cy="517.4" r="1.1"/><circle cx="274.2" cy="522.7" r="0.9"/><circle cx="270.8" cy="520.8" r="0.6"/><circle cx="272.1" cy="519.7" r="1.0"/><circle cx="274.3" cy="515.5" r="1.0"/><circle cx="270.3" cy="517.7" r="0.9"/><circle cx="263.2" cy="519.6" r="1.0"/><circle cx="272.3" cy="526.1" r="0.9"/><circle cx="273.7" cy="514.6" r="0.7"/><circle cx="278.1" cy="516.2" r="0.9"/><circle cx="282.1" cy="529.6" r="1.0"/><circle cx="275.7" cy="533.1" r="0.9"/><circle cx="288.8" cy="531.8" r="1.1"/><circle cx="286.1" cy="531.9" r="0.8"/><circle cx="272.7" cy="530.2" r="0.6"/><circle cx="273.7" cy="528.1" r="0.9"/><circle cx="272.5" cy="530.7" r="1.0"/><circle cx="279.3" cy="528.3" r="0.9"/><circle cx="278.6" cy="529.7" r="0.5"/><circle cx="279.0" cy="528.9" r="0.8"/><circle cx="278.9" cy="526.4" r="0.7"/><circle cx="277.8" cy="527.7" r="1.0"/><circle cx="270.5" cy="527.2" r="1.1"/><circle cx="286.2" cy="534.9" r="0.9"/><circle cx="286.5" cy="535.1" r="0.9"/><circle cx="283.9" cy="532.4" r="0.6"/><circle cx="282.1" cy="537.1" r="0.7"/><circle cx="287.5" cy="536.6" r="0.8"/><circle cx="289.8" cy="531.5" r="1.0"/><circle cx="280.5" cy="535.8" r="0.7"/><circle cx="283.6" cy="536.3" r="1.1"/><circle cx="286.1" cy="533.1" r="0.7"/><circle cx="283.0" cy="535.8" r="0.7"/><circle cx="283.4" cy="535.2" r="0.8"/><circle cx="285.5" cy="531.4" r="1.0"/><circle cx="276.7" cy="532.6" r="1.0"/><circle cx="276.6" cy="531.2" r="1.0"/><circle cx="278.8" cy="535.3" r="0.8"/><circle cx="273.4" cy="531.3" r="0.8"/><circle cx="273.3" cy="537.1" r="0.9"/><circle cx="277.6" cy="536.2" r="0.6"/><circle cx="275.6" cy="539.2" r="0.7"/><circle cx="275.7" cy="536.1" r="0.7"/><circle cx="266.6" cy="533.6" r="0.7"/><circle cx="273.2" cy="533.9" r="0.6"/><circle cx="272.4" cy="534.4" r="0.7"/><circle cx="270.7" cy="529.8" r="0.9"/><circle cx="270.3" cy="535.6" r="0.7"/><circle cx="269.2" cy="540.0" r="0.8"/><circle cx="264.4" cy="527.3" r="0.7"/><circle cx="258.7" cy="505.5" r="0.9"/><circle cx="256.6" cy="505.9" r="0.6"/><circle cx="256.9" cy="504.5" r="1.1"/><circle cx="262.8" cy="498.8" r="0.5"/><circle cx="256.0" cy="505.7" r="0.6"/><circle cx="256.4" cy="501.3" r="0.5"/><circle cx="252.8" cy="499.9" r="0.9"/><circle cx="251.3" cy="497.1" r="0.7"/><circle cx="254.2" cy="495.6" r="0.6"/><circle cx="252.1" cy="500.6" r="0.6"/><circle cx="271.4" cy="545.5" r="0.7"/><circle cx="267.7" cy="546.2" r="1.0"/><circle cx="271.0" cy="545.5" r="1.0"/><circle cx="274.7" cy="544.8" r="0.7"/><circle cx="258.9" cy="538.1" r="1.1"/><circle cx="263.7" cy="541.5" r="0.8"/><circle cx="257.2" cy="536.7" r="0.7"/><circle cx="266.7" cy="533.9" r="1.0"/><circle cx="268.7" cy="505.7" r="0.6"/><circle cx="267.1" cy="506.4" r="0.7"/><circle cx="267.1" cy="505.5" r="0.8"/><circle cx="268.2" cy="509.1" r="0.7"/><circle cx="246.2" cy="510.8" r="0.8"/><circle cx="248.1" cy="512.8" r="1.0"/><circle cx="250.0" cy="514.2" r="0.9"/></g></g></g><rect x="242.5" y="484.5" width="52.0" height="72.0" fill="none" stroke="#2a2418" stroke-width="1"/>
<g clip-path="url(#cfu2)"><rect x="370.3" y="486.3" width="53.5" height="70.69999999999999" fill="#f5e4b6"/><g fill="#f9ecc4" opacity="0.6"><circle cx="418.5" cy="538.1" r="2.6"/><circle cx="402.3" cy="539.5" r="3.4"/><circle cx="386.6" cy="528.3" r="2.4"/><circle cx="374.0" cy="495.1" r="2.4"/><circle cx="394.2" cy="521.8" r="2.5"/><circle cx="391.5" cy="490.0" r="3.3"/><circle cx="407.5" cy="523.5" r="3.6"/><circle cx="383.1" cy="508.0" r="2.7"/><circle cx="391.5" cy="503.0" r="3.3"/><circle cx="374.0" cy="550.7" r="3.8"/><circle cx="422.0" cy="533.4" r="3.2"/><circle cx="416.7" cy="516.1" r="2.5"/><circle cx="413.4" cy="502.0" r="2.6"/><circle cx="410.2" cy="526.4" r="3.9"/><circle cx="418.6" cy="493.3" r="3.3"/><circle cx="412.7" cy="495.1" r="2.6"/><circle cx="399.1" cy="553.5" r="3.3"/><circle cx="370.3" cy="503.5" r="2.2"/><circle cx="386.3" cy="509.3" r="4.0"/><circle cx="373.7" cy="549.6" r="2.9"/><circle cx="413.9" cy="514.4" r="3.1"/><circle cx="389.4" cy="527.7" r="3.1"/><circle cx="372.8" cy="488.5" r="2.1"/><circle cx="418.4" cy="508.1" r="3.2"/><circle cx="397.0" cy="552.3" r="2.6"/><circle cx="422.6" cy="519.7" r="2.5"/><circle cx="381.3" cy="507.2" r="3.6"/><circle cx="419.7" cy="549.7" r="2.2"/><circle cx="380.8" cy="545.5" r="2.6"/><circle cx="389.2" cy="519.7" r="3.5"/><circle cx="379.5" cy="548.5" r="2.5"/><circle cx="423.6" cy="500.6" r="2.6"/><circle cx="404.1" cy="499.8" r="3.1"/><circle cx="417.4" cy="489.8" r="2.4"/><circle cx="376.0" cy="537.6" r="3.8"/><circle cx="387.0" cy="550.0" r="4.0"/><circle cx="416.8" cy="536.7" r="2.1"/><circle cx="377.5" cy="535.5" r="2.9"/><circle cx="420.5" cy="517.8" r="3.5"/><circle cx="374.5" cy="502.1" r="2.8"/></g><g filter="url(#eb)"><g fill="#c08030" opacity="0.5"><circle cx="392.6" cy="495.9" r="2.1"/><circle cx="384.5" cy="495.9" r="2.3"/><circle cx="385.8" cy="494.0" r="2.5"/><circle cx="398.2" cy="508.1" r="2.8"/><circle cx="394.6" cy="509.7" r="2.6"/><circle cx="380.4" cy="511.3" r="3.1"/><circle cx="382.6" cy="515.6" r="2.3"/><circle cx="385.3" cy="517.8" r="2.3"/><circle cx="380.4" cy="512.3" r="1.9"/><circle cx="392.3" cy="519.6" r="2.7"/><circle cx="389.1" cy="524.4" r="2.2"/><circle cx="394.7" cy="518.6" r="2.3"/><circle cx="392.4" cy="522.7" r="2.0"/><circle cx="388.2" cy="525.7" r="1.9"/><circle cx="380.7" cy="527.5" r="1.9"/><circle cx="380.0" cy="532.6" r="3.2"/><circle cx="382.7" cy="530.2" r="1.8"/><circle cx="394.7" cy="537.0" r="2.3"/><circle cx="391.7" cy="532.1" r="2.3"/><circle cx="392.8" cy="533.7" r="2.2"/><circle cx="396.3" cy="534.1" r="1.9"/><circle cx="406.1" cy="542.9" r="2.4"/><circle cx="400.3" cy="538.4" r="2.1"/><circle cx="405.3" cy="542.1" r="1.9"/><circle cx="401.2" cy="538.1" r="2.5"/><circle cx="410.3" cy="542.6" r="3.1"/><circle cx="413.6" cy="543.9" r="2.3"/><circle cx="410.8" cy="540.0" r="2.3"/><circle cx="416.6" cy="540.0" r="1.8"/><circle cx="403.9" cy="544.9" r="1.9"/><circle cx="401.2" cy="545.2" r="3.1"/><circle cx="408.4" cy="517.4" r="2.4"/><circle cx="422.6" cy="537.5" r="1.9"/><circle cx="404.4" cy="496.5" r="2.3"/></g></g><g filter="url(#eb2)"><g fill="#b87428" opacity="0.75"><circle cx="379.7" cy="496.7" r="1.1"/><circle cx="377.3" cy="496.0" r="0.7"/><circle cx="389.6" cy="495.2" r="1.0"/><circle cx="389.5" cy="499.9" r="1.1"/><circle cx="391.0" cy="492.0" r="0.8"/><circle cx="385.6" cy="497.0" r="1.0"/><circle cx="387.7" cy="496.9" r="1.0"/><circle cx="387.6" cy="493.3" r="1.2"/><circle cx="390.2" cy="498.4" r="0.6"/><circle cx="383.9" cy="497.0" r="0.9"/><circle cx="388.3" cy="502.0" r="0.7"/><circle cx="394.2" cy="494.9" r="1.0"/><circle cx="389.9" cy="494.9" r="0.7"/><circle cx="388.5" cy="497.7" r="0.8"/><circle cx="384.8" cy="494.5" r="0.8"/><circle cx="394.6" cy="511.4" r="1.3"/><circle cx="392.5" cy="510.2" r="1.3"/><circle cx="393.7" cy="507.7" r="0.9"/><circle cx="393.7" cy="507.4" r="0.8"/><circle cx="392.2" cy="502.9" r="1.0"/><circle cx="397.1" cy="506.2" r="0.9"/><circle cx="396.1" cy="505.9" r="1.1"/><circle cx="395.0" cy="510.8" r="0.7"/><circle cx="392.5" cy="507.7" r="0.7"/><circle cx="395.2" cy="511.3" r="0.8"/><circle cx="377.4" cy="516.9" r="0.6"/><circle cx="383.3" cy="519.1" r="0.6"/><circle cx="378.2" cy="518.7" r="1.0"/><circle cx="384.3" cy="519.5" r="0.8"/><circle cx="379.0" cy="510.1" r="0.7"/><circle cx="380.9" cy="518.0" r="1.1"/><circle cx="376.4" cy="517.2" r="1.2"/><circle cx="380.5" cy="518.2" r="0.8"/><circle cx="380.2" cy="516.3" r="0.6"/><circle cx="376.2" cy="512.0" r="1.2"/><circle cx="383.5" cy="514.8" r="1.1"/><circle cx="382.5" cy="514.1" r="1.1"/><circle cx="374.6" cy="507.7" r="1.2"/><circle cx="380.5" cy="520.3" r="0.7"/><circle cx="376.1" cy="516.8" r="0.6"/><circle cx="377.1" cy="517.4" r="0.9"/><circle cx="379.5" cy="517.3" r="0.9"/><circle cx="388.0" cy="522.9" r="0.9"/><circle cx="394.1" cy="522.8" r="0.7"/><circle cx="392.6" cy="528.4" r="0.8"/><circle cx="397.1" cy="523.1" r="0.9"/><circle cx="392.0" cy="527.2" r="1.1"/><circle cx="386.0" cy="521.6" r="1.0"/><circle cx="397.2" cy="514.9" r="0.8"/><circle cx="386.6" cy="529.1" r="0.8"/><circle cx="390.3" cy="517.7" r="1.1"/><circle cx="399.5" cy="521.6" r="0.7"/><circle cx="388.1" cy="520.2" r="1.0"/><circle cx="389.3" cy="525.2" r="1.1"/><circle cx="388.6" cy="522.5" r="0.8"/><circle cx="390.5" cy="525.0" r="1.0"/><circle cx="392.8" cy="524.0" r="0.6"/><circle cx="397.1" cy="526.4" r="0.7"/><circle cx="384.7" cy="524.9" r="0.9"/><circle cx="376.9" cy="527.6" r="0.9"/><circle cx="378.6" cy="534.6" r="1.2"/><circle cx="380.2" cy="532.2" r="1.0"/><circle cx="382.0" cy="518.8" r="0.9"/><circle cx="379.4" cy="524.5" r="1.2"/><circle cx="382.4" cy="530.5" r="0.7"/><circle cx="383.6" cy="527.6" r="0.9"/><circle cx="383.4" cy="530.9" r="0.6"/><circle cx="379.1" cy="527.9" r="1.0"/><circle cx="380.6" cy="531.2" r="0.9"/><circle cx="379.1" cy="530.8" r="0.6"/><circle cx="388.3" cy="531.7" r="0.8"/><circle cx="383.1" cy="529.8" r="0.9"/><circle cx="383.5" cy="528.7" r="1.2"/><circle cx="377.1" cy="529.1" r="1.2"/><circle cx="380.0" cy="529.5" r="1.0"/><circle cx="378.1" cy="524.6" r="0.8"/><circle cx="391.2" cy="539.1" r="0.7"/><circle cx="394.2" cy="531.5" r="1.1"/><circle cx="395.2" cy="536.3" r="0.7"/><circle cx="392.0" cy="537.5" r="0.6"/><circle cx="390.6" cy="535.0" r="0.8"/><circle cx="385.4" cy="533.5" r="0.7"/><circle cx="396.8" cy="533.4" r="1.1"/><circle cx="403.0" cy="540.4" r="0.9"/><circle cx="396.9" cy="534.6" r="0.9"/><circle cx="393.7" cy="533.4" r="0.8"/><circle cx="390.4" cy="528.9" r="0.8"/><circle cx="395.8" cy="537.5" r="1.3"/><circle cx="397.5" cy="538.3" r="0.9"/><circle cx="392.8" cy="533.5" r="1.0"/><circle cx="400.0" cy="531.5" r="1.0"/><circle cx="389.5" cy="535.0" r="0.7"/><circle cx="397.4" cy="531.4" r="0.9"/><circle cx="406.5" cy="544.4" r="1.2"/><circle cx="406.8" cy="535.8" r="1.2"/><circle cx="406.9" cy="537.8" r="0.9"/><circle cx="407.1" cy="539.8" r="0.8"/><circle cx="411.5" cy="535.3" r="0.7"/><circle cx="407.9" cy="541.9" r="1.2"/><circle cx="399.3" cy="535.2" r="0.7"/><circle cx="409.0" cy="539.2" r="1.0"/><circle cx="411.1" cy="536.1" r="0.7"/><circle cx="403.9" cy="536.7" r="0.6"/><circle cx="404.2" cy="541.4" r="1.0"/><circle cx="405.1" cy="543.1" r="1.1"/><circle cx="407.1" cy="540.7" r="1.1"/><circle cx="403.9" cy="539.6" r="0.7"/><circle cx="411.6" cy="537.9" r="0.9"/><circle cx="410.8" cy="548.0" r="1.1"/><circle cx="405.8" cy="536.7" r="0.8"/><circle cx="404.1" cy="540.2" r="1.0"/><circle cx="408.7" cy="540.5" r="0.9"/><circle cx="408.3" cy="543.4" r="1.1"/><circle cx="403.7" cy="538.2" r="1.3"/><circle cx="415.2" cy="542.7" r="1.2"/><circle cx="408.1" cy="539.3" r="1.3"/><circle cx="415.3" cy="544.1" r="0.9"/><circle cx="410.0" cy="541.2" r="1.3"/><circle cx="412.4" cy="545.5" r="0.7"/><circle cx="406.6" cy="545.7" r="0.7"/><circle cx="414.2" cy="546.4" r="1.0"/><circle cx="411.4" cy="540.7" r="1.2"/><circle cx="410.7" cy="538.0" r="0.7"/><circle cx="410.8" cy="543.0" r="1.2"/><circle cx="419.0" cy="540.8" r="0.6"/><circle cx="408.7" cy="545.7" r="1.0"/><circle cx="416.6" cy="546.1" r="0.8"/><circle cx="409.6" cy="542.8" r="1.0"/><circle cx="399.3" cy="547.2" r="1.1"/><circle cx="408.2" cy="539.8" r="1.0"/><circle cx="393.2" cy="544.2" r="0.9"/><circle cx="399.5" cy="548.7" r="0.8"/><circle cx="398.7" cy="546.5" r="0.9"/><circle cx="398.8" cy="546.6" r="0.9"/><circle cx="408.1" cy="545.9" r="0.6"/><circle cx="396.7" cy="543.7" r="0.9"/><circle cx="401.6" cy="545.5" r="0.9"/><circle cx="399.6" cy="547.3" r="0.8"/><circle cx="410.6" cy="511.7" r="0.8"/><circle cx="408.3" cy="512.8" r="1.3"/><circle cx="410.0" cy="511.7" r="0.8"/><circle cx="410.8" cy="509.4" r="1.0"/><circle cx="413.1" cy="515.5" r="0.6"/><circle cx="419.0" cy="534.9" r="1.1"/><circle cx="416.4" cy="540.1" r="0.9"/><circle cx="420.2" cy="539.6" r="1.1"/><circle cx="419.6" cy="538.5" r="1.2"/><circle cx="416.8" cy="534.8" r="0.7"/><circle cx="399.6" cy="491.9" r="0.9"/><circle cx="401.4" cy="494.2" r="1.1"/><circle cx="405.9" cy="498.3" r="0.7"/><circle cx="400.9" cy="495.5" r="0.8"/><circle cx="403.7" cy="497.9" r="1.0"/><circle cx="399.8" cy="495.9" r="1.0"/></g><g fill="#8a4a14" opacity="0.7"><circle cx="387.6" cy="496.4" r="1.0"/><circle cx="390.4" cy="498.4" r="0.6"/><circle cx="386.4" cy="492.9" r="1.0"/><circle cx="392.7" cy="497.8" r="0.7"/><circle cx="391.2" cy="502.8" r="0.5"/><circle cx="382.5" cy="497.2" r="1.1"/><circle cx="391.6" cy="498.9" r="0.9"/><circle cx="391.8" cy="497.3" r="1.0"/><circle cx="391.4" cy="498.7" r="0.7"/><circle cx="387.7" cy="497.3" r="0.5"/><circle cx="386.7" cy="510.6" r="0.9"/><circle cx="395.5" cy="507.1" r="0.7"/><circle cx="397.9" cy="509.7" r="0.7"/><circle cx="394.3" cy="508.6" r="0.6"/><circle cx="394.2" cy="510.5" r="1.1"/><circle cx="393.9" cy="506.5" r="0.7"/><circle cx="397.8" cy="512.6" r="0.7"/><circle cx="377.9" cy="515.6" r="0.9"/><circle cx="380.0" cy="516.5" r="0.7"/><circle cx="378.2" cy="516.0" r="0.8"/><circle cx="378.6" cy="511.9" r="0.9"/><circle cx="383.3" cy="515.7" r="0.7"/><circle cx="383.1" cy="516.4" r="0.5"/><circle cx="375.4" cy="515.4" r="0.8"/><circle cx="378.7" cy="517.2" r="0.5"/><circle cx="375.8" cy="520.2" r="0.8"/><circle cx="379.6" cy="519.5" r="0.6"/><circle cx="375.3" cy="516.0" r="1.1"/><circle cx="377.0" cy="518.1" r="1.1"/><circle cx="395.3" cy="527.9" r="1.0"/><circle cx="394.2" cy="523.8" r="0.8"/><circle cx="392.7" cy="520.4" r="0.9"/><circle cx="391.6" cy="527.5" r="0.7"/><circle cx="388.8" cy="527.2" r="1.0"/><circle cx="393.8" cy="519.8" r="0.8"/><circle cx="390.4" cy="519.3" r="1.0"/><circle cx="392.3" cy="521.7" r="0.7"/><circle cx="390.5" cy="521.3" r="0.6"/><circle cx="396.2" cy="523.4" r="1.1"/><circle cx="393.5" cy="522.8" r="0.9"/><circle cx="387.5" cy="525.0" r="0.7"/><circle cx="386.6" cy="526.6" r="1.1"/><circle cx="375.7" cy="530.6" r="0.9"/><circle cx="381.3" cy="529.3" r="0.6"/><circle cx="381.9" cy="529.5" r="0.7"/><circle cx="381.1" cy="526.3" r="0.8"/><circle cx="383.1" cy="528.8" r="1.1"/><circle cx="384.7" cy="529.0" r="1.0"/><circle cx="382.3" cy="524.3" r="0.7"/><circle cx="382.8" cy="523.7" r="1.0"/><circle cx="382.4" cy="528.6" r="1.1"/><circle cx="377.2" cy="531.3" r="0.7"/><circle cx="381.6" cy="528.4" r="0.8"/><circle cx="392.8" cy="533.0" r="0.7"/><circle cx="394.9" cy="538.1" r="0.8"/><circle cx="393.6" cy="535.0" r="0.9"/><circle cx="390.6" cy="536.1" r="0.9"/><circle cx="395.9" cy="534.5" r="0.8"/><circle cx="399.3" cy="534.9" r="0.7"/><circle cx="393.6" cy="528.3" r="0.7"/><circle cx="395.4" cy="534.2" r="1.1"/><circle cx="392.2" cy="535.2" r="1.0"/><circle cx="390.2" cy="530.8" r="1.0"/><circle cx="395.4" cy="532.5" r="1.1"/><circle cx="399.9" cy="536.9" r="0.9"/><circle cx="400.5" cy="541.2" r="0.7"/><circle cx="402.2" cy="540.0" r="1.1"/><circle cx="403.1" cy="542.2" r="0.6"/><circle cx="403.7" cy="538.4" r="1.0"/><circle cx="404.6" cy="543.7" r="0.9"/><circle cx="398.5" cy="540.8" r="0.7"/><circle cx="405.9" cy="536.3" r="0.8"/><circle cx="409.4" cy="540.3" r="0.7"/><circle cx="398.2" cy="541.4" r="0.7"/><circle cx="404.4" cy="536.1" r="0.6"/><circle cx="404.6" cy="540.0" r="1.0"/><circle cx="406.1" cy="541.7" r="0.7"/><circle cx="409.0" cy="535.3" r="0.9"/><circle cx="412.4" cy="543.6" r="0.8"/><circle cx="410.1" cy="546.6" r="0.6"/><circle cx="410.6" cy="543.2" r="0.6"/><circle cx="407.8" cy="543.7" r="0.8"/><circle cx="412.3" cy="542.0" r="1.0"/><circle cx="416.0" cy="547.8" r="0.8"/><circle cx="408.1" cy="544.6" r="1.0"/><circle cx="414.5" cy="542.3" r="0.5"/><circle cx="414.6" cy="546.3" r="0.9"/><circle cx="411.1" cy="541.6" r="0.8"/><circle cx="412.9" cy="543.1" r="0.7"/><circle cx="415.7" cy="542.2" r="1.0"/><circle cx="401.3" cy="541.7" r="0.5"/><circle cx="394.8" cy="547.5" r="0.5"/><circle cx="395.0" cy="541.1" r="0.7"/><circle cx="399.0" cy="543.0" r="0.7"/><circle cx="398.2" cy="542.4" r="0.7"/><circle cx="397.7" cy="544.3" r="1.0"/><circle cx="402.6" cy="544.6" r="0.7"/><circle cx="406.9" cy="511.8" r="1.1"/><circle cx="408.5" cy="513.5" r="1.1"/><circle cx="408.9" cy="510.9" r="0.5"/><circle cx="408.6" cy="511.5" r="0.9"/><circle cx="419.8" cy="539.2" r="1.1"/><circle cx="414.0" cy="536.0" r="0.6"/><circle cx="416.2" cy="539.3" r="1.0"/><circle cx="421.6" cy="541.1" r="0.8"/><circle cx="403.5" cy="494.9" r="0.9"/><circle cx="396.4" cy="496.8" r="0.7"/><circle cx="401.9" cy="495.0" r="0.7"/><circle cx="402.1" cy="494.0" r="0.7"/></g></g></g><rect x="370.3" y="486.3" width="53.5" height="70.69999999999999" fill="none" stroke="#2a2418" stroke-width="1"/>
<text x="245.4" y="491.8" font-family="Liberation Serif" font-weight="bold" font-size="7.4" fill="#141008" stroke="#141008" stroke-width="0.25" textLength="45" lengthAdjust="spacingAndGlyphs">CFU- GEMM</text>
<text x="375.2" y="493.4" font-family="Liberation Serif" font-weight="bold" font-size="7.4" fill="#141008" stroke="#141008" stroke-width="0.25" textLength="44.6" lengthAdjust="spacingAndGlyphs">CFU- GEMM</text>
<text x="243.5" y="553" font-family="Liberation Serif" font-weight="bold" font-size="6.3" fill="#1a1408">10x</text>
<text x="371.5" y="553.6" font-family="Liberation Serif" font-weight="bold" font-size="6.3" fill="#1a1408">10x</text>
<path d="M294.5,484.5 L301.5,488.5 L301.5,560.5 L294.5,556.5 Z" fill="#fff" stroke="#222" stroke-width="0.7"/>
<rect x="301.5" y="488.5" width="19.30000000000001" height="72.0" fill="#e2e0e6" stroke="#8a8a8a" stroke-width="0.6"/><line x1="301.5" y1="506.5" x2="320.8" y2="506.5" stroke="#9a9a9a" stroke-width="0.7"/><line x1="301.5" y1="524.5" x2="320.8" y2="524.5" stroke="#9a9a9a" stroke-width="0.7"/><line x1="301.5" y1="542.5" x2="320.8" y2="542.5" stroke="#9a9a9a" stroke-width="0.7"/><g filter="url(#eb2)"><ellipse cx="311.1" cy="497.5" rx="8.2" ry="7.5" fill="#3e1890"/><ellipse cx="311.9" cy="498.0" rx="4.9" ry="4.1" fill="#5a2cb0"/><ellipse cx="311.1" cy="515.5" rx="7.8" ry="7.4" fill="#3e1890"/><ellipse cx="311.1" cy="533.5" rx="7" ry="6" fill="#8a3ab8"/><ellipse cx="311.9" cy="534.0" rx="4.2" ry="3.3" fill="#a050c8"/><ellipse cx="309.1" cy="551.5" rx="3.2" ry="4.8" fill="#9a50c0"/></g><text x="302.3" y="559.5" font-family="Liberation Serif" font-weight="bold" font-size="5.5" fill="#111">60x</text>
<path d="M320.8,488.5 L325.4,492.4 L325.4,564.3 L320.8,560.5 Z" fill="#fff" stroke="#222" stroke-width="0.7"/>
<rect x="325.4" y="492.4" width="16.400000000000034" height="71.89999999999998" fill="#e2e0e6" stroke="#8a8a8a" stroke-width="0.6"/><line x1="325.4" y1="510.4" x2="341.8" y2="510.4" stroke="#9a9a9a" stroke-width="0.7"/><line x1="325.4" y1="528.3" x2="341.8" y2="528.3" stroke="#9a9a9a" stroke-width="0.7"/><line x1="325.4" y1="546.3" x2="341.8" y2="546.3" stroke="#9a9a9a" stroke-width="0.7"/><g filter="url(#eb2)"><ellipse cx="333.6" cy="500.4" rx="5.6" ry="5.2" fill="#e4c4ea"/><ellipse cx="332.6" cy="499.2" rx="3.7" ry="2.4" fill="#a844bc" transform="rotate(-30 332.6 499.2)"/><ellipse cx="334.6" cy="501.7" rx="3.4" ry="2.3" fill="#a844bc" transform="rotate(25 334.6 501.7)"/><ellipse cx="333.6" cy="519.4" rx="5.8" ry="5.8" fill="#e4c4ea"/><ellipse cx="332.6" cy="518.2" rx="3.8" ry="2.8" fill="#a844bc" transform="rotate(-30 332.6 518.2)"/><ellipse cx="334.6" cy="520.7" rx="3.6" ry="2.6" fill="#a844bc" transform="rotate(25 334.6 520.7)"/><ellipse cx="333.6" cy="537.3" rx="5.5" ry="6.2" fill="#e4c4ea"/><ellipse cx="332.6" cy="536.1" rx="3.6" ry="3.0" fill="#a844bc" transform="rotate(-30 332.6 536.1)"/><ellipse cx="334.6" cy="538.6" rx="3.4" ry="2.9" fill="#a844bc" transform="rotate(25 334.6 538.6)"/><ellipse cx="333.6" cy="555.3" rx="5.8" ry="5.8" fill="#e4c4ea"/><ellipse cx="332.6" cy="554.1" rx="3.8" ry="2.8" fill="#a844bc" transform="rotate(-30 332.6 554.1)"/><ellipse cx="334.6" cy="556.6" rx="3.6" ry="2.6" fill="#a844bc" transform="rotate(25 334.6 556.6)"/></g><text x="326.2" y="563.3" font-family="Liberation Serif" font-weight="bold" font-size="5.5" fill="#111">60x</text>
<path d="M341.8,492.4 L346.4,495.4 L346.4,567.5 L341.8,564.3 Z" fill="#fff" stroke="#222" stroke-width="0.7"/>
<rect x="346.4" y="495.4" width="15.200000000000045" height="72.10000000000002" fill="#e2e0e6" stroke="#8a8a8a" stroke-width="0.6"/><line x1="346.4" y1="513.4" x2="361.6" y2="513.4" stroke="#9a9a9a" stroke-width="0.7"/><line x1="346.4" y1="531.5" x2="361.6" y2="531.5" stroke="#9a9a9a" stroke-width="0.7"/><line x1="346.4" y1="549.5" x2="361.6" y2="549.5" stroke="#9a9a9a" stroke-width="0.7"/><g filter="url(#eb2)"><ellipse cx="354.0" cy="504.4" rx="5.2" ry="5.5" fill="#3e1890"/><ellipse cx="354.0" cy="522.4" rx="4" ry="6" fill="#3e1890"/><ellipse cx="354.0" cy="539.5" rx="4.8" ry="5.5" fill="#3e1890"/><ellipse cx="354.0" cy="558.5" rx="4.6" ry="4.6" fill="#8a3ab8"/></g><text x="347.2" y="566.5" font-family="Liberation Serif" font-weight="bold" font-size="5.5" fill="#111">60x</text>
<path d="M423.8,486.3 L430.8,490.5 L430.8,563 L423.8,557 Z" fill="#fff" stroke="#222" stroke-width="0.7"/>
<rect x="430.8" y="490.5" width="18.5" height="72.5" fill="#e2e0e6" stroke="#8a8a8a" stroke-width="0.6"/><line x1="430.8" y1="508.6" x2="449.3" y2="508.6" stroke="#9a9a9a" stroke-width="0.7"/><line x1="430.8" y1="526.8" x2="449.3" y2="526.8" stroke="#9a9a9a" stroke-width="0.7"/><line x1="430.8" y1="544.9" x2="449.3" y2="544.9" stroke="#9a9a9a" stroke-width="0.7"/><g filter="url(#eb2)"><ellipse cx="440.1" cy="499.6" rx="8" ry="7.6" fill="#3e1890"/><ellipse cx="440.9" cy="500.1" rx="4.8" ry="4.2" fill="#6034b0"/><ellipse cx="440.1" cy="517.7" rx="8" ry="7.4" fill="#6a2cb0"/><ellipse cx="440.9" cy="518.2" rx="4.8" ry="4.1" fill="#8a44c0"/><ellipse cx="440.1" cy="535.8" rx="7.6" ry="6.5" fill="#8a3ab8"/><ellipse cx="440.9" cy="536.3" rx="4.6" ry="3.6" fill="#a058c8"/><ellipse cx="440.1" cy="553.9" rx="8.5" ry="8" fill="#d8cce6"/></g><text x="431.6" y="562" font-family="Liberation Serif" font-weight="bold" font-size="5.5" fill="#111">60x</text>
<path d="M449.3,490.5 L455.2,494.6 L455.2,565.3 L449.3,563 Z" fill="#fff" stroke="#222" stroke-width="0.7"/>
<rect x="455.2" y="494.6" width="15.0" height="70.69999999999993" fill="#e2e0e6" stroke="#8a8a8a" stroke-width="0.6"/><line x1="455.2" y1="512.3" x2="470.2" y2="512.3" stroke="#9a9a9a" stroke-width="0.7"/><line x1="455.2" y1="530.0" x2="470.2" y2="530.0" stroke="#9a9a9a" stroke-width="0.7"/><line x1="455.2" y1="547.6" x2="470.2" y2="547.6" stroke="#9a9a9a" stroke-width="0.7"/><g filter="url(#eb2)"><ellipse cx="462.7" cy="503.4" rx="5.8" ry="5.5" fill="#e4c4ea"/><ellipse cx="461.7" cy="502.2" rx="3.8" ry="2.6" fill="#a844bc" transform="rotate(-30 461.7 502.2)"/><ellipse cx="463.7" cy="504.7" rx="3.6" ry="2.5" fill="#a844bc" transform="rotate(25 463.7 504.7)"/><ellipse cx="462.7" cy="521.1" rx="5.5" ry="5.8" fill="#e4c4ea"/><ellipse cx="461.7" cy="519.9" rx="3.6" ry="2.8" fill="#a844bc" transform="rotate(-30 461.7 519.9)"/><ellipse cx="463.7" cy="522.4" rx="3.4" ry="2.6" fill="#a844bc" transform="rotate(25 463.7 522.4)"/><ellipse cx="462.7" cy="538.8" rx="5.0" ry="6.2" fill="#e4c4ea"/><ellipse cx="461.7" cy="537.6" rx="3.2" ry="3.0" fill="#a844bc" transform="rotate(-30 461.7 537.6)"/><ellipse cx="463.7" cy="540.1" rx="3.0" ry="2.9" fill="#a844bc" transform="rotate(25 463.7 540.1)"/><ellipse cx="462.7" cy="556.5" rx="5.8" ry="5.8" fill="#e4c4ea"/><ellipse cx="461.7" cy="555.3" rx="3.8" ry="2.8" fill="#a844bc" transform="rotate(-30 461.7 555.3)"/><ellipse cx="463.7" cy="557.8" rx="3.6" ry="2.6" fill="#a844bc" transform="rotate(25 463.7 557.8)"/></g><text x="456.0" y="564.3" font-family="Liberation Serif" font-weight="bold" font-size="5.5" fill="#111">60x</text>
<path d="M470.2,494.6 L475.5,497.7 L475.5,568.3 L470.2,565.3 Z" fill="#fff" stroke="#222" stroke-width="0.7"/>
<rect x="475.5" y="497.7" width="13.600000000000023" height="70.59999999999997" fill="#e2e0e6" stroke="#8a8a8a" stroke-width="0.6"/><line x1="475.5" y1="515.4" x2="489.1" y2="515.4" stroke="#9a9a9a" stroke-width="0.7"/><line x1="475.5" y1="533.0" x2="489.1" y2="533.0" stroke="#9a9a9a" stroke-width="0.7"/><line x1="475.5" y1="550.6" x2="489.1" y2="550.6" stroke="#9a9a9a" stroke-width="0.7"/><g filter="url(#eb2)"><ellipse cx="482.3" cy="506.5" rx="5" ry="5.5" fill="#3e1890"/><ellipse cx="482.3" cy="524.2" rx="4.5" ry="5" fill="#3e1890"/><ellipse cx="482.3" cy="541.8" rx="4.8" ry="5.3" fill="#3e1890"/><ellipse cx="482.3" cy="559.5" rx="4.8" ry="4.8" fill="#8a3ab8"/></g><text x="476.3" y="567.3" font-family="Liberation Serif" font-weight="bold" font-size="5.5" fill="#111">60x</text>
<ellipse cx="440" cy="556" rx="3.5" ry="3.5" fill="#7a30b0" filter="url(#eb2)"/>
<path d="M0,0H520V579H0Z M1.5,1.4V576.8H518.4V1.4Z" fill="#000" fill-rule="evenodd"/>
</svg></body></html>
